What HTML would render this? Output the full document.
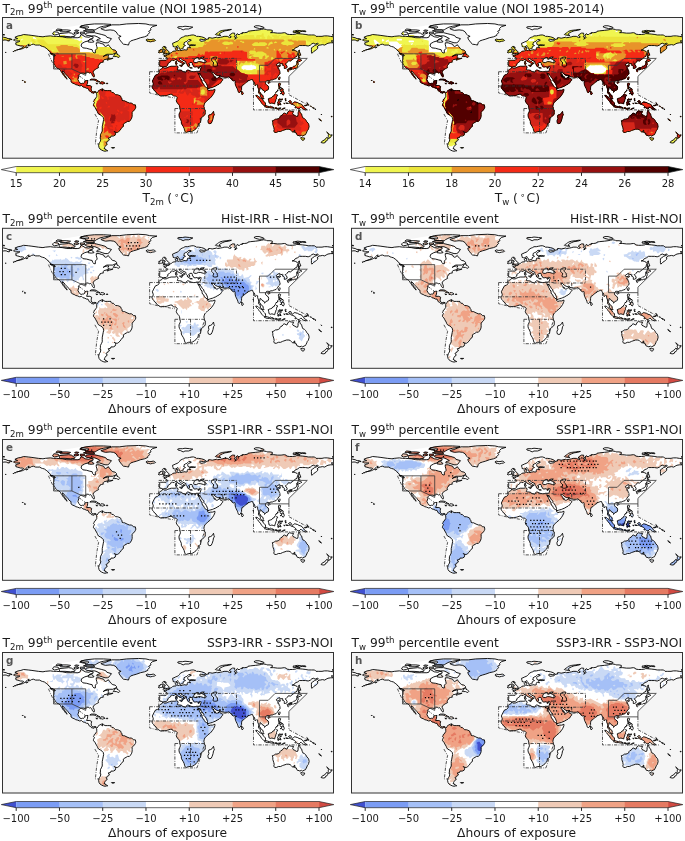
<!DOCTYPE html><html><head><meta charset="utf-8"><title>Irrigation heat exposure maps</title><style>html,body{margin:0;padding:0;background:#fff;width:685px;height:841px;overflow:hidden}svg{display:block}text{font-family:'DejaVu Sans','Liberation Sans',sans-serif;fill:#1a1a1a}</style></head><body><svg width="685" height="841" viewBox="0 0 685 841"><defs><clipPath id="land" clipPathUnits="userSpaceOnUse"><path clip-rule="evenodd" d="M-336 -131l3-2 6-1-6-3 7-3 6-1 6-2 10 1 8 1 14 2 10 1 5-1 11-1 7 1 7 0 12 1 10 2 12 0 12 0 4-1 3-6 4 2 5 3 8 1 4-2 5 1 0 3-7 2-4 4-7 2-7 4-1 5 4 4 8 1 7 2 5 1 1 4 3 3 3 0 0-4 0-2 4-4-1-4-1-4 0-4 6 0 6 2 4 1 1 3 3 2 3-1 3-3 2 3 4 4 1 2 3 2 5 1 3 3 0 2-2 1-6 3-8 0-5 0-4 2-4 3 4-2 5-1 3 0-1 3-1 1 2 2 4 1 3 0 2-1 0 1-7 2-5 2 0-2 3-2-3 1-3 1-4 1-2 2 0 2 1 1-1 0-4 1-3 1 0 2-2 1-1 2-1 2 1 3-4 2-3 2-4 3-1 3 2 4 1 4-1 3-1-1-2-2-1-2-1-3-2-2-3 1-2-2-4 0-2 1 1 2-2 0-3-1-4 0-3 0-3 3-2 2 1 2-1 4-1 3 2 4 2 3 3 2 3-1 3 0 2-2 0-3 4-1 3 0-1 3 0 3-1 2-1 3 3 0 4 0 4 2-1 4 0 4 2 3 2 1 4-1 3 1 1 1 1 1 2-3 1-2 2-1 4-2 3-1-1 3 1 1-1 1-1-2 4-1 3 2 5 0 4 0 4 0-1 1 3 3 3 0 3 3 2 2 4 0 3 1 4 2 1 3 2 3 0 3 3 1 2 0 6 3 5 2 5 0 4 4 4 0 1 5-1 3-2 3-3 3-2 2 0 5 0 4-1 4-3 5-2 2-4 0-3 2-4 2-2 2 0 5-3 2-2 3-2 3-3 3-3 2-3 0-4-2 3 3 0 2-1 3-4 2-5 0-1 3-5 1 2 3 1 1-3 1-1 3-4 2 3 4-3 2-2 3-1 2 1 2-2 0 2 2 3 1 3 2-2 0-4 1-4-1-4-2-3-2-2-3-1-5 1-4 1-2 2-3 1-5-2-1 1-3 0-5 2-4 2-4 0-5 0-5 1-5 1-5 1-5-1-5-2-2-4-3-4-2-2-3-1-3-3-5-2-4-3-3 0-3 1-2 1-2-2-2 1-2 1-3 2-1 1-2 2-3 0-3 0-3-2-2-1-2-2 1-1 2-2-1-3 0-2-3-3-1-1-2-2-4-3 0-4-2-4-1-3-3-4 1-5-2-4-1-3-2-3-1-4-3 0-2 0-3-2-1-3-3-2-3-2-2-2-2-2-2-2-3-4-3 1 4 2 2 1 2 2 3 2 2 1 3 2 2-1 0-3-3-1-1-1-3-3-2-1-2-2-3-2-3-1-2-3-3-2-1-2 0-1-2-3-3-1-2-1-2-2-3 1-3-1-2 1-4 0-2 0-2-1-3 3 1 1-2-3-2-2-1-4-1-2-2-2-3-3-2-1-2-3-2-4-3-4-1-3-1-3-2-4 0-5 0-5-2-4 1-3 2-4 1 2-4-3 1-3 3-1 2-4 2-4 2-5 1-5 1-3 1 4-1 5-2 4-2 3-3-3-1-4 0-3-1-4-1-3-1 1-2-2-1 3-2 4-1 3-2-1 0-3 0-4 0-2 0-2-1zM-146 -156l8-2 8-3 8-3 16 0 16-2 26-1 16 1 8 2 16 1-10 3-4 4 1 3-5 3 2 3-4 4 0 2-7 3-9 2-8 3-7 2-6 2-3 3-2 6-4-1-7-1-3-3-3-4-3-4-1-4 5-2-5-2-2-2-2-3-2-3-5-3-8-1-10 1-7-2zM-123 -134l-3 4-3 4-3 1-5 0-6-2-6-2-6 0 1-3 7-2-5-3-7-3-7 0-10-1-4-2 2-3 8-1 10 0 8 2 8 2 7 2 3 2 1 2zM-158 -153l-10 0-11 0 0-4-7-2-4-2 10-3 20-2 20 0 16 1-4 2-12 2-8 2-4 2-4 2zM-160 -149l-16 0-8-2 8-2 12 0 4 2zM-237 -142l3 3 10 0 12 1 9-1 1-2-4-2-4-3-6-1-10 1-10 1zM-251 -144l4 2 6-1 4-2-2-3-9-1-2 2zM-234 -149l12 0 8-1 2-2-8-1-10 0-6 1zM-194 -146l-7 2-4-2 3-2 7 0zM-181 -145l-9 1-1-4 9 0zM-196 -150l-7-1 2-2 7 1zM-174 -157l-10 0-8-2 4-3 13 1 3 2zM-230 -152l-14 0 4-3 9 1zM-161 -127l-6 1-7-1 2-4 5-1 4 2zM-119 -95l2-3 2-3 2-2 2 0 0 3 3 1 2 2 1 2-2 2-3-1-2-1-5 0zM-257 -102l5 3 5 2-1-2-3-2-4-1zM-170 -44l3-2 4 0 3 0 4 1 4 3 4 2-3 0-4 0 0-1-2-2-4-1-3 0-3 0zM-149 -37l3-3 4 0 3 1 2 2-3 1-3 1-2-1-3 0zM-157 -37l4 1-1 0-2 0zM-134 -37l3 0 0 1-3 0zM-312 -41l2 1-1 2-1-1zM-317 -43l2 0-1 1zM-11 -72l-2-1-2-1-3 0 0-3-1 0 1-3 0-4-1-2 3-1 7 0 5 0 2-2 0-3-2-2-5-2 0-1 3-1 3 1-1-2 2 0 2 0 3-1 0-2 3-1 2-1 2-2 3-1 4 0 1-2-2-2 0-2 1-1 4-1 0 2 1 0-2 2 0 2 2 1 3-1 3 1 4-1 5-1 2 1 3-1 0-3 1-2 2 0 4 1-1-2-1-1 0-2 5 0 4 0 4-1-2 0-5-1-7 1-3-2 0-2 0-2 2-2 5-2 1-1-3-1-3 0-2 2-2 2-3 1-3 2 0 2-1 2 3 1 1 1-2 1-3 2 0 3-1 1-3 0-1 1-2 0-1-2-1-2-2-2-1-2-1 1-3 2-3 0-3-1 0-2-1-3 0-2 3-1 4-2 3-1 3-2 2-2 2-3 4-2 3-1 3-2 5 0 5-1 5-1 4 0 5 2 1 1 4 0 7 1 6 2 3 2 0 1-5 1-7-1-1 2 1 2 4 1 2-1 4 0 1-2 4-2 3 0 0-3 4 0 4 1 10-2 2 1 6-1 5-1 3-1 7 0 4 2 1 1 3-1 1-1-4-2 0-2 3-2 3-2 5 0 0 3 1 2-2 3 3 1 0 2-2 2 4-2 1-2-1-1-1-2 0-2 3-3 1 2 4 0 2-2 4 0-1-2 6 0 6-1 1-2 6-1 10-1 8-1 5-1 5-1 6 1 1 1 7 0 5 1 0 3-4 2 7 0 8 1 8 0 7-1 4 1 1 2 6 1 7 0 7-1 2-1 12 1 8 1 5 1 7 0 7 0 3 3 6 0 7 0 5-1 7 0 6 1 7 1 0 8-3 1-2 0 3 2 1 2-5 0-6 1-4 2-3 2-5-1-5 1-3 0-1 2-3 2 2 1-1 3-2 2-3 2-3 2-4 4-1-3 0-5 0-4 3-2 4-3 5-2 3-2-2-1-5 2-3-2-4 1-3 3-5 2-6-1-6 0-7 0-4 3-5 2-3 4-4 1 4 0 3 1 4 2 2 2-1 2-1 4 0 2-4 2-4 4-3 2-4 3-3-1-2 1-2 3-2 2-2 1 2 2 2 3 0 3-4 2-2 0 0-3 0-2-1-1-2-1-1 0 1-3-1-1-4 1-2 1 0-1 1-2-2-1-3 2-3 2-1 1 3 2 0 1 4-2 3 1-3 2-2 1-2 2 3 1 1 4 2 2-1 1 1 3-1 2-2 2-2 3-2 3-2 2-3 1-3 1-2 1-3 0-3 1-1 2-1-2-2 0-2 0-2 2-1 2 0 2 1 2 2 2 3 2 1 4-1 4-2 1-3 1-3 4 0-2-1-2-3-1-1-2-2-1-1-2-2 0 0 3-1 3-1 3 3 1 0 3 2 0 1 2 3 2 0 4 2 3-2 0-3-1-1-2-2-2 0-3-1-2-1-1-2-2 0-2 0-3 0-3-2-5 0-4-2-1-2 2-2 0 0-3-1-4-2-1-1-2-1-3-3 0-2 1-2 1-3 0 0 2-4 2-2 2-3 3-2 1-2 1-1 5 0 4-1 2-2 3-2 2-2-2-1-3-1-3-1-2-2-4-1-2-1-5 0-4-1-2-1 1-2 0-4-3 2-1-2-1-3-1-2-3-4 1-6 0-4-1-4 0-1-3-3 0-2 1-2-1-4-2-3-3-1-1-3 0 0 2 1 1 2 2 1 2 0 2 2 1 0-2 1 2 0 1 2 1 3 0 3-3 2-1 0 2 1 2 3 1 3 2-2 2-2 3-1 2-2 1-2 2-4 2-3 2-5 2-2 1-4 1-3 1-3 1-1-2 0-3-1-3-2-4-2-3-3-3 0-3-3-3-2-3-2-3-1-2-1-2-1 3-1-1-2-3 0 1 1 2 2 3 1 3 2 3 0 2 3 2 0 3 1 4 2 1 2 4 1 2 2 1 3 3 2 1-1 2 3 2 4-1 4 0 3-1 2-1 0 3-1 3-2 4-2 3-3 4-3 3-4 3-3 3-2 2-2 2-1 3-1 4 1 3 0 4 2 1 0 5 0 4-2 3-4 3-2 2-3 2 1 4 0 4-2 2-3 1 0 3-1 3-2 2-2 3-4 3-3 2-3 1-3 0-3 0-5 2-2-1-1-1-1-3-1-4-2-4-2-3-2-4 0-4-2-5-2-3-1-4 0-4 2-4 1-3-1-5-1-6-1-2-2-2-3-4-1-3 1-3 1-4-2-2-1-1-3 0-2 0-2-2-1-2-4 0-3 1-3 1-3 1-4 0-3 0-4 1-3-1-5-4-2-1-1-3-3-2-2-3-2-2-1-2-1-2 2-3 1-4-1-3-1-3 2-4 2-4 3-5 4-1 3-3 1-2-1-3 3-3 3-1 2-3 0-1 1 0 2 2 5 0 2-1 2-1 3-1 4-1 4 0 4 0 4-1 2 1 1 0-1 1 1 2-1 2-1 2 2 1 3 0 5 1 1 2 4 1 3 1 2-1 0-2 3-2 3 1 4 2 5 1 4 0 3-1 3 0 4 0 1-2 1-3 1-3 0-1 0-1-1 0-2-1-2 2-2 0-4-1-2 1-3-1-1-1 0-2-2-1 1-1-2-1 1-1-1-1 0-1-2 0-2 0-1 1-1 0-1 2 2 1-1 0 2 2-2 0 0 3-1 0-2-1-1-2 1-1-2-1-1-1-1-2 0-3-2-1-2-1-3-1-2-2-1-1-2-1-2 0 0 2 2 2 2 2 3 1 2 2 3 2-3-1-1 2 1 1-1 1-2 1 1-2-1-2-1-1-2-1-2-1-4-2-1-1-1-2-2-1-3 1-2 2-3-1-2 0-2 1 0 2-2 1-2 2-3 2 1 2-1 0-1 2-2 2-5 0-1 0zM-11 -100l3-1 2 0 4-1 5 0-1-2 1-1-2-1-1-1-1-2-2-1-1-2-1 0 1-3-4 0 2-2-4 0-1 1-1 2 1 1 0 2 1 1 0 1 3-1 1 2 0 1-3 0 0 1 1 1-2 1 2 1 2 0-3 1-1 1zM-12 -104l0-3 0-1 1-1-1-1-3-1-2 1 0 2-3 0 0 1 1 2-2 1 2 1 3-1 2 0zM-45 -128l1-1-4-2 3-2 4 1 4 0 5-1 3 1 2 2-2 1-5 1-4 1-4-1zM22 -157l5 1 6 3 4-2 8 0 5-2 4-2-7-1-10-1-5 1-8 0-3 1zM103 -143l3 1 6 1 3 0-4-2 1-2 3-2 4-2 5-2 8-1 6-2-4 0-6 1-9 1-7 2-2 2-3 2-2 1zM191 -158l8 2 10-1-1-2-10-3-7 0-4 2zM272 -148l8 1 7 1-3-3-7-2 5-1 9 1 8 0 1 2-8-1-7 2-7-2-5-1zM357 -142l3-1 0 1zM-360 -142l0-1 4 0 1 1zM-360 -130l3-1 5 0 4 2 3 0-1-2 4-1 3 0-4-2-5 0-4-2-5-1-3-1zM262 -68l1-1 3-2 4 0 2-2 2-2 1 1 2-1 2-2 1-3 0-2 3-1 0 3 1 1-2 3 0 2-1 3-1 1-2 0 0 1-3 0-1 0-2 2-2-2-2 0-3 1zM259 -67l1 2 0 2 2 1 1-1 0-2 0-2-1-1-2 1zM265 -66l1 0 3-1 0-1-2-1-2 1zM280 -83l2-1 2-1 3 1 2-2 2-1-2-1-3-1-2-2-1 2 0 2-2 1-1 1zM284 -92l3-1-2-2 1-3 3 0-2-5-1-3 0-3-2 1 1 4-1 2 0 4 0 2 0 3zM240 -46l1-3 2-2 1 2-1 3-1 2zM217 -38l2-2 2 0 1 1-2 2-2 0zM240 -33l1-4 2 0 2 1-1 3-1 2 0 3 2 0 3 2 0 1-2-2-4 0-1-1 0-3zM244 -14l2-2 2-1 3-3 2 5-1 2-1 2-3-2-1-2zM244 -21l2 3 3-2 2-2-1-3-2 0-2 2-2-1zM234 -17l4-3 1-3 0 2-4 4zM241 -27l2 1-1 2-1-1zM191 -11l4 1 2 2 4 3 2 1 3 3 2 3 2 2 2 2 0 4 0 2-3 0-2-2-3-3-2-3-1-2-3-3-1-2-2-2-2-2-2-3zM210 14l2-2 3 0 2 1 4 1 2-1 2 1 4 1 0 2-4 0-4-1-5 0-3-1-2-1zM218 -3l1 4 1 5 3 1 3-1 3 1 3 1 1-4 1-2 1-4 1-1 0-3 1-3 2-2-3-1-2-2-2 1-1 3-3 1-2 3-3 1-3 1zM239 11l2 0 0-4 1 2 4 1-2-4-1-2 2-2 2 0-4 0-3-3 2-2 4 1 3-1 0 2-4 0-3 0-2 2 0 1-1 2-1 2 1 1zM255 -4l1 0 1 1-1 2 1 2-1 1-1-3zM256 6l3 0 3 1-3 0zM252 6l2 1 0 1-2-1zM262 3l2-2 3 0 1 1 0 3 2 2 3-2 3-2 2 1 4 1 3 2 4 1 3 2 1 2 2 1 1 3 3 2 3 2-3 1-4-1-3-2-3-3-2 2-2 2-3-1-3-2-2 1-1-2 2-1-3-3-5-2-3-1-1-1-2-1 2-1-2-1zM297 11l3 0 3-2 1 0-1 2-3 1-3 0zM302 5l2 2 2 2-1 1-2-3zM160 -16l0-4 2 2 2 3-1 2-2 1-1-2zM99 24l1 5 1 3-2 2-1 6-2 6-2 4-3 1-3-1-1-3 0-3 2-4-1-5 1-3 4-1 3-2 1-2zM227 44l1 5 0 4 2 6 1 5-1 3 2 3 4 0 4-2 5 0 4-2 3-1 6-2 5 0 3 1 2 2 3 3 1 1 1-3 3-2-1 3 0 2 1-2 1 3 2 0 1 3 1 2 4 1 2 1 3-2 1 1 2 1 3-2 3-1 1-2 2-4 1-3 2-2 1-3 1-4-1-5-1-2-3-3-1-2-2-3-2-2-4-2-1-3-1-3 0-2-3-2-1-3-2-4-1 3-1 3 0 4-1 4-3 0-3-2-4-2-1-2 1-2 1-3-1 0-3 0-4-1-1 0-3 2-2 5-2 0-3-2-2 0-2 2-2 3-2 0-2 2-1 3-3 2-3 1-3 0-3 2-2 1-1 1zM289 81l4 1 4 0 0 2-1 2-2 1-2 0-2-3-1-1zM345 69l2 1 2 2 2 2 1 1 2 1 3-1-1 3-2 1 0 1-2 2-2 1-1 0 1-2-1-2-1-1 1-2 0-2-2-3zM345 81l3 1 0 2-1 2-1 2-3 1-1 3-3 1-2 0-4-1 1-2 3-2 4-2 1-2 2-1zM328 40l3 2 3 3-1 0-4-3zM355 35l2 0 0 1-2 0zM333 30l1 1 0 1zM-123 103l6 0 1 0-2 1-4 0zM185 -25l1-2 0 4zM65 -70l1 1 3-2-3 0zM47 -71l2 0 4 1-2 0-3 0zM25 -76l2 0 4-1-1 4-2-1zM17 -78l-1-4 2 0 2 1-1 3zM17 -83l0-2 2-1 0 2-1 1zM229 16l2 1-1 1zM232 17l2-1 4 1 0 1-5 0zM240 17l3 0 3 0-5 1zM238 19l2 0 2 1-2 1zM247 20l2-1 2-2 4 0-3 1-3 2zM311 12l1 1 0 1-2-1zM314 16l4 1-1 1zM320 19l2 1-2 0zM-333 -107l2-1-3 0zM-337 -106l2 0-1-1zM-354 -104l2 0-1 0zM-308 -114l3-2 0 1-3 1-1-1zM56 -83l2 1 4 0 4-2 4 0 4 1 3 1 6-1 0-2-3-2-3-2-2-1-2-1 3-1 3-2-4 0-4 1-1 2 3 0-3 1-3 1-2-2 2-1-2-1-3 0-2 1-1 2-2 1-1 3 0 1z"/></clipPath><clipPath id="frame" clipPathUnits="userSpaceOnUse"><rect x="-360" y="-180" width="720" height="306"/></clipPath></defs><text x="2.6" y="12.7" font-size="12.3">T<tspan font-size="8.6" dy="2.6">2m</tspan><tspan dy="-2.6"> 99</tspan><tspan font-size="8.6" dy="-4.3">th</tspan><tspan dy="4.3"> percentile value (NOI 1985-2014)</tspan></text><g transform="translate(168.000 100.250) scale(0.459722)"><rect x="-360" y="-180" width="720" height="306.05" fill="#f5f5f5"/><path fill="#fff" d="M-11 -72l1-2 10-8 6-6 14-2 5-2 15 6 8 2 6 2 19 7 0 9-5 5-28 2-20-5-20-6-11-1zM53 -80l7 0 0-3-7 0zM54 -81l30 0 0-14-30 0zM92 -73l18 0 0-22-18 0zM115 -86l9 0 0-7-9 0zM64 -61l7 0 16 36-2 1-11-12-10-20zM95 -61l5-1 14 7-1 7-11 1-7-9zM18 -107l43 0 0-26-21 0-12 17-7 0-3 4zM64 -127l26 0 0-7-26 0zM-196 -62l34 0 1 12-5 5-7 2-2 5-9 4-12 0zM-192 -132l40 0 0 30-40 0zM-172 -126l28 0 0-16-28 0zM-252 -138l60 5 28-5 12-7-8-7 16-5 20-7-8-3-52 2-40 7-28 3zM-260 -101l15 33 11 0-12-28zM199 -76l19 0 15-15 70 0-40 39 0 12-64 0zM186 -40l77 0 0 28 57 31 0 2-134 0zM-40 -62l0 46 20 5 35 6 1-4-48-11-4-20 8-16 8-6zM15 18l65 0-17 53-48 0zM-20 -62l0-29 100 0 0 29zM80 -91l69 0 0 30-69 0zM-260 -101l15 33 36 0 30 14 0-47zM-159 30l8 14-4 22-3 29 10 0 2-25 5-34z"/><g clip-path="url(#land)"><rect x="-360" y="-180" width="720" height="320" fill="#ffffff"/><path fill-rule="evenodd" fill="#f0f550" d="M359 128l-718 0-1-1 0-306 1-1 84 0 1 1 0 26 2 2 0 4 5 5 1-1 0-24-2-2 1-3 19 19 3 11 20 0 4 4 4 0 2 2 4 0 2 2 4 0 2 2 4 0 8 4 2-4 3 5-6 4 0 18 1 1 30 0 1-9 3-3 38 0 6-6 4 2 14 14 12 6 8 8 2 0 10 8 3-5 0-4-2-2 0-12 2-2 0-8 2-2 0-4 4-8 15-11 8 0 9-5-2-2 0-12 2-4 15-15 7 1 0 18-2 2 0 12 7 1 2 2 18 0 8-6 2 0 2 4 2-2 8 0 2-2 10 0 2-2 6 0 8-6 2 0 7-7 2-4 0-8 3-3 16 0 3 5 0 4 2 2 2 10 5 5 24 0 11-11 0-4 2-2 0-6 3-3 6 0 3 7 4 4 0 2 11 13 20 0 2 2 2-2 24 0 7-7 2-4 0-4 2-2 0-4 3-5 14 0 1 5 2 2 0 6 13 13 20 0 2-2 6 2 17-17 2-6 3-3 36 0 1 1 0 306zM-97 -168l-4-4-1 3-3 1-5-5 0-4-2-2 1-1 14 0 1 1 0 10zM-37 -168l-54 0-1-1 0-10 1-1 38 0 1 5 5 5 2 0 3-7 3-3 6 0 1 3zM-304 -145l0-16-1-1-1 1 0 16 1 1zM-153 -144l-1-3 3-1 1 1zM-187 -134l-5-1 0-2 3-3 3 3zM-286 -133l-5-5-3 1 1 3 4 0 2 2zM-115 -128l-5-5 3-3 3 1zM-330 -129l0-4-1-1-3 5 1 1zM-318 -131l1-1 3-1-3-1-3 3 1 1zM-179 -120l-3-1 1-7 3 5zM-296 -123l-1-3-3 1 3 3zM184 -67l7-1 1-5-5-3-4 0-2-2-2 2-14 0-5 3 0 4 5 3 2-2 4 2 12 0z"/><path fill-rule="evenodd" fill="#ebe43a" d="M107 -150l-21-21 0-6 3-3 7 1 12 24zM329 -142l-3-1 0-16 2-2 1-7 1 1 0 24zM337 128l-366 0-1-7-2-2 0-6-3-5-12-6-4 0-2-2-4 0-2-2-4 0-8-4-6 0-8-4-32 0-6 4-4 0-6 6-8 0-1-3 2-4-9-1-3 3 0 4-3 3-52 26-152 0-1-1 0-268 5-1 4 4 6 0 3-7 1-1 1 1 0 16 2 4-4 6 3 3 2 0 4-4 54 0 1-3-6-4 0-4 1-1 12 0 10 10 62 0 4 4 3 1 0 12 1 1 30 0 1-5 1-1 2 2 1-1 0-2-4-2 3-3 2 0 4 6 3-1-2-4 1-1 18 0 1 1-4 2 3 1 2-2 10-2 6-6 4 2 14 14 12 6 8 8 2 0 10 8 3-5 0-4-2-2 0-12 2-2 0-8 2-2 0-4 4-8 7-5 2 2 6-4 4 2 1-5 5-3 3 1-2 4 1 5 2 0 12-12 4 2 4 0 3 5 0 4 10 10 0 8 7 1 2 2 7-1-2-2 0-6-2-2 1-3 20 0 2 4 2-4 18 0 2 2 8 0 4 2 3-3 1-5 10 0 1-1-3-3-6 2-3-3 0-10 2-2 1-7 3 1 2 10 4 4 1 3 4-4 4 4 2-2 46 0 1 3-3 3-4 0-1 1 1 1 6 0 4-8 12 0 2-2 20 0 1 5 3 1 2-6 10 0 2-4 3 1 0 6 4 2-2 2 5 3 1-7 3-3 4 4 2 0 2 4 3-1 0-2-4-2 1-3 10 0 2 2 2-2 4 0 1 1-4 2 1 5 4-6 18 0 1 1-2 2 1 3 2 0 4-6 4 0 2 2 2-2 4 0 2 2 2-2 26 0 2 2 4-2 16 0 2 2 2-2 2 2 2-2 6 0 1 1-2 2 1 3 2-2 4 0 1-3 3-1 1 1 0 12-1 1-1-1-1-5-3 7-3 3-5 1 11 23 1-7-4-8 0-8 1-1 5 1 0 24-2 2 2 2 0 30-1 1-1-3-4-4-14-30-12-12 5-1 2 2 3-3 0-4 2-4 4-2-3-1-4 2-3-3 2-2-1-1-4 0-2 4-4-2-4 0-2 2-6 0-6-4-4 0-2-4-5 1 4 2 0 6 4 2-2 2 0 8-2 2 0 4 1 1 4-2 5 1-1 3-9 1 2 2 0 4 3 1 6-6 6 0 17 17 0 2 6 6 0 2 6 6 0 2 14 16 0 124-1 1-18 0-1-1 4-2 0-4-9-9-6 2-3 3-2 4 0 4-4 4 0 2 10 10 0 6-20 20 1 3 21-21 1-3 5 3 0 30zM133 -150l-3-1 1-3 3 1zM291 -148l-3-1 0-2 3-3 1 1zM177 -144l-1-3 2-4 3-1 1 3zM-315 -144l-3-1 1-5 3 3zM104 -133l2-2-1-3-2 2-5 1 1 3zM140 -133l-1-5-7 1 3 1 4 4zM204 -135l-1-3-3 1 1 3zM-115 -128l-5-5 3-3 3 1zM55 -134l-4 0-1-1 5-1 1 1zM132 -133l-1-1-5 1 1 1zM258 -133l-1-1-5 1 1 1zM316 -131l-1-3-2 0-3 3 1 1zM336 -131l-1-3-2 2-5 1 1 1zM-291 -124l-7-7 1-1 6 0 1 3 4 2zM350 -129l-1-3-3 1 1 3zM44 -119l2-2-1-1-3 1 0 2 1 1zM-250 -107l1-1 3-1-5-1-1 3 1 1zM-120 -107l-1-3-3 1 1 3zM20 -93l-1-3-7 3 1 1zM-74 -63l-31-31-1 1 0 2 29 29zM192 -65l6-2 0-6-7-5-8 0-4-4-2 4-12 0-6 4-2-4-1 1 2 4 0 4 7 5 2-2 2 2 12 0 8-4 2 4zM184 -57l-5-3-1 1 1 3zM-154 17l-2-4 0-10 4-4-2-4 2-2-1-7-3 1 0 6-2 2 0 6-2 2 0 8 5 7zM-140 69l0-8 2-2 0-6 2-2 0-4-2-2 0-8-11-13-1 1 4 6 0 4 6 10 0 14-2 2 0 8 1 1zM-121 112l-3-1-2-4 1-3 5 1zM-141 114l-1-3 3-1 1 1z"/><path fill-rule="evenodd" fill="#e8942a" d="M253 128l-282 0-1-7-2-2 0-6-3-5-12-6-4 0-2-2-4 0-2-2-4 0-8-4-6 0-8-4-30 0-1-3-5-5-2 0-4 4-2-2-10 0-4 2-2-2-4 0-2-4-32 0-2-2-8 0-2-2-6 0-2-2-8 0-2-2-8 0-2-2-8 0-2-2-8 0-2-2-6 0-2 2-12 0-50 60-46 0-1-1 0-242 3-1 3-3 0-2-6-8 3-1 2-4 4 12 3-3 0-4-2-2 1-1 10 4 1 3-4 6 3 3 2 0 4-4 30 0 2 2 2-2 18 0 4 8 3-3-4-4 3-1 4 4 6 2 4 4 6 2 4 4 12 0 2 2 1-1-8-14 9-1 2-2 14 0 2 2 10 0 2 2 6 0 4 2 3 3 1 7 20 0 2 2 6 0 2 2 10 0 2 2 12 0 2 2 10 0 1 1-1 7-10 0-1 1 12 2 4 8 2 14 5 3 6 0 6 4 10 2 2 2 8 0 3-7 4-4-30-30 0-6 6-6-1-1-4 2-16 0-1-1 0-10 7-7 4 2 14 14 12 6 8 8 2 0 10 8 3-5 0-4-2-2 0-12 2-2 0-8 2-2 0-4 5-5 6 0 4 4 1-1-2-2 1-3 4 0 2 2 4-4 4 4 4 0 5 5-6 6 7 7 2 0 1-5-4-4 0-2 10-12 0-2 4-4 1-3 3 3 0 4 10 10 0 8 7 1 2 2 6 0 2 2 16 0 2-2 22 0 2-2 8 0 4-6 2 2 3-3-1-1-2 2-3-3 3-3 6 2 8-6 48 0 2 4 3-1-2-2 1-1 104 0 3 3-7 3-1 3 5 3 6 0 2 2 4-2 6 0 5-3 0-2-5-3-6 0-3-3 1-1 8 0 2 2 8 0 2 2 2-2 16 0 1 1 0 28 2 2 0 4 3 1 6-6 6 0 17 17 0 2 6 6 0 2 6 6 0 2 14 16 0 120-1 1-3-1 0-8 2-2-1-5-3 1-6 12 2 2-1 5-3-7-3-1-8-8-6 2-5 7 0 4-8 10 0 4-2 2 0 6-2 2-1 7-14-14-6 0zM114 -129l-1-1-5 1 1 1zM166 -125l-1-3-4 0-2-2-3 3 5 1 2 2zM134 -121l7-1 1-3-5-3-4 2-4-2-6 0-5 3 0 2 5 3 10 0zM220 -119l3-3 5-1 0-2-3-3-5 3-2 4 0 2 1 1zM238 -125l-3-3-2 0-3 3 1 1zM212 -119l3-1 1-3-5-3-12 0-2 2-2-2-6 0-7 5 3 3 26 0zM0 -103l4-2 2-6-1-1-4 4-1-3 2-2-5-1-4-6-5 5 0 2 3 3 4-2 3 3 0 6 1 1zM130 -113l-1-3-3 1 1 3zM220 -113l-3-3-3 1 1 3zM298 -109l0-6-3-1-1 5 3 3zM190 -111l-1-3-3 3 1 1zM274 -111l-1-3-3 1 3 3zM234 -109l-3-3-1 1 1 3zM246 -109l-1-3-2 0-3 3 1 1zM260 -107l-3-3-1 1 1 3zM216 -91l0-2 3-1 1-3-3-1-2 2-1-5-9-5-10 0-2 2-4-4-10 0-3 3 2 4-2 2 1 1 2-2 9 1-12 4 0 2 5 3 1-1-2-2 3-3 4 2 10 0 2 4 6 0 1-5 5-3 1 5-2 2 1 1zM-6 -103l-3-3-1 1 3 3zM20 -93l-1-3-7 1 1 3zM228 -89l2-2-3-3-2 0-1 5 1 1zM104 -79l2-2 0-6-7-1-1 7 3 3zM194 -57l0-8 7-1 2-6 3 3-2 2 3 1 1-5-2-2 4-2-1-1-4 2-10-6-4 0-1-1 2-2-3-3-5 1 4 2-1 1-4 0-2-2-4 2-4 0-2-4-6 6-6-2-4 6-1-5 2-4-1-1-5 1 2 4 0 6-4 4 0 2 11 9 4 2 4 0 2 2 24 0zM-200 -41l-3-3-1 1 1 3zM78 -13l2-2 0-6-3-3-2 0-3 3 0 4-2 2 5 3zM-154 17l-2-4 0-6 2-2-2-2 4-4 0-16-1-1-3 5-2 14-4 4 2 2-2 2 4 4-2 4 1 1 2-2 2 2zM58 5l2-4-3-3-1 1 2 2-2 4 1 1zM284 13l0-4-3-3-1 5 3 3zM278 13l-1-3-5 1 1 3zM-140 69l0-8 2-2 0-6 2-2 0-4-2-2 0-8-11-13-1 1 4 6 0 4 6 10 0 8-1 1-2-2-1 1 0 2 4 2-2 4 0 8 1 1zM298 87l-1-7-9 1 1 7zM-133 100l-7-1 0-10 1-1 7 1 0 10z"/><path fill-rule="evenodd" fill="#f42a16" d="M153 -114l-3-1 1-3 3 1zM253 128l-156 0-1-3-4-4 0-2-4-4 0-2-4-4 0-2-4-4 0-2-4-4 0-2-4-4 0-2-4-4 0-2-4-4-4-8 0-6-6-4 3-5 4 4 3-1 0-6-3-3-2 0-4 6-6 0-2 2-12 0-4 6-6 2-1 1 1 1 8 0 1 3-57 57-6 0-1-7-2-2 0-6-3-5-12-6-4 0-2-2-4 0-2-2-4 0-2-2-4 0-2-2-6 0-2-2-4 0-4-2-11-11 0-2-8-8-1-3-10 10-4 0-4-4-4 0-2-6-8 6-1-1 0-10 2-2 0-6 2-2 0-4-2-2 0-8-11-13-1 1 6 12 0 22 2 2-1 9-4 0-10-6-6 0-2-2-6 0-2-2-6 0-2-2-8 0-2-2-4 0-2 2-14 0-2 2-10 0-2 2-6 0-2 2-6 0-2 2-8 0-2 2-12 0-50 60-46 0-1-1 0-230 3-1 2 2 6 0 3-3 0-10 1-1 2 0 9 9-8 6 0 20 2 2 1 9 4-2 4 0 2-2 4 0 2-2 6 0 2-2 10 0 2 2 12 0 16-8 15-15 0-6 3-3 5 5-5 1-1 1 1 3 4-2 10 0 1-1-2-2 5-1 2 4 36 0 1 1-2 4 3 5 3-1-2-4 1-3 10 0 2 2 6 0 2 2 6 0 2 2 8 0 2 2 8 0 2 2 4-2 2 2 6 0 2 2 10 0 5 9 0 6 2 2 1 7 4 2 6 0 6 4 4 0 8 4 8 0 3-7 4-4-30-30 0-6 7-7 4 0 4 2 14 12 2 0 10 8 1-3 3-3 2 0 16-16 16 0 4 6 10 0 1 5 5 1 2 2 4 0 2-2 2 2 14 0 2-2 12 0 2 2 2-2 6 0 2-2 18 0 4-6 4 4 4-2 4 2 2-8 6 0 2 2 2-2 48 0 2-2 22 0 2 2 7 1 0 12 3 3 14 0 1 1-1 3-40 0-1 1 0 16 11 9 4 2 4 0 2 2 40 0 1-1 0-26 7-1 2-2 4 0 8-4 4 0 4 4 1-1-4-4 0-16 1-1 2 0 3 3 0 2 4 4 0 4 4 2-8 2 0 4 3 3 8-8 4 0 2 2 3-3-2-2 2-4-4-4 1-1 2 0 4 4 4 0 1-1-2-2 1-1 6 0 1 5 5 5 7-1-2-6 3-3 10 0 3 5 1 5 2 0 6-6 6 0 17 17 0 2 6 6 0 2 6 6 0 2 14 16 0 104-6 2-5 11-6 0-8-8-6 2-5 7 0 4-8 10 0 4-2 2 0 6-2 2-1 7-14-14-6 0zM57 -108l-3-1 1-3 3 3zM-111 -104l-3-1 1-3 3 1zM247 -100l-3-5 7-1 2-2 1 3-3 1zM-319 -84l-11-21 1-1 4 0 5 9 0 4 2 2zM7 -102l-3-3 1-1 3 1zM21 -100l-4 0-1-3 3-1 3 3zM116 -101l-1-3-3 1 1 3zM7 -94l-1-5 3-1 1 3zM272 -95l-1-3-3 1 3 3zM-226 -95l-1-1-5 1 1 1zM108 -75l0-20-1-1-14 0-1 1 0 12-12 2 1 3 10 0 2 4 14 0zM-208 -87l-1-7-7 1 1 7zM103 -88l-6 0-1-5 7-1 3 3zM282 -71l2-2 0-6-6-2 0-6 2-2-7-1-2-2-1 5 6 8 0 6 3 3zM292 -89l2-2-1-1-5 1 3 3zM262 -85l2-2-1-1-5 3 1 1zM-220 -79l-1-7-7 1 1 7zM-180 -83l2-2-1-1-7 1 5 3zM74 -77l2-4-1-1-4 2-2-4-4 0-1 1 2 2-1 1-7 1 1 3 14 0zM254 -81l-3-3-1 1 3 3zM322 -59l-1-3-2 0-6-6-2 0-10-8-8-4-7 1 3 1 8 8 24 12zM-172 -67l-1-3-2 0-3 3 1 1zM294 -33l18-6-29-29-4 2-4 0-1 5 4 6 0 6 2 2 0 4 4 8 5 3zM256 -55l5-5 3-1-5-3-1 3-4 4 0 2 1 1zM272 -57l-2-4-3-3-1 3 5 5zM-202 -55l-1-3-3 1 3 3zM-194 -41l0-2-4-4-1-3-4 2-2-4-3 1 0 2 4 2-3 3-2-2-1 1 0 2 3 3 12 0zM130 -27l0-6-3-5-9 1 11 11zM86 -11l-2-4 2-2-2-4 2-4 0-4-1-1-14 0-1 1 0 18 1 1 14 0zM-156 19l2-2-2-4 0-6 2-4 6-6 0-8-2-2-1-9-9 1 0 4 2 2 0 10-4 8 0 6 2 2 0 6 3 3zM180 -15l6-6-1-1-2 0-6 6-4-4-2 0-5 5 1 1 12 0zM266 -21l-1-1-10 0-1 1 1 1 10 0zM198 -11l2-2-3-3-3 5 1 1zM230 -5l-1-3-3 3 1 1zM78 9l-1-7-2 4-8-6-6 0-1-1 2-4-1-1-5 1 0 12 1 1 4-6 3 3-2 4 1 1 14 0zM72 -5l-1-1-7 1 1 1zM270 3l2-2-1-5-3 3 0 4 1 1zM260 1l-3-3-1 1 3 3zM272 15l1-1 18 0 1-7-1-1-18 0-1 5-2 2 0 2 1 1zM192 21l12-10-1-3-13 13 1 1zM232 13l-1-3-3 1 3 3zM262 17l-1-3-3 3 1 1zM96 43l0-10-3-1-1 9-2 2 1 1zM232 57l2-2-1-1-3 3 1 1zM45 72l-2 0-2-4-5-1 5-1 2-6 4 2 2-4 5 5-3 1-1 5zM300 77l0-4 4-6-1-1-4 2-6 0-3 3 0 4-2 2 1 1 4-2 4 2zM-145 80l-2 0-3-3 3-1 3 3zM-131 82l-2 0-5-5 5-1 4 2 1 1zM298 87l-1-7-9 1 1 7z"/><path fill-rule="evenodd" fill="#d5261a" d="M161 -104l-3-1 1-3 3 3zM123 -100l-1-1 1-5 1 1zM69 -90l-3-1 1-3 5 1zM79 4l-1-3 2-2 0-4-7-1-1-3 1-1 10 0 2 4 1-1 0-16 2-2-3-5-2 0-9-7 0-2-4-4 0-4-2-2-1-5-1 7 2 2-2 2 10 12-5 1-2 2-4 0-2 2-22 0-1 1 7 1 4 6 3-1-2-4 1-1 10 0 2 2 4 0 1 3-3 1-1 3 4 4 0 2-3 3-6 0-2-4-4 0-4-2-2-4-2 0-4 6-3-3-3-7-4 6-6 0-5-3 4-4-1-3-2 0-3 3-1 5-12 0-2-2-26 0-2-2-8 0-4 2-1-1 2-4-2-2 0-22-7-7-2 0-4-4-2 0-4-4-8-4-5-5 0-2 4-4 1-3 6 4 4 0 8 4 6 0 2 2 16 0 3 3 0 2-3 3-4 0-1 1 1 3 8 0 6-10 4 2 6 0 2 4 4 0 2-2 4 2 4-6 4 4 1-1-2-4 1-5 8 0 2 2 6 0 2 2 4 0 2 2 6 0 8 4 8 0 6-12 20 0 2 2 14 0 2-18 30 0 2-2 4 2 14 0 1 1-1 1-8 0-3 5 0 4-3 1-2 4-2-2-6 0-2 2-9 1 1 1 16 0 4 2 2 4 2 0 10 8 15 5 0 4 4 2 0 4-1 1-4-2-1 1 2 2-4 2 2 2-4 6 6 6-2 4-9 1-4 6-4-2-12 0-1-1 6-6-2-2 0-8 4-2-5-1-10-6-6 6-3-5 0-4-5-1-2 2-4 0-2 4-4-2-19 19 0 22-5 5-4 0zM-195 -58l-4 0-4-2-5-5 0-2 4-4-1-1-2 2-1-1 0-18 1-1 14 0 3 3 0 4 4 6 0 4-2 2 0 6-2 4zM-3 -68l-4 0-2-4-10 0-1-1 0-14 1-1 4-2 2 2 8 0 2 2 9 1 0 6-4 2 0 6zM223 -44l-1-5 4-4-2-2 0-6-1-1-2 2-2-2-3 3 4 2-3 3-2-2-4 2-1-3 4-4 1-3 9-1 0-8 2-2-3-3-1 7-5 1-1-3-6-6 5-3 4 2 4-4 2 0 2 4 4 0 2-4 10 0 1 1 0 4-2 2 2 2-1 3-4 2-6-4-5 3 5 1 2 2 6 0 4 4 4-2 3 5-5 1-2 4-8 0-1-3-3-1-1 3-4 4 0 4 2 2-5 1zM15 -72l-3-1 0-4 3-3 1 1-2 4 2 2zM-265 -34l-3-5 0-4 24-24 1-3 2 2 1-1-2-4 3-5 6 0 4 6 8 0 1 5-4 2 9 1 4 4 3 1 0 2-5 5-8 0-6-6-3-1-2-4 4-2-5-3-4 0-3 3 0 4-2 4zM-317 -42l-1-5-22-22 1-1 4-2 4 0 2-2 4 0 2-2 7 1 0 32zM7 -72l-3-3 1-1 5 1zM122 -75l-1-1-5 1 1 1zM211 -62l-1-1 1-9 3 3 0 4zM100 -67l-1-3-3 1 1 3zM-2 -61l-5-1-2-2-1 1 1 3zM-157 -60l-4 0-1-1 5-1 1 1zM244 -59l-3-3-1 1 3 3zM-197 -46l-1-1 1-9 5 5-3 1zM-181 -42l-1-3-4-4 0-2-4-4 1-1 4 0 1 5 4 2zM-209 -48l-1-1 1-5 1 1zM233 -50l-1-3 3-1 1 1zM10 -45l2-2-1-1-3 1 0 2 1 1zM237 -40l-1-1 1-5 3 3zM231 -36l-2 0-3-3 1-3 5 5zM203 -28l-6 0-3-3 0-6 3-3 6 0 3 3 0 6zM211 -28l-3-5 3-3 1 1zM-117 76l-4-6-6 0-1-5-4-4 0-4-6-2 2-4 0-4-2-2 0-8-11-13-1 1 4 6 0 4-6 6 3 1 3-3 0-2 1-1 1 1 0 16-5 1-6-4-6 0-2-2-4 2-3-1 16-16-2-6-6-4 3-5 2 2 3-3-2-4 0-4 2-2 0-4 6-6 0-10-2-2-1-7-9 1 0 4 2 2 0 6-2 2 2 2-1 1-6 0-3-3 4-4 0-10 2-2-2-2 5-1 2-2 6 0 8 4 2-2 4 0 1 1 0 12-2 2 6 4 1 7 3-3-2-2 1-3 14 0 2-4 2 4 10 0 26-26 1 3-10 16 0 16-5 3-4-2-1 7 2 2-6 4 5 1 2-4 2 2 3-3 0-2 1-1 1 1 0 12-1 1-2-2-1 1 0 2 4 2 0 22-5 1-1-3-5-3-2 2-6 0-1 3-3 1-4-2-2-4-3 7-5 1-3 3 4 2 0 4-1 1-2-2-5 1 3 3 4 0 3 3-2 2 1 1 3-1 1-9 2 0 1 5 4 2-6 2 0 6zM187 -24l-1-3 3-1 1 1zM-73 6l-6-2-1-5 10-20 3-3 1 3 4 4 0 2zM30 -19l4-2-1-3-2 0-3 3 0 2 1 1zM21 -10l-1-3 3-1 1 1zM-35 18l-5-7 0-4 16-16 0-2 3-1 3 3-6 6-8 18zM-140 -3l2-2-3-1-4-4-1 3 2 4 1 1zM17 -2l-3-1 1-3 3 1zM-161 2l-3-1 3-3 1 1zM-163 10l-1-1 1-5 1 1zM-132 7l-1-3-3 1 3 3zM-89 10l-3-3 1-1 5 1zM55 10l-3-1 1-3 3 3zM-161 16l-1-1 1-5 1 1zM-126 15l-1-3-2 0-3 3 1 1zM91 16l-6 0-5-3 1-1 12 0 1 1zM143 30l-40 0-1-3 5-1 26-14 11 15zM-146 19l2-2-1-3-2 0-3 3 1 3zM73 18l-2 0-3-3 5-1 1 1zM241 18l-4 0-1-1 5-1 1 1zM-152 25l0-4-1-1-3 3 3 3zM-106 25l0-2-3-3-3 1 5 5zM-100 29l2-4-5-1-1 3 3 3zM49 56l-20 0-1-1 0-6-2-2 1-1 4 0 2 4 3-1-5-5-5-1 0-6-2-2 0-6 2-2-2-2 1-1 28 0 1 1 0 8-1 1-4-2-3 3 8 2 0 16zM-110 31l2-2-1-1-3 1 0 2 1 1zM287 68l-4-2-8 0-2-2-18 0-2-2-12 0-5-5 2-4-3-3-2 2-5-5 0-8-6-6 0-2 1-1 18 0 4-2 2 2 10 0 2 2 2-2 8 0 2-2 6 0 2 2 4-2 3 3 0 4 2 2-2 6 3 1 2 4 2-4 1 5 2 2-3 1-4 4-2-2-1 1 0 2 4 2 0 4zM40 37l4-2-1-3-2 0-2 4-5 1 1 1zM-126 41l0-6-1-1-1 5-2 2 1 1zM161 64l-2-2-4 0-2-2-4 0-2-2-4 0-2-2-4 0-2-2-4 0-2-2-4 0-2-2-4 0-2-2-10-2-5-5 3-3 14 0 2 2 8 0 2 2 8 0 2 2 8 0 2 2 4 0 7 7 0 10zM-124 47l-1-1-5 1 1 1zM81 52l-1-5 3-1 1 3zM-97 54l-4 0-1-1 5-1 1 1zM-111 58l-3-3 1-1 3 1zM239 68l-3-3 1-3 3 3zM285 78l-1-3 3-3 1 3zM253 124l-1-5 2-4 29-29 4 0 1 3z"/><path fill-rule="evenodd" fill="#961010" d="M127 -78l-14 0-5-3 0-6 5-3 14 0 4 2 3 5zM137 -82l-3-3 1-3 9 1-3 1zM-197 -70l-4 0-1-3-4-2 3-5 7 1 2 4zM39 -24l-4 0-2-2-2 2-48 0-2-6-4 6-12 0-1-1 0-22-7-7-2 0-4-4-2 0-4-4-8-4-5-5 0-2 4-4 1-3 6 4 4 0 2 2 10 2 14 14 10 0 2-2 6 0 2 2 6-4 12 0 2-2 6 0 2-10 14 2 2 2 4 0 2 2 6 0 8 4 8 0 1 1-1 1-10 0-2-2-12 0-1 1 0 22-6 2 3 5 5-5 1-5 22 0 11 13-5 1-2 2-4 0-2 2-22 0zM89 -24l-3-3 0-2-3-1-5-5 3-1 2 2 4 0 3-3 0-6-3-3-6 0-3 3-1 7-7-7 0-4-2-2 0-16 2-2-2-4 3-5 20 0 2 2 14 0 2-2 6 0 2 2 24 0 6 6 2 0 10 8 15 5 0 4-2 2 0 4 2 2-9 5-8 0-2 2-2-2-8 0-10-6-6 6-3-5 0-4-5-1-2 2-10 2-12 12-2 0-1 3zM104 -67l-1-3-4-2-3 1 1 5zM26 -67l-1-3-3 1 1 3zM-225 -60l-3-1 1-7 3 1zM45 -58l-3-1 3-3 1 1zM55 -46l-6 0-3-3 0-2 3-3 6 0 2 2 2-4 1 5zM10 -43l5-1 1-3-5-1-2-2-3 5 3 3zM28 -45l2-2-1-1-4-2-5 1 1 5 4-2 2 2zM162 -45l-5-1-2-2-1 1 1 3zM6 -37l2-2-1-1-4 0-2-2-1 1 0 2 3 3zM157 -26l-2 0-3-3 1-3 7 1 0 2zM-117 50l-6 0-1-3 2-2-1-1-2 2-1-1 0-6 2-2 1-7 4 2 2-2 3 5 0 6-2 2 2 2-6 2 4 2zM275 60l-26 0-1-3-10-8 0-8 4-2-1-1-4 2-1-1 0-8 7-1 2 2 30 0 3 5 2 10 2 2 0 2zM43 50l-5-1 4-4-2-2 1-3 5 3 0 4zM260 55l6-4 0-6-3-3-2 0-3 3 0 10 1 1z"/><path fill-rule="evenodd" fill="#520000" d="M93 -60l-4-2-4 0-1-3 3-3 6 0 3 3 0 2zM107 -58l-3-1 3-3 1 1zM143 -52l-6 0-3-3 0-2 3-3 6 0 3 3 0 2zM15 -52l-3-1 3-3 1 1zM-13 -42l-2-2-6 0-3-5 3-3 4 0 2-2 14 0 5 3-1 7-4 0-2-2-4 2-1-1 2-4-7-1-1 1 4 4zM103 -42l-6 0-3-3 0-2 3-3 6 0 3 5zM-13 -34l-6 0-3-3 0-2 3-3 2 0 3 3 2 4z"/></g><path d="M-336 -131l3-2 6-1-6-3 7-3 6-1 6-2 10 1 8 1 14 2 10 1 5-1 11-1 7 1 7 0 12 1 10 2 12 0 12 0 4-1 3-6 4 2 5 3 8 1 4-2 5 1 0 3-7 2-4 4-7 2-7 4-1 5 4 4 8 1 7 2 5 1 1 4 3 3 3 0 0-4 0-2 4-4-1-4-1-4 0-4 6 0 6 2 4 1 1 3 3 2 3-1 3-3 2 3 4 4 1 2 3 2 5 1 3 3 0 2-2 1-6 3-8 0-5 0-4 2-4 3 4-2 5-1 3 0-1 3-1 1 2 2 4 1 3 0 2-1 0 1-7 2-5 2 0-2 3-2-3 1-3 1-4 1-2 2 0 2 1 1-1 0-4 1-3 1 0 2-2 1-1 2-1 2 1 3-4 2-3 2-4 3-1 3 2 4 1 4-1 3-1-1-2-2-1-2-1-3-2-2-3 1-2-2-4 0-2 1 1 2-2 0-3-1-4 0-3 0-3 3-2 2 1 2-1 4-1 3 2 4 2 3 3 2 3-1 3 0 2-2 0-3 4-1 3 0-1 3 0 3-1 2-1 3 3 0 4 0 4 2-1 4 0 4 2 3 2 1 4-1 3 1 1 1 1 1 2-3 1-2 2-1 4-2 3-1-1 3 1 1-1 1-1-2 4-1 3 2 5 0 4 0 4 0-1 1 3 3 3 0 3 3 2 2 4 0 3 1 4 2 1 3 2 3 0 3 3 1 2 0 6 3 5 2 5 0 4 4 4 0 1 5-1 3-2 3-3 3-2 2 0 5 0 4-1 4-3 5-2 2-4 0-3 2-4 2-2 2 0 5-3 2-2 3-2 3-3 3-3 2-3 0-4-2 3 3 0 2-1 3-4 2-5 0-1 3-5 1 2 3 1 1-3 1-1 3-4 2 3 4-3 2-2 3-1 2 1 2-2 0 2 2 3 1 3 2-2 0-4 1-4-1-4-2-3-2-2-3-1-5 1-4 1-2 2-3 1-5-2-1 1-3 0-5 2-4 2-4 0-5 0-5 1-5 1-5 1-5-1-5-2-2-4-3-4-2-2-3-1-3-3-5-2-4-3-3 0-3 1-2 1-2-2-2 1-2 1-3 2-1 1-2 2-3 0-3 0-3-2-2-1-2-2 1-1 2-2-1-3 0-2-3-3-1-1-2-2-4-3 0-4-2-4-1-3-3-4 1-5-2-4-1-3-2-3-1-4-3 0-2 0-3-2-1-3-3-2-3-2-2-2-2-2-2-2-3-4-3 1 4 2 2 1 2 2 3 2 2 1 3 2 2-1 0-3-3-1-1-1-3-3-2-1-2-2-3-2-3-1-2-3-3-2-1-2 0-1-2-3-3-1-2-1-2-2-3 1-3-1-2 1-4 0-2 0-2-1-3 3 1 1-2-3-2-2-1-4-1-2-2-2-3-3-2-1-2-3-2-4-3-4-1-3-1-3-2-4 0-5 0-5-2-4 1-3 2-4 1 2-4-3 1-3 3-1 2-4 2-4 2-5 1-5 1-3 1 4-1 5-2 4-2 3-3-3-1-4 0-3-1-4-1-3-1 1-2-2-1 3-2 4-1 3-2-1 0-3 0-4 0-2 0-2-1zM-146 -156l8-2 8-3 8-3 16 0 16-2 26-1 16 1 8 2 16 1-10 3-4 4 1 3-5 3 2 3-4 4 0 2-7 3-9 2-8 3-7 2-6 2-3 3-2 6-4-1-7-1-3-3-3-4-3-4-1-4 5-2-5-2-2-2-2-3-2-3-5-3-8-1-10 1-7-2zM-123 -134l-3 4-3 4-3 1-5 0-6-2-6-2-6 0 1-3 7-2-5-3-7-3-7 0-10-1-4-2 2-3 8-1 10 0 8 2 8 2 7 2 3 2 1 2zM-158 -153l-10 0-11 0 0-4-7-2-4-2 10-3 20-2 20 0 16 1-4 2-12 2-8 2-4 2-4 2zM-160 -149l-16 0-8-2 8-2 12 0 4 2zM-237 -142l3 3 10 0 12 1 9-1 1-2-4-2-4-3-6-1-10 1-10 1zM-251 -144l4 2 6-1 4-2-2-3-9-1-2 2zM-234 -149l12 0 8-1 2-2-8-1-10 0-6 1zM-194 -146l-7 2-4-2 3-2 7 0zM-181 -145l-9 1-1-4 9 0zM-196 -150l-7-1 2-2 7 1zM-174 -157l-10 0-8-2 4-3 13 1 3 2zM-230 -152l-14 0 4-3 9 1zM-161 -127l-6 1-7-1 2-4 5-1 4 2zM-119 -95l2-3 2-3 2-2 2 0 0 3 3 1 2 2 1 2-2 2-3-1-2-1-5 0zM-257 -102l5 3 5 2-1-2-3-2-4-1zM-170 -44l3-2 4 0 3 0 4 1 4 3 4 2-3 0-4 0 0-1-2-2-4-1-3 0-3 0zM-149 -37l3-3 4 0 3 1 2 2-3 1-3 1-2-1-3 0zM-157 -37l4 1-1 0-2 0zM-134 -37l3 0 0 1-3 0zM-312 -41l2 1-1 2-1-1zM-317 -43l2 0-1 1zM-11 -72l-2-1-2-1-3 0 0-3-1 0 1-3 0-4-1-2 3-1 7 0 5 0 2-2 0-3-2-2-5-2 0-1 3-1 3 1-1-2 2 0 2 0 3-1 0-2 3-1 2-1 2-2 3-1 4 0 1-2-2-2 0-2 1-1 4-1 0 2 1 0-2 2 0 2 2 1 3-1 3 1 4-1 5-1 2 1 3-1 0-3 1-2 2 0 4 1-1-2-1-1 0-2 5 0 4 0 4-1-2 0-5-1-7 1-3-2 0-2 0-2 2-2 5-2 1-1-3-1-3 0-2 2-2 2-3 1-3 2 0 2-1 2 3 1 1 1-2 1-3 2 0 3-1 1-3 0-1 1-2 0-1-2-1-2-2-2-1-2-1 1-3 2-3 0-3-1 0-2-1-3 0-2 3-1 4-2 3-1 3-2 2-2 2-3 4-2 3-1 3-2 5 0 5-1 5-1 4 0 5 2 1 1 4 0 7 1 6 2 3 2 0 1-5 1-7-1-1 2 1 2 4 1 2-1 4 0 1-2 4-2 3 0 0-3 4 0 4 1 10-2 2 1 6-1 5-1 3-1 7 0 4 2 1 1 3-1 1-1-4-2 0-2 3-2 3-2 5 0 0 3 1 2-2 3 3 1 0 2-2 2 4-2 1-2-1-1-1-2 0-2 3-3 1 2 4 0 2-2 4 0-1-2 6 0 6-1 1-2 6-1 10-1 8-1 5-1 5-1 6 1 1 1 7 0 5 1 0 3-4 2 7 0 8 1 8 0 7-1 4 1 1 2 6 1 7 0 7-1 2-1 12 1 8 1 5 1 7 0 7 0 3 3 6 0 7 0 5-1 7 0 6 1 7 1 0 8-3 1-2 0 3 2 1 2-5 0-6 1-4 2-3 2-5-1-5 1-3 0-1 2-3 2 2 1-1 3-2 2-3 2-3 2-4 4-1-3 0-5 0-4 3-2 4-3 5-2 3-2-2-1-5 2-3-2-4 1-3 3-5 2-6-1-6 0-7 0-4 3-5 2-3 4-4 1 4 0 3 1 4 2 2 2-1 2-1 4 0 2-4 2-4 4-3 2-4 3-3-1-2 1-2 3-2 2-2 1 2 2 2 3 0 3-4 2-2 0 0-3 0-2-1-1-2-1-1 0 1-3-1-1-4 1-2 1 0-1 1-2-2-1-3 2-3 2-1 1 3 2 0 1 4-2 3 1-3 2-2 1-2 2 3 1 1 4 2 2-1 1 1 3-1 2-2 2-2 3-2 3-2 2-3 1-3 1-2 1-3 0-3 1-1 2-1-2-2 0-2 0-2 2-1 2 0 2 1 2 2 2 3 2 1 4-1 4-2 1-3 1-3 4 0-2-1-2-3-1-1-2-2-1-1-2-2 0 0 3-1 3-1 3 3 1 0 3 2 0 1 2 3 2 0 4 2 3-2 0-3-1-1-2-2-2 0-3-1-2-1-1-2-2 0-2 0-3 0-3-2-5 0-4-2-1-2 2-2 0 0-3-1-4-2-1-1-2-1-3-3 0-2 1-2 1-3 0 0 2-4 2-2 2-3 3-2 1-2 1-1 5 0 4-1 2-2 3-2 2-2-2-1-3-1-3-1-2-2-4-1-2-1-5 0-4-1-2-1 1-2 0-4-3 2-1-2-1-3-1-2-3-4 1-6 0-4-1-4 0-1-3-3 0-2 1-2-1-4-2-3-3-1-1-3 0 0 2 1 1 2 2 1 2 0 2 2 1 0-2 1 2 0 1 2 1 3 0 3-3 2-1 0 2 1 2 3 1 3 2-2 2-2 3-1 2-2 1-2 2-4 2-3 2-5 2-2 1-4 1-3 1-3 1-1-2 0-3-1-3-2-4-2-3-3-3 0-3-3-3-2-3-2-3-1-2-1-2-1 3-1-1-2-3 0 1 1 2 2 3 1 3 2 3 0 2 3 2 0 3 1 4 2 1 2 4 1 2 2 1 3 3 2 1-1 2 3 2 4-1 4 0 3-1 2-1 0 3-1 3-2 4-2 3-3 4-3 3-4 3-3 3-2 2-2 2-1 3-1 4 1 3 0 4 2 1 0 5 0 4-2 3-4 3-2 2-3 2 1 4 0 4-2 2-3 1 0 3-1 3-2 2-2 3-4 3-3 2-3 1-3 0-3 0-5 2-2-1-1-1-1-3-1-4-2-4-2-3-2-4 0-4-2-5-2-3-1-4 0-4 2-4 1-3-1-5-1-6-1-2-2-2-3-4-1-3 1-3 1-4-2-2-1-1-3 0-2 0-2-2-1-2-4 0-3 1-3 1-3 1-4 0-3 0-4 1-3-1-5-4-2-1-1-3-3-2-2-3-2-2-1-2-1-2 2-3 1-4-1-3-1-3 2-4 2-4 3-5 4-1 3-3 1-2-1-3 3-3 3-1 2-3 0-1 1 0 2 2 5 0 2-1 2-1 3-1 4-1 4 0 4 0 4-1 2 1 1 0-1 1 1 2-1 2-1 2 2 1 3 0 5 1 1 2 4 1 3 1 2-1 0-2 3-2 3 1 4 2 5 1 4 0 3-1 3 0 4 0 1-2 1-3 1-3 0-1 0-1-1 0-2-1-2 2-2 0-4-1-2 1-3-1-1-1 0-2-2-1 1-1-2-1 1-1-1-1 0-1-2 0-2 0-1 1-1 0-1 2 2 1-1 0 2 2-2 0 0 3-1 0-2-1-1-2 1-1-2-1-1-1-1-2 0-3-2-1-2-1-3-1-2-2-1-1-2-1-2 0 0 2 2 2 2 2 3 1 2 2 3 2-3-1-1 2 1 1-1 1-2 1 1-2-1-2-1-1-2-1-2-1-4-2-1-1-1-2-2-1-3 1-2 2-3-1-2 0-2 1 0 2-2 1-2 2-3 2 1 2-1 0-1 2-2 2-5 0-1 0zM-11 -100l3-1 2 0 4-1 5 0-1-2 1-1-2-1-1-1-1-2-2-1-1-2-1 0 1-3-4 0 2-2-4 0-1 1-1 2 1 1 0 2 1 1 0 1 3-1 1 2 0 1-3 0 0 1 1 1-2 1 2 1 2 0-3 1-1 1zM-12 -104l0-3 0-1 1-1-1-1-3-1-2 1 0 2-3 0 0 1 1 2-2 1 2 1 3-1 2 0zM-45 -128l1-1-4-2 3-2 4 1 4 0 5-1 3 1 2 2-2 1-5 1-4 1-4-1zM22 -157l5 1 6 3 4-2 8 0 5-2 4-2-7-1-10-1-5 1-8 0-3 1zM103 -143l3 1 6 1 3 0-4-2 1-2 3-2 4-2 5-2 8-1 6-2-4 0-6 1-9 1-7 2-2 2-3 2-2 1zM191 -158l8 2 10-1-1-2-10-3-7 0-4 2zM272 -148l8 1 7 1-3-3-7-2 5-1 9 1 8 0 1 2-8-1-7 2-7-2-5-1zM357 -142l3-1 0 1zM-360 -142l0-1 4 0 1 1zM-360 -130l3-1 5 0 4 2 3 0-1-2 4-1 3 0-4-2-5 0-4-2-5-1-3-1zM262 -68l1-1 3-2 4 0 2-2 2-2 1 1 2-1 2-2 1-3 0-2 3-1 0 3 1 1-2 3 0 2-1 3-1 1-2 0 0 1-3 0-1 0-2 2-2-2-2 0-3 1zM259 -67l1 2 0 2 2 1 1-1 0-2 0-2-1-1-2 1zM265 -66l1 0 3-1 0-1-2-1-2 1zM280 -83l2-1 2-1 3 1 2-2 2-1-2-1-3-1-2-2-1 2 0 2-2 1-1 1zM284 -92l3-1-2-2 1-3 3 0-2-5-1-3 0-3-2 1 1 4-1 2 0 4 0 2 0 3zM240 -46l1-3 2-2 1 2-1 3-1 2zM217 -38l2-2 2 0 1 1-2 2-2 0zM240 -33l1-4 2 0 2 1-1 3-1 2 0 3 2 0 3 2 0 1-2-2-4 0-1-1 0-3zM244 -14l2-2 2-1 3-3 2 5-1 2-1 2-3-2-1-2zM244 -21l2 3 3-2 2-2-1-3-2 0-2 2-2-1zM234 -17l4-3 1-3 0 2-4 4zM241 -27l2 1-1 2-1-1zM191 -11l4 1 2 2 4 3 2 1 3 3 2 3 2 2 2 2 0 4 0 2-3 0-2-2-3-3-2-3-1-2-3-3-1-2-2-2-2-2-2-3zM210 14l2-2 3 0 2 1 4 1 2-1 2 1 4 1 0 2-4 0-4-1-5 0-3-1-2-1zM218 -3l1 4 1 5 3 1 3-1 3 1 3 1 1-4 1-2 1-4 1-1 0-3 1-3 2-2-3-1-2-2-2 1-1 3-3 1-2 3-3 1-3 1zM239 11l2 0 0-4 1 2 4 1-2-4-1-2 2-2 2 0-4 0-3-3 2-2 4 1 3-1 0 2-4 0-3 0-2 2 0 1-1 2-1 2 1 1zM255 -4l1 0 1 1-1 2 1 2-1 1-1-3zM256 6l3 0 3 1-3 0zM252 6l2 1 0 1-2-1zM262 3l2-2 3 0 1 1 0 3 2 2 3-2 3-2 2 1 4 1 3 2 4 1 3 2 1 2 2 1 1 3 3 2 3 2-3 1-4-1-3-2-3-3-2 2-2 2-3-1-3-2-2 1-1-2 2-1-3-3-5-2-3-1-1-1-2-1 2-1-2-1zM297 11l3 0 3-2 1 0-1 2-3 1-3 0zM302 5l2 2 2 2-1 1-2-3zM160 -16l0-4 2 2 2 3-1 2-2 1-1-2zM99 24l1 5 1 3-2 2-1 6-2 6-2 4-3 1-3-1-1-3 0-3 2-4-1-5 1-3 4-1 3-2 1-2zM227 44l1 5 0 4 2 6 1 5-1 3 2 3 4 0 4-2 5 0 4-2 3-1 6-2 5 0 3 1 2 2 3 3 1 1 1-3 3-2-1 3 0 2 1-2 1 3 2 0 1 3 1 2 4 1 2 1 3-2 1 1 2 1 3-2 3-1 1-2 2-4 1-3 2-2 1-3 1-4-1-5-1-2-3-3-1-2-2-3-2-2-4-2-1-3-1-3 0-2-3-2-1-3-2-4-1 3-1 3 0 4-1 4-3 0-3-2-4-2-1-2 1-2 1-3-1 0-3 0-4-1-1 0-3 2-2 5-2 0-3-2-2 0-2 2-2 3-2 0-2 2-1 3-3 2-3 1-3 0-3 2-2 1-1 1zM289 81l4 1 4 0 0 2-1 2-2 1-2 0-2-3-1-1zM345 69l2 1 2 2 2 2 1 1 2 1 3-1-1 3-2 1 0 1-2 2-2 1-1 0 1-2-1-2-1-1 1-2 0-2-2-3zM345 81l3 1 0 2-1 2-1 2-3 1-1 3-3 1-2 0-4-1 1-2 3-2 4-2 1-2 2-1zM328 40l3 2 3 3-1 0-4-3zM355 35l2 0 0 1-2 0zM333 30l1 1 0 1zM-123 103l6 0 1 0-2 1-4 0zM185 -25l1-2 0 4zM65 -70l1 1 3-2-3 0zM47 -71l2 0 4 1-2 0-3 0zM25 -76l2 0 4-1-1 4-2-1zM17 -78l-1-4 2 0 2 1-1 3zM17 -83l0-2 2-1 0 2-1 1zM229 16l2 1-1 1zM232 17l2-1 4 1 0 1-5 0zM240 17l3 0 3 0-5 1zM238 19l2 0 2 1-2 1zM247 20l2-1 2-2 4 0-3 1-3 2zM311 12l1 1 0 1-2-1zM314 16l4 1-1 1zM320 19l2 1-2 0zM-333 -107l2-1-3 0zM-337 -106l2 0-1-1zM-354 -104l2 0-1 0zM-308 -114l3-2 0 1-3 1-1-1zM56 -83l2 1 4 0 4-2 4 0 4 1 3 1 6-1 0-2-3-2-3-2-2-1-2-1 3-1 3-2-4 0-4 1-1 2 3 0-3 1-3 1-2-2 2-1-2-1-3 0-2 1-1 2-2 1-1 3 0 1zM94 -90l1-1 2-1 1-1 4-1 4 0 0 3-3 2-1 1 1 2 2 2 1 2 2 1-1 2 1 2 0 2-4 1-3 0-3-1 0-2 1-2 0-2 1 0-3-3-2-2 0-2z" fill="none" stroke="#000" stroke-width="0.9" vector-effect="non-scaling-stroke" stroke-linejoin="round"/><path fill="none" stroke="#333" stroke-width="0.8" vector-effect="non-scaling-stroke" d="M-249 -101L-209 -101L-209 -68L-249 -68L-249 -101M-209 -101L-179 -101L-179 -54L-209 -68M199 -76L218 -76L233 -91L303 -91L263 -52L263 -40L199 -40L199 -76"/><path fill="none" stroke="#333" stroke-width="0.85" stroke-dasharray="3.2 1.3 0.8 1.3" vector-effect="non-scaling-stroke" d="M-260 -101L-245 -68M-20 -62L-20 -91L80 -91L80 -62M80 -91L149 -91L149 -62M79 -61L149 -61M119 -61L119 -48L132 -48M-40 -62L80 -62M-40 -62L-40 -16L-20 -11L15 -5M-40 -31L66 -31M15 18L80 18L63 71L15 71L15 18M49 18L49 71M186 -40L186 21L310 21M263 -40L263 -12L320 19M-159 30L-151 44L-155 66L-158 95L-149 95M-194 -54L-180 -43"/></g><rect x="2.50" y="17.50" width="331" height="140.70" fill="none" stroke="#333" stroke-width="1"/><text x="5.9" y="28.7" font-size="10.3" font-weight="bold" style="fill:#555">a</text><polygon points="1.30,169.60 16.20,166.50 16.20,172.70" fill="#ffffff"/><polygon points="333.80,169.60 319.00,166.50 319.00,172.70" fill="#000000"/><rect x="16.20" y="166.50" width="43.56" height="6.20" fill="#f0f550"/><rect x="59.46" y="166.50" width="43.56" height="6.20" fill="#ebe43a"/><rect x="102.71" y="166.50" width="43.56" height="6.20" fill="#e8942a"/><rect x="145.97" y="166.50" width="43.56" height="6.20" fill="#f42a16"/><rect x="189.23" y="166.50" width="43.56" height="6.20" fill="#d5261a"/><rect x="232.49" y="166.50" width="43.56" height="6.20" fill="#961010"/><rect x="275.74" y="166.50" width="43.56" height="6.20" fill="#520000"/><polygon points="1.30,169.60 16.20,166.50 319.00,166.50 333.80,169.60 319.00,172.70 16.20,172.70" fill="none" stroke="#222" stroke-width="0.7"/><line x1="16.20" y1="172.70" x2="16.20" y2="175.90" stroke="#111" stroke-width="0.9"/><text x="16.20" y="186.70" font-size="10" text-anchor="middle">15</text><line x1="59.46" y1="172.70" x2="59.46" y2="175.90" stroke="#111" stroke-width="0.9"/><text x="59.46" y="186.70" font-size="10" text-anchor="middle">20</text><line x1="102.71" y1="172.70" x2="102.71" y2="175.90" stroke="#111" stroke-width="0.9"/><text x="102.71" y="186.70" font-size="10" text-anchor="middle">25</text><line x1="145.97" y1="172.70" x2="145.97" y2="175.90" stroke="#111" stroke-width="0.9"/><text x="145.97" y="186.70" font-size="10" text-anchor="middle">30</text><line x1="189.23" y1="172.70" x2="189.23" y2="175.90" stroke="#111" stroke-width="0.9"/><text x="189.23" y="186.70" font-size="10" text-anchor="middle">35</text><line x1="232.49" y1="172.70" x2="232.49" y2="175.90" stroke="#111" stroke-width="0.9"/><text x="232.49" y="186.70" font-size="10" text-anchor="middle">40</text><line x1="275.74" y1="172.70" x2="275.74" y2="175.90" stroke="#111" stroke-width="0.9"/><text x="275.74" y="186.70" font-size="10" text-anchor="middle">45</text><line x1="319.00" y1="172.70" x2="319.00" y2="175.90" stroke="#111" stroke-width="0.9"/><text x="319.00" y="186.70" font-size="10" text-anchor="middle">50</text><text x="142.60" y="202.00" font-size="12.3">T<tspan font-size="8.6" dy="2.5">2m</tspan><tspan x="167.20" dy="-2.5">(</tspan><tspan x="174.10" font-size="8.6" dy="-4.2">∘</tspan><tspan x="180.30" dy="4.2">C)</tspan></text><text x="351.6" y="12.7" font-size="12.3">T<tspan font-size="8.6" dy="2.6">w</tspan><tspan dy="-2.6"> 99</tspan><tspan font-size="8.6" dy="-4.3">th</tspan><tspan dy="4.3"> percentile value (NOI 1985-2014)</tspan></text><g transform="translate(517.000 100.250) scale(0.459722)"><rect x="-360" y="-180" width="720" height="306.05" fill="#f5f5f5"/><path fill="#fff" d="M-11 -72l1-2 10-8 6-6 14-2 5-2 15 6 8 2 6 2 19 7 0 9-5 5-28 2-20-5-20-6-11-1zM53 -80l7 0 0-3-7 0zM54 -81l30 0 0-14-30 0zM92 -73l18 0 0-22-18 0zM115 -86l9 0 0-7-9 0zM64 -61l7 0 16 36-2 1-11-12-10-20zM95 -61l5-1 14 7-1 7-11 1-7-9zM18 -107l43 0 0-26-21 0-12 17-7 0-3 4zM64 -127l26 0 0-7-26 0zM-196 -62l34 0 1 12-5 5-7 2-2 5-9 4-12 0zM-192 -132l40 0 0 30-40 0zM-172 -126l28 0 0-16-28 0zM-252 -138l60 5 28-5 12-7-8-7 16-5 20-7-8-3-52 2-40 7-28 3zM-260 -101l15 33 11 0-12-28zM199 -76l19 0 15-15 70 0-40 39 0 12-64 0zM186 -40l77 0 0 28 57 31 0 2-134 0zM-40 -62l0 46 20 5 35 6 1-4-48-11-4-20 8-16 8-6zM15 18l65 0-17 53-48 0zM-20 -62l0-29 100 0 0 29zM80 -91l69 0 0 30-69 0zM-260 -101l15 33 36 0 30 14 0-47zM-159 30l8 14-4 22-3 29 10 0 2-25 5-34z"/><g clip-path="url(#land)"><rect x="-360" y="-180" width="720" height="320" fill="#ffffff"/><path fill-rule="evenodd" fill="#f0f550" d="M359 128l-478 0-3-9-8-8-2-4 4-2-2-4-5-3-4 0-2 2-6 0-2-4-3 1 4 4-2 2 2 4-1 1-4 0-8 4-22 16-176 0-1-1 0-306 1-1 86 0 1 3 24 24 3 11 20 0 4 4 4 0 2 2 4 0 2 2 4 0 2 2 10 2 1 1 0 24 1 1 38 0 2-12 32 0 6-6 4 2 14 14 12 6 8 8 2 0 10 8 3-5 0-4-2-2 0-12 2-2 0-8 2-2 0-4 4-8 15-11 8 0 8-4 1-1-2-2 0-10 1-1 2 0 16 16 1-1 0-2-15-15-3-1 0-2 15-15 7 1 0 18-2 2 0 12 7 1 2 2 18 0 8-6 2 0 2 4 2-2 8 0 2-2 10 0 2-2 6 0 8-6 2 0 7-7 2-4 0-8 3-3 16 0 3 5 0 4 2 2 2 10 5 5 24 0 11-11 0-4 2-2 0-6 3-3 7 1 6 12 11 13 48 0 7-7 2-4 0-4 2-2 0-4 3-5 14 0 1 5 2 2 0 6 13 13 20 0 2-2 6 2 17-17 2-6 3-3 36 0 1 1 0 306zM-89 -168l-5-1 0-10 1-1 5 1 0 10zM-37 -168l-16 0-2-10-2 10-28 0-1-1 0-10 1-1 12 0 1 5 5 5 4 0 2-10 28 0 1 3zM218 -149l2-2-1-1-5 1 1 3zM162 -141l2-2-1-1-3 1 0 2 1 1zM-115 -128l-5-5 3-3 3 1zM38 -129l-1-5-6 2-4-4-3 3 0 2 3 3 10 0zM-290 -129l2-2-5-3-1 5 1 1zM-250 -131l-1-3-10 0-1 1 1 3 10 0zM-298 -123l-11-9-3 1 3 9 10 0zM-258 -111l8-6-2-2 2-2-1-1-4 0-6-6-18 0-1-1 2-2-1-1-7 3 1 3 4-2 3 3 0 4 5 7 4 0 8 4zM22 -119l0-4-2-2 2-4-1-1-2 2-4-4-1 3-4 4 0 2 5 5zM-224 -127l-1-3-10 0-1 1 1 3 10 0zM-228 -121l2-2-1-1-5 1 3 3zM186 -59l3-1 5-5 0-4-9-7-26 0-9 7 0 2 3 3 2 0 8 6 22 0z"/><path fill-rule="evenodd" fill="#ebe43a" d="M111 -152l-5-5-10-20 1-3 9 1 2 4 0 4 2 2 0 4 2 2 0 10zM307 128l-336 0-1-7-2-2 0-6-3-5-12-6-4 0-2-2-4 0-2-2-4 0-8-4-6 0-8-4-32 0-6 4-4-2-24 0-3 3-1 7-52 26-152 0-1-1 0-262 1-1 3 3 1 5 4 0 8-8 4 0 1 1-2 2 0 4 2 4-2 2 5 1 2 2 56 0 4 6 4 0 8 4 8-4 3-3-2-2 1-1 4 0 2-2 2 2 20 0 2 2 2-2 16 0 2-2 2 2 7 1 0 14 1 1 38 0 2-12 32 0 6-6 4 2 14 14 12 6 8 8 2 0 10 8 3-5 0-4-2-2 0-12 2-2 0-8 2-2 0-4 4-8 3-3 2 4 4-2 2-4 4 4 6-2 4 6 1-1 0-10 5-7 12 0 2 2 4 0 3 5 0 4 10 10 0 8 7 1 2 2 7-1-2-2 0-6-2-2 1-3 28 0 2-2 2 2 10 0 2 2 8 0 4 2 3-3 0-4-4-2 0-4 6-2 0-16 1-1 3 1 0 16 1 1 6 0 2-2 2 2 32 0 2-2 2 2 8 0 8-6 1 1-2 4 1 1 18 0 2-2 2 2 6 0 2-4 2 0 2 4 4 0 2-2 2 2 52 0 2-2 2 2 44 0 2-4 2 4 20 0 2 2 2-2 34 0 4-4 2 0 1 1 0 220-3 3-2 0-1 3 6 6 0 24-1 1-1-3-18-18 0-4 3-3 2 2 4 0 4 4 1-1-2-4-6-4 2-2-4-2 0-4-9-1-2-2-3 1 4 8 0 4 2 2-3 1-1-3-11-11-1 3-4 4 0 4-2 2 0 6-2 2 0 12-2 2 0 14zM-319 -138l-5-1 5-5 2 0 1 3zM67 -134l-3-1 3-5 1 1zM-115 -128l-5-5 3-3 3 1zM-205 -126l-3-3 1-1 3 1zM-6 -117l5-1 3-3-3-7-3 7-4 2 0 2 1 1zM238 -127l-1-1-5 1 1 1zM48 -115l-3-3-1 1 3 3zM-196 -111l-3-3-1 1 3 3zM-134 -101l1-5 2 2 3-1-2-4 4-2-1-1-6 0-4 6-4-2-3 5 1 1 2-2 4 4zM-120 -105l0-6-3-1-1 1 2 2 0 4 1 1zM200 -93l-2-4 4-6-1-1-6 4-4-2-3 3 0 2 3 3 1-3 3-1 1 5 1 1zM178 -57l7-1 8-4 1-3 4-2-7-9-4 0-2-2-8 0-2 2-2-2-4 2-8 0-2-2-6 6-2-2-1 1 2 2-2 4 9 7 4 2 6 0 2 2zM-154 17l-2-4 0-10 4-4 0-16-1-1-3 5 0 6-2 2 0 6-2 2 0 8 5 7zM-140 69l0-8 2-2 0-6 2-2 0-4-2-2 0-8-11-13-1 1 4 6 0 4 6 10 0 14-2 2 0 8 1 1zM348 97l-3-5-3 1 5 5z"/><path fill-rule="evenodd" fill="#e8942a" d="M261 -134l-1-3 3-1 1 1zM323 -128l-5-3 1-3 2 0 3 3zM137 -128l-3-1 3-3 1 1zM253 128l-282 0-1-7-2-2 0-6-3-5-12-6-4 0-2-2-4 0-2-2-4 0-8-4-6 0-8-4-18 0-10-10-3 1-1 5-4-4-2 0-4 4-2-2-2 2-2-2-16 0-2 2-8 0-2-2-6 0-2-2-6 0-2-2-6 0-2-2-8 0-2-2-6 0-2-2-8 0-2-2-8 0-2-2-8 0-2-2-8 0-2-2-6 0-2 2-12 0-50 60-46 0-1-1 0-242 5-3 4 0 2 2 6 0 2-2 4 2 4-4 4 0 2 4 4-4 22 0 2 2 5 1 0 8 2 2 1 5 2-18 8 4 6 0 3 3 1 5 2-6 2 2 4 0 4 2 4-4 6-2 1 1-2 2 0 8 1 1 10 0 2 2 1-1-2-4 5-1 4-6 12 0 2 2 14 0 2 2 4 0 3 3-2 2 1 1 10 0 18 10 10 0 2-2 12 0 2-2 12 0 2-2 5-1 0-10-1-1-30 0-1-1 1-3 32 0 6-6 4 2 14 14 12 6 8 8 2 0 10 8 3-5 0-4-2-2 0-12 17-17 7 1 0 12 1 1 10-8 5 5 0 12 1 1 10 0 6-4 6 0 5-5 0-4-2-2 1-3 4 2 6 0 2 2 6 0 2 2 16 0 2-2 22 0 2-2 8 0 5-5 1-7 38 0 2 2 8 0 1 1-5 1-1 3 5 1 2 2 18 0 2-2 4 0 1-3-5-1-1-1 1-1 76 0 1 1-1 1-16 0-2 2-5 1 1 3 4 0 2 2 18 0 2-2 4 0 1-3-6-2 3-3 10 0 2 2 2-2 22 0 2 2 36 0 2 2 2-2 4 2 4-2 2 2 10 0 4 4 2 0 2-4 1 5 1 1 2-2 1 1 0 4 16 30 0 154-2 2 0 8-1 1-12 0-1-5-4-2 4-2 0-4-9-9-2 0-7 5-2 4 0 4-8 10 0 4-2 2 0 6-2 2-1 7-14-14-6 0zM357 -106l-1-5-2-2 0-12 1-1 3 3 0 16zM198 -115l-1-3-3 1 1 3zM-312 -111l2-4-1-1-3 1 0 4 1 1zM-5 -106l-3-3 3-3 3 3zM204 -89l2-4 6-4 1-3 4 2 1-3-5-1-2 2-6-4-10 0-4 2-5 7 7 7 8-4 2 4zM-234 -71l-4-4 0-4-4-8 1-1 14 0 2-4 1 3 5 3 1-7-2-2 0-4-5-3-2 2-20 0-1 1 0 22 3 3 4 0 6 4zM178 -97l-1-5-5 1 1 5zM176 -91l-3-3-1 1 3 3zM195 -90l-3-1 1-3 3 3zM104 -79l2-2 0-6-3-3-2 0-3 3 0 6 3 3zM216 -85l2-2-5-3-7 5 1 1 2-2 4 2zM-220 -77l4-6-1-1-2 2-2-2-6 0-3 3 0 2 3 3zM186 -57l5-1 3-3 0-4 3-1 1-3-7-7-4 0-2-2-26 0-2 2-4 0-7 7 3 1 4 4 2 0 4 4 4 2 4 0 2 2 16 0zM-202 -39l4-4-5-5-5 5 5 5zM78 -13l2-2 0-6-3-3-2 0-3 3 0 6 3 3zM-154 17l-2-4 0-10 4-4 0-16-1-1-3 5 0 6-2 2 0 6-2 2 0 8 5 7zM-140 69l0-8 2-2 0-6 2-2 0-4-2-2 0-8-11-13-1 1 4 6 0 4 6 10 0 14-2 2 0 8 1 1zM298 87l-1-7-9 1 1 7z"/><path fill-rule="evenodd" fill="#f42a16" d="M91 -120l-5-3 1-3 7 1 0 2zM-111 -108l-1-7 3-5 5 5zM253 128l-182 0-1-5-2-2 0-4-2-2 0-4-2-2 0-4-2-2 0-4-2-2 0-4-2-2 0-4-2-2 0-4-5-9-3 1 0 54-1 1-3-1 0-54-1-1-6 0-56 56-10 0-1-7-2-2 0-6-3-5-12-6-4 0-2-2-4 0-2-2-4 0-8-4-6 0-2-2-4 0-4-2-6-6-2 0-4-4-6-2-8-6-4 4-4 0-1 1 2 2-7 7-2-2-20 0-2 2-8 0-2-2-6 0-2-2-6 0-2-2-6 0-2-2-8 0-2-2-6 0-2-2-8 0-2-2-8 0-2-2-8 0-2-2-8 0-2-2-6 0-2 2-12 0-50 60-46 0-1-1 0-220 6-6 0-2-1-1-4 4-1-1 0-4 4-2-4-8 1-1 7 7 2 4-2 2 3 1 6 6 1-3-6-6 3-3 6 0 1 3 3 1 3-3-2-2 5-1 1 1-2 2 12 24 3 3 10 0 2 2 12 0 3-3 0-4 2-4 13-13 4-2 8 0 2-2 4 4 7 1 0 22 3 3 4 0 6 4 18 0 5-5-6-10 0-8-2-2 4-2-2-2 1-1 4 2 4 0 2-2 10 0 2 2 8 0 2 2 4 0 2-4 3 3-2 2 1 1 6 0 2 2 8 0 8-4 6 2 8-4 12 0 12-6 10 0 1 1-6 4 0 2 3 1 2-2 4 0 8-8 8 6 2 0 8 8 2 0 10 8 4-6 8 0 2-2 20 0 8-8 10 0 6-4 6 0 8-4 4 0 4 4 1-1-2-4 1-1 4 0 1 1-2 2 1 1 4-4 6-2 1 5-2 2 0 4 3 1 3-3-2-4 3-1 1-3 5-3 4 2 2-2 16 0 2-2 24 0 2 2 4 0 2-2 12 0 4 6 2-6 22 0 2 2 8 0 2 2 18 0 2-2 18 0 2 2 4 0 2 4 26 0 5 3-1 3-12 0-2-4-4 4-2 0-4-4-2 2-6 0-2 2-14 0-1-1 4-2-1-1-8 0-1 1 0 12 3 3 2 0 2 4 2-4 2 0 2 4 1-3 3-1 2 6 26 0 12-6 4 0 3-3 0-4 2-2-3-3-5-1 5-1 1-1-1-1-7-1 5-1 2-2 4 0 4 6 7-1-3-3-2 0-1-1 1-1 6 0 1 3 5 3 1-1-2-2 1-3 14 0 7 7-2 2 3 5 2-8 6 0 2 2 2-2 8 0 6 14 8-8 2 0 31 31 0 2 14 16 0 120-2 2 0 8-1 1-12 0-1-5-4-2 4-2 0-4-9-9-2 0-7 5-2 4 0 4-8 10 0 4-2 2 0 6-2 2-1 7-14-14-6 0zM205 -112l-3-1 1-3 3 1zM291 -106l-3-1 0-2 3-3 3 3zM-319 -92l-1-5-2-2 0-10 1-1 3 1 0 16zM-23 -104l-1-1 1-5 1 1zM72 -107l2-2-1-1-5 1 3 3zM96 -107l-1-3-3 1 1 3zM136 -101l-2-2 4-4-3-3-1 5-2 2 3 3zM156 -105l2-2-1-1-6 0-2-2-1 1 0 2 3 3 2-2 2 2zM110 -105l2-2-1-1-2 0-3 3 1 1zM144 -103l0-4-1-1-3 3 0 2 1 1zM268 -105l-3-3-3 1 3 3zM-211 -100l-3-3 0-2 7-1 1 3zM48 -97l-2-4 2-2-1-1-5 5 3 3zM60 -97l2-4-1-3-4 0-1 3-4 4 1 1zM68 -101l2-2-1-1-5 1 3 3zM130 -101l-3-3-3 3 1 1zM325 -92l-9-9 1-3 9 9zM28 -97l0-2-3-3-1 3 3 3zM284 -97l2-2-1-1-3 1 0 2 1 1zM-256 -91l4-2-1-5-1 3-4 4 1 1zM10 -91l2-2-1-3-3 3 0 2 1 1zM108 -75l0-20-1-1-14 0-1 1 0 12 2 2-2 2 0 4 5 1 2-4 6 0 2 4zM248 -89l-1-3-5 1 1 3 2-2 2 2zM64 -87l2-2-1-1-3 1 0 2 1 1zM-10 -87l-1-1-5 1 1 1zM70 -75l1-1 12 0 1-7-1-1-30 0-1 1 1 9 4-6 4 6zM194 -57l0-8 10-2 0-8-4-4 4-2-1-1-50 0-2-2-5 3 0 12 3 1 4 4 2 0 4 4 4 2 4 0 2 2 24 0zM40 -79l-1-3-3 1 1 3zM-4 -77l-3-3-1 1 1 3zM-212 -57l-1-3-3 1 3 3zM-196 -39l-2-4 0-12-5-3-6 0-3 7 5 1 3 3-6 2 7 7zM78 -13l2-2 0-6-3-3-2 0-3 3 0 6 3 3zM-154 17l-2-4 0-10 4-4 0-16-1-1-1 3-4 2 2 2 0 4-2 2 0 6-2 2 0 8 5 7zM74 9l2-4-1-1-6-2-3 3 1 5zM-130 71l-10-2 0-8 2-2 0-6 2-2 0-4-2-2 0-8-11-13-1 1 4 6 0 4 6 10 0 14-2 2 0 6-1 1-2-2-2 2-4 0-6-4-6 0-2-2-5 1 17 9 4 0 2-2 6 0 2 2zM36 63l2-2-1-3-3 3 0 2 1 1zM-100 73l-2-2 0-6-3-1-1 5 5 5zM296 71l-3-3-3 1 3 3zM298 87l-1-7-9 1 1 7z"/><path fill-rule="evenodd" fill="#d5261a" d="M253 128l-150 0-3-3-2-10-4-6-2-10-4-6 0-4-2-2 0-4-4-8-2-18-5-1-2-2-6 0-2 2-4-6-2 0-4 6-24 0-2 4-10 4-10 8-4 0-10 6-4 0-10 6-4 0-4 2-3 3 0 4-2 2 0 10-3 3-2 0-10-6-4 0-2-2-10-2-34-34-8 0-12 12-4 0-4-4-4 0-1-5-2-2 0-4-4-2 0-4-2-2 2-2 0-4-2-2 0-8-11-13-1 1 6 12 0 18-3 5-32 0-2-2-8 0-2-2-4 0-2 2-14 0-2 2-10 0-2 2-6 0-2 2-6 0-2 2-8 0-2 2-12 0-50 60-46 0-1-1 0-184 3-3 6-2 4-4 12-6 4 0 8-4 6 0 2-2 10 0 2 2 12 0 10-6 28 0 4-2 1 7 3 3 4 0 4 2 3 3 2 4 0 4 3 3 6 2 1-3-2-2 7-1 3 5 2 10 4 4 0 2 3 3 8 0 1-3-2-2 0-12-5-3-6 0-1-1 2-2-8-8 0-2 4-4-6-10 0-4 5-1 1 1-4 2 7 7 1-5-2-4 2-2 1-9 10 0 2 2 8 0 2 2 6 0 2 2 6 0 2 2 12 0 8 4 1-1-2-2 1-1 8 0 1 5-3 1-3 5 3 3 5-5-2-2 1-1 8 0 2 2 8-6 6 0 3 5 0 10 2 2 1 9 1-1 0-24 3-1 28 28 2 0 3-3 0-2 8-10 2-10 3-3 8 0 2-2 22 0 7 7 0 12 1 1 16 0 2 2 4-4 2 0 1 5 5 1 2 2 4-2 2 2 1-5-1-1-4 4-4-2-1-5-1-1-2 2-1-1 0-4 3-3 4 2 8 0 2 2 2-2 4 4 8 0 2-2 12 0 2 4 16 0 2-2 14 0 1-1-2-4 5-1 2-2 2 10 14 0 1-9 6-2-6-2 1-5 22 0 1 1-2 2 2 4-4 2 1 1 4 0 3-3 0-4 3-1 3 3-2 2 1 3 4-4 1 1 0 16 3 1 4 4 2 0 4 4 4 2 4 0 2 2 38 0 1-9-4-2 0-14-4-2 1-1 22 0 2-2 2 2 2-2 6 0 2 2 6 0 2 4 4 0 4-6 5-1 1-5 20 0 2 10 10 0 4 4 6 2 4 4 8 4 6 6 2 0 1 3 15 15 20 0 2-2 1 1 0 116-2 2 0 6-1 1-4-2-1 1 2 2-1 1-4 0-4-6-5-1 4-2 1-5 5-1 4-8 0-4-5-3-22 12-2-4-14 0-1 1 5 5 6 2 3 3 0 2-8 10 0 4-2 2 0 6-2 2 0 6-1 1-14-14-6 0zM-261 -88l-5-1 9-9 1 5zM159 -90l-6 0-1-1 9-3 1 1zM35 -84l-14 0-1-7 1-1 16 0 1 3zM149 -84l-3-3 0-2-4-2 1-1 7 1zM43 -84l-4 0-1-1 3-3 2 0 1 1zM-12 -61l2-2-1-1-5 1 3 3zM114 -57l-3-3-3 1 3 3zM-168 -29l-3-3-2 0-3 3 1 1zM78 9l0-8 2-4 6-2 0-24-1-1-14 0-1 5 2 4-2 4 2 4-2 2 0 4-14 2 3 15 18 0zM-156 19l2-2-2-4 0-6 2-4 6-6 0-8-2-2-1-9-9 1 0 4 2 2 0 12-4 6 0 6 2 2 0 6 3 3zM292 13l-2-2 2-2-1-3-18 0-1 1 1 7 18 0zM-26 79l51-25 3-5-1-1-16 0-2 2-8 0-6 4-4 0-12 6-4 0-3 3 0 16 1 1zM73 64l-2 0-4-4-3-1 5-1 5 5zM256 107l0-4 2-2 0-16 13-13 4-2 4 0 1-1-1-5-16 0-1 1 1 7 4-6 2 0 1 3-9 9-3-3 0-8-5-3-10 0-2 2-2-2-7 1 1 7 9 1 6 12 0 4 2 2 0 4 2 2 2 10 1 1zM300 77l2-4 0-4 2-2-1-1-4 2-8 0-5 3 1 7 12 0zM298 87l-1-7-9 1 1 7z"/><path fill-rule="evenodd" fill="#961010" d="M-313 128l-46 0-1-1 0-184 3-3 6-2 4-4 12-6 10-2 2-2 6 0 2-2 10 0 2 2 12 0 5 5 0 2 12 16 9 19 26-26 2 0 4-4 2 8 4-2 7 5-4 4 2 2 1 5 1-5-2-2 3-3 2 0 2 4 2-2 1 1 0 2 7 9 8 0 1-3-2-2 0-6 2-2-2-4-6-4 0-6 2-2-1-1-4 2-5-3 4-2 0-4 3-3 4 0 4-2 2-4 5-1-1-3-5-1 4-2-1-3-2 2-1-1 0-4 9-1 2 2 6 0 2 2 6 0 2 2 10 0 2 4 2-2 5 1 0 4 4 4-5 1-4 4-7 3 6 4-2 2 0 4 3 3 5-1-2-2 0-4 3-1 10 10 4-2 4 0 2-2 14 0 2 2 6 0 6 4 4 0 8 4 8 0 3-7 6-6 0-2 4-4 0-2 4-4 1-3 6 4 4 0 2 2 10 2 14 14 10 0 2-2 12 0 2-2 12 0 2-2 6 0 2 4 22 0 2 2 22 0 1 5-2 2 4 4 0 4 11 11 1-3-6-6 0-4-2-2 0-8-2-2 3-3 12 0 1-5 3-3 8 0 1 7 7 5 4 0 5 5-2 4 5 1 5-3 0-4-2-2 0-12-2-2 1-5 20 0 1 1-1 1-16 0-1 1 0 10 1 1 8 0 8-6 4 0 4-2 10 8 4 2 4 0 2 2 38 0 1-9-4-2 6-6 0-2 7-9 26 0 1 1 0 24 7 1 7-7-1-3-5-1 0-16 1-1 4 6 4 0 1-1-4-4 2-2-2-2 3-3 18 0 2 10 10 0 4 4 6 2 4 4 8 4 6 6 2 0 1 3 15 15 20 0 2-2 1 1 0 26-2 2 0 4-4 6 0 4-4 8-16 16 0 8 5 3 6 0 1 1-2 4-1 1-4-4-4 0-4-4-2 4-14 0-1 1 0 4 4 8-3 1-5 5 2 2-2 2 2 2-2 2 5 5 6 2 3 3 0 2-7 9-4 0-9-9 10-2-6-6-1-5-14 0-2 4-2-2-32 0-2-14-30 0-1-5-9-9-4 0-18 10-4 0-24 12-2 0-1-3-7-7-4 0-2-2-8 0-2-2-8 0-2-2-8 0-2-2-14 0-3 3 5 5 4 0 2 2 4 0 2 2 4 0 2 2 4 0 2 2 4 0 2 2 4 0 2 2 4 0 2 2 10 2 3 3 0 10-2 2 0 14-2 2 0 14-3 1-56-56-10 0-8 8-1-1 0-6 4-4 0-8-2-2 2-4-1-3-8 4-2-6-5 5 5 1 3 7-3 5-4 2-4 0-2 2-7-5 0-18-1-1-22 0-4 2-2-2-22 0-2-2-6 0-2-2-4 0-17 15 0 4-2 2 0 14 2 2-3 3-44-22-7 1 3 1 47 47 0 2-3 3-48-48-4-2-5 1 2 4 0 4 12 12 0 2 34 34-3 1-2-2-4 0-2-2-10-2-34-34-8 0-12 12-4 0-1-1 2-2-1-1-2 2-2-2-4 0-1-5-2-2 0-12-1-1-2 2-3-1 2-2 0-4-2-2 0-8-11-13-1 1 6 12 0 16-1 1-4 0-6-4-6 0-4-2-2 2-6 0-2 2-4 0-8 4-8 0-2 2-14 0-2 2-10 0-2 2-6 0-2 2-6 0-2 2-8 0-2 2-12 0zM-176 -81l1-1 7-1-9-5-3 7 1 1zM117 -76l-8 0-1-5 5-3 4 0 3 3 0 2zM91 -76l-3-1 3-3 1 1zM49 -66l-10 0-2-2-2 2-4-2-10 0-1-5 7-1 2 2 6 0 8 4 6 0 1 1zM105 -70l-4 0-1-1 5-3 1 1zM272 -73l-1-1-5 1 1 1zM-186 -71l-1-1-7 1 1 1zM-168 -69l2-2-1-1-3 1 0 2 1 1zM55 -64l-1-3 3-1 1 1zM63 -60l-4 0-1-1 5-1 1 1zM262 -43l-4-6 0-4 6-6-3-3-1 3-12 10 7 7zM-170 -51l4-4-1-3-2 0-5 5 3 3zM-156 -49l-3-3-3 3 1 1zM12 -43l7-1 3-3 0-2-5-3-4 0-5 7 3 3zM40 -39l2-4-3-3-6 0-3 3 0 2 3 3zM244 -41l-1-3-3 1 1 3zM44 -35l2-4-1-1-3 3 0 2 1 1zM90 -25l10-10-1-1-11 11 1 1zM-170 -27l2-2-3-3-2 0-3 3 3 3zM78 9l0-8 2-4 6-2 0-24-1-1-14 0-1 1 0 22-14 2 3 15 18 0zM-156 19l2-2-2-4 0-6 2-4 6-6 0-8-2-2-1-9-9 1 0 4 2 2 0 10-4 8 0 6 2 2 0 6 3 3zM126 -5l2-4 0-4-5-7-4-2-12 0-1 1 13 13 2 0 4 4zM34 -15l2-2-1-1-3 1 0 2 1 1zM-28 35l-4-8 0-4-2-4-4-4-2-6-4-4-1-3-16 8-4 4-3 1 3 1 4 4 32 16zM292 13l-1-7-18 0-1 1 1 7 18 0zM46 11l-1-3-3 3 1 1zM-162 13l-3-3-1 1 1 3zM-100 17l-1-3-3 1 1 3zM312 23l4-6-1-1-4 0-3 5 3 3zM324 29l4-4-3-3-2 0-2-4-2 0-1 3 4 2 0 6 1 1zM47 42l-6 0-5-5 0-2 5-5 6 0 5 3 0 4zM44 35l2-2-1-1-3 1 0 2 1 1zM298 33l-1-1-5 1 1 1zM64 41l0-2-3-3-1 5 1 1zM264 41l-1-1-5 1 1 1zM298 51l-1-3-3 1 1 3zM77 56l-2 0-5-5 3-1 5 5zM-116 65l2-2 0-6-3-3-6 0-5 7 5 5 4-2 2 2zM285 70l-1-1 1-5 1 1zM283 76l-3-3 1-1 3 1z"/><path fill-rule="evenodd" fill="#520000" d="M-31 -54l-4 0-32-16-1-3 4-4 1-3 6 4 10 2 17 17zM165 56l-3-1 0-6 6-10 0-4 2-2 0-4 4-8 0-10 2-2 0-4 12-12-1-3-10 0-1-1 3-3 6 0 3-3 0-2-4-2 0-8-4-2 0-4 3-1 1-3-5-1-3-3 0-2-5-3-3 3 0 2-5 1-2 4-4 0-2-2-10 2-4-4-4 0-1-1 2-2-1-1-8 8-3-5-2-10-2-2 0-12-2-2 0-4 1-1 12 0 1 1-10 2 0 10 1 1 8 0 16-8 10 8 4 2 4 0 2 2 4 0 2 2 4-2 10 0 2 2 2-2 14 0 2 4 3-1-2-2 1-1 8 0 3-3-2-2 1-7 10 0 1 1 0 2-3 3-2-4-1 1 1 7 6-6 2 0 2-4 6 0 1 1 0 16-1 1-3-1 2-4-1-1-2 0-3 5 3 5 4-2 1 1-1 3-22 0-2 2-2-2-3 3 0 2 6 4 0 8 4 2-8 8 0 4 3 1 4-2 1 7-5 3-1-3-3-1-1 3-4 2 0 4-4 4 3 3 2 0 2-6 4-2 6 2 1 1-2 4 5 1 3 3 0 4 4 2 1 7 3-3 0-8-3-3-2 0-3-3 0-2 3-3 2 0 1 3 5 5 1-1-2-4-6-6 0-4-6-4 4-4 0-2 7-1 1 1-6 4 7 1 4-6 10 0 1 1-2 2 7 3 2-2 4 0 6-6 1 7-2 2 0 12-2 4-4 2 3 1 2-2 2 6 9 1 0 4 2 2-1 3-2-2-2 2-6-8-5 1 2 2 0 6 5 1 3 3-3 1-1 3 5 5 2-4 3 1-2 4 2 2-4 4 0 4 2 4-1 1-5-1-2-4 0-6 4-2-3-3-4 0-2-2-1 1 2 2-1 1-8 0-2-4-6-2-3 3 1 1 4-2 1 3-7 1-3-3 0-4-3-3-6 0-1 1 5 5 2 0 1 3-1 1-10 0-1-5-4-6-1-9-1 9-11 5-1-3 2-2 0-10 5-1 1-3-9-3-3 7-31 31-4 0zM141 -72l-4 0-1-1 5-1 1 1zM27 -68l-3-1 3-3 1 1zM41 -66l-2 0-3-3 3-1 3 3zM-191 -54l-2 0-5-7 0-2 5-5 3 3 0 4 4 4zM-181 -56l-3-1 0-2 4-2-3-1-1-3 3-3 4 0 7 7-3 3-2-4-1 3zM-161 -52l-5-1 0-6-2-2 1-5 9 1-8 2 2 4 4 2zM113 -44l-10 0-9-9 0-8 1-1 2 2 4 0 4 4 6 0 5 5-2 2zM-135 54l-3-1 2-2 0-4-2-2 0-8-11-13-1 1 6 12 0 16-5 1-6-4-6 0-2-2-4 2-3-1 16-16-2-6-6-4 3-5 2 2 3-3-2-4 0-6 2-4 6-6-2-18-3-5-2 4-5 1 0 6 2 2 0 8-4 8 0 6 2 2-1 5-3-5 0-12-4-4 0-2 4-4 0-6-2-2 4-4-2-2 6-2-2-4 2-4-1-1-10 6-2-4-8 0-4 6-8-6-2 2-3-1 2-2 0-4-2-4 9-1 2-4 4 4 8 0 2-2 2 2 1-1-2-2 1-3 2 2 4 0 4 2 2-2 4 0 1-3 3-1 4-4 4-2 4 0 2-2 4 0 1 1-2 2 0 16-6 6 5 1 2-6 1 7-9 3-8-4-2 4-4-2-3 3 5 1 2 2 12 0 2 12 18 0 1-3 8-8 0-4 4-8 15-15 8 0 5 9 0 4 2 2 0 4 2 4 6 6 4 8-10 20-12 2 0 38-5 1-2-2-16 0-4 6-20 0zM29 -50l-6 0-2-6-2 6-3-3 0-2 3-3 10 0 3 3 0 2zM59 -46l-4 0-5-3 2-2-2-4 3-3 6 0 3 3 0 6zM140 -53l2-4-1-1-3 3 0 2 1 1zM152 -47l-2-4 2-4 4-2-1-1-6 2-3 5 3 5zM132 -51l2-2-3-3-1 1 2 2-2 2 1 1zM196 -27l1-5 4 2 3-1-1-3-5-1 0-2 6-6-2-2 4-2-6-2 2-2-1-3-2 4-6 0-3 3 0 6 2 2 0 4-6 2 1 7 6-6 1 3-2 2 1 1zM-144 -41l2-2-1-9-3 5 0 6 1 1zM85 -30l-3-1 0-4-4-8 2-4 5-5 2 0 1 5-2 2 3 3 6-6 1 5-2 4-3 3-2 0zM-9 -38l-5-1-1-9-1 5-5 1-2 4-4-2-3-3 0-2 7-5 14 0 5 3-6 2 0 4 2 2zM162 -45l2-2-1-1-3 1 0 2 1 1zM197 -42l-3-1 1-3 3 3zM305 20l-12 0-1-1 2-4-2-2-1-7-16 0-1-1 5-3 4 2 5-5 0-4 2-2 1-5 3 3 0 4 7 7 2 0 21-43 5-3 14 0 1 3-2 4-6 6 0 2-6 6 0 2-6 6 0 2-8 10-6 12 0 6zM-182 -37l-1-3-5 1 3 3zM-41 -14l-3-1 8-8 0-10 1-1 26 0 2-2 2 2 20 0 2 2 14 0 1 5 3 3 4-8 16 0 1 5 3 1 1-3-2-2 2-2 0-4 3-3 2 0 1 1-4 6 5 1 3 3 0 8-3 3-2-2-2 2-32 0-2-4-4-2-4 0-2-2-4 0-2 4-2-6-3 1 0 6 6 2-1 1-10 0-1-5-3-1-2-4-1 3 2 4-5 3-6 0-4-4-1 1 2 2-1 1-8 0-2-2-4 0zM210 -37l-1-3-3 1 1 3zM-167 -20l-10-4-3-3 3-3 4 4 4-2 3 3zM-22 -29l-1-1-5 1 1 1zM89 -26l-3-1 1-3 3 1zM214 -27l-1-3-3 1 1 3zM50 -21l-5-5-2 0-3 3 1 3zM23 -8l-4 0-2-4-2 2-1-3 3-3 6 0 3 3 0 2zM229 -12l-3-3 1-1 3 1zM248 -3l2-2-1-5-3 3 0 4 1 1zM49 8l-3-1 0-4 2-2-6-6 3-3 4 0 7 5-2 2 2 4zM202 1l0-4 1-1 2 2 3-3-3-3-2 0-5 5 0 4 1 1zM43 8l-4 0-7-5 0-4 3-5 2 0 3 3 4 8zM-108 5l-1-3-3 1 1 3zM-92 11l2-4-3-3-2 0-3 3 0 2 3 3zM262 9l0-2 4-2-1-1-2 0-3 3 0 2 1 1zM-138 15l3-3 4 0 1-3-3-1-4 2-2-2-1 7 1 1zM192 21l3-3 10-4 3-3-3-3-2 0-13 13 1 1zM258 11l-1-3-3 3 1 1zM300 11l-1-1-5 1 1 1zM-100 21l2-4-3-5-2 2-4 0-3 3 0 2 3 3zM49 20l-8 0-1-7 3-1 7 7zM55 20l-2 0-3-3 2-2-2-2 1-1 4 0 3 3 0 2zM287 20l-2 0-1-3 3-3 2 0 1 3zM85 20l-3-1 1-3 5 1zM264 31l-3-3-1 1 1 3zM268 31l2-2-1-1-3 3 1 1zM287 54l-3-3 2-2-2-6 3-3 3 3 0 6zM-110 45l-1-3-3 1 3 3z"/><path fill-rule="evenodd" fill="#000000" d="M113 -48l-4-2-12 0-1-5 1-1 10 0 2 4 4-2 3 3zM139 -46l-2-2-4 2-1-3 7-1 1 1zM-137 -22l-4 0-1-1 3-3 3 3zM-129 2l-1-3 3-1 1 1zM-85 10l-3-3 1-1 3 1zM-99 28l-3-1 3-3 1 1z"/></g><path d="M-336 -131l3-2 6-1-6-3 7-3 6-1 6-2 10 1 8 1 14 2 10 1 5-1 11-1 7 1 7 0 12 1 10 2 12 0 12 0 4-1 3-6 4 2 5 3 8 1 4-2 5 1 0 3-7 2-4 4-7 2-7 4-1 5 4 4 8 1 7 2 5 1 1 4 3 3 3 0 0-4 0-2 4-4-1-4-1-4 0-4 6 0 6 2 4 1 1 3 3 2 3-1 3-3 2 3 4 4 1 2 3 2 5 1 3 3 0 2-2 1-6 3-8 0-5 0-4 2-4 3 4-2 5-1 3 0-1 3-1 1 2 2 4 1 3 0 2-1 0 1-7 2-5 2 0-2 3-2-3 1-3 1-4 1-2 2 0 2 1 1-1 0-4 1-3 1 0 2-2 1-1 2-1 2 1 3-4 2-3 2-4 3-1 3 2 4 1 4-1 3-1-1-2-2-1-2-1-3-2-2-3 1-2-2-4 0-2 1 1 2-2 0-3-1-4 0-3 0-3 3-2 2 1 2-1 4-1 3 2 4 2 3 3 2 3-1 3 0 2-2 0-3 4-1 3 0-1 3 0 3-1 2-1 3 3 0 4 0 4 2-1 4 0 4 2 3 2 1 4-1 3 1 1 1 1 1 2-3 1-2 2-1 4-2 3-1-1 3 1 1-1 1-1-2 4-1 3 2 5 0 4 0 4 0-1 1 3 3 3 0 3 3 2 2 4 0 3 1 4 2 1 3 2 3 0 3 3 1 2 0 6 3 5 2 5 0 4 4 4 0 1 5-1 3-2 3-3 3-2 2 0 5 0 4-1 4-3 5-2 2-4 0-3 2-4 2-2 2 0 5-3 2-2 3-2 3-3 3-3 2-3 0-4-2 3 3 0 2-1 3-4 2-5 0-1 3-5 1 2 3 1 1-3 1-1 3-4 2 3 4-3 2-2 3-1 2 1 2-2 0 2 2 3 1 3 2-2 0-4 1-4-1-4-2-3-2-2-3-1-5 1-4 1-2 2-3 1-5-2-1 1-3 0-5 2-4 2-4 0-5 0-5 1-5 1-5 1-5-1-5-2-2-4-3-4-2-2-3-1-3-3-5-2-4-3-3 0-3 1-2 1-2-2-2 1-2 1-3 2-1 1-2 2-3 0-3 0-3-2-2-1-2-2 1-1 2-2-1-3 0-2-3-3-1-1-2-2-4-3 0-4-2-4-1-3-3-4 1-5-2-4-1-3-2-3-1-4-3 0-2 0-3-2-1-3-3-2-3-2-2-2-2-2-2-2-3-4-3 1 4 2 2 1 2 2 3 2 2 1 3 2 2-1 0-3-3-1-1-1-3-3-2-1-2-2-3-2-3-1-2-3-3-2-1-2 0-1-2-3-3-1-2-1-2-2-3 1-3-1-2 1-4 0-2 0-2-1-3 3 1 1-2-3-2-2-1-4-1-2-2-2-3-3-2-1-2-3-2-4-3-4-1-3-1-3-2-4 0-5 0-5-2-4 1-3 2-4 1 2-4-3 1-3 3-1 2-4 2-4 2-5 1-5 1-3 1 4-1 5-2 4-2 3-3-3-1-4 0-3-1-4-1-3-1 1-2-2-1 3-2 4-1 3-2-1 0-3 0-4 0-2 0-2-1zM-146 -156l8-2 8-3 8-3 16 0 16-2 26-1 16 1 8 2 16 1-10 3-4 4 1 3-5 3 2 3-4 4 0 2-7 3-9 2-8 3-7 2-6 2-3 3-2 6-4-1-7-1-3-3-3-4-3-4-1-4 5-2-5-2-2-2-2-3-2-3-5-3-8-1-10 1-7-2zM-123 -134l-3 4-3 4-3 1-5 0-6-2-6-2-6 0 1-3 7-2-5-3-7-3-7 0-10-1-4-2 2-3 8-1 10 0 8 2 8 2 7 2 3 2 1 2zM-158 -153l-10 0-11 0 0-4-7-2-4-2 10-3 20-2 20 0 16 1-4 2-12 2-8 2-4 2-4 2zM-160 -149l-16 0-8-2 8-2 12 0 4 2zM-237 -142l3 3 10 0 12 1 9-1 1-2-4-2-4-3-6-1-10 1-10 1zM-251 -144l4 2 6-1 4-2-2-3-9-1-2 2zM-234 -149l12 0 8-1 2-2-8-1-10 0-6 1zM-194 -146l-7 2-4-2 3-2 7 0zM-181 -145l-9 1-1-4 9 0zM-196 -150l-7-1 2-2 7 1zM-174 -157l-10 0-8-2 4-3 13 1 3 2zM-230 -152l-14 0 4-3 9 1zM-161 -127l-6 1-7-1 2-4 5-1 4 2zM-119 -95l2-3 2-3 2-2 2 0 0 3 3 1 2 2 1 2-2 2-3-1-2-1-5 0zM-257 -102l5 3 5 2-1-2-3-2-4-1zM-170 -44l3-2 4 0 3 0 4 1 4 3 4 2-3 0-4 0 0-1-2-2-4-1-3 0-3 0zM-149 -37l3-3 4 0 3 1 2 2-3 1-3 1-2-1-3 0zM-157 -37l4 1-1 0-2 0zM-134 -37l3 0 0 1-3 0zM-312 -41l2 1-1 2-1-1zM-317 -43l2 0-1 1zM-11 -72l-2-1-2-1-3 0 0-3-1 0 1-3 0-4-1-2 3-1 7 0 5 0 2-2 0-3-2-2-5-2 0-1 3-1 3 1-1-2 2 0 2 0 3-1 0-2 3-1 2-1 2-2 3-1 4 0 1-2-2-2 0-2 1-1 4-1 0 2 1 0-2 2 0 2 2 1 3-1 3 1 4-1 5-1 2 1 3-1 0-3 1-2 2 0 4 1-1-2-1-1 0-2 5 0 4 0 4-1-2 0-5-1-7 1-3-2 0-2 0-2 2-2 5-2 1-1-3-1-3 0-2 2-2 2-3 1-3 2 0 2-1 2 3 1 1 1-2 1-3 2 0 3-1 1-3 0-1 1-2 0-1-2-1-2-2-2-1-2-1 1-3 2-3 0-3-1 0-2-1-3 0-2 3-1 4-2 3-1 3-2 2-2 2-3 4-2 3-1 3-2 5 0 5-1 5-1 4 0 5 2 1 1 4 0 7 1 6 2 3 2 0 1-5 1-7-1-1 2 1 2 4 1 2-1 4 0 1-2 4-2 3 0 0-3 4 0 4 1 10-2 2 1 6-1 5-1 3-1 7 0 4 2 1 1 3-1 1-1-4-2 0-2 3-2 3-2 5 0 0 3 1 2-2 3 3 1 0 2-2 2 4-2 1-2-1-1-1-2 0-2 3-3 1 2 4 0 2-2 4 0-1-2 6 0 6-1 1-2 6-1 10-1 8-1 5-1 5-1 6 1 1 1 7 0 5 1 0 3-4 2 7 0 8 1 8 0 7-1 4 1 1 2 6 1 7 0 7-1 2-1 12 1 8 1 5 1 7 0 7 0 3 3 6 0 7 0 5-1 7 0 6 1 7 1 0 8-3 1-2 0 3 2 1 2-5 0-6 1-4 2-3 2-5-1-5 1-3 0-1 2-3 2 2 1-1 3-2 2-3 2-3 2-4 4-1-3 0-5 0-4 3-2 4-3 5-2 3-2-2-1-5 2-3-2-4 1-3 3-5 2-6-1-6 0-7 0-4 3-5 2-3 4-4 1 4 0 3 1 4 2 2 2-1 2-1 4 0 2-4 2-4 4-3 2-4 3-3-1-2 1-2 3-2 2-2 1 2 2 2 3 0 3-4 2-2 0 0-3 0-2-1-1-2-1-1 0 1-3-1-1-4 1-2 1 0-1 1-2-2-1-3 2-3 2-1 1 3 2 0 1 4-2 3 1-3 2-2 1-2 2 3 1 1 4 2 2-1 1 1 3-1 2-2 2-2 3-2 3-2 2-3 1-3 1-2 1-3 0-3 1-1 2-1-2-2 0-2 0-2 2-1 2 0 2 1 2 2 2 3 2 1 4-1 4-2 1-3 1-3 4 0-2-1-2-3-1-1-2-2-1-1-2-2 0 0 3-1 3-1 3 3 1 0 3 2 0 1 2 3 2 0 4 2 3-2 0-3-1-1-2-2-2 0-3-1-2-1-1-2-2 0-2 0-3 0-3-2-5 0-4-2-1-2 2-2 0 0-3-1-4-2-1-1-2-1-3-3 0-2 1-2 1-3 0 0 2-4 2-2 2-3 3-2 1-2 1-1 5 0 4-1 2-2 3-2 2-2-2-1-3-1-3-1-2-2-4-1-2-1-5 0-4-1-2-1 1-2 0-4-3 2-1-2-1-3-1-2-3-4 1-6 0-4-1-4 0-1-3-3 0-2 1-2-1-4-2-3-3-1-1-3 0 0 2 1 1 2 2 1 2 0 2 2 1 0-2 1 2 0 1 2 1 3 0 3-3 2-1 0 2 1 2 3 1 3 2-2 2-2 3-1 2-2 1-2 2-4 2-3 2-5 2-2 1-4 1-3 1-3 1-1-2 0-3-1-3-2-4-2-3-3-3 0-3-3-3-2-3-2-3-1-2-1-2-1 3-1-1-2-3 0 1 1 2 2 3 1 3 2 3 0 2 3 2 0 3 1 4 2 1 2 4 1 2 2 1 3 3 2 1-1 2 3 2 4-1 4 0 3-1 2-1 0 3-1 3-2 4-2 3-3 4-3 3-4 3-3 3-2 2-2 2-1 3-1 4 1 3 0 4 2 1 0 5 0 4-2 3-4 3-2 2-3 2 1 4 0 4-2 2-3 1 0 3-1 3-2 2-2 3-4 3-3 2-3 1-3 0-3 0-5 2-2-1-1-1-1-3-1-4-2-4-2-3-2-4 0-4-2-5-2-3-1-4 0-4 2-4 1-3-1-5-1-6-1-2-2-2-3-4-1-3 1-3 1-4-2-2-1-1-3 0-2 0-2-2-1-2-4 0-3 1-3 1-3 1-4 0-3 0-4 1-3-1-5-4-2-1-1-3-3-2-2-3-2-2-1-2-1-2 2-3 1-4-1-3-1-3 2-4 2-4 3-5 4-1 3-3 1-2-1-3 3-3 3-1 2-3 0-1 1 0 2 2 5 0 2-1 2-1 3-1 4-1 4 0 4 0 4-1 2 1 1 0-1 1 1 2-1 2-1 2 2 1 3 0 5 1 1 2 4 1 3 1 2-1 0-2 3-2 3 1 4 2 5 1 4 0 3-1 3 0 4 0 1-2 1-3 1-3 0-1 0-1-1 0-2-1-2 2-2 0-4-1-2 1-3-1-1-1 0-2-2-1 1-1-2-1 1-1-1-1 0-1-2 0-2 0-1 1-1 0-1 2 2 1-1 0 2 2-2 0 0 3-1 0-2-1-1-2 1-1-2-1-1-1-1-2 0-3-2-1-2-1-3-1-2-2-1-1-2-1-2 0 0 2 2 2 2 2 3 1 2 2 3 2-3-1-1 2 1 1-1 1-2 1 1-2-1-2-1-1-2-1-2-1-4-2-1-1-1-2-2-1-3 1-2 2-3-1-2 0-2 1 0 2-2 1-2 2-3 2 1 2-1 0-1 2-2 2-5 0-1 0zM-11 -100l3-1 2 0 4-1 5 0-1-2 1-1-2-1-1-1-1-2-2-1-1-2-1 0 1-3-4 0 2-2-4 0-1 1-1 2 1 1 0 2 1 1 0 1 3-1 1 2 0 1-3 0 0 1 1 1-2 1 2 1 2 0-3 1-1 1zM-12 -104l0-3 0-1 1-1-1-1-3-1-2 1 0 2-3 0 0 1 1 2-2 1 2 1 3-1 2 0zM-45 -128l1-1-4-2 3-2 4 1 4 0 5-1 3 1 2 2-2 1-5 1-4 1-4-1zM22 -157l5 1 6 3 4-2 8 0 5-2 4-2-7-1-10-1-5 1-8 0-3 1zM103 -143l3 1 6 1 3 0-4-2 1-2 3-2 4-2 5-2 8-1 6-2-4 0-6 1-9 1-7 2-2 2-3 2-2 1zM191 -158l8 2 10-1-1-2-10-3-7 0-4 2zM272 -148l8 1 7 1-3-3-7-2 5-1 9 1 8 0 1 2-8-1-7 2-7-2-5-1zM357 -142l3-1 0 1zM-360 -142l0-1 4 0 1 1zM-360 -130l3-1 5 0 4 2 3 0-1-2 4-1 3 0-4-2-5 0-4-2-5-1-3-1zM262 -68l1-1 3-2 4 0 2-2 2-2 1 1 2-1 2-2 1-3 0-2 3-1 0 3 1 1-2 3 0 2-1 3-1 1-2 0 0 1-3 0-1 0-2 2-2-2-2 0-3 1zM259 -67l1 2 0 2 2 1 1-1 0-2 0-2-1-1-2 1zM265 -66l1 0 3-1 0-1-2-1-2 1zM280 -83l2-1 2-1 3 1 2-2 2-1-2-1-3-1-2-2-1 2 0 2-2 1-1 1zM284 -92l3-1-2-2 1-3 3 0-2-5-1-3 0-3-2 1 1 4-1 2 0 4 0 2 0 3zM240 -46l1-3 2-2 1 2-1 3-1 2zM217 -38l2-2 2 0 1 1-2 2-2 0zM240 -33l1-4 2 0 2 1-1 3-1 2 0 3 2 0 3 2 0 1-2-2-4 0-1-1 0-3zM244 -14l2-2 2-1 3-3 2 5-1 2-1 2-3-2-1-2zM244 -21l2 3 3-2 2-2-1-3-2 0-2 2-2-1zM234 -17l4-3 1-3 0 2-4 4zM241 -27l2 1-1 2-1-1zM191 -11l4 1 2 2 4 3 2 1 3 3 2 3 2 2 2 2 0 4 0 2-3 0-2-2-3-3-2-3-1-2-3-3-1-2-2-2-2-2-2-3zM210 14l2-2 3 0 2 1 4 1 2-1 2 1 4 1 0 2-4 0-4-1-5 0-3-1-2-1zM218 -3l1 4 1 5 3 1 3-1 3 1 3 1 1-4 1-2 1-4 1-1 0-3 1-3 2-2-3-1-2-2-2 1-1 3-3 1-2 3-3 1-3 1zM239 11l2 0 0-4 1 2 4 1-2-4-1-2 2-2 2 0-4 0-3-3 2-2 4 1 3-1 0 2-4 0-3 0-2 2 0 1-1 2-1 2 1 1zM255 -4l1 0 1 1-1 2 1 2-1 1-1-3zM256 6l3 0 3 1-3 0zM252 6l2 1 0 1-2-1zM262 3l2-2 3 0 1 1 0 3 2 2 3-2 3-2 2 1 4 1 3 2 4 1 3 2 1 2 2 1 1 3 3 2 3 2-3 1-4-1-3-2-3-3-2 2-2 2-3-1-3-2-2 1-1-2 2-1-3-3-5-2-3-1-1-1-2-1 2-1-2-1zM297 11l3 0 3-2 1 0-1 2-3 1-3 0zM302 5l2 2 2 2-1 1-2-3zM160 -16l0-4 2 2 2 3-1 2-2 1-1-2zM99 24l1 5 1 3-2 2-1 6-2 6-2 4-3 1-3-1-1-3 0-3 2-4-1-5 1-3 4-1 3-2 1-2zM227 44l1 5 0 4 2 6 1 5-1 3 2 3 4 0 4-2 5 0 4-2 3-1 6-2 5 0 3 1 2 2 3 3 1 1 1-3 3-2-1 3 0 2 1-2 1 3 2 0 1 3 1 2 4 1 2 1 3-2 1 1 2 1 3-2 3-1 1-2 2-4 1-3 2-2 1-3 1-4-1-5-1-2-3-3-1-2-2-3-2-2-4-2-1-3-1-3 0-2-3-2-1-3-2-4-1 3-1 3 0 4-1 4-3 0-3-2-4-2-1-2 1-2 1-3-1 0-3 0-4-1-1 0-3 2-2 5-2 0-3-2-2 0-2 2-2 3-2 0-2 2-1 3-3 2-3 1-3 0-3 2-2 1-1 1zM289 81l4 1 4 0 0 2-1 2-2 1-2 0-2-3-1-1zM345 69l2 1 2 2 2 2 1 1 2 1 3-1-1 3-2 1 0 1-2 2-2 1-1 0 1-2-1-2-1-1 1-2 0-2-2-3zM345 81l3 1 0 2-1 2-1 2-3 1-1 3-3 1-2 0-4-1 1-2 3-2 4-2 1-2 2-1zM328 40l3 2 3 3-1 0-4-3zM355 35l2 0 0 1-2 0zM333 30l1 1 0 1zM-123 103l6 0 1 0-2 1-4 0zM185 -25l1-2 0 4zM65 -70l1 1 3-2-3 0zM47 -71l2 0 4 1-2 0-3 0zM25 -76l2 0 4-1-1 4-2-1zM17 -78l-1-4 2 0 2 1-1 3zM17 -83l0-2 2-1 0 2-1 1zM229 16l2 1-1 1zM232 17l2-1 4 1 0 1-5 0zM240 17l3 0 3 0-5 1zM238 19l2 0 2 1-2 1zM247 20l2-1 2-2 4 0-3 1-3 2zM311 12l1 1 0 1-2-1zM314 16l4 1-1 1zM320 19l2 1-2 0zM-333 -107l2-1-3 0zM-337 -106l2 0-1-1zM-354 -104l2 0-1 0zM-308 -114l3-2 0 1-3 1-1-1zM56 -83l2 1 4 0 4-2 4 0 4 1 3 1 6-1 0-2-3-2-3-2-2-1-2-1 3-1 3-2-4 0-4 1-1 2 3 0-3 1-3 1-2-2 2-1-2-1-3 0-2 1-1 2-2 1-1 3 0 1zM94 -90l1-1 2-1 1-1 4-1 4 0 0 3-3 2-1 1 1 2 2 2 1 2 2 1-1 2 1 2 0 2-4 1-3 0-3-1 0-2 1-2 0-2 1 0-3-3-2-2 0-2z" fill="none" stroke="#000" stroke-width="0.9" vector-effect="non-scaling-stroke" stroke-linejoin="round"/><path fill="none" stroke="#333" stroke-width="0.8" vector-effect="non-scaling-stroke" d="M-249 -101L-209 -101L-209 -68L-249 -68L-249 -101M-209 -101L-179 -101L-179 -54L-209 -68M199 -76L218 -76L233 -91L303 -91L263 -52L263 -40L199 -40L199 -76"/><path fill="none" stroke="#333" stroke-width="0.85" stroke-dasharray="3.2 1.3 0.8 1.3" vector-effect="non-scaling-stroke" d="M-260 -101L-245 -68M-20 -62L-20 -91L80 -91L80 -62M80 -91L149 -91L149 -62M79 -61L149 -61M119 -61L119 -48L132 -48M-40 -62L80 -62M-40 -62L-40 -16L-20 -11L15 -5M-40 -31L66 -31M15 18L80 18L63 71L15 71L15 18M49 18L49 71M186 -40L186 21L310 21M263 -40L263 -12L320 19M-159 30L-151 44L-155 66L-158 95L-149 95M-194 -54L-180 -43"/></g><rect x="351.50" y="17.50" width="331" height="140.70" fill="none" stroke="#333" stroke-width="1"/><text x="354.9" y="28.7" font-size="10.3" font-weight="bold" style="fill:#555">b</text><polygon points="350.30,169.60 365.20,166.50 365.20,172.70" fill="#ffffff"/><polygon points="682.80,169.60 668.00,166.50 668.00,172.70" fill="#000000"/><rect x="365.20" y="166.50" width="43.56" height="6.20" fill="#f0f550"/><rect x="408.46" y="166.50" width="43.56" height="6.20" fill="#ebe43a"/><rect x="451.71" y="166.50" width="43.56" height="6.20" fill="#e8942a"/><rect x="494.97" y="166.50" width="43.56" height="6.20" fill="#f42a16"/><rect x="538.23" y="166.50" width="43.56" height="6.20" fill="#d5261a"/><rect x="581.49" y="166.50" width="43.56" height="6.20" fill="#961010"/><rect x="624.74" y="166.50" width="43.56" height="6.20" fill="#520000"/><polygon points="350.30,169.60 365.20,166.50 668.00,166.50 682.80,169.60 668.00,172.70 365.20,172.70" fill="none" stroke="#222" stroke-width="0.7"/><line x1="365.20" y1="172.70" x2="365.20" y2="175.90" stroke="#111" stroke-width="0.9"/><text x="365.20" y="186.70" font-size="10" text-anchor="middle">14</text><line x1="408.46" y1="172.70" x2="408.46" y2="175.90" stroke="#111" stroke-width="0.9"/><text x="408.46" y="186.70" font-size="10" text-anchor="middle">16</text><line x1="451.71" y1="172.70" x2="451.71" y2="175.90" stroke="#111" stroke-width="0.9"/><text x="451.71" y="186.70" font-size="10" text-anchor="middle">18</text><line x1="494.97" y1="172.70" x2="494.97" y2="175.90" stroke="#111" stroke-width="0.9"/><text x="494.97" y="186.70" font-size="10" text-anchor="middle">20</text><line x1="538.23" y1="172.70" x2="538.23" y2="175.90" stroke="#111" stroke-width="0.9"/><text x="538.23" y="186.70" font-size="10" text-anchor="middle">22</text><line x1="581.49" y1="172.70" x2="581.49" y2="175.90" stroke="#111" stroke-width="0.9"/><text x="581.49" y="186.70" font-size="10" text-anchor="middle">24</text><line x1="624.74" y1="172.70" x2="624.74" y2="175.90" stroke="#111" stroke-width="0.9"/><text x="624.74" y="186.70" font-size="10" text-anchor="middle">26</text><line x1="668.00" y1="172.70" x2="668.00" y2="175.90" stroke="#111" stroke-width="0.9"/><text x="668.00" y="186.70" font-size="10" text-anchor="middle">28</text><text x="494.70" y="202.00" font-size="12.3">T<tspan font-size="8.6" dy="2.5">w</tspan><tspan x="513.00" dy="-2.5">(</tspan><tspan x="520.10" font-size="8.6" dy="-4.2">∘</tspan><tspan x="526.60" dy="4.2">C)</tspan></text><text x="2.6" y="222.9" font-size="12.3">T<tspan font-size="8.6" dy="2.6">2m</tspan><tspan dy="-2.6"> 99</tspan><tspan font-size="8.6" dy="-4.3">th</tspan><tspan dy="4.3"> percentile event</tspan></text><text x="333.1" y="222.9" font-size="12.3" text-anchor="end">Hist-IRR - Hist-NOI</text><g transform="translate(168.000 311.050) scale(0.459722)"><rect x="-360" y="-180" width="720" height="304.53" fill="#f5f5f5"/><path fill="#fff" d="M-11 -72l1-2 10-8 6-6 14-2 5-2 15 6 8 2 6 2 19 7 0 9-5 5-28 2-20-5-20-6-11-1zM53 -80l7 0 0-3-7 0zM54 -81l30 0 0-14-30 0zM92 -73l18 0 0-22-18 0zM115 -86l9 0 0-7-9 0zM64 -61l7 0 16 36-2 1-11-12-10-20zM95 -61l5-1 14 7-1 7-11 1-7-9zM18 -107l43 0 0-26-21 0-12 17-7 0-3 4zM64 -127l26 0 0-7-26 0zM-196 -62l34 0 1 12-5 5-7 2-2 5-9 4-12 0zM-192 -132l40 0 0 30-40 0zM-172 -126l28 0 0-16-28 0zM-252 -138l60 5 28-5 12-7-8-7 16-5 20-7-8-3-52 2-40 7-28 3zM-260 -101l15 33 11 0-12-28zM199 -76l19 0 15-15 70 0-40 39 0 12-64 0zM186 -40l77 0 0 28 57 31 0 2-134 0zM-40 -62l0 46 20 5 35 6 1-4-48-11-4-20 8-16 8-6zM15 18l65 0-17 53-48 0zM-20 -62l0-29 100 0 0 29zM80 -91l69 0 0 30-69 0zM-260 -101l15 33 36 0 30 14 0-47zM-159 30l8 14-4 22-3 29 10 0 2-25 5-34z"/><g clip-path="url(#land)"><rect x="-360" y="-180" width="720" height="320" fill="#ffffff"/><path fill-rule="evenodd" fill="#efcab6" d="M-89 -118l-7-1 0-4 2-2-1-3-3 3 0 2-3 1-7-7-4-8 2-2-9-9-18 0-4-2-1 1 1 3 4 0 7 5-4 2 2 4-1 1-2 0-4-4-2 4-6-6-8 4-1-3-3-1-2 2-5 1 2 2-1 3-2-2-6 0-4 2-5-5-1-3-8 4-4 0-2-2-1 3-3 1-2-2-4 0-1-1 2-2-5-1-2-2-2 4-4-4-2 2-8 0-1-3 3-3 6 0 1-3-2-2 3-1 2-4 6 0 6 6 1-5 3-3 2 2 4 0 1-1-2-2 3-3 6 2 2-6 3 1-2 2 1 3 4-6 4 2 4 0 2-4 4 2 4-2 4 2 2-4 3 1-2 2 1 1 4 0 6-4 8 8 4 0 2-2 16 0 8 6 1-3-4-4 0-2 1-1 10 0 2-2 4 2 2-2 4 0 5 5-2 2 1 3 2 0 4-6 2 0 1 5 3 1 3-3-2-4 5-5 1 7 3 5 2 0 4-4 4 0 1 1-4 4 3 1 4 4 2-2 3 3 4 8-4 2 0 4-1 1-1-3-3-1-2 10-4-2-4 0-2 2-6 0-4 4-4-2-4 4-4 2-4 0-2 2-1-7-3-1-1 1 2 4zM-47 -168l-3-1 3-3 1 1zM-111 -164l-2-2-3-1 5-1 1 1zM-94 -159l0-2 4-4-1-1-10 0-1 1 1 3 4-2 1 5 1 1zM-41 -158l-3-1 1-3 3 3zM-241 -154l-3-1 1-3 3 3zM-227 -150l-5-1-2-4 1-3 4 0 2 2 2-2 5 1-3 3-2 0zM-144 -149l-2-2-1-5-2 0-1 3-4 2 5 3zM-233 -144l-4-2-8 0-1-3 3-3 6 4 4-2 1 1zM143 -138l-2 0-4-4-5-1 2-4-2-2 3-3 7 3 2 4zM221 -118l-2-2-4 2-3-1 0-2 6-4-1-3-2 0-4 4-5-5-1-3-5-1 2-2 1-7 8 0 2 2 1-3 5-5 2 2 4-4 4 0 2 2 4 0 4-2 1 5 3 1 4 4 4 0 4-6 1 5 2 2-2 4 3 1 2-2 3 3 0 2-4 2-1 5-2-6-6 0-1 7-3 3-2-4-6 0-2 4-2-2-4 0-2 2-6 0zM359 -140l-1-1 1-7 1 1zM228 -141l4-4-1-1-5 1 0 4 1 1zM133 -136l-3-1 1-5 3 3zM193 -138l-3-1 3-3 1 1zM271 -134l-3-1 2-4-2-2 1-1 3 1zM-275 -136l-1-3 3-1 1 1zM-123 -134l-2-2-3-1 5-1 1 1zM-185 -126l-1-1 1-9 3 3 0 4zM-33 -128l-6 0-3-3 0-2 1-1 4 4 4 0 1 1zM-47 -124l-3-3 3-3 1 1zM277 -126l-3-1 1-3 3 1zM163 -86l-2-4-6 0-8-6-4 0-2 2-4 0-4-4-6 2-3-3 0-6 3-1 2 6 1-5-2-2 0-4 1-1 12 0 1-7 3-5 1 3 7 5 6-2 1 1-2 2 3 3 4-4 2 0 6 6 2 0 2-4 4 0 1 1-4 4 1 1 8 0 1-3-2-2 3-3 1 5 4 4-4 2 0 4-3 3-6 0-2 2-4 0-1 1 2 4-5 3-1-5-3-1-1 5zM233 -110l-1-3 3-1 1 1zM205 -100l-3-5 3-3 1 1zM7 -80l-4 0-1-1 5-1 1 1zM-161 -58l-2-2-5-1 0-6-2-4 5-5 3 1 1 5 2-6 4 2 4-2 1 5 2 2-9 7-2 0zM203 -68l-1-1 1-5 1 1zM275 -70l-3-1 1-3 3 1zM199 -68l-3-1 1-3 3 1zM263 -58l-2 0-1-3 3-3 2 0 1 3zM1 -58l-3-3 1-1 3 1zM-7 -56l-3-3 1-1 3 1zM35 -56l-2 0-3-3 5-1 1 1zM209 -52l-4 0-3-3 1-5 4 0 3 3zM-197 -32l-8 0-2-2-4 0-5-5 2-2-2-2 0-4 3-5 2 2 6-6 2 6 6 0 3 3 2 4 0 4zM-221 -44l-4 0-1-3 5-1 1 1zM-179 -38l-3-3 2-4 3-1 1 5zM-200 -41l-3-3-1 1 1 3zM13 -40l-3-3 1-1 3 1zM221 -36l-4 0-1-1 3-3 2 0 1 1zM57 -32l-1-3 3-1 1 1zM79 2l-2-2-4 0-4-4-3-1 0-6 2-2-5-5-7-1 5-1 2-2 4 0 4-6 5-1 0-4 3-3 4 4 3 1-2 4 2 2-2 2 10 8 0 6-3 1-4 4-2 0-2-4-3 5zM-15 -16l-6 0-5-5 2-2-2-4 1-5 4 0 2-2 4 2 4-2 5 5 1 3 2-2 5 1-1 7-6 0-2-2-2 4-4 0zM41 -2l-4-4-4 2-14-14-4 0-1-3 7-1 8-4 4 4 4-4 4 2 1-1-2-2 3-3 2 0 1 3 6 4 0 4-4 2 4 6-5 1-2 4-2-2zM-31 -22l-4 0-3-3 3-3 4 0 1 1zM82 -23l0-4-3-1-1 1 2 4 1 1zM-105 56l-6 0-3-3-1-7-1 3-3 1-3-3 0-2 4-2-1-1-4 0-1 5-3 3-7-3 0-2 4-2-1-3-6 0-2 4-4-2-1-3-6-4 0-2 4-2-3-3-4 6-3-3 0-4-2-4-4-4 0-6-4-2 1-3 4 0 2 2 4-2 4 2 1-1-2-4 0-6 2-2 1-7 2 4 8 0 2-2 4 2 1-1 0-2-6-6 0-2 3-1 1-3-3-3-2 0-1-1 1-1 8 0 1 5-2 2 5 3 4-2 6 0 1 1-2 4 3 3 3-1 1-5 2 4 2-2 4 0 5 5 0 2 7 7 3 1 1 3 2 0 2-4 5 3-2 2 1 1 4-2 5 3-2 4 2 4-4 2 2 4-2 4 2 2-5 1-4-2-1 1 2 4-5 5-3 1 0 8-1 1-2-4-4 0-5 5 2 4-1 1-2 0-6-6-1 5 4 4zM-16 -23l-1-1-5 1 1 1zM55 -14l-3-1 1-3 3 1zM19 -4l-3-1 0-4-4-6 1-1 5 1 0 8 2 2zM-9 -8l-4 0-3-3 7-1 1 1zM-161 0l-3-1 3-3 5 1zM-157 6l-3-1 4-4 1-3 1 5zM277 4l-3-1 1-5 3 3zM-76 17l0-4-1-1-3 3 0 2 1 1zM-67 20l-3-3 1-1 3 1zM247 26l-1-1 1-5 1 1zM267 36l-3-1 1-3 3 3zM-93 52l-1-3 3-3 1 3zM-123 56l-3-3 1-1 3 1zM-143 60l-3-1 3-3 1 1zM-129 60l-3-1 1-3 3 1zM-117 68l-1-5-4-4 1-3 2 0 5 7zM235 64l-1-3 3-1 1 1zM-119 70l-3-1 1-3 3 3zM-137 92l-4 0-1-3 3-1 3 3z"/><path fill-rule="evenodd" fill="#f0a285" d="M-79 -128l-4 0-2-4-2 2-4-4-4 0-2 4-2-4-4 2-1-1 4-4 0-2-3-1-2 2-5-3 5-1 3-3-2-2 2-4-3-1-2 6-1-7 9-5 4 4 2 0 4-6 6 2 1 1-2 2 0 6 2 2-3 3-4 0-2 2-1-5-5-1-1 1 2 2 0 6 1 1 10 0 2 2 4-2 2 2 1-1-2-2 1-5 8 0 2 2 1-3 4-2 0-2-3-3-2 0-1-3 3-3 6 2 1 5 4 2-3 1-5 7 0 4 4 4-1 1-10 0-2-2-2 2-2-2zM-185 -154l-1-3 3-1 1 1zM-199 -150l-3-1 0-2 3-3 1 1zM-157 -142l-3-3 0-4 5-5 1 3-2 2zM-117 -148l-4 0-1-3 1-1 4 2 1 1zM-69 -148l-3-1 3-3 1 1zM-137 -142l-2 0-3-3 5-1 1 1zM-81 -140l-4 0-1-1 5-1 1 1zM-66 -137l-1-3-3 1 1 3zM247 -126l-3-1 2-2 0-4-6-6 1-1 2 0 4 4 3 1zM221 -126l-1-5-6-2 0-2 3-3 2 2 2-2 7 9-5 1zM239 -132l-4 0-1-1 5-1 1 1zM155 -108l-5-5 1-1 2 0 3 3zM169 -106l-2-2-4 0-1-3 5-1 3 3zM157 -96l-3-1-2-4 1-1 3 1 2 4zM207 -54l-2 0-3-3 3-3 3 3zM85 -12l-3-1 3-5 1 1zM77 -6l-3-3 3-3 1 1zM-115 0l-7-1 3-5 2 2 7 1zM-123 4l-3-1 3-3 1 1zM-137 6l-3-1 3-3 1 1zM-97 6l-2 0-3-3 5-1 1 1zM-121 40l-7-1 4-6 0-4 2-2-1-1-4 2-1-3-3-1-2 2-6 0-2 4-3-1 0-8 2-2-2-2 3-1 4 2 3-3 2-4-3-1-1-3 3-3 1 3 3 3 4 0 4 6 8 0 3 3-2 4 0 6-3 3-3-3 4-4 0-2-3-3-12-6-1 1 1 5 6 0 5 5-4 8 0 4 2 2zM-111 14l-2 0-7-7 1-3 4 0 7 5zM-141 12l-5-3 1-3 5 1zM-149 20l-3-5 1-1 3 1zM-107 20l-1-1 1-5 1 1zM-85 26l-3-3 1-3 3 1zM-93 38l-5-5 0-4-2-2 3-3 3 1-2 4 4 6zM-133 32l-3-3 1-1 3 1zM-111 38l-1-5 3-1 1 3z"/><path fill-rule="evenodd" fill="#c9d9f5" d="M-21 -160l-4 0-1-1 3-3 3 3zM45 -150l-2-2-4 0-2-4-2 2-8 0-2-2-2 2-1-3 2-2 0-4 3-1 2 2 6 0 2-2 4 2 4-2 2 2 4 0 1 1-6 6 2 2zM21 -158l-4 0-1-1 5-3 1 1zM61 -142l-3-3 1-1 3 1zM323 -126l-2 0-3-3 4-4-3-3-6 6-8 0-2-2-6 2-7-9 0-2 5-1 4 4 4-2 2-4 2 0 4 4 4-4 4 0 5 3 0 6 2 2zM-319 -128l-4-2-4 0-2 2-1-1-2-4 0-4 3-5 10 0 2 2 4-2 3 1 0 4 2 4-5 1zM43 -94l-2-6-4 2-4-2-6 0-2 4-4 0-4-4-2 2-1-5 2-2-2-2 0-6-3-1-3-5 0-4 1-1 4 2 4-6 5-1 1-5 10 2 3-3 0-2 4-2 1-3 2 2 7 1-7 5-4 0-3 3 1 1 4-2 6 0 2 2 4-2 4 4 1-1 0-6-2-2 1-1 4 0 2 4 6-4 1 3 4 2-2 2 1 3 10 0 1-1-6-6 0-2 3-1 2 4 10 4 3 3 1 5 2 0 3-3-4-4 3-3 2 0 3 3-2 6 8 4-5 5-4-2-1 1 2 4-2 4 2 6-3 1-4-2-2 6-6 0-6-4-4 2-2-2-14 0-2 2-6 0-2-2-2 2-6 0zM349 -138l-3-1 3-3 1 1zM33 -138l-4 0-1-1 5-1 1 1zM-247 -128l-2-2-3-1 7-1 1 1zM-161 -124l-1-3 3-1 1 1zM-289 -120l-2 0-5-5 3-1 5 5zM-241 -120l-3-1 1-3 3 3zM287 -118l-3-3 1-3 2 0 3 3zM-257 -118l-3-1 1-3 3 1zM-209 -114l-3-3 1-1 3 1zM-189 -112l-6 0-2-2-4 0-1-3 5-1 4 2 4-2 1 1zM113 -112l-1-5 3-1 1 3zM-205 -60l-2-6-4 0-2-2-6 6-1-3-5-5-1 7-3 3-4 0-4-12-5 1 2 2-1 5-5-5 0-2-6-6-2-4 0-4 2-2 0-6-6-6-2-4 5-5 2 0 2-4 2 2 2-2 12 0 2-2 2 4 2-2 4 0 2-4 4 2 6 6 4 0 2 2 4 0 2-2 4 0 4 2 4-4 2 0 1 1-4 4 6 2-3 1-1 3 3 1 4-4 2 2 5 1-6 2 0 2 3 1 2 4 2-4 3 1 0 4-6 2 4 4-12 4 0 6 2 4-3 3-1-7-3-3-5 5 0 4-1 1-2-2zM317 -106l-3-3 1-1 7 1zM-171 -102l-3-1 1-3 5 1zM5 -102l-3-3 1-1 3 1zM-3 -98l-1-5 3-1 1 1zM-163 -94l-6 0-1-3 7-1 1 1zM159 -16l-4 0-9-7 0-4-4-4 0-4-11-11-6 0-6 6-5-5 4-2-1-5-8 4-2 4-4-6-4 6-2-6-4 2-4-4-2 2-4-4-4 0-1-1 4-4-5-5-5-1 4-6-2-2 8-2-2-4 0-8 1-1 4 2 2-2 4 0 4 4 2 0 1-1-4-4 5-1 2-2 2 4 3-3-2-2 0-4 3-1 3 3 1 5 2-2 8 0 4-2 2 4 8 0 2 2 6 0 1 5 3 3 2 0 1-3 3-1 2 8 4 0 1-3 3-1 2 8 10-2 4-4 2 0 1 1-6 6 2 2 0 4 4 2-2 6 8 2-4 4 0 4 2 2-4 2 2 2-1 1-4 2-4 0-9 9-2 4 0 4-1 1-2-2-1 1 2 2zM73 -92l-3-3 1-1 3 1zM45 -88l-3-1 3-3 1 1zM-161 -86l-3-1 1-3 3 1zM227 -52l-6-6-6 0-3-3 6-2 0-4-6-8 9-7 2 0 1 3 3 1 3-3-4-4 3-3 2 0 2 4 6 0 4 6 4 0 1 5-2 2-2 14-5 1-2 2-4 0-2-2zM-165 -82l-4 0-1-3 3-1 3 3zM207 -80l-2 0-3-3 5-1 1 1zM253 -64l-5-5 0-2 4-2-2-4 1-1 2 0 1 5 6 4-5 1zM65 -58l-1-1 0-10 3-1 3 3 0 2-4 4zM232 -63l0-4-3-1-1 5 1 1zM236 -65l2-2-1-1-3 1 0 2 1 1zM193 -58l-3-1 2-2 0-4 5-1 1 1zM75 -56l-3-1 1-5 3 1zM191 -46l-1-1 1-9 1 5 2 2zM223 -52l-4 0-1-1 5-1 1 1zM-21 -42l-2 0-5-5 5-1 3 3zM29 -40l-3-1 1-3 3 1zM189 -32l-3-1 1-3 3 3zM-151 -12l-2 0-3-3 0-2 3-3 4 0 2-2 1 3-4 2zM247 -16l-3-1 0-2 3-3 1 1zM203 -16l-3-1 3-3 1 1zM-143 -12l-3-1 1-3 3 1zM29 6l-1-1 1-7 1 1zM243 14l-3-3 3-5 3 3 0 2zM311 16l-1-1 1-5 1 1zM215 20l-3-1 1-5 3 1zM41 26l-3-3 1-1 5 1zM55 54l-4 0-1-3-5-3-8 0-4 4-3-7 4-2-6-6 5-3 4 2 6-8 4 0 8 4 1-5 3-3 2 6 4-2 3 3-4 2 1 3 4 0 2-2 3 3-4 4 3 3 2 0 1 3-3 3-2-4-8 0-1 3zM27 34l-3-1 3-3 2 0 1 1zM52 41l-1-3-3 1 3 3zM283 46l-3-3 1-3 2 0 3 3zM291 66l-7-7 2-4-3-3-2 0-1-3 5-1 2-4 4 2 1-3 3-1 1 5-2 2 4 4 0 2-4 4zM251 54l-3-1 1-3 3 1zM301 54l-1-3 3-1 1 1zM67 56l-3-1 1-3 3 3zM-129 70l-3-1 1-3 3 1z"/><path fill-rule="evenodd" fill="#a5c0f7" d="M37 -158l-3-1 1-3 3 1zM49 -100l-8-4-6 0-3-3-1-5-6 2-1-3 7-7 4 0 3-3 0-2 3-1 2 8 2-2 8 0 2-2 4 4 4-4 2 0 2 6 4-2 8 4 2-2 3 5-3 7-4-2-6 4-6 0-2-2-2 2-10 0zM75 -120l-1-1 1-5 1 1zM91 -114l-3-1 2-2-2-2 1-3 3 1zM105 -118l-3-1 1-3 3 3zM31 -102l-3-3 1-1 3 1zM-217 -68l-6-4-10 2-4-4-6 0-1-3-4-4 0-2 3-1 1-3-5-1-3-3 0-2 5-1 2-2 2 2 6-4 1 3 3 1 1-1-2-4 3-3 2 0 1 1-2 2 1 3 5-5 1-3 7 5-4 2 2 4 5 3 1-7 3-1 3 3-2 2 2 2 0 10 2 2 0 4-5 1-2-6-3 3 0 6zM-201 -98l-5-1 1-5 5 5zM-197 -86l-1-7 3-1 3 3zM159 -24l-8-4-4 0-5-5 0-2-13-13-2 0-4-4-2 2-4-4-6 0-2-2-12 0-2 2-4-2-3-7-6-8 6-4 0-6 1-1 4 4 2 0 4-4 8 0 4-4 10 0 4 4 4-2 6 0 2 4 4-2 3 3 0 2 3 1 4 4 4 0 8 6 2-4 4 2 4 6 4 0 1 5 4 4-2 4 0 6-2 4-3 1-9 9-1 3-4 0zM225 -70l-2 0-3-3 3-3 3 3zM243 -68l-1-1 1-5 1 1zM108 -59l2-2-2-2 0-4-3-1-1 5-1 1-2-2-1 1 5 5zM96 -59l2-2-1-1-3 1 0 2 1 1zM55 38l-3-3 1-1 3 1zM289 54l-3-3 3-3 1 1z"/><path fill-rule="evenodd" fill="#7b9cf4" d="M-217 -84l-3-1 1-3 3 3zM-229 -78l-5-1 3-1 2-4 1 1zM159 -28l-3-1 0-4 2-2-1-1-4 4-2 0-3-3 0-2-3-3-2 0-3-3 0-2-6-4 0-2 4-4-1-1-2 0-2 4-4 0-8-8-2 0-3-3 2-6-4-4 1-1 2 0 3 3 1 5 3-1 0-4-2-2 1-3 4 2 2 4 4-2 6 0 2 6 4-2 4 2 2-2 4 4 10 0 6 6 3 1 2 4 0 6-4 4 0 4-5 5-6 0z"/></g><path d="M-336 -131l3-2 6-1-6-3 7-3 6-1 6-2 10 1 8 1 14 2 10 1 5-1 11-1 7 1 7 0 12 1 10 2 12 0 12 0 4-1 3-6 4 2 5 3 8 1 4-2 5 1 0 3-7 2-4 4-7 2-7 4-1 5 4 4 8 1 7 2 5 1 1 4 3 3 3 0 0-4 0-2 4-4-1-4-1-4 0-4 6 0 6 2 4 1 1 3 3 2 3-1 3-3 2 3 4 4 1 2 3 2 5 1 3 3 0 2-2 1-6 3-8 0-5 0-4 2-4 3 4-2 5-1 3 0-1 3-1 1 2 2 4 1 3 0 2-1 0 1-7 2-5 2 0-2 3-2-3 1-3 1-4 1-2 2 0 2 1 1-1 0-4 1-3 1 0 2-2 1-1 2-1 2 1 3-4 2-3 2-4 3-1 3 2 4 1 4-1 3-1-1-2-2-1-2-1-3-2-2-3 1-2-2-4 0-2 1 1 2-2 0-3-1-4 0-3 0-3 3-2 2 1 2-1 4-1 3 2 4 2 3 3 2 3-1 3 0 2-2 0-3 4-1 3 0-1 3 0 3-1 2-1 3 3 0 4 0 4 2-1 4 0 4 2 3 2 1 4-1 3 1 1 1 1 1 2-3 1-2 2-1 4-2 3-1-1 3 1 1-1 1-1-2 4-1 3 2 5 0 4 0 4 0-1 1 3 3 3 0 3 3 2 2 4 0 3 1 4 2 1 3 2 3 0 3 3 1 2 0 6 3 5 2 5 0 4 4 4 0 1 5-1 3-2 3-3 3-2 2 0 5 0 4-1 4-3 5-2 2-4 0-3 2-4 2-2 2 0 5-3 2-2 3-2 3-3 3-3 2-3 0-4-2 3 3 0 2-1 3-4 2-5 0-1 3-5 1 2 3 1 1-3 1-1 3-4 2 3 4-3 2-2 3-1 2 1 2-2 0 2 2 3 1 3 2-2 0-4 1-4-1-4-2-3-2-2-3-1-5 1-4 1-2 2-3 1-5-2-1 1-3 0-5 2-4 2-4 0-5 0-5 1-5 1-5 1-5-1-5-2-2-4-3-4-2-2-3-1-3-3-5-2-4-3-3 0-3 1-2 1-2-2-2 1-2 1-3 2-1 1-2 2-3 0-3 0-3-2-2-1-2-2 1-1 2-2-1-3 0-2-3-3-1-1-2-2-4-3 0-4-2-4-1-3-3-4 1-5-2-4-1-3-2-3-1-4-3 0-2 0-3-2-1-3-3-2-3-2-2-2-2-2-2-2-3-4-3 1 4 2 2 1 2 2 3 2 2 1 3 2 2-1 0-3-3-1-1-1-3-3-2-1-2-2-3-2-3-1-2-3-3-2-1-2 0-1-2-3-3-1-2-1-2-2-3 1-3-1-2 1-4 0-2 0-2-1-3 3 1 1-2-3-2-2-1-4-1-2-2-2-3-3-2-1-2-3-2-4-3-4-1-3-1-3-2-4 0-5 0-5-2-4 1-3 2-4 1 2-4-3 1-3 3-1 2-4 2-4 2-5 1-5 1-3 1 4-1 5-2 4-2 3-3-3-1-4 0-3-1-4-1-3-1 1-2-2-1 3-2 4-1 3-2-1 0-3 0-4 0-2 0-2-1zM-146 -156l8-2 8-3 8-3 16 0 16-2 26-1 16 1 8 2 16 1-10 3-4 4 1 3-5 3 2 3-4 4 0 2-7 3-9 2-8 3-7 2-6 2-3 3-2 6-4-1-7-1-3-3-3-4-3-4-1-4 5-2-5-2-2-2-2-3-2-3-5-3-8-1-10 1-7-2zM-123 -134l-3 4-3 4-3 1-5 0-6-2-6-2-6 0 1-3 7-2-5-3-7-3-7 0-10-1-4-2 2-3 8-1 10 0 8 2 8 2 7 2 3 2 1 2zM-158 -153l-10 0-11 0 0-4-7-2-4-2 10-3 20-2 20 0 16 1-4 2-12 2-8 2-4 2-4 2zM-160 -149l-16 0-8-2 8-2 12 0 4 2zM-237 -142l3 3 10 0 12 1 9-1 1-2-4-2-4-3-6-1-10 1-10 1zM-251 -144l4 2 6-1 4-2-2-3-9-1-2 2zM-234 -149l12 0 8-1 2-2-8-1-10 0-6 1zM-194 -146l-7 2-4-2 3-2 7 0zM-181 -145l-9 1-1-4 9 0zM-196 -150l-7-1 2-2 7 1zM-174 -157l-10 0-8-2 4-3 13 1 3 2zM-230 -152l-14 0 4-3 9 1zM-161 -127l-6 1-7-1 2-4 5-1 4 2zM-119 -95l2-3 2-3 2-2 2 0 0 3 3 1 2 2 1 2-2 2-3-1-2-1-5 0zM-257 -102l5 3 5 2-1-2-3-2-4-1zM-170 -44l3-2 4 0 3 0 4 1 4 3 4 2-3 0-4 0 0-1-2-2-4-1-3 0-3 0zM-149 -37l3-3 4 0 3 1 2 2-3 1-3 1-2-1-3 0zM-157 -37l4 1-1 0-2 0zM-134 -37l3 0 0 1-3 0zM-312 -41l2 1-1 2-1-1zM-317 -43l2 0-1 1zM-11 -72l-2-1-2-1-3 0 0-3-1 0 1-3 0-4-1-2 3-1 7 0 5 0 2-2 0-3-2-2-5-2 0-1 3-1 3 1-1-2 2 0 2 0 3-1 0-2 3-1 2-1 2-2 3-1 4 0 1-2-2-2 0-2 1-1 4-1 0 2 1 0-2 2 0 2 2 1 3-1 3 1 4-1 5-1 2 1 3-1 0-3 1-2 2 0 4 1-1-2-1-1 0-2 5 0 4 0 4-1-2 0-5-1-7 1-3-2 0-2 0-2 2-2 5-2 1-1-3-1-3 0-2 2-2 2-3 1-3 2 0 2-1 2 3 1 1 1-2 1-3 2 0 3-1 1-3 0-1 1-2 0-1-2-1-2-2-2-1-2-1 1-3 2-3 0-3-1 0-2-1-3 0-2 3-1 4-2 3-1 3-2 2-2 2-3 4-2 3-1 3-2 5 0 5-1 5-1 4 0 5 2 1 1 4 0 7 1 6 2 3 2 0 1-5 1-7-1-1 2 1 2 4 1 2-1 4 0 1-2 4-2 3 0 0-3 4 0 4 1 10-2 2 1 6-1 5-1 3-1 7 0 4 2 1 1 3-1 1-1-4-2 0-2 3-2 3-2 5 0 0 3 1 2-2 3 3 1 0 2-2 2 4-2 1-2-1-1-1-2 0-2 3-3 1 2 4 0 2-2 4 0-1-2 6 0 6-1 1-2 6-1 10-1 8-1 5-1 5-1 6 1 1 1 7 0 5 1 0 3-4 2 7 0 8 1 8 0 7-1 4 1 1 2 6 1 7 0 7-1 2-1 12 1 8 1 5 1 7 0 7 0 3 3 6 0 7 0 5-1 7 0 6 1 7 1 0 8-3 1-2 0 3 2 1 2-5 0-6 1-4 2-3 2-5-1-5 1-3 0-1 2-3 2 2 1-1 3-2 2-3 2-3 2-4 4-1-3 0-5 0-4 3-2 4-3 5-2 3-2-2-1-5 2-3-2-4 1-3 3-5 2-6-1-6 0-7 0-4 3-5 2-3 4-4 1 4 0 3 1 4 2 2 2-1 2-1 4 0 2-4 2-4 4-3 2-4 3-3-1-2 1-2 3-2 2-2 1 2 2 2 3 0 3-4 2-2 0 0-3 0-2-1-1-2-1-1 0 1-3-1-1-4 1-2 1 0-1 1-2-2-1-3 2-3 2-1 1 3 2 0 1 4-2 3 1-3 2-2 1-2 2 3 1 1 4 2 2-1 1 1 3-1 2-2 2-2 3-2 3-2 2-3 1-3 1-2 1-3 0-3 1-1 2-1-2-2 0-2 0-2 2-1 2 0 2 1 2 2 2 3 2 1 4-1 4-2 1-3 1-3 4 0-2-1-2-3-1-1-2-2-1-1-2-2 0 0 3-1 3-1 3 3 1 0 3 2 0 1 2 3 2 0 4 2 3-2 0-3-1-1-2-2-2 0-3-1-2-1-1-2-2 0-2 0-3 0-3-2-5 0-4-2-1-2 2-2 0 0-3-1-4-2-1-1-2-1-3-3 0-2 1-2 1-3 0 0 2-4 2-2 2-3 3-2 1-2 1-1 5 0 4-1 2-2 3-2 2-2-2-1-3-1-3-1-2-2-4-1-2-1-5 0-4-1-2-1 1-2 0-4-3 2-1-2-1-3-1-2-3-4 1-6 0-4-1-4 0-1-3-3 0-2 1-2-1-4-2-3-3-1-1-3 0 0 2 1 1 2 2 1 2 0 2 2 1 0-2 1 2 0 1 2 1 3 0 3-3 2-1 0 2 1 2 3 1 3 2-2 2-2 3-1 2-2 1-2 2-4 2-3 2-5 2-2 1-4 1-3 1-3 1-1-2 0-3-1-3-2-4-2-3-3-3 0-3-3-3-2-3-2-3-1-2-1-2-1 3-1-1-2-3 0 1 1 2 2 3 1 3 2 3 0 2 3 2 0 3 1 4 2 1 2 4 1 2 2 1 3 3 2 1-1 2 3 2 4-1 4 0 3-1 2-1 0 3-1 3-2 4-2 3-3 4-3 3-4 3-3 3-2 2-2 2-1 3-1 4 1 3 0 4 2 1 0 5 0 4-2 3-4 3-2 2-3 2 1 4 0 4-2 2-3 1 0 3-1 3-2 2-2 3-4 3-3 2-3 1-3 0-3 0-5 2-2-1-1-1-1-3-1-4-2-4-2-3-2-4 0-4-2-5-2-3-1-4 0-4 2-4 1-3-1-5-1-6-1-2-2-2-3-4-1-3 1-3 1-4-2-2-1-1-3 0-2 0-2-2-1-2-4 0-3 1-3 1-3 1-4 0-3 0-4 1-3-1-5-4-2-1-1-3-3-2-2-3-2-2-1-2-1-2 2-3 1-4-1-3-1-3 2-4 2-4 3-5 4-1 3-3 1-2-1-3 3-3 3-1 2-3 0-1 1 0 2 2 5 0 2-1 2-1 3-1 4-1 4 0 4 0 4-1 2 1 1 0-1 1 1 2-1 2-1 2 2 1 3 0 5 1 1 2 4 1 3 1 2-1 0-2 3-2 3 1 4 2 5 1 4 0 3-1 3 0 4 0 1-2 1-3 1-3 0-1 0-1-1 0-2-1-2 2-2 0-4-1-2 1-3-1-1-1 0-2-2-1 1-1-2-1 1-1-1-1 0-1-2 0-2 0-1 1-1 0-1 2 2 1-1 0 2 2-2 0 0 3-1 0-2-1-1-2 1-1-2-1-1-1-1-2 0-3-2-1-2-1-3-1-2-2-1-1-2-1-2 0 0 2 2 2 2 2 3 1 2 2 3 2-3-1-1 2 1 1-1 1-2 1 1-2-1-2-1-1-2-1-2-1-4-2-1-1-1-2-2-1-3 1-2 2-3-1-2 0-2 1 0 2-2 1-2 2-3 2 1 2-1 0-1 2-2 2-5 0-1 0zM-11 -100l3-1 2 0 4-1 5 0-1-2 1-1-2-1-1-1-1-2-2-1-1-2-1 0 1-3-4 0 2-2-4 0-1 1-1 2 1 1 0 2 1 1 0 1 3-1 1 2 0 1-3 0 0 1 1 1-2 1 2 1 2 0-3 1-1 1zM-12 -104l0-3 0-1 1-1-1-1-3-1-2 1 0 2-3 0 0 1 1 2-2 1 2 1 3-1 2 0zM-45 -128l1-1-4-2 3-2 4 1 4 0 5-1 3 1 2 2-2 1-5 1-4 1-4-1zM22 -157l5 1 6 3 4-2 8 0 5-2 4-2-7-1-10-1-5 1-8 0-3 1zM103 -143l3 1 6 1 3 0-4-2 1-2 3-2 4-2 5-2 8-1 6-2-4 0-6 1-9 1-7 2-2 2-3 2-2 1zM191 -158l8 2 10-1-1-2-10-3-7 0-4 2zM272 -148l8 1 7 1-3-3-7-2 5-1 9 1 8 0 1 2-8-1-7 2-7-2-5-1zM357 -142l3-1 0 1zM-360 -142l0-1 4 0 1 1zM-360 -130l3-1 5 0 4 2 3 0-1-2 4-1 3 0-4-2-5 0-4-2-5-1-3-1zM262 -68l1-1 3-2 4 0 2-2 2-2 1 1 2-1 2-2 1-3 0-2 3-1 0 3 1 1-2 3 0 2-1 3-1 1-2 0 0 1-3 0-1 0-2 2-2-2-2 0-3 1zM259 -67l1 2 0 2 2 1 1-1 0-2 0-2-1-1-2 1zM265 -66l1 0 3-1 0-1-2-1-2 1zM280 -83l2-1 2-1 3 1 2-2 2-1-2-1-3-1-2-2-1 2 0 2-2 1-1 1zM284 -92l3-1-2-2 1-3 3 0-2-5-1-3 0-3-2 1 1 4-1 2 0 4 0 2 0 3zM240 -46l1-3 2-2 1 2-1 3-1 2zM217 -38l2-2 2 0 1 1-2 2-2 0zM240 -33l1-4 2 0 2 1-1 3-1 2 0 3 2 0 3 2 0 1-2-2-4 0-1-1 0-3zM244 -14l2-2 2-1 3-3 2 5-1 2-1 2-3-2-1-2zM244 -21l2 3 3-2 2-2-1-3-2 0-2 2-2-1zM234 -17l4-3 1-3 0 2-4 4zM241 -27l2 1-1 2-1-1zM191 -11l4 1 2 2 4 3 2 1 3 3 2 3 2 2 2 2 0 4 0 2-3 0-2-2-3-3-2-3-1-2-3-3-1-2-2-2-2-2-2-3zM210 14l2-2 3 0 2 1 4 1 2-1 2 1 4 1 0 2-4 0-4-1-5 0-3-1-2-1zM218 -3l1 4 1 5 3 1 3-1 3 1 3 1 1-4 1-2 1-4 1-1 0-3 1-3 2-2-3-1-2-2-2 1-1 3-3 1-2 3-3 1-3 1zM239 11l2 0 0-4 1 2 4 1-2-4-1-2 2-2 2 0-4 0-3-3 2-2 4 1 3-1 0 2-4 0-3 0-2 2 0 1-1 2-1 2 1 1zM255 -4l1 0 1 1-1 2 1 2-1 1-1-3zM256 6l3 0 3 1-3 0zM252 6l2 1 0 1-2-1zM262 3l2-2 3 0 1 1 0 3 2 2 3-2 3-2 2 1 4 1 3 2 4 1 3 2 1 2 2 1 1 3 3 2 3 2-3 1-4-1-3-2-3-3-2 2-2 2-3-1-3-2-2 1-1-2 2-1-3-3-5-2-3-1-1-1-2-1 2-1-2-1zM297 11l3 0 3-2 1 0-1 2-3 1-3 0zM302 5l2 2 2 2-1 1-2-3zM160 -16l0-4 2 2 2 3-1 2-2 1-1-2zM99 24l1 5 1 3-2 2-1 6-2 6-2 4-3 1-3-1-1-3 0-3 2-4-1-5 1-3 4-1 3-2 1-2zM227 44l1 5 0 4 2 6 1 5-1 3 2 3 4 0 4-2 5 0 4-2 3-1 6-2 5 0 3 1 2 2 3 3 1 1 1-3 3-2-1 3 0 2 1-2 1 3 2 0 1 3 1 2 4 1 2 1 3-2 1 1 2 1 3-2 3-1 1-2 2-4 1-3 2-2 1-3 1-4-1-5-1-2-3-3-1-2-2-3-2-2-4-2-1-3-1-3 0-2-3-2-1-3-2-4-1 3-1 3 0 4-1 4-3 0-3-2-4-2-1-2 1-2 1-3-1 0-3 0-4-1-1 0-3 2-2 5-2 0-3-2-2 0-2 2-2 3-2 0-2 2-1 3-3 2-3 1-3 0-3 2-2 1-1 1zM289 81l4 1 4 0 0 2-1 2-2 1-2 0-2-3-1-1zM345 69l2 1 2 2 2 2 1 1 2 1 3-1-1 3-2 1 0 1-2 2-2 1-1 0 1-2-1-2-1-1 1-2 0-2-2-3zM345 81l3 1 0 2-1 2-1 2-3 1-1 3-3 1-2 0-4-1 1-2 3-2 4-2 1-2 2-1zM328 40l3 2 3 3-1 0-4-3zM355 35l2 0 0 1-2 0zM333 30l1 1 0 1zM-123 103l6 0 1 0-2 1-4 0zM185 -25l1-2 0 4zM65 -70l1 1 3-2-3 0zM47 -71l2 0 4 1-2 0-3 0zM25 -76l2 0 4-1-1 4-2-1zM17 -78l-1-4 2 0 2 1-1 3zM17 -83l0-2 2-1 0 2-1 1zM229 16l2 1-1 1zM232 17l2-1 4 1 0 1-5 0zM240 17l3 0 3 0-5 1zM238 19l2 0 2 1-2 1zM247 20l2-1 2-2 4 0-3 1-3 2zM311 12l1 1 0 1-2-1zM314 16l4 1-1 1zM320 19l2 1-2 0zM-333 -107l2-1-3 0zM-337 -106l2 0-1-1zM-354 -104l2 0-1 0zM-308 -114l3-2 0 1-3 1-1-1zM56 -83l2 1 4 0 4-2 4 0 4 1 3 1 6-1 0-2-3-2-3-2-2-1-2-1 3-1 3-2-4 0-4 1-1 2 3 0-3 1-3 1-2-2 2-1-2-1-3 0-2 1-1 2-2 1-1 3 0 1zM94 -90l1-1 2-1 1-1 4-1 4 0 0 3-3 2-1 1 1 2 2 2 1 2 2 1-1 2 1 2 0 2-4 1-3 0-3-1 0-2 1-2 0-2 1 0-3-3-2-2 0-2z" fill="none" stroke="#000" stroke-width="0.9" vector-effect="non-scaling-stroke" stroke-linejoin="round"/><path fill="none" stroke="#333" stroke-width="0.8" vector-effect="non-scaling-stroke" d="M-249 -101L-209 -101L-209 -68L-249 -68L-249 -101M-209 -101L-179 -101L-179 -54L-209 -68M199 -76L218 -76L233 -91L303 -91L263 -52L263 -40L199 -40L199 -76"/><path fill="none" stroke="#333" stroke-width="0.85" stroke-dasharray="3.2 1.3 0.8 1.3" vector-effect="non-scaling-stroke" d="M-260 -101L-245 -68M-20 -62L-20 -91L80 -91L80 -62M80 -91L149 -91L149 -62M79 -61L149 -61M119 -61L119 -48L132 -48M-40 -62L80 -62M-40 -62L-40 -16L-20 -11L15 -5M-40 -31L66 -31M15 18L80 18L63 71L15 71L15 18M49 18L49 71M186 -40L186 21L310 21M263 -40L263 -12L320 19M-159 30L-151 44L-155 66L-158 95L-149 95M-194 -54L-180 -43"/><path stroke="#000" stroke-width="1.25" stroke-linecap="square" vector-effect="non-scaling-stroke" d="M-86 -135h0M-80 -135h0M-66 -135h0M-90 -142h0M-83 -142h0M-76 -142h0M-69 -142h0M-62 -142h0M-86 -149h0M-80 -149h0M-72 -149h0M-66 -149h0M-166 -143h0M-166 -157h0M-160 -157h0M-232 -79h0M-224 -79h0M-235 -86h0M-228 -86h0M-214 -86h0M-232 -93h0M-224 -93h0M-200 -84h0M-140 31h0M-126 31h0M-144 24h0M-137 24h0M-130 24h0M-123 24h0M-140 17h0M-126 17h0M49 -110h0M63 -110h0M70 -110h0M77 -110h0M84 -110h0M91 -110h0M116 -46h0M144 -46h0M120 -53h0M134 -53h0M140 -53h0M148 -53h0M154 -53h0M162 -53h0M95 -60h0M102 -60h0M109 -60h0M116 -60h0M130 -60h0M137 -60h0M144 -60h0M151 -60h0M158 -60h0M98 -67h0M106 -67h0M112 -67h0M120 -67h0M134 -67h0M140 -67h0M148 -67h0M154 -67h0M162 -67h0M123 -74h0M130 -74h0M137 -74h0M144 -74h0M164 -37h0M153 -44h0M167 -44h0M156 -51h0M164 -51h0M223 -74h0M230 -74h0M237 -74h0"/></g><rect x="2.50" y="228.30" width="331" height="140.00" fill="none" stroke="#333" stroke-width="1"/><text x="5.9" y="239.5" font-size="10.3" font-weight="bold" style="fill:#555">c</text><polygon points="1.30,380.40 16.20,377.30 16.20,383.50" fill="#4050d0"/><polygon points="333.80,380.40 319.00,377.30 319.00,383.50" fill="#d24b43"/><rect x="16.20" y="377.30" width="43.56" height="6.20" fill="#7b9cf4"/><rect x="59.46" y="377.30" width="43.56" height="6.20" fill="#a5c0f7"/><rect x="102.71" y="377.30" width="43.56" height="6.20" fill="#c9d9f5"/><rect x="145.97" y="377.30" width="43.56" height="6.20" fill="#ffffff"/><rect x="189.23" y="377.30" width="43.56" height="6.20" fill="#efcab6"/><rect x="232.49" y="377.30" width="43.56" height="6.20" fill="#f0a285"/><rect x="275.74" y="377.30" width="43.56" height="6.20" fill="#e57a62"/><polygon points="1.30,380.40 16.20,377.30 319.00,377.30 333.80,380.40 319.00,383.50 16.20,383.50" fill="none" stroke="#222" stroke-width="0.7"/><line x1="16.20" y1="383.50" x2="16.20" y2="386.70" stroke="#111" stroke-width="0.9"/><text x="16.20" y="397.50" font-size="10" text-anchor="middle">−100</text><line x1="59.46" y1="383.50" x2="59.46" y2="386.70" stroke="#111" stroke-width="0.9"/><text x="59.46" y="397.50" font-size="10" text-anchor="middle">−50</text><line x1="102.71" y1="383.50" x2="102.71" y2="386.70" stroke="#111" stroke-width="0.9"/><text x="102.71" y="397.50" font-size="10" text-anchor="middle">−25</text><line x1="145.97" y1="383.50" x2="145.97" y2="386.70" stroke="#111" stroke-width="0.9"/><text x="145.97" y="397.50" font-size="10" text-anchor="middle">−10</text><line x1="189.23" y1="383.50" x2="189.23" y2="386.70" stroke="#111" stroke-width="0.9"/><text x="189.23" y="397.50" font-size="10" text-anchor="middle">+10</text><line x1="232.49" y1="383.50" x2="232.49" y2="386.70" stroke="#111" stroke-width="0.9"/><text x="232.49" y="397.50" font-size="10" text-anchor="middle">+25</text><line x1="275.74" y1="383.50" x2="275.74" y2="386.70" stroke="#111" stroke-width="0.9"/><text x="275.74" y="397.50" font-size="10" text-anchor="middle">+50</text><line x1="319.00" y1="383.50" x2="319.00" y2="386.70" stroke="#111" stroke-width="0.9"/><text x="319.00" y="397.50" font-size="10" text-anchor="middle">+100</text><text x="167.60" y="412.80" font-size="12.3" text-anchor="middle">Δhours of exposure</text><text x="351.6" y="222.9" font-size="12.3">T<tspan font-size="8.6" dy="2.6">w</tspan><tspan dy="-2.6"> 99</tspan><tspan font-size="8.6" dy="-4.3">th</tspan><tspan dy="4.3"> percentile event</tspan></text><text x="682.1" y="222.9" font-size="12.3" text-anchor="end">Hist-IRR - Hist-NOI</text><g transform="translate(517.000 311.050) scale(0.459722)"><rect x="-360" y="-180" width="720" height="304.53" fill="#f5f5f5"/><path fill="#fff" d="M-11 -72l1-2 10-8 6-6 14-2 5-2 15 6 8 2 6 2 19 7 0 9-5 5-28 2-20-5-20-6-11-1zM53 -80l7 0 0-3-7 0zM54 -81l30 0 0-14-30 0zM92 -73l18 0 0-22-18 0zM115 -86l9 0 0-7-9 0zM64 -61l7 0 16 36-2 1-11-12-10-20zM95 -61l5-1 14 7-1 7-11 1-7-9zM18 -107l43 0 0-26-21 0-12 17-7 0-3 4zM64 -127l26 0 0-7-26 0zM-196 -62l34 0 1 12-5 5-7 2-2 5-9 4-12 0zM-192 -132l40 0 0 30-40 0zM-172 -126l28 0 0-16-28 0zM-252 -138l60 5 28-5 12-7-8-7 16-5 20-7-8-3-52 2-40 7-28 3zM-260 -101l15 33 11 0-12-28zM199 -76l19 0 15-15 70 0-40 39 0 12-64 0zM186 -40l77 0 0 28 57 31 0 2-134 0zM-40 -62l0 46 20 5 35 6 1-4-48-11-4-20 8-16 8-6zM15 18l65 0-17 53-48 0zM-20 -62l0-29 100 0 0 29zM80 -91l69 0 0 30-69 0zM-260 -101l15 33 36 0 30 14 0-47zM-159 30l8 14-4 22-3 29 10 0 2-25 5-34z"/><g clip-path="url(#land)"><rect x="-360" y="-180" width="720" height="320" fill="#ffffff"/><path fill-rule="evenodd" fill="#efcab6" d="M-177 -128l-3-3 4-4-3-1-2-4-2 0-1 3 4 4-5 1-4-6-2 2-1-1-1-5-8 0-3 3 2 4-5 1-2 4-3-3 0-2 4-4-3-3-2 0-4-6-1 5-1 1-3-1 2-2-4-4 2-6 3-3 2 2 6 0 4 4 6-6 4 6 3-5-2-2 7-7 2 6 3-1 3-7 2 2 6 0 2 6 1-7 3-1 2 6 2 0 2-4 6 0 2 2 2-2 4 0 4 6 6 0 1 3 7 7 3 1-1 1-10 0-4-2-1 1 1 3 4 0 7 5-3 3-2-2-4 0-2 2-2-6-1 5-2 2 0 4-5 3-3-1 2-6-3-1-2 2-4 0-4 4-2-2-2 4-6 0zM-81 -122l-6 0-2-4-1 3-3 1-1-1 2-2-3-3-4 4-4 0-5-5 2-2-3-1-3-5 2-2-9-9-8-4-5-5 3-1 2 2 5-5-2-2 1-1 4 0 4 4 6-2 8 4 1-3-2-2 3-3 4 0 8 6 3-3 1-5 2 2 2-2 6 0 2 2 4 0 4-2 2 4 4-4 6 0 2 4 5 1-4 2 1 7 4 0 2-2 2 2 7 1-4 4 2 2-4 2 0 4-7 3-2 4-8 0-2 2-6 0-4 4-6 0zM-72 -159l4-2-3-3-10 0-1 1 1 3 6 0 2 2zM23 -158l-3-3 1-3 5 3zM209 -160l-3-1 1-3 3 1zM-164 -155l-3-3-3 1 1 3zM219 -152l-4 0-1-3 5-1 1 1zM-144 -149l-5-5-5 3 5 3zM-237 -148l-4 0-1-1 3-3 4 0 1 1zM-110 -145l-1-3-3 1 3 3zM141 -134l-2-2-6 0-5-5 3-1 2 2 4-4 8-4 4 0 2 2 6 0 2-2 3 3 0 2-3 3-6 0-4 4-6-2zM359 -138l-5-3 4-2 1-5 1 1zM-178 -143l-1-3-3 1 3 3zM223 -142l-3-1 1-3 3 3zM-166 -139l-1-3-4-2-1 1 0 2 3 3zM263 -142l-4 0-1-1 5-1 1 1zM201 -138l-3-1 1-3 3 1zM-199 -134l-1-3 3-1 1 1zM-121 -134l-2 0-3-3 3-1 3 3zM-33 -130l-3-1 1-3 3 3zM-27 -128l-3-1 1-3 3 3zM-281 -124l-3-1 1-5 3 1zM-217 -126l-3-1 1-3 3 1zM-315 -120l-3-1 1-3 3 3zM111 -114l-3-3 3-3 1 1zM57 70l-8-6-4 4-2 0-4-6-5-1 0-2 3-1 1-3-1-1-2 2-1-3 2-2-3-3-2 2-1-3 6-6-2-2 0-4-8-4 0-4 3-3 2 2 1-1 0-6-6-4 4-2 0-6-5-1-4 4-2 0-1-1 2-4-6-4 2-4-3-1-4-4-8 0-4 4-2-2-8 0-2 2-8-4-1-1 6-4 0-4-9-1-1 1 2 2-1 3-3-3 0-4-2-2 4-2-3-3-2 2-1-1 0-8-1-1-1 1-1 9-3-5 4-8-2-2 0-6 4-4 2-6 3-3 4 2 4-4 4 4 1-3-4-4 3-3 6 4 4 0 2-4 2 4 2-2 4 2 1-1-2-4 1-1 2 2 4-2 1 3-2 2 3 3 2 0 3-3 0-4 5-1 2-4 6 6 3 1-1 3-7 1 3 3 4-2 6 0 2-4 1 7 1 1 3-1 0-8 2-2-5-1-4-6-2 2-2-2-2 2-4-6-6 0-2-6-2 0-4 4-2-2-3 3 2 2-1 1-6 0-1-1 8-8-5-1-2-4-2 2-4 0-1-7-3-1-5-5 9-3 1 3 3 1 2-4 2 2 4 0 4-4 4 2 4 0 2-8 8 0 2-2 2 2 4 0 4-6 4 6 4-4 1 5 3 3 4-4 4 2 4-4 2 0 2 8 2 0 4-4 8 4 4-6 8 6 1-1-2-4 1-1 6 0 2 2 4-2 4 2 4-2 4 0 6 4 4-4 1 3 3 3 2 0 4-6 1 5 5 3 6 0 4 8 3-1 0-6 3-1 3 3-2 4 4 2 0 4 6 6-3 3-2-2-2 6-6 0-1 7-2 2 6 2-2 4 3 3 2 0 2-4 3 3-2 4 2 4 4 2 1 3 10 0 1 1-2 4-3 3-2 0-4-6-3 3 6 4-5 1-9 9-3 7-6 0-4 2-1-3 4-2-1-3-2 0-6 6-3-3 2-2-4-4 0-4-8-8 6-6 0-2-3-1-1 5-3 3-2-2-6 0-3-3 0-2 5-3 14-2 1-1-3-1-1-3 9-9 2 4 4 0 3-3-3-3-4 0-2-2-3 1-1 5-6-4-10 0-2-2-5-1 2-4-1-1-3 1-2 4 0 4-2 2 0 2 4 4-3 1-4 6-4-4-4 6-2-2-2 0-2 4-4 0-2-2-1 1 2 2-1 3-4-2-6 2-3 3 0 2 6 4 1 5 5 1-2 10 3 3 6-2 4 2 1 3-6 2 0 4 4 2-8 2-2 4 4 2-3 3-4 0-1 5-6 4 0 2 4 4-4 4-1 3-2-6-6 0-2 4-3-3 2-4-1-3-2 2-4 0-2-2-3 1 0 6-2 2 5 1 1-1-2-4 3-1 1 5 3 1 1 3 4 2-2 4 2 2 0 6-1 1-2-4-3 1 0 2 6 6-6 2 2 4 4 2 0 4-4 4 0 2-3 1-1-5 3-1 1-3-3-3-4 0-1 1 2 4-4 4 0 4 2 2zM89 -114l-3-1 3-3 1 1zM-15 -112l-1-3 3-1 1 1zM-181 -110l-2 0-3-3 3-1 3 3zM13 -110l-3-3 1-1 3 1zM-171 -16l-2 0-6-8-2 2-8-6-2 2-1-5-3-3-10 0-2 2-7-7 0-2-6-4 0-4-6-4 0-2 7-9 2 2 6-6 5-1-3-1-3-5 4-6 0-4-4-4 0-2 3-1 3-3 0-2-5-1-1-3 7-7 4-2 2 4 4-6 2 0 7 7 3 7 2-4 4 4 2-2 8 0 2-2 4 0 4 6 2 0 9 7-3 3-4-2-1 1 2 6 4 2-1 3-4 0-4-6-1 3 2 4-3 3-2 0-4-4-1 1 0 4 2 2-1 3-2 0-1-3-7-5-1 5-5 1-3 5 4 4-3 3-7 3 0 4-2 2 2 2-2 2 5 3 10-8 4 0 2 2 6-8 5 1-3 3-2 0-1 1 1 1 8 0 2-2 8 6 4 0 3 3-4 4-1 3-4 0-2-4-4 2-6 0-4-4-2 0-3 3 8 8 0 4-2 2 4 2-9 1zM-23 -108l-3-1 3-3 1 1zM203 -106l-3-1 1-3 3 1zM-159 -102l-1-1 1-5 4 0 3 3-5 1zM38 -103l0-2-3-3-1 5 1 1zM-145 -102l-3-3 1-1 3 1zM122 -101l2-2-1-3-3 5 1 1zM173 -96l-5-1 1-9 5 7zM283 -102l-3-3 1-1 3 1zM-225 -94l-2 0-3-3 1-3 3 1 2 4zM277 -90l-3-1 3-3 1 1zM-241 -84l-3-1 3-5 1 1zM287 -86l-4 0-1-1 3-3 2 0 1 1zM-11 -76l-1-7 3-3 6 0 3 3-3 3-2-2-4 0zM211 -48l-2 0-3-3 2-2 0-6 2-2-4-2 0-6 1-1 4 0 2 2 1-1 0-6 4-4-2-4 5-1 2 2 2-4 4 8 2-2 10 2 1-5 3-3 2 0 1 3-4 6 6 2 0 6-1 1-2-4-1 1 0 6 2 4-1 1-2-2-3 3-1 5-10 0-2-2-2 4-4-2-4 4-2-10-3 3zM158 -75l-6-6-1-3-1 7 5 3zM19 -72l-2 0-3-3 1-5 1 3 4 2zM263 -70l-3-1 3-3 1 1zM58 -55l-2-2 0-4-4-2 3-5 2 2 5-1-5-1-2-4-10 0-1 1 3 1 3 5-2 2 2 6 5 1 2 2zM133 -62l-7-5 1-3 2 2 8 0 3 3-5 1zM216 -63l-1-3-3 3 1 1zM68 -57l2-4-1-1-2 0-3 3 1 3zM121 -58l-4 0-1-1 7-3 1 1zM201 -52l-2-4-5-1 3-3 5 3zM4 -55l-3-3-1 1 1 3zM245 -54l-1-3 3-1 1 1zM72 -43l4-2 0-2-3-3-3 1 0 6 1 1zM231 20l-2-2-4 0-4-4-2 0-4 6-2-2-4 0-15-19 0-2 8-8 2-6-3-1-2 2-6 0-1-1 2-2-2-2-1-5-4 4-4 2-1-1 2-6 6-2 0-2-6-4 3-1 4-6 2 2 7-7 1-3 6 8 4 0 2 2 2-2 1 1 0 10 4 2-2 4-4 2 0 6-6 4 4 4-2 2 3 3 12-6 4-4 2 4 6 0 2-2 3 3-2 2 1 1 12 0 1 7 3 3 2-4 3 3 0 4-3 3-4 0-2-2-5 3 0 4 4 2-1 1-4 0-1-3-3-3-2 0-4 2zM-131 -32l-3-5 1-3 2 0 3 3 0 2zM76 -35l0-4-1-1-3 3 3 3zM107 -20l-5-1-2-4 1-3 2 0 5 5zM-123 82l-2 0-4-4-4 0-2 2-1-3-8-6 0-6 6-4 0-4-5-5-1 5-1 1-3-1 2-2 0-4 6-6-5-1-1-1 2-4-7-3-1-7-1-1-2 2-5-5 2-2-4-4 0-2 3-1 1-3-1-1-4 2-5-1 2-2 0-6 3-1 1 1-2 2 1 1 2-2 4 0 1-1-2-4 6-2-4-4 8-2-5-1-3-3 4-8-2-4 3-3 7 1 0 4-4 2 0 2 4 2-2 2 1 3 5-1-2-4 1-7 2 0 9 9 1 3 1-7-6-8 9-1 1 1-2 4 1 3 2 0 4-4 6 6 6 0 4 2 12 14 4 0 4 4 4-2 8 4 7 9-6 8 0 2-4 4 2 2-2 2-2 10-5 1-1 3-5 5-3-3 2-2-5-3-1 3 4 4-11 11-2 0-2 4-4 0-5 5-3 7-2-4-1 5zM-157 -20l-3-3 1-1 3 1zM247 -12l-3-3 5-3 1 3zM191 -6l-3-3 0-4 3-3 3 3-2 2zM-8 -9l-1-3-5 1 1 3zM-161 -2l-1-3 3-1 1 1zM289 22l-4-2-6 0-2-2-4 0-4-6-2 2-5-5 6-6 0-2-4-2 1-3 2 0 8 6 2-2 6 0 4 4 2-2 6 6 1-3 5-3 5 1-6 8 3 1 2-2 3 3 0 2-1 1-2-2-4 6-2-2-6 0zM216 3l-2-2-1-3-1 3 3 3zM44 17l3-3 6 2 1-7-9-1-1-5-3-3-2 4-4-2-3 3 4 6 0 4 5 1 2 2zM250 5l2-2-1-1-3 3 1 1zM62 9l-3-5-5 1 3 1 2 4zM78 13l-5-5-1 1 0 2 3 3zM273 26l-3-1 1-3 3 3zM335 36l-3-1 3-3 2 0 1 1zM27 44l-2 0-3-3 1-3 7 1zM297 84l-5-5 4-2 0-4-5-5-2 0-2 4-8 4-7-5-2-4 2-4-5-3-4 0-3 3 3 3 2 0 1 1-1 1-6 0-4-2-4-6-8 0-2 2-4-2-4 4-3-3 2-4-5-1-3-3 3-3 6 0 1-1-2-2 0-4 1-1 4 2 2-4 12 0 2 2 2-2 4 0 4 8 2 0 4-6 6 0 1 3-2 4 3 3 8-10 6 6 8-4 3 3 0 4 6 6 0 6-4 4 2 2-2 4-6 2zM71 52l-1-5 5-3 1 3zM225 50l-1-5 5-1 1 3-1 1-2-2zM252 55l2-4-1-3-5 5 3 3zM27 56l-1-5 3-1 1 3zM287 80l-1-3 3-1 1 1zM-143 90l-3-7 3-1 2-4 3 3zM-147 104l-3-3 3-3 2 0 1 1z"/><path fill-rule="evenodd" fill="#f0a285" d="M-175 -160l-3-1 1-3 3 1zM-65 -140l-5-1 0-2 4-2-1-1-4 0-1 5-3 1-3-3 0-4 4-2 0-4 3-5 6 0 2-2 3 3 0 6-2 4 4 2-3 1zM-87 -150l-3-1 2-4-4-2 1-1 9 1-4 4zM-77 -128l-4-4-2 2-3-1 0-10-1-1-3 3 2 2-2 2-1 7-3-3 0-2-4-2 0-2 4-2-1-3-4 0-2-4-3 5 3 1 1 3-3 3-3-3 0-2-3-3-2 2-1-3 3-1 1-5 3-3 2 2 4-6 5 3 1 7 6 0 5 3 0 4 3 5 8-4 5 3 0 2-3 3-1-3-3-1zM-133 -148l-4 0-1-1 3-3 2 0 1 1zM-149 -144l-5-1 5-3 4 0 2-2 1 1-1 3-4 0zM53 -96l-3-1 0-6-2-2 1-3 2 0 3 3-2 4 2 2zM37 -90l-3-5 2-2-2-2 9-5 3 5-5 1-3 3zM125 -80l-4-2-5-5 0-2-6-4 0-4 5-1 2 4 8-6 4 6 4 0 1-3-2-2 3-5 4 0 4 2 3 3-3 3-2 0-2-4-3 1 0 4 2 2-4 4-1 5-3-3 2-2-1-1-4-2-5 1 4 8zM-189 -64l-3-3 0-6 6-12-2-2 2-2-1-1-2 2-4 0-1 5-3 3-2-2-4 4-1-1 0-4 2-2-2-2 0-4 2-2 0-4 3-5 3 3 0 4 3 3 2-2 8 0 3 3 0 4-2 2 2 4-6 2 0 2 6 6-3 1zM149 -98l-1-3 3-1 1 1zM27 -96l-1-3 3-1 1 1zM25 -94l-6 0-1-1 5-3 3 3zM97 -58l-2 0-1-3 4-4-3-1-4-6-3 3 0 10-1 1-1-3-5-5-4 6-3-5 0-4-3-3-8 0-8-6-2 2-4 0-6-6-5-1 2-2-2-4 3-1 6 6 4 0 1-1-2-2 2-2 0-4 5-1 3 3-2 4 3 1 5-5-2-2 1-5 4 4 5 1 1 7 4 0 2-2 4 2 1-7 3-1 1 3-2 2 2 4 1 1 4-2 5 5 0 4-2 2 4 4-4 2 4 8zM101 -94l-3-3 1-1 3 1zM153 -92l-1-1 1-5 1 1zM-173 -84l-3-1 3-3 4-2 5 1zM-157 -84l-2 0-3-3 1-3 5 5zM33 -82l-3-1 0-4 3-3 2 0 1 3zM137 -80l-1-5 5-5 2 0 1 3zM-177 -76l-1-1 1-5 1 1zM145 -78l-1-3 3-1 1 1zM221 -70l-3-1 1-5 3 3zM233 -56l-2-2-10-2-3-3 3-3 4 4 5-1 2-4-1-3-2 0-4 4-3-1 0-2 4-4 1-3 4 0 2 4 4-2 2 6 4-2 3 1 0 2-3 1-4 6-4 0zM107 -70l-2 0-3-3 5-1 1 1zM-199 -50l-4-2-1-3 3-1 2-4 2 2 1-1 0-2-6-6 5-5 3 3 0 4 2 2 0 8zM67 -64l-2 0-3-3 5-1 1 1zM-207 -56l-3-3 0-2 2-4 3-1 3 3 0 2zM19 -54l-5-1 0-2 3-1 2-4 3 3 0 2zM155 -36l-2-2-2 2-4 0-9-5 0-4 4-4 1-3 1 3 5 1 2 4 5-1-7-7-5-1 0-4 3-5 4 2 12 0 5 5 0 8-9 9zM-215 -56l-1-3 3-1 1 1zM-5 -50l-3-1-2-4 1-3 2 0 3 3zM81 8l-4 0-2-4-4 0-3-3-2-6-3-1-7-7-1-7-2 0-3 3 0 4 4 2 0 4 2 2-3 1-1-3-7-5-3 3 2 4-3 1-1-9-6-2 5-5 2 2 4-2 1-1-1-3-6-2-4 6-2 0-4-6-2 2-14 2-1 1 2 4-3 3-6-6-6-2-2-4-2 0-1 3 4 2-7 1-3-3 2-4 0-6 7-1 1-1-2-4 3-1 1 7 3 3 2-2 4 2 3-3-6-2 0-6-2-4 1-1 6 6 4 0 4-4 2 4 4 0 1-5 5-7 1 7-2 2 7 1 4 6 2 0 4-4 4 6 4 0 2 2 4-2 4 6 4-2 4 0 2 4 3-1 1-5 3 3 0 4 2 4 4 2-1 3-4 0-3 3 3 1 4-2 3 3-1 3-5 1 2 4-4 6zM13 -44l-3-3 1-1 3 1zM43 -42l-2 0-3-3 3-3 3 1zM59 -40l-7-3 3-1 4-4 1 1zM-197 -40l-6 0-1-3 3-3 2 0 3 3zM-169 -22l-8 0-5-5 0-2-4-2 0-2 7-9 4-2 6 0 2-2 4 0 1 5-5 1-3 3 2 2-4 2 3 3 4-2 3 3-3 1zM-5 -40l-3-5 1-1 5 1zM167 -34l-4 0-3-3 5-1 1-5 5-3 1 5zM65 -40l-3-3 1-1 3 1zM-15 -34l-3-1 0-4 3-3 2 0 3 3zM-27 -36l-4 0-1-1 5-1 1 1zM199 -28l-2 0-3-5 3-3 3 5zM147 -26l-1-5 5-1 2-2 1 3-3 1zM-19 -20l-3-3 0-2 5-5 1 5zM60 -25l0-2-3-3-1 3 3 3zM29 -16l-3-3 1-3 3 3zM23 -12l-4 0-3-3 0-2 3-3 1 3 4 2zM5 -8l-4 0-2-2-5-1 0-2 4-2-2-2 1-1 4 0 3 3 0 4 2 2zM-117 -12l-3-3 1-1 3 1zM-109 26l-2-6-2 0-2 4-5-1 4-4-3-9-2 0-2 4-7-1 0-4 7-1 1-5 3-3 4-2 4 2 3-1 0-2-6-6 3-5 3 1 1 5 2-2 1 1-2 6 3 3 4 0 2-2 3 1-1 5-9 1 2 2-1 5-4-2-1 1 5 5 1-3 3-1 3 5-5 1-1 3-3 1zM33 -6l-4 0-3-5 3-1 4 2 1 1zM207 8l-4 0-1-1 2-2-8-6 3-1 2 2 5-5-2-2 3-3 3 3-2 2 4 4 0 6zM237 12l-2-2-2 2-6 0-8-4-2 2-4 0-1-3 3-1 1-3-4-6 11-7 8 4 2-2 4 2 4 0 5 5 0 4 2 4-3 3-6-2zM-129 4l-7-1 0-2 4-4 1-3 3 5zM47 -2l-3-1 3-3 1 1zM80 -1l-5-3-3 1 1 3zM-145 6l-1-5 3-3 2 0 1 3zM55 2l-3-1 3-3 1 1zM240 5l0-4-3-1-1 5 1 1zM-77 6l-3-1 1-3 3 3zM283 18l-10-2-4-4-2 2-3-3 0-2 3-3 2 0 2-4 2 2 6 0 2-2 4 2 6 0 5 5-2 4-3 1-2-4-1 3zM-139 10l-3-1 3-5 1 1zM-91 36l-1-3 2-4-2-2 2-4-1-1-4 6-5-3 6-2 2-10 3-3 2 0 2-4 2 0 5 3 0 6 7 1 1 3-9 1-3 3 1 1 2-2 3 3 0 2-3 1-2-2-4 0-1 5zM-145 34l-3-1 0-6 2-2 0-4 3-5 3 5 0 4-4 2 2 4zM-125 24l-2 0-1-3 5-3 1 3zM55 28l-3-1 1-3 3 1zM-135 32l-3-1 1-3 3 1zM-133 66l-3-1 0-4 2-2 0-4 4-4-2-10 3-1 3 3-2 2 1 1 8-6 1 3 3 1 1-9 3-1 4 2 1 1-2 2 0 4-3 3-4 0-2 2-4-2-1 1 1 5 4-2 3 1-4 4 0 4-1 1-2-4-4 0zM-83 40l-3-1 3-3 1 1zM-137 46l-3-5 1-1 5 1zM55 50l-3-1 1-9 3 3-2 2 2 4zM47 50l-3-1 3-3 1 1zM287 56l-3-3 1-1 3 1zM285 68l-2 0-5-5 1-3 7 7zM-125 78l-3-1 2-2-2-6 2-4 3-3 2 0 1 5-2 2 0 4z"/><path fill-rule="evenodd" fill="#e57a62" d="M-185 -70l-3-1 1-3 3 1zM221 4l-3-1 1-7 3 5z"/><path fill-rule="evenodd" fill="#c9d9f5" d="M175 -146l-5-3 1-3 5 1zM211 -146l-5-1 0-2 3-3 5 3zM309 -126l-4 0-2-4-4 0-2 2-2-6-4 2-3-3 2-4 1-1 4 2 6-6 4 0 2 2 4-4 4 2 6 0 7 5-1 3-2-2-3 1 2 2-5 7-4 0-4-2zM117 -136l-5-1 1-7 3 3 2 4zM-333 -132l-3-5 7-5 3 3zM95 -118l-2 0-2-4-4 0-2-2-4 6-4-4-6 0-4 2-3-5 0-4-2-4 3-1 4 4 1-7-7-1-1-3 3-1 2 2 8 0 2 2 4-2 4 4 4 0 6-4 4 0 3 5-4 2 1 3 6 0 1-1-2-4 5-1 1 3-2 2 0 6-3 3-4-2-4 0zM-315 -128l-2-4-4 2-1-3 3-3 6-2 4 2 1 3-3 1zM57 -128l-9-5 5-5 3 1 0 4 2 2zM165 -120l-7-1 0-4-2-4 2-2 1-5 4 0 2 2 2-2 4 0 4-2 4 4 3 1-1 3-7 1 5 1 3 3-1 1-4 2-10 0zM331 -130l-3-1 1-5 3 1zM45 -126l-1-3 3-3 1 3zM141 -128l-3-1 3-3 1 1zM265 -106l-2-2-2 2-2-2-4 0-6-4-4 0-8-6-4 0-1-5 7-1 4-4 4 0 4-4 4 4 2-2 6 2 4-4 2 0 2 4 4-2 3 1 1 9 4 0 2 2 5 1-3 3-2 0-4-4-4 0-2 4-4 0-4 2zM121 -126l-1-3 3-1 1 1zM-269 -124l-3-1 1-3 3 1zM137 -122l-4 0-1-1 5-1 1 1zM191 -120l-3-1 1-3 3 1zM248 -121l-1-3-5 3 1 1zM-239 -112l-3-1 3-3 1 1zM189 -110l-3-3 1-3 3 1zM253 -86l-3-1 1-3 3 1zM197 -84l-3-1 1-3 3 3zM101 -34l-6-2-1-3-4-2 4-2 1-5 4 0 2 4 2 0 4-4 3 3-4 4 0 4zM253 32l-3-3 1-1 3 1z"/><path fill-rule="evenodd" fill="#a5c0f7" d="M77 -126l-3-1-2-4 1-3 2 0 3 3zM93 -124l-2 0-1-3 4-4 1-3 1 5zM261 -120l-2 0-1-3 3-3 4 0 1 1-3 1zM253 -112l-3-3 1-1 3 1z"/></g><path d="M-336 -131l3-2 6-1-6-3 7-3 6-1 6-2 10 1 8 1 14 2 10 1 5-1 11-1 7 1 7 0 12 1 10 2 12 0 12 0 4-1 3-6 4 2 5 3 8 1 4-2 5 1 0 3-7 2-4 4-7 2-7 4-1 5 4 4 8 1 7 2 5 1 1 4 3 3 3 0 0-4 0-2 4-4-1-4-1-4 0-4 6 0 6 2 4 1 1 3 3 2 3-1 3-3 2 3 4 4 1 2 3 2 5 1 3 3 0 2-2 1-6 3-8 0-5 0-4 2-4 3 4-2 5-1 3 0-1 3-1 1 2 2 4 1 3 0 2-1 0 1-7 2-5 2 0-2 3-2-3 1-3 1-4 1-2 2 0 2 1 1-1 0-4 1-3 1 0 2-2 1-1 2-1 2 1 3-4 2-3 2-4 3-1 3 2 4 1 4-1 3-1-1-2-2-1-2-1-3-2-2-3 1-2-2-4 0-2 1 1 2-2 0-3-1-4 0-3 0-3 3-2 2 1 2-1 4-1 3 2 4 2 3 3 2 3-1 3 0 2-2 0-3 4-1 3 0-1 3 0 3-1 2-1 3 3 0 4 0 4 2-1 4 0 4 2 3 2 1 4-1 3 1 1 1 1 1 2-3 1-2 2-1 4-2 3-1-1 3 1 1-1 1-1-2 4-1 3 2 5 0 4 0 4 0-1 1 3 3 3 0 3 3 2 2 4 0 3 1 4 2 1 3 2 3 0 3 3 1 2 0 6 3 5 2 5 0 4 4 4 0 1 5-1 3-2 3-3 3-2 2 0 5 0 4-1 4-3 5-2 2-4 0-3 2-4 2-2 2 0 5-3 2-2 3-2 3-3 3-3 2-3 0-4-2 3 3 0 2-1 3-4 2-5 0-1 3-5 1 2 3 1 1-3 1-1 3-4 2 3 4-3 2-2 3-1 2 1 2-2 0 2 2 3 1 3 2-2 0-4 1-4-1-4-2-3-2-2-3-1-5 1-4 1-2 2-3 1-5-2-1 1-3 0-5 2-4 2-4 0-5 0-5 1-5 1-5 1-5-1-5-2-2-4-3-4-2-2-3-1-3-3-5-2-4-3-3 0-3 1-2 1-2-2-2 1-2 1-3 2-1 1-2 2-3 0-3 0-3-2-2-1-2-2 1-1 2-2-1-3 0-2-3-3-1-1-2-2-4-3 0-4-2-4-1-3-3-4 1-5-2-4-1-3-2-3-1-4-3 0-2 0-3-2-1-3-3-2-3-2-2-2-2-2-2-2-3-4-3 1 4 2 2 1 2 2 3 2 2 1 3 2 2-1 0-3-3-1-1-1-3-3-2-1-2-2-3-2-3-1-2-3-3-2-1-2 0-1-2-3-3-1-2-1-2-2-3 1-3-1-2 1-4 0-2 0-2-1-3 3 1 1-2-3-2-2-1-4-1-2-2-2-3-3-2-1-2-3-2-4-3-4-1-3-1-3-2-4 0-5 0-5-2-4 1-3 2-4 1 2-4-3 1-3 3-1 2-4 2-4 2-5 1-5 1-3 1 4-1 5-2 4-2 3-3-3-1-4 0-3-1-4-1-3-1 1-2-2-1 3-2 4-1 3-2-1 0-3 0-4 0-2 0-2-1zM-146 -156l8-2 8-3 8-3 16 0 16-2 26-1 16 1 8 2 16 1-10 3-4 4 1 3-5 3 2 3-4 4 0 2-7 3-9 2-8 3-7 2-6 2-3 3-2 6-4-1-7-1-3-3-3-4-3-4-1-4 5-2-5-2-2-2-2-3-2-3-5-3-8-1-10 1-7-2zM-123 -134l-3 4-3 4-3 1-5 0-6-2-6-2-6 0 1-3 7-2-5-3-7-3-7 0-10-1-4-2 2-3 8-1 10 0 8 2 8 2 7 2 3 2 1 2zM-158 -153l-10 0-11 0 0-4-7-2-4-2 10-3 20-2 20 0 16 1-4 2-12 2-8 2-4 2-4 2zM-160 -149l-16 0-8-2 8-2 12 0 4 2zM-237 -142l3 3 10 0 12 1 9-1 1-2-4-2-4-3-6-1-10 1-10 1zM-251 -144l4 2 6-1 4-2-2-3-9-1-2 2zM-234 -149l12 0 8-1 2-2-8-1-10 0-6 1zM-194 -146l-7 2-4-2 3-2 7 0zM-181 -145l-9 1-1-4 9 0zM-196 -150l-7-1 2-2 7 1zM-174 -157l-10 0-8-2 4-3 13 1 3 2zM-230 -152l-14 0 4-3 9 1zM-161 -127l-6 1-7-1 2-4 5-1 4 2zM-119 -95l2-3 2-3 2-2 2 0 0 3 3 1 2 2 1 2-2 2-3-1-2-1-5 0zM-257 -102l5 3 5 2-1-2-3-2-4-1zM-170 -44l3-2 4 0 3 0 4 1 4 3 4 2-3 0-4 0 0-1-2-2-4-1-3 0-3 0zM-149 -37l3-3 4 0 3 1 2 2-3 1-3 1-2-1-3 0zM-157 -37l4 1-1 0-2 0zM-134 -37l3 0 0 1-3 0zM-312 -41l2 1-1 2-1-1zM-317 -43l2 0-1 1zM-11 -72l-2-1-2-1-3 0 0-3-1 0 1-3 0-4-1-2 3-1 7 0 5 0 2-2 0-3-2-2-5-2 0-1 3-1 3 1-1-2 2 0 2 0 3-1 0-2 3-1 2-1 2-2 3-1 4 0 1-2-2-2 0-2 1-1 4-1 0 2 1 0-2 2 0 2 2 1 3-1 3 1 4-1 5-1 2 1 3-1 0-3 1-2 2 0 4 1-1-2-1-1 0-2 5 0 4 0 4-1-2 0-5-1-7 1-3-2 0-2 0-2 2-2 5-2 1-1-3-1-3 0-2 2-2 2-3 1-3 2 0 2-1 2 3 1 1 1-2 1-3 2 0 3-1 1-3 0-1 1-2 0-1-2-1-2-2-2-1-2-1 1-3 2-3 0-3-1 0-2-1-3 0-2 3-1 4-2 3-1 3-2 2-2 2-3 4-2 3-1 3-2 5 0 5-1 5-1 4 0 5 2 1 1 4 0 7 1 6 2 3 2 0 1-5 1-7-1-1 2 1 2 4 1 2-1 4 0 1-2 4-2 3 0 0-3 4 0 4 1 10-2 2 1 6-1 5-1 3-1 7 0 4 2 1 1 3-1 1-1-4-2 0-2 3-2 3-2 5 0 0 3 1 2-2 3 3 1 0 2-2 2 4-2 1-2-1-1-1-2 0-2 3-3 1 2 4 0 2-2 4 0-1-2 6 0 6-1 1-2 6-1 10-1 8-1 5-1 5-1 6 1 1 1 7 0 5 1 0 3-4 2 7 0 8 1 8 0 7-1 4 1 1 2 6 1 7 0 7-1 2-1 12 1 8 1 5 1 7 0 7 0 3 3 6 0 7 0 5-1 7 0 6 1 7 1 0 8-3 1-2 0 3 2 1 2-5 0-6 1-4 2-3 2-5-1-5 1-3 0-1 2-3 2 2 1-1 3-2 2-3 2-3 2-4 4-1-3 0-5 0-4 3-2 4-3 5-2 3-2-2-1-5 2-3-2-4 1-3 3-5 2-6-1-6 0-7 0-4 3-5 2-3 4-4 1 4 0 3 1 4 2 2 2-1 2-1 4 0 2-4 2-4 4-3 2-4 3-3-1-2 1-2 3-2 2-2 1 2 2 2 3 0 3-4 2-2 0 0-3 0-2-1-1-2-1-1 0 1-3-1-1-4 1-2 1 0-1 1-2-2-1-3 2-3 2-1 1 3 2 0 1 4-2 3 1-3 2-2 1-2 2 3 1 1 4 2 2-1 1 1 3-1 2-2 2-2 3-2 3-2 2-3 1-3 1-2 1-3 0-3 1-1 2-1-2-2 0-2 0-2 2-1 2 0 2 1 2 2 2 3 2 1 4-1 4-2 1-3 1-3 4 0-2-1-2-3-1-1-2-2-1-1-2-2 0 0 3-1 3-1 3 3 1 0 3 2 0 1 2 3 2 0 4 2 3-2 0-3-1-1-2-2-2 0-3-1-2-1-1-2-2 0-2 0-3 0-3-2-5 0-4-2-1-2 2-2 0 0-3-1-4-2-1-1-2-1-3-3 0-2 1-2 1-3 0 0 2-4 2-2 2-3 3-2 1-2 1-1 5 0 4-1 2-2 3-2 2-2-2-1-3-1-3-1-2-2-4-1-2-1-5 0-4-1-2-1 1-2 0-4-3 2-1-2-1-3-1-2-3-4 1-6 0-4-1-4 0-1-3-3 0-2 1-2-1-4-2-3-3-1-1-3 0 0 2 1 1 2 2 1 2 0 2 2 1 0-2 1 2 0 1 2 1 3 0 3-3 2-1 0 2 1 2 3 1 3 2-2 2-2 3-1 2-2 1-2 2-4 2-3 2-5 2-2 1-4 1-3 1-3 1-1-2 0-3-1-3-2-4-2-3-3-3 0-3-3-3-2-3-2-3-1-2-1-2-1 3-1-1-2-3 0 1 1 2 2 3 1 3 2 3 0 2 3 2 0 3 1 4 2 1 2 4 1 2 2 1 3 3 2 1-1 2 3 2 4-1 4 0 3-1 2-1 0 3-1 3-2 4-2 3-3 4-3 3-4 3-3 3-2 2-2 2-1 3-1 4 1 3 0 4 2 1 0 5 0 4-2 3-4 3-2 2-3 2 1 4 0 4-2 2-3 1 0 3-1 3-2 2-2 3-4 3-3 2-3 1-3 0-3 0-5 2-2-1-1-1-1-3-1-4-2-4-2-3-2-4 0-4-2-5-2-3-1-4 0-4 2-4 1-3-1-5-1-6-1-2-2-2-3-4-1-3 1-3 1-4-2-2-1-1-3 0-2 0-2-2-1-2-4 0-3 1-3 1-3 1-4 0-3 0-4 1-3-1-5-4-2-1-1-3-3-2-2-3-2-2-1-2-1-2 2-3 1-4-1-3-1-3 2-4 2-4 3-5 4-1 3-3 1-2-1-3 3-3 3-1 2-3 0-1 1 0 2 2 5 0 2-1 2-1 3-1 4-1 4 0 4 0 4-1 2 1 1 0-1 1 1 2-1 2-1 2 2 1 3 0 5 1 1 2 4 1 3 1 2-1 0-2 3-2 3 1 4 2 5 1 4 0 3-1 3 0 4 0 1-2 1-3 1-3 0-1 0-1-1 0-2-1-2 2-2 0-4-1-2 1-3-1-1-1 0-2-2-1 1-1-2-1 1-1-1-1 0-1-2 0-2 0-1 1-1 0-1 2 2 1-1 0 2 2-2 0 0 3-1 0-2-1-1-2 1-1-2-1-1-1-1-2 0-3-2-1-2-1-3-1-2-2-1-1-2-1-2 0 0 2 2 2 2 2 3 1 2 2 3 2-3-1-1 2 1 1-1 1-2 1 1-2-1-2-1-1-2-1-2-1-4-2-1-1-1-2-2-1-3 1-2 2-3-1-2 0-2 1 0 2-2 1-2 2-3 2 1 2-1 0-1 2-2 2-5 0-1 0zM-11 -100l3-1 2 0 4-1 5 0-1-2 1-1-2-1-1-1-1-2-2-1-1-2-1 0 1-3-4 0 2-2-4 0-1 1-1 2 1 1 0 2 1 1 0 1 3-1 1 2 0 1-3 0 0 1 1 1-2 1 2 1 2 0-3 1-1 1zM-12 -104l0-3 0-1 1-1-1-1-3-1-2 1 0 2-3 0 0 1 1 2-2 1 2 1 3-1 2 0zM-45 -128l1-1-4-2 3-2 4 1 4 0 5-1 3 1 2 2-2 1-5 1-4 1-4-1zM22 -157l5 1 6 3 4-2 8 0 5-2 4-2-7-1-10-1-5 1-8 0-3 1zM103 -143l3 1 6 1 3 0-4-2 1-2 3-2 4-2 5-2 8-1 6-2-4 0-6 1-9 1-7 2-2 2-3 2-2 1zM191 -158l8 2 10-1-1-2-10-3-7 0-4 2zM272 -148l8 1 7 1-3-3-7-2 5-1 9 1 8 0 1 2-8-1-7 2-7-2-5-1zM357 -142l3-1 0 1zM-360 -142l0-1 4 0 1 1zM-360 -130l3-1 5 0 4 2 3 0-1-2 4-1 3 0-4-2-5 0-4-2-5-1-3-1zM262 -68l1-1 3-2 4 0 2-2 2-2 1 1 2-1 2-2 1-3 0-2 3-1 0 3 1 1-2 3 0 2-1 3-1 1-2 0 0 1-3 0-1 0-2 2-2-2-2 0-3 1zM259 -67l1 2 0 2 2 1 1-1 0-2 0-2-1-1-2 1zM265 -66l1 0 3-1 0-1-2-1-2 1zM280 -83l2-1 2-1 3 1 2-2 2-1-2-1-3-1-2-2-1 2 0 2-2 1-1 1zM284 -92l3-1-2-2 1-3 3 0-2-5-1-3 0-3-2 1 1 4-1 2 0 4 0 2 0 3zM240 -46l1-3 2-2 1 2-1 3-1 2zM217 -38l2-2 2 0 1 1-2 2-2 0zM240 -33l1-4 2 0 2 1-1 3-1 2 0 3 2 0 3 2 0 1-2-2-4 0-1-1 0-3zM244 -14l2-2 2-1 3-3 2 5-1 2-1 2-3-2-1-2zM244 -21l2 3 3-2 2-2-1-3-2 0-2 2-2-1zM234 -17l4-3 1-3 0 2-4 4zM241 -27l2 1-1 2-1-1zM191 -11l4 1 2 2 4 3 2 1 3 3 2 3 2 2 2 2 0 4 0 2-3 0-2-2-3-3-2-3-1-2-3-3-1-2-2-2-2-2-2-3zM210 14l2-2 3 0 2 1 4 1 2-1 2 1 4 1 0 2-4 0-4-1-5 0-3-1-2-1zM218 -3l1 4 1 5 3 1 3-1 3 1 3 1 1-4 1-2 1-4 1-1 0-3 1-3 2-2-3-1-2-2-2 1-1 3-3 1-2 3-3 1-3 1zM239 11l2 0 0-4 1 2 4 1-2-4-1-2 2-2 2 0-4 0-3-3 2-2 4 1 3-1 0 2-4 0-3 0-2 2 0 1-1 2-1 2 1 1zM255 -4l1 0 1 1-1 2 1 2-1 1-1-3zM256 6l3 0 3 1-3 0zM252 6l2 1 0 1-2-1zM262 3l2-2 3 0 1 1 0 3 2 2 3-2 3-2 2 1 4 1 3 2 4 1 3 2 1 2 2 1 1 3 3 2 3 2-3 1-4-1-3-2-3-3-2 2-2 2-3-1-3-2-2 1-1-2 2-1-3-3-5-2-3-1-1-1-2-1 2-1-2-1zM297 11l3 0 3-2 1 0-1 2-3 1-3 0zM302 5l2 2 2 2-1 1-2-3zM160 -16l0-4 2 2 2 3-1 2-2 1-1-2zM99 24l1 5 1 3-2 2-1 6-2 6-2 4-3 1-3-1-1-3 0-3 2-4-1-5 1-3 4-1 3-2 1-2zM227 44l1 5 0 4 2 6 1 5-1 3 2 3 4 0 4-2 5 0 4-2 3-1 6-2 5 0 3 1 2 2 3 3 1 1 1-3 3-2-1 3 0 2 1-2 1 3 2 0 1 3 1 2 4 1 2 1 3-2 1 1 2 1 3-2 3-1 1-2 2-4 1-3 2-2 1-3 1-4-1-5-1-2-3-3-1-2-2-3-2-2-4-2-1-3-1-3 0-2-3-2-1-3-2-4-1 3-1 3 0 4-1 4-3 0-3-2-4-2-1-2 1-2 1-3-1 0-3 0-4-1-1 0-3 2-2 5-2 0-3-2-2 0-2 2-2 3-2 0-2 2-1 3-3 2-3 1-3 0-3 2-2 1-1 1zM289 81l4 1 4 0 0 2-1 2-2 1-2 0-2-3-1-1zM345 69l2 1 2 2 2 2 1 1 2 1 3-1-1 3-2 1 0 1-2 2-2 1-1 0 1-2-1-2-1-1 1-2 0-2-2-3zM345 81l3 1 0 2-1 2-1 2-3 1-1 3-3 1-2 0-4-1 1-2 3-2 4-2 1-2 2-1zM328 40l3 2 3 3-1 0-4-3zM355 35l2 0 0 1-2 0zM333 30l1 1 0 1zM-123 103l6 0 1 0-2 1-4 0zM185 -25l1-2 0 4zM65 -70l1 1 3-2-3 0zM47 -71l2 0 4 1-2 0-3 0zM25 -76l2 0 4-1-1 4-2-1zM17 -78l-1-4 2 0 2 1-1 3zM17 -83l0-2 2-1 0 2-1 1zM229 16l2 1-1 1zM232 17l2-1 4 1 0 1-5 0zM240 17l3 0 3 0-5 1zM238 19l2 0 2 1-2 1zM247 20l2-1 2-2 4 0-3 1-3 2zM311 12l1 1 0 1-2-1zM314 16l4 1-1 1zM320 19l2 1-2 0zM-333 -107l2-1-3 0zM-337 -106l2 0-1-1zM-354 -104l2 0-1 0zM-308 -114l3-2 0 1-3 1-1-1zM56 -83l2 1 4 0 4-2 4 0 4 1 3 1 6-1 0-2-3-2-3-2-2-1-2-1 3-1 3-2-4 0-4 1-1 2 3 0-3 1-3 1-2-2 2-1-2-1-3 0-2 1-1 2-2 1-1 3 0 1zM94 -90l1-1 2-1 1-1 4-1 4 0 0 3-3 2-1 1 1 2 2 2 1 2 2 1-1 2 1 2 0 2-4 1-3 0-3-1 0-2 1-2 0-2 1 0-3-3-2-2 0-2z" fill="none" stroke="#000" stroke-width="0.9" vector-effect="non-scaling-stroke" stroke-linejoin="round"/><path fill="none" stroke="#333" stroke-width="0.8" vector-effect="non-scaling-stroke" d="M-249 -101L-209 -101L-209 -68L-249 -68L-249 -101M-209 -101L-179 -101L-179 -54L-209 -68M199 -76L218 -76L233 -91L303 -91L263 -52L263 -40L199 -40L199 -76"/><path fill="none" stroke="#333" stroke-width="0.85" stroke-dasharray="3.2 1.3 0.8 1.3" vector-effect="non-scaling-stroke" d="M-260 -101L-245 -68M-20 -62L-20 -91L80 -91L80 -62M80 -91L149 -91L149 -62M79 -61L149 -61M119 -61L119 -48L132 -48M-40 -62L80 -62M-40 -62L-40 -16L-20 -11L15 -5M-40 -31L66 -31M15 18L80 18L63 71L15 71L15 18M49 18L49 71M186 -40L186 21L310 21M263 -40L263 -12L320 19M-159 30L-151 44L-155 66L-158 95L-149 95M-194 -54L-180 -43"/><path stroke="#000" stroke-width="1.25" stroke-linecap="square" vector-effect="non-scaling-stroke" d="M-90 -142h0M-83 -142h0M-69 -142h0M-62 -142h0M160 -52h0M83 -66h0M90 -66h0"/></g><rect x="351.50" y="228.30" width="331" height="140.00" fill="none" stroke="#333" stroke-width="1"/><text x="354.9" y="239.5" font-size="10.3" font-weight="bold" style="fill:#555">d</text><polygon points="350.30,380.40 365.20,377.30 365.20,383.50" fill="#4050d0"/><polygon points="682.80,380.40 668.00,377.30 668.00,383.50" fill="#d24b43"/><rect x="365.20" y="377.30" width="43.56" height="6.20" fill="#7b9cf4"/><rect x="408.46" y="377.30" width="43.56" height="6.20" fill="#a5c0f7"/><rect x="451.71" y="377.30" width="43.56" height="6.20" fill="#c9d9f5"/><rect x="494.97" y="377.30" width="43.56" height="6.20" fill="#ffffff"/><rect x="538.23" y="377.30" width="43.56" height="6.20" fill="#efcab6"/><rect x="581.49" y="377.30" width="43.56" height="6.20" fill="#f0a285"/><rect x="624.74" y="377.30" width="43.56" height="6.20" fill="#e57a62"/><polygon points="350.30,380.40 365.20,377.30 668.00,377.30 682.80,380.40 668.00,383.50 365.20,383.50" fill="none" stroke="#222" stroke-width="0.7"/><line x1="365.20" y1="383.50" x2="365.20" y2="386.70" stroke="#111" stroke-width="0.9"/><text x="365.20" y="397.50" font-size="10" text-anchor="middle">−100</text><line x1="408.46" y1="383.50" x2="408.46" y2="386.70" stroke="#111" stroke-width="0.9"/><text x="408.46" y="397.50" font-size="10" text-anchor="middle">−50</text><line x1="451.71" y1="383.50" x2="451.71" y2="386.70" stroke="#111" stroke-width="0.9"/><text x="451.71" y="397.50" font-size="10" text-anchor="middle">−25</text><line x1="494.97" y1="383.50" x2="494.97" y2="386.70" stroke="#111" stroke-width="0.9"/><text x="494.97" y="397.50" font-size="10" text-anchor="middle">−10</text><line x1="538.23" y1="383.50" x2="538.23" y2="386.70" stroke="#111" stroke-width="0.9"/><text x="538.23" y="397.50" font-size="10" text-anchor="middle">+10</text><line x1="581.49" y1="383.50" x2="581.49" y2="386.70" stroke="#111" stroke-width="0.9"/><text x="581.49" y="397.50" font-size="10" text-anchor="middle">+25</text><line x1="624.74" y1="383.50" x2="624.74" y2="386.70" stroke="#111" stroke-width="0.9"/><text x="624.74" y="397.50" font-size="10" text-anchor="middle">+50</text><line x1="668.00" y1="383.50" x2="668.00" y2="386.70" stroke="#111" stroke-width="0.9"/><text x="668.00" y="397.50" font-size="10" text-anchor="middle">+100</text><text x="516.60" y="412.80" font-size="12.3" text-anchor="middle">Δhours of exposure</text><text x="2.6" y="434.1" font-size="12.3">T<tspan font-size="8.6" dy="2.6">2m</tspan><tspan dy="-2.6"> 99</tspan><tspan font-size="8.6" dy="-4.3">th</tspan><tspan dy="4.3"> percentile event</tspan></text><text x="333.1" y="434.1" font-size="12.3" text-anchor="end">SSP1-IRR - SSP1-NOI</text><g transform="translate(168.000 522.250) scale(0.459722)"><rect x="-360" y="-180" width="720" height="306.27" fill="#f5f5f5"/><path fill="#fff" d="M-11 -72l1-2 10-8 6-6 14-2 5-2 15 6 8 2 6 2 19 7 0 9-5 5-28 2-20-5-20-6-11-1zM53 -80l7 0 0-3-7 0zM54 -81l30 0 0-14-30 0zM92 -73l18 0 0-22-18 0zM115 -86l9 0 0-7-9 0zM64 -61l7 0 16 36-2 1-11-12-10-20zM95 -61l5-1 14 7-1 7-11 1-7-9zM18 -107l43 0 0-26-21 0-12 17-7 0-3 4zM64 -127l26 0 0-7-26 0zM-196 -62l34 0 1 12-5 5-7 2-2 5-9 4-12 0zM-192 -132l40 0 0 30-40 0zM-172 -126l28 0 0-16-28 0zM-252 -138l60 5 28-5 12-7-8-7 16-5 20-7-8-3-52 2-40 7-28 3zM-260 -101l15 33 11 0-12-28zM199 -76l19 0 15-15 70 0-40 39 0 12-64 0zM186 -40l77 0 0 28 57 31 0 2-134 0zM-40 -62l0 46 20 5 35 6 1-4-48-11-4-20 8-16 8-6zM15 18l65 0-17 53-48 0zM-20 -62l0-29 100 0 0 29zM80 -91l69 0 0 30-69 0zM-260 -101l15 33 36 0 30 14 0-47zM-159 30l8 14-4 22-3 29 10 0 2-25 5-34z"/><g clip-path="url(#land)"><rect x="-360" y="-180" width="720" height="320" fill="#ffffff"/><path fill-rule="evenodd" fill="#efcab6" d="M-159 -60l-4 0-3-3-1-5-4 2-1-1 0-6-6-8 6-4-2-2 1-3 6 0 4-2 2-4 4 0 2-2 2 4 3-1 0-2-4-2 4-6-1-1-4 2-4 6-9-1 1-5 2 4 4 0 5-9 0-6-4-2 0-4-3-3-2 2-8 0-2-2-4 0-4 2-2 4-4-4-4 0-8-4-8 0-6-4-1 1 2 2-5 1-6-4-6 0-4 2-1-3-3-1-1 3 4 6-1 1-2 0-4-4-4 4-2-2-4 0-2 2-6-2-2 2-8-6-18 0-1 1 2 2-1 7-4-2-6 0-2 2-4-4-2 0-4 6-8 0-2 2-4-4-1 5 9 1 1 1-1 5-2-2-4 0-4-2-1-9-7-1-1-7-7-3-2-4-6 0-1-5 1-1 2 2 2-2 6 4 8-6 4 0 2-2 6 0 8-4 2 2 10 0 2 4 4 0 2 2 2 0 4-4 6 4 6 0 1 1-4 4 0 2 3 3 2 0 4-6 2 2 5-1-1-3-4-2-4 0-1-1 1-1 4-2 12 0 1-3 11-11 10 0 2-2 2 2 10 0 2 2 6 0 4 4 6-6 2 2 4 0 1-1-2-2 7-7 6 0 2-2 14 0 2-2 8 0 2 4 4-2 4 0 2-2 4 2 2-2 4 0 4 4 10-2 2 4 2 0 4-4 4 2 4-2 1 3 5 3 2-6 2 0 2 4 2-2 4 0 4-4 4 4 6 0 4-4 1 3-2 4 3 1 2-2 2 4 5-5-4-4 5-1 9 7-3 1-4-2-5 5 1 1 12 0 2-2 5 1 0 2-3 1-3 5 3 1 3 5 0 6-2 2 3 1 2-2 2 2 5 1-2 4 2 2-1 3-14 0-1-5 2-4-3-1-4 6-1-3-3-1-2 2-6 0-4 4-6 0-4 2-6 8-2-2-2 4-4-2-4 0-2 2-3-3 0-2-8-8-4-8 2-2-9-9-18 0-4-2-1 1 1 3 4 0 4 2 6 6 4 0 5 5-3 5-4 0-2-2-3 1 4 4 0 2 9 9 2 0 3 3 0 2-8 8 0 4-3 3-4-2-3 3-2 4 2 2-3 3-2 0-1-1 2-2-3-3-1 1 0 6-2 2 2 2-9 3-1 7-5 1zM45 -90l-4-2-6 0-2-2-8 4-2-6-8 4-3-3-2-6-6-2 0-4 7-3 1-1-2-2 1-1 10 0 6-8 1 1 0 4-2 2 1 1 4 0 1-3 3-1 2 6 2-4 4 2 4-4 10 6 7-7 0-6-2-2 6-6-1-3-4 0-4 4-5-1 0-2 4-2 0-4 3-5 4 4 10 0 2 2 6 0 2 2 8-4 2 2 4 0 1-1-2-2 9-9 4 2 1-1-2-2 1-1 6 0 2 2 4 0 2-4 2 2 2-2 6 0 2 2 4 0 2 4 4 2 4-2 4 4 6-6 14 0 2-2 6 0 2 2 10 0 2-2 2 2 5-3-2-4 5-1 1 5-2 2 5 5 8-4 2-4 2 2 4-2 6 6 4 0 2 2 2-2 4 4 2-2 4 0 2-4 6 4 6 0 2 2 2-2 2 4 4-6 2 0 2 4 4-2 6 0 2 2 4-4 4 0 6 4 8 0 2 2 4-2 10 6 2 0 2-4 12 0 1 1-1 3-8 0-6 4-4-2-1 1 2 2 0 4-4 2-1 5-2-2-4 2-2-2-6 0-2 2-12 0-2-4-6 0-1 3 2 2-3 1-2-2-4 8-3-1-1-5-4 0-4 6-2 0-2-4-8 4-4 0-6-6-2 0-1 1 2 2-3 5-1-3-5-3-4 4-2 0-1-1 4-4-1-1-4 2-6-2-2 2-10 2-1-1 4-2-1-3-6 0-4 8-4 0-4-6-6 6-4-4-4 2-2-2-6 0-2-2-6 0-2 2-6 0-4-2-6 4-2-2-4 2-8-6-2 2-6 0-2 2-4 0-1 3-5 5-2-2-2 2-4-4-3-1-1-7-4 4-2-2-8 0-2 2-4-2-1 7 1 1 2-2 1 3 6 4-3 3-6 0-4 2-1 3 2 2-3 3-2-4-4 0-4 6-6-6-4 0-1 1 2 4-5 1zM-144 -149l-5-5-5 3 5 3zM281 -148l-5-5 1-1 2 0 3 3zM-35 -146l-3-1-2-4 1-1 5 1-2 2 2 2zM132 -143l2-4-1-1-6 0-2 2-4 0-3 3 1 1 4-2 4 2 2-2 2 2zM353 -130l-2 0-4-4-3-1 4-2-2-2 3-3 2 0 6-6 2 0 1 9-1 1-2-2-5 1 4 4 0 2zM51 -140l-2 0-3-3 5-1 1 1zM47 -134l-3-1 1-3 3 3zM35 -132l-3-1 1-3 3 1zM314 -133l-1-3-3 3 1 1zM337 -124l-7-1 3-11 4 0 2 2 5 1 0 6-1 1-4-4zM-158 -131l2-2-1-1-3 1 0 2 1 1zM-349 -126l-3-5 1-1 5 1 0 2zM74 -129l-1-3-3 1 3 3zM84 -127l0-2-3-3-2 0-3 5 1 1zM74 -123l-5-3-3 1 1 3zM188 -123l-3-3-5 1 3 3zM240 -123l-3-3-1 1 3 3zM-279 -120l-1-3 3-1 1 1zM-152 -119l-1-5-5 1 3 5zM112 -117l4-6-1-1-4 2-4 0-2-2-1 1 5 7zM347 -120l-3-1 1-3 5 1zM295 -116l-3-1 1-5 3 1zM311 -118l-4 0-1-3 5-1 1 1zM72 -113l2-2-1-5-5 3 0 2 3 3zM-161 -108l-3-1 1-3 3 3zM-15 -100l-3-3 4-2 1-5 3 7zM83 -100l-3-1 1-3 3 1zM5 -94l-3-5 1-3 3 3zM-103 -96l-4 0-1-1 5-3 1 1zM-9 -96l-3-1 1-3 3 3zM191 -58l-8 0-14-8-5-1 5-7 4 0 2-2 4 2 4-2 8 4 1 3 6 4 0 2-3 1zM-179 -54l-1-3 3-1 1 1zM-173 -18l-2 0-1-3-8-6 0-10 9-11 2 0 3 3-2 2 4 4-2 2 6 6-2 2 0 4-3 3-2 0zM-189 -38l-3-1 1-3 3 3zM-133 -8l-1-5 4-2 1-5 6 0 2-2 3 3-6 4 1 3 2-2 4 0 1 1-3 3-12 0zM-139 -12l-5-3 0-4 5-1 2 2 4-2 1 1-3 3-2 0zM-155 -10l-3-5 1-1 2 0 3 3zM191 -4l-1-1 1-5 1 1zM241 -2l-3-1 1-3 3 1zM237 12l-3-3 0-2 3-3 2 0 1 1-2 2zM81 30l-3-3 1-3 3 3zM247 52l-8 0-1-3-6-4 2-2-1-1-2 0-4 4-2 0-1-3 5-5 10-2 4-4 2 0 2-4 4 2 6 0 2-2 2 8 2 0 4-6 9 1-2 4 3 1 1 3-4 2 0 4-3 1-2 4-4-2-6 2-4-4-4 0zM65 54l-2 0-1-3-4-4 1-3 7 7zM39 60l-10-2-3-5 3-1 2 2 2-4 4 0 3 5zM249 60l-4 0-1-3 3-1 3 3z"/><path fill-rule="evenodd" fill="#f0a285" d="M-173 -122l-4-6-4 0-2 2-4 0-4-4-4 0-2 2-4-2-4 2-4 0-4-4-4 0-2 2-2-2-10 0-4-4-4 0-1 3-3 1-8-8-4 0-1-3 3-5 6 0 1-3-2-2 5-3 4 0 2-2 18 0 2 2 6 0 4 4 6-6 2 2 4 0 1-1-2-2 7-7 6 0 2-2 4 2 4-2 10 2 2-2 2 2 10 0 2 2 10 0 2 2 6 0 1 1-2 2 1 1 4-2 2-4 4 6 2 0 4-6 2 0 4 4 10 0 2-2 2 2 4-4 2 0 1 3-7 3-1 1 1 3 2 0 6-6 4 0 2-2 2 0 6 8 6-4 6 4 2-2 5 1-4 8 6 6-5 1-1 1 2 4-5 3-2-4-6 0-8-8-3 1 1 3 2 0 11 9-3 3-14 2-1-1 0-6 2-2-1-1-2 2-6 0-2 4-4-2-4 0-2 2-4-2-2 2-5-7 2-2-9-9-18 0-4-2-1 1 1 3 4 0 4 2 6 6 3 1-5 1-2-2-1 1 2 2-3 1-2-4-4 0-1 1 2 4-4 2 0 4-1 1-2-2-4 4-1-5 5-1 1-3-3-1-2 2-4-2-2 2-4-2-2 8-4-2-2 4-4 0zM-82 -153l3-1 3-3-5-1-3 5 1 1zM-144 -149l-5-5-5 3 5 3zM121 -122l-4-4-8 0-12-6-8 0-7-5 7-1 4-4 2 2 4 0 1-1-2-2 5-5 6 2 8-4 4 2 8-4 4 0 4 4 4-4 6 4 4-2 4 4 6-6 6 0 4 4 6-4 4 0 1 3 5 3 4-2 2 2 6 0 2-2 2 2 4-2 5 3-3 1-4 4-2-2-3 1 2 4 6 4 0 2-5 1-4 4-2-6-4 4-4 0-2-6-6 0-1 1 2 2-1 3-14 0-2-2-2 4-2-2-2 2-6 0-2 2-2-2-10 0-2 2-2-2-6 0-2-2-4 0zM-76 -147l-3-3-1 1 1 3zM132 -143l2-4-1-1-6 0-2 2-4 0-3 3 1 1 4-2 4 2 2-2 2 2zM237 -138l-3-3 1-7 1 3 4 2 0 2zM259 -140l-7-3 0-2 3-3 5 5zM277 -142l-3-1 3-3 1 1zM-313 -118l-2-2-8 0-8-4-2 2-1-5-4-2 0-4 7-7 4 0 2 2 1-1-2-2 3-3 2 4 2-2 8 0 2 6 2-4 8 0 4 2 1 9 2 4-3 1-2-2-6 0-4 2zM219 -140l-4 0-1-3 3-1 3 3zM225 -128l-3-1 0-4 2-2-2-4 5-1 4-4 1 7-3 3-2-2-1 1zM-62 -139l2-2-1-1-3 1 0 2 1 1zM283 -138l-3-1 3-3 2 0 1 1zM299 -134l-2 0-3-3 3-5 2 0 3 3 0 2zM277 -130l-4-2-2 2-4 0-1-3-4-2 5-5 2 0 1 5 3 1 2-2 3 5zM315 -138l-4 0-1-1 5-1 1 1zM257 -132l-2 0-3-3 3-3 3 1zM77 -132l-3-1 1-3 3 3zM243 -130l-4-2-2 2-4 0-1-3 7-3 5 3zM303 -130l-1-5 3-1 1 3zM-320 -131l-1-3-3 1 3 3zM-141 -94l-4-4-3-1 0-14 4-6-2-2 3-1 2 4 8-4 2-4 1 3 6 4 0 4 2 2-2 2 2 2 0 4-5 5-2 0-1-7-5-1-1 1 2 4-4 2 0 4zM47 -106l-5-1 7-5 5 1zM77 -106l-5-1 0-2 3-3 3 3zM19 -104l-3-1 3-5 1 1zM13 -104l-4 0-1-3 3-1 3 3zM35 -98l-4 0-1-1 5-3 1 1zM-151 -86l-6 0-1-3 5-3 3 5zM-169 -74l-3-5 1-3 3 3zM-155 -70l-4-4-2 4-1-5-2-2 9-1 1 1zM183 -60l-9-7 4-2-1-1-6 2-1-3 1-1 16 0 5 5zM-173 -24l-9-9 2-6 3-3 4 6 4 0 3 3-2 6zM249 44l-2 0-3-5 1-5 7 1 0 2-4 4 2 2zM259 48l-1-1 1-5 3 3z"/><path fill-rule="evenodd" fill="#e57a62" d="M-177 -132l-12 0-2-2-20 0-2-2-8 0-6-4-4 0-4-4-2 0-1-3 6-6 1-3 20 0 4 4 6-6 2 2 4 0 1-1-2-2 7-5 10 0 2 2 2-2 6 0 2 2 4-2 6 0 2 2 10 0 2 2 4 0 4 2 4 4 3 1-4 2 2 2-1 1-6 0-4-2-1 3 5 1 1 3-9 5-10 0-2 4-2-2-8 0-2 2-6 0zM-103 -140l-8 0-8-8-9-3 9-1 4-4 8 0 2 6 1-3 3-1 3 3 0 2-4 4zM-144 -149l-5-5-5 3 5 3zM157 -132l-4 0-2-2-4 2-8 0-4-2-5-5 5-1 3-3-6-2 1-1 10 0 2-2 6 2 1 3 4 2 0 4 2 2zM123 -130l-4-4-4 0-4-6-1 3 2 2-3 1-1-5-2-2 3-3 6 0 2 2 4 0 4-2 3 3-2 2 0 4zM148 -139l2-2-3-3-7 3 3 3zM165 -132l-5-5 3-1 4-6 5 3z"/><path fill-rule="evenodd" fill="#d24b43" d="M-169 -140l-2-2-4 2-14 0-2-4-6 0-2 2-5-3 0-4-2-4 3-3 8 0 2-2 4 2 2-2 8 0 2 2 6-2 12 6 4 0 7 5-5 1-2 2-4 0-2 2-6 0z"/><path fill-rule="evenodd" fill="#c9d9f5" d="M43 -120l-4 0-1-1 5-1 1 1zM-201 -30l-2 0-1-1 2-2-5-1-6-8-4-2-4 4-5-5-4-8 4-2 0-4-4-2 0-10-1-1-1 7-5 1-2-6-4-2-4 0-5-5-2-4 0-4 2-2 0-6-4-4 6-2-4-2 0-6 2-4-3-1-2 2-4 0-1-1 1-3 4-2 2 2 4-2 2 2 6 0 2-6 2 0 2 4 2 0 4-4 4 0 2 2 4-2 8 6 4-2 4 2 4-4 2 4 4 2 4 0 5 3 0 8 6 4-1 3-5 1 2 2 0 12 2 2-4 4 2 2 0 4-2 2 0 4-4 4 0 8-6 2-4 8zM75 16l-3-1 0-4 2-2-1-1-8 6-2 0-4-6-2 0-6 6-2 0-1-1 4-4 0-2 4-2-1-1-8 0-2 2-4-2-1 1 2 2-5 5-2-2-2 2-4 0-1-5 2-2-3-3-4 2-4-6-4 6-1-5 2-2-3-1-4-4-8 0-4 4-2-8-3 1 2 2-1 3-2-2-5-1 2-4-1-3-2 0-4 4-1-1 0-2 3-3 2 0 2-4 4 0 3-3 3-7 3 5-3 1-1 3 1 1 3-1 0-2 4-4-2-10-5-1-5-5-1-3-2 2-2-2-2 2-1-5-3-3-9 3-2 4 2 4-1 3-2-2-4 0-2 2-1-3 6-4-2-4 4-2 0-4 6-4 3-7 2 0 2 4 10-6 4 0 2 2 3-1-5-5-5-1 0-2 4-2 0-4-2-2 7-7 1 3-2 4 3 3 4 0 12-6 4 2 4-2 1 5 3 3 2 0 1-3 3-1 4-4 2 4 8 0 2 4 2-2 4 0 8 4 4-2 1 1-3 5-4-2-3 3 0 2 5 1 2 4 8 0 8-4 4-6 4 0 4-2 1-1-3-1-9-9 0-2 7-1 1 5 5 5 1-1-2-2 2-2 0-4-2-2 0-6 3-3 2 2 6-6 2 2 4 0 2-6 2 0 8 6 6 0 2 4 1-1 0-4-2-2 1-3 8 0 2 2 8 0 2 2 4 0 2-2 4 2 8-6 4 4 4 0 4-2 4 4 2 0 2-2 4 0 8-4 1 1-2 2 1 3 2 0 4-4 2 2 4 0 4 6 1-5 3-3 4 6 12 0 1 1-4 4 1 1 2 0 1-3 4-2 1-5 1 9-4 2 0 2 3 3 2 0 2-4 2 6 2-4 4 0 4 6 4 0 2-4 1 1 0 6-3 3-6-4-6 4-4 0-1-3-3-1-2-4-3 1 2 6-4 2 3 1 2-2 4 6 5 1 1 5 4-2 1 1-2 2 2 4-3 1-2-2-4 0-4-6-1 5-2 2 4 2 0 6-3 3-2-2-4 0-2 2-5 1 2 4-1 1-6 0-2-2-4 2-2-2-3 3 6 6-4 2 6 4-2 2 0 4 2 2-2 2 2 2-3 1-4-2-1 7-3 3-2-2-8 0-2-4-4 0-3-3 0-2-4-2 4-10 4-4 0-2-6-4 3-1 4-4 2 0 3-5-2-4 2-2-4-8 2-2 0-4-6-4-1-5-2 0-4 6-4-2-4 2-4 0-4-4-4 0-4 6-4-2-4 4-4-2-3 1 1 5 4-2 4 6 10 4 4 4 4 0 6 6 9 3 0 2-6 4 4 8 0 6-5 5-2 0-1-1 2-2 0-8-3-3-2 2-4 0-9 9-2 4 0 4-3 3-4-4-10-2-1-3-4-4 0-4-11-11-2 0-4-6-4 0-4 4-2 0-2-2-8 0-4-4-1 1 2 4-5 5-4 2-6-2-2 4-3-1 2-4 0-4-3-1-1 9-2 4 5 5 7 3 4 8 0 10 1 1 4-4 3 3-2 4-3 1-1 3-3 1-8 10-6 2zM114 -97l3-3 3-1-5-1-2 2-5 1 3 3zM291 -94l-3-1 1-3 3 3zM116 -81l0-2-3-3-2 2-3-3-1-5-3 5 0 4 5 1 2 2zM57 -84l-1-3 3-3 7 3-7 1zM87 -80l-4 0-1-3 5-1 1 1zM144 -75l-1-7-4 0-2-2-3 3 0 2 3 3 4 2zM281 -80l-3-3 1-1 3 1zM12 -69l-2-2 2-2-4-4 4-2-1-3-8 4-1 3 3 1 6 6zM58 -49l8-8 0-8-7-3-4-4-2 0-2-4-3 3 3 3 2 0 2 4 5 1 0 12-5 1-2-4-3 3 0 4 1 1zM38 -67l6-2-3-1-4-4-5 5 3 3zM77 -70l-3-1 1-3 3 1zM212 -51l2-4-1-1-2 0-3 3 1 3zM241 -48l-5-1 0-2 3-3 3 1zM30 -49l-3-3-1 1 3 3zM44 -45l0-6-3-1-3 5 5 3zM-19 -46l-3-1 1-3 3 1zM6 -43l4-4-3-3-3 1 0 6 1 1zM241 -38l-3-1 0-4 3-3 4 0 1 1-4 4zM28 -29l6-6-1-5-5 3-1 5-2-4-4 2-5-5-1-3-3 1 0 4 3 5 4 2 2-2 4 0 2 4zM-5 -36l-3-1 3-3 1 1zM97 -32l-3-1 1-7 2 0 3 3 0 2zM62 -33l2-2-3-3-2 0-1 5 1 1zM54 -31l-1-5-4 0-2 4-2-4-3 3 1 3 10 0zM-13 -24l-1-1 1-9 1 1zM12 -29l-3-5-3 1 0 2 3 3zM58 -25l0-4-1-1-3 3 3 3zM-131 112l-4 0-4-6-5-1 0-4-2-2 2-4-6-4 4-2 0-4 2-2-4-10 7-1 1-3 4-4-3-1-2 2-3-3 5-1 7-5-2-2 0-10-4-2-1-5-4 2-7-5 4-4-3-3-4 6-3-3-2-4 7-1 1-3-5-1-2 2-1-3 2-2 0-4-4-2 3-3 2 0 2 4 3-3-4-4 0-2 3-3 4 0 4-2 1 3 3 1 1-1-2-4 1-3 4 0 2-2 1 1-2 4 1 1 4-4 8-4 4 2 2 0 4-4 2 0 2 4 2-2 4 2 2-2 8 8 10 2 4 4 2-2 4 2 5 5 0 8-8 10 2 2-2 2 0 6-2 4-7 7-4 2-2-2-5 5 2 2-9 11-2 0-4 4-4 0-4 4-3-1 2-2-3-3-2 0-2-4-5 3 2 4 0 8 2 2 0 4-4 6 2 2-8 8 4 2-4 2 0 2 4 2zM221 6l-1-3 3-1 1 1zM36 7l-3-3-1 1 1 3zM66 9l0-2-3-3-3 1 3 5zM-136 11l-1-3-3 1 3 3zM295 20l-4-2-3-3 7-1 2-2 1 5zM261 26l-1-3 3-1 1 1zM299 26l-3-3 1-1 3 1zM47 52l-1-7 2-2-3-1-1 5-3 1-3-3 4-4-7-3-1-3 3-1 4 2 2-2 8 0 1-3-2-2 3-3 3 3 0 4 3 1 1 3-1 1-2-2-1 1 0 4zM301 78l-2-2-4 0-6-6-2 0-2-6-9-1 3-3 7-1-6-8 0-2 6-10-2-6 9-5 3 1-2 2 12 14 0 10 2 2-6 8 4 4-2 2 2 2zM77 34l-3-3 1-1 3 1zM25 40l-1-5 3-3 3 3zM91 44l-3-3 1-1 3 1zM233 62l-3-1 1-7 3 3zM57 70l-2-2-2 2-1-3 5-1 1 1zM249 70l-3-1 1-3 3 3zM279 78l-1-5-2-2 1-3 3 1 0 4 2 2z"/><path fill-rule="evenodd" fill="#a5c0f7" d="M-235 -104l-4 0-4-2-1-3 5-1 2 2 2-2 3 3zM-217 -106l-2 0-3-3 3-1 3 3zM-201 -40l-8-4-8 0-4-4-3-1 6-2-4-2-2-6 4-2 1-5 5-1 0-6 2-2-5-5-5-1 2-4 0-4 2-2 0-2-4-2 5-1 1-5 5-1 4-4 8 0 3 3-2 4 1 1 2 0 4-4 1 5-2 2 2 4 4 2 0 4-4 4 2 2 0 4-2 4 4 2-8 2 0 16-6 4zM225 -52l-3-3 0-2-5-3-2 2-6 0-3-3 0-8-2-4 3-3 5-1-2-2 0-4 4-2-9-5-4 0-2-2-2 6-8-6-2 2-6 0-2 6-4 0-2-2-6 0-4 4-6 0-8-4-16 0-1-3 2-2-2-2 0-4 5-1 4-4 2 2 6-6 4 0 2 4 4 0 2-2 4 2 6-4 6 0 4 4 4 0 4-2 6 4 4-4 3 3-1 3-5 1 3 3 4 0 2-6 2 4 2-2 4 0 4 2 4 6 3-3 0-4 5-5 1 5-4 6 0 4 2 4 5 3 4-2 9 9-3 1-4 4-2-2-7 7 3 1 2-2 5 3-5 1-4 4-4 0zM-227 -100l-3-1 1-3 3 3zM-241 -94l-3-3 3-3 3 3zM-237 -88l-4-2-4 0-3-3 0-4 1-1 1 3 5 3 4 0 1 1zM119 -88l-1-5 3-3 2 0 1 1zM-225 -80l-4 0-3-3-2-4 1-3 4-2 5 3zM233 -88l-3-1 1-3 3 3zM237 -84l-3-3 3-3 1 1zM216 -77l6-6-1-1-5 1-2 4 0 2 1 1zM47 -76l-2 0-5-3 7-3 1 1zM163 -24l-4-4-6 4-4-2-7-7-4-8-3-1-5-5 0-4-5-7-2 0-2 4-12 0-2-2-6 0-2-4-4 0-2 2-6 0-3-3 3-3 4 2 3-9 5-5 4 2 4 0 6-4 3 3 1 5 4-4 4 0 4 4 2-2 4 0 2 2 6 0 2 2 6 0 2-2 4 4 10 2 4 4 6 2 3 3 2 4 0 10-3 3-4 0-9 9 0 2zM17 -52l-4-6-2 4-2 0-3-3 1-3 2 2 1-1-4-4 1-3 4 2 2-2 6 4 4-4 3 1 2 4-3 3-4 0zM228 -61l0-4-1-1-1 5 1 1zM-11 -58l-1-5 3-1 1 3zM-15 -56l-4 0-3-3 5-1 3 3zM1 -50l-5-7 1-3 2 2 2-2 3 5 0 2zM35 -54l-4 0-3-3 5-1 3 3zM91 -46l-1-1 1-7 1 1zM73 -40l-3-3 1-1 3 1zM207 -18l-3-1-2-4 0-4 6-4 0-4-1-1-5 5-1 3-5-1 2-2 1-7 2 2 2-4 6 0 2-2 4 4 3 1 0 4-3 1-1 3-4 2 0 4-4 2 2 2zM69 8l-8-8-4 0-4-2-2-6-2 0-1 3-5 3-8-4-2 4-4-2-2 2-4 0-2-4-4 0-5-3 0-4-4-8 1-1 2 2 1-5 5-3 6 0 6 6 8-6 12 6 2-4 2 2 6 0 4-4 4 0 4-2 2-4 2 0 2 4 9 3 0 4 4 4 0 4 2 2-2 4 4 2-3 5-2-2-1 1 0 4-5 5-2-2-4 2-6-2zM22 -19l-1-3-3 1 1 3zM-5 -16l-1-3 3-1 1 1zM3 -14l-3-1 1-5 3 3zM-105 2l-4 0-3-3 0-2 3-1 5 5zM-113 66l-4 0-1-3-6-4 3-3 4 0 1-1-1-1-4 0-8-6-2 2-1-1 0-8 3-1 2 2 3-3-5-3-4 0-5-5 0-6 4-2 0-4-6-4 7-1 2-6 4 2 1-3 7-5 4 2 2-2 4 4 4-2 2 2 6 0 6 4 1-1-2-2 1-1 6 0 1 1-4 2 2 2-2 4 3 3 2-2 3 1 0 4-4 6 6 2-2 2 0 8-2 2 3 1 1 3-3 3-6-4-4 4-2 0-2-6-3 5 2 6-5 3-6 0-2 2-4-6-1 1 2 4zM-93 6l-3-1 1-3 3 1zM-143 28l-3-1 0-4 7-1 1 1zM297 70l-2 0-7-7 2-2-6-8 2-4 0-4 6-4-2-2 1-5 2 4 4-2 3 3 2 4 0 6 2 2 0 2-4 4 2 4-4 2zM-87 52l-3-3 1-1 3 1zM-129 58l-3-3 1-3 5 3zM-133 86l-3-1 3-9 3 3 0 4zM-139 104l-3-1 2-4 3-1 1 3z"/><path fill-rule="evenodd" fill="#7b9cf4" d="M163 -30l-4 0-2-2-10-2-3-3 0-4-5-5-3-1 0-2-4-4 0-8 2-2 1-5 2 2 8 0 2 2 4-2 2 2 8 0 2 2 4 0 11 9 2 4-2 2 0 6-9 9-4 0zM-199 -54l-2-2-6 0-1-3 7-1 3 3zM79 0l-8 0-4-4-3-1-2-4 4-6 1-9 6 0 4-2 3 3 0 4 6 4 0 6zM-101 24l-3-3 1-7 3 3zM-121 32l-1-1 1-5 3 3zM-109 40l-6 0-3-3 0-4 1-1 8 4 1 1zM-101 40l-2 0-1-3 3-3 4 0 1 3z"/><path fill-rule="evenodd" fill="#4050d0" d="M163 -36l-6 0-9-7-4-8 1-9 18 0 8 4 3 3 0 6-2 2 0 4-3 3-4 0z"/></g><path d="M-336 -131l3-2 6-1-6-3 7-3 6-1 6-2 10 1 8 1 14 2 10 1 5-1 11-1 7 1 7 0 12 1 10 2 12 0 12 0 4-1 3-6 4 2 5 3 8 1 4-2 5 1 0 3-7 2-4 4-7 2-7 4-1 5 4 4 8 1 7 2 5 1 1 4 3 3 3 0 0-4 0-2 4-4-1-4-1-4 0-4 6 0 6 2 4 1 1 3 3 2 3-1 3-3 2 3 4 4 1 2 3 2 5 1 3 3 0 2-2 1-6 3-8 0-5 0-4 2-4 3 4-2 5-1 3 0-1 3-1 1 2 2 4 1 3 0 2-1 0 1-7 2-5 2 0-2 3-2-3 1-3 1-4 1-2 2 0 2 1 1-1 0-4 1-3 1 0 2-2 1-1 2-1 2 1 3-4 2-3 2-4 3-1 3 2 4 1 4-1 3-1-1-2-2-1-2-1-3-2-2-3 1-2-2-4 0-2 1 1 2-2 0-3-1-4 0-3 0-3 3-2 2 1 2-1 4-1 3 2 4 2 3 3 2 3-1 3 0 2-2 0-3 4-1 3 0-1 3 0 3-1 2-1 3 3 0 4 0 4 2-1 4 0 4 2 3 2 1 4-1 3 1 1 1 1 1 2-3 1-2 2-1 4-2 3-1-1 3 1 1-1 1-1-2 4-1 3 2 5 0 4 0 4 0-1 1 3 3 3 0 3 3 2 2 4 0 3 1 4 2 1 3 2 3 0 3 3 1 2 0 6 3 5 2 5 0 4 4 4 0 1 5-1 3-2 3-3 3-2 2 0 5 0 4-1 4-3 5-2 2-4 0-3 2-4 2-2 2 0 5-3 2-2 3-2 3-3 3-3 2-3 0-4-2 3 3 0 2-1 3-4 2-5 0-1 3-5 1 2 3 1 1-3 1-1 3-4 2 3 4-3 2-2 3-1 2 1 2-2 0 2 2 3 1 3 2-2 0-4 1-4-1-4-2-3-2-2-3-1-5 1-4 1-2 2-3 1-5-2-1 1-3 0-5 2-4 2-4 0-5 0-5 1-5 1-5 1-5-1-5-2-2-4-3-4-2-2-3-1-3-3-5-2-4-3-3 0-3 1-2 1-2-2-2 1-2 1-3 2-1 1-2 2-3 0-3 0-3-2-2-1-2-2 1-1 2-2-1-3 0-2-3-3-1-1-2-2-4-3 0-4-2-4-1-3-3-4 1-5-2-4-1-3-2-3-1-4-3 0-2 0-3-2-1-3-3-2-3-2-2-2-2-2-2-2-3-4-3 1 4 2 2 1 2 2 3 2 2 1 3 2 2-1 0-3-3-1-1-1-3-3-2-1-2-2-3-2-3-1-2-3-3-2-1-2 0-1-2-3-3-1-2-1-2-2-3 1-3-1-2 1-4 0-2 0-2-1-3 3 1 1-2-3-2-2-1-4-1-2-2-2-3-3-2-1-2-3-2-4-3-4-1-3-1-3-2-4 0-5 0-5-2-4 1-3 2-4 1 2-4-3 1-3 3-1 2-4 2-4 2-5 1-5 1-3 1 4-1 5-2 4-2 3-3-3-1-4 0-3-1-4-1-3-1 1-2-2-1 3-2 4-1 3-2-1 0-3 0-4 0-2 0-2-1zM-146 -156l8-2 8-3 8-3 16 0 16-2 26-1 16 1 8 2 16 1-10 3-4 4 1 3-5 3 2 3-4 4 0 2-7 3-9 2-8 3-7 2-6 2-3 3-2 6-4-1-7-1-3-3-3-4-3-4-1-4 5-2-5-2-2-2-2-3-2-3-5-3-8-1-10 1-7-2zM-123 -134l-3 4-3 4-3 1-5 0-6-2-6-2-6 0 1-3 7-2-5-3-7-3-7 0-10-1-4-2 2-3 8-1 10 0 8 2 8 2 7 2 3 2 1 2zM-158 -153l-10 0-11 0 0-4-7-2-4-2 10-3 20-2 20 0 16 1-4 2-12 2-8 2-4 2-4 2zM-160 -149l-16 0-8-2 8-2 12 0 4 2zM-237 -142l3 3 10 0 12 1 9-1 1-2-4-2-4-3-6-1-10 1-10 1zM-251 -144l4 2 6-1 4-2-2-3-9-1-2 2zM-234 -149l12 0 8-1 2-2-8-1-10 0-6 1zM-194 -146l-7 2-4-2 3-2 7 0zM-181 -145l-9 1-1-4 9 0zM-196 -150l-7-1 2-2 7 1zM-174 -157l-10 0-8-2 4-3 13 1 3 2zM-230 -152l-14 0 4-3 9 1zM-161 -127l-6 1-7-1 2-4 5-1 4 2zM-119 -95l2-3 2-3 2-2 2 0 0 3 3 1 2 2 1 2-2 2-3-1-2-1-5 0zM-257 -102l5 3 5 2-1-2-3-2-4-1zM-170 -44l3-2 4 0 3 0 4 1 4 3 4 2-3 0-4 0 0-1-2-2-4-1-3 0-3 0zM-149 -37l3-3 4 0 3 1 2 2-3 1-3 1-2-1-3 0zM-157 -37l4 1-1 0-2 0zM-134 -37l3 0 0 1-3 0zM-312 -41l2 1-1 2-1-1zM-317 -43l2 0-1 1zM-11 -72l-2-1-2-1-3 0 0-3-1 0 1-3 0-4-1-2 3-1 7 0 5 0 2-2 0-3-2-2-5-2 0-1 3-1 3 1-1-2 2 0 2 0 3-1 0-2 3-1 2-1 2-2 3-1 4 0 1-2-2-2 0-2 1-1 4-1 0 2 1 0-2 2 0 2 2 1 3-1 3 1 4-1 5-1 2 1 3-1 0-3 1-2 2 0 4 1-1-2-1-1 0-2 5 0 4 0 4-1-2 0-5-1-7 1-3-2 0-2 0-2 2-2 5-2 1-1-3-1-3 0-2 2-2 2-3 1-3 2 0 2-1 2 3 1 1 1-2 1-3 2 0 3-1 1-3 0-1 1-2 0-1-2-1-2-2-2-1-2-1 1-3 2-3 0-3-1 0-2-1-3 0-2 3-1 4-2 3-1 3-2 2-2 2-3 4-2 3-1 3-2 5 0 5-1 5-1 4 0 5 2 1 1 4 0 7 1 6 2 3 2 0 1-5 1-7-1-1 2 1 2 4 1 2-1 4 0 1-2 4-2 3 0 0-3 4 0 4 1 10-2 2 1 6-1 5-1 3-1 7 0 4 2 1 1 3-1 1-1-4-2 0-2 3-2 3-2 5 0 0 3 1 2-2 3 3 1 0 2-2 2 4-2 1-2-1-1-1-2 0-2 3-3 1 2 4 0 2-2 4 0-1-2 6 0 6-1 1-2 6-1 10-1 8-1 5-1 5-1 6 1 1 1 7 0 5 1 0 3-4 2 7 0 8 1 8 0 7-1 4 1 1 2 6 1 7 0 7-1 2-1 12 1 8 1 5 1 7 0 7 0 3 3 6 0 7 0 5-1 7 0 6 1 7 1 0 8-3 1-2 0 3 2 1 2-5 0-6 1-4 2-3 2-5-1-5 1-3 0-1 2-3 2 2 1-1 3-2 2-3 2-3 2-4 4-1-3 0-5 0-4 3-2 4-3 5-2 3-2-2-1-5 2-3-2-4 1-3 3-5 2-6-1-6 0-7 0-4 3-5 2-3 4-4 1 4 0 3 1 4 2 2 2-1 2-1 4 0 2-4 2-4 4-3 2-4 3-3-1-2 1-2 3-2 2-2 1 2 2 2 3 0 3-4 2-2 0 0-3 0-2-1-1-2-1-1 0 1-3-1-1-4 1-2 1 0-1 1-2-2-1-3 2-3 2-1 1 3 2 0 1 4-2 3 1-3 2-2 1-2 2 3 1 1 4 2 2-1 1 1 3-1 2-2 2-2 3-2 3-2 2-3 1-3 1-2 1-3 0-3 1-1 2-1-2-2 0-2 0-2 2-1 2 0 2 1 2 2 2 3 2 1 4-1 4-2 1-3 1-3 4 0-2-1-2-3-1-1-2-2-1-1-2-2 0 0 3-1 3-1 3 3 1 0 3 2 0 1 2 3 2 0 4 2 3-2 0-3-1-1-2-2-2 0-3-1-2-1-1-2-2 0-2 0-3 0-3-2-5 0-4-2-1-2 2-2 0 0-3-1-4-2-1-1-2-1-3-3 0-2 1-2 1-3 0 0 2-4 2-2 2-3 3-2 1-2 1-1 5 0 4-1 2-2 3-2 2-2-2-1-3-1-3-1-2-2-4-1-2-1-5 0-4-1-2-1 1-2 0-4-3 2-1-2-1-3-1-2-3-4 1-6 0-4-1-4 0-1-3-3 0-2 1-2-1-4-2-3-3-1-1-3 0 0 2 1 1 2 2 1 2 0 2 2 1 0-2 1 2 0 1 2 1 3 0 3-3 2-1 0 2 1 2 3 1 3 2-2 2-2 3-1 2-2 1-2 2-4 2-3 2-5 2-2 1-4 1-3 1-3 1-1-2 0-3-1-3-2-4-2-3-3-3 0-3-3-3-2-3-2-3-1-2-1-2-1 3-1-1-2-3 0 1 1 2 2 3 1 3 2 3 0 2 3 2 0 3 1 4 2 1 2 4 1 2 2 1 3 3 2 1-1 2 3 2 4-1 4 0 3-1 2-1 0 3-1 3-2 4-2 3-3 4-3 3-4 3-3 3-2 2-2 2-1 3-1 4 1 3 0 4 2 1 0 5 0 4-2 3-4 3-2 2-3 2 1 4 0 4-2 2-3 1 0 3-1 3-2 2-2 3-4 3-3 2-3 1-3 0-3 0-5 2-2-1-1-1-1-3-1-4-2-4-2-3-2-4 0-4-2-5-2-3-1-4 0-4 2-4 1-3-1-5-1-6-1-2-2-2-3-4-1-3 1-3 1-4-2-2-1-1-3 0-2 0-2-2-1-2-4 0-3 1-3 1-3 1-4 0-3 0-4 1-3-1-5-4-2-1-1-3-3-2-2-3-2-2-1-2-1-2 2-3 1-4-1-3-1-3 2-4 2-4 3-5 4-1 3-3 1-2-1-3 3-3 3-1 2-3 0-1 1 0 2 2 5 0 2-1 2-1 3-1 4-1 4 0 4 0 4-1 2 1 1 0-1 1 1 2-1 2-1 2 2 1 3 0 5 1 1 2 4 1 3 1 2-1 0-2 3-2 3 1 4 2 5 1 4 0 3-1 3 0 4 0 1-2 1-3 1-3 0-1 0-1-1 0-2-1-2 2-2 0-4-1-2 1-3-1-1-1 0-2-2-1 1-1-2-1 1-1-1-1 0-1-2 0-2 0-1 1-1 0-1 2 2 1-1 0 2 2-2 0 0 3-1 0-2-1-1-2 1-1-2-1-1-1-1-2 0-3-2-1-2-1-3-1-2-2-1-1-2-1-2 0 0 2 2 2 2 2 3 1 2 2 3 2-3-1-1 2 1 1-1 1-2 1 1-2-1-2-1-1-2-1-2-1-4-2-1-1-1-2-2-1-3 1-2 2-3-1-2 0-2 1 0 2-2 1-2 2-3 2 1 2-1 0-1 2-2 2-5 0-1 0zM-11 -100l3-1 2 0 4-1 5 0-1-2 1-1-2-1-1-1-1-2-2-1-1-2-1 0 1-3-4 0 2-2-4 0-1 1-1 2 1 1 0 2 1 1 0 1 3-1 1 2 0 1-3 0 0 1 1 1-2 1 2 1 2 0-3 1-1 1zM-12 -104l0-3 0-1 1-1-1-1-3-1-2 1 0 2-3 0 0 1 1 2-2 1 2 1 3-1 2 0zM-45 -128l1-1-4-2 3-2 4 1 4 0 5-1 3 1 2 2-2 1-5 1-4 1-4-1zM22 -157l5 1 6 3 4-2 8 0 5-2 4-2-7-1-10-1-5 1-8 0-3 1zM103 -143l3 1 6 1 3 0-4-2 1-2 3-2 4-2 5-2 8-1 6-2-4 0-6 1-9 1-7 2-2 2-3 2-2 1zM191 -158l8 2 10-1-1-2-10-3-7 0-4 2zM272 -148l8 1 7 1-3-3-7-2 5-1 9 1 8 0 1 2-8-1-7 2-7-2-5-1zM357 -142l3-1 0 1zM-360 -142l0-1 4 0 1 1zM-360 -130l3-1 5 0 4 2 3 0-1-2 4-1 3 0-4-2-5 0-4-2-5-1-3-1zM262 -68l1-1 3-2 4 0 2-2 2-2 1 1 2-1 2-2 1-3 0-2 3-1 0 3 1 1-2 3 0 2-1 3-1 1-2 0 0 1-3 0-1 0-2 2-2-2-2 0-3 1zM259 -67l1 2 0 2 2 1 1-1 0-2 0-2-1-1-2 1zM265 -66l1 0 3-1 0-1-2-1-2 1zM280 -83l2-1 2-1 3 1 2-2 2-1-2-1-3-1-2-2-1 2 0 2-2 1-1 1zM284 -92l3-1-2-2 1-3 3 0-2-5-1-3 0-3-2 1 1 4-1 2 0 4 0 2 0 3zM240 -46l1-3 2-2 1 2-1 3-1 2zM217 -38l2-2 2 0 1 1-2 2-2 0zM240 -33l1-4 2 0 2 1-1 3-1 2 0 3 2 0 3 2 0 1-2-2-4 0-1-1 0-3zM244 -14l2-2 2-1 3-3 2 5-1 2-1 2-3-2-1-2zM244 -21l2 3 3-2 2-2-1-3-2 0-2 2-2-1zM234 -17l4-3 1-3 0 2-4 4zM241 -27l2 1-1 2-1-1zM191 -11l4 1 2 2 4 3 2 1 3 3 2 3 2 2 2 2 0 4 0 2-3 0-2-2-3-3-2-3-1-2-3-3-1-2-2-2-2-2-2-3zM210 14l2-2 3 0 2 1 4 1 2-1 2 1 4 1 0 2-4 0-4-1-5 0-3-1-2-1zM218 -3l1 4 1 5 3 1 3-1 3 1 3 1 1-4 1-2 1-4 1-1 0-3 1-3 2-2-3-1-2-2-2 1-1 3-3 1-2 3-3 1-3 1zM239 11l2 0 0-4 1 2 4 1-2-4-1-2 2-2 2 0-4 0-3-3 2-2 4 1 3-1 0 2-4 0-3 0-2 2 0 1-1 2-1 2 1 1zM255 -4l1 0 1 1-1 2 1 2-1 1-1-3zM256 6l3 0 3 1-3 0zM252 6l2 1 0 1-2-1zM262 3l2-2 3 0 1 1 0 3 2 2 3-2 3-2 2 1 4 1 3 2 4 1 3 2 1 2 2 1 1 3 3 2 3 2-3 1-4-1-3-2-3-3-2 2-2 2-3-1-3-2-2 1-1-2 2-1-3-3-5-2-3-1-1-1-2-1 2-1-2-1zM297 11l3 0 3-2 1 0-1 2-3 1-3 0zM302 5l2 2 2 2-1 1-2-3zM160 -16l0-4 2 2 2 3-1 2-2 1-1-2zM99 24l1 5 1 3-2 2-1 6-2 6-2 4-3 1-3-1-1-3 0-3 2-4-1-5 1-3 4-1 3-2 1-2zM227 44l1 5 0 4 2 6 1 5-1 3 2 3 4 0 4-2 5 0 4-2 3-1 6-2 5 0 3 1 2 2 3 3 1 1 1-3 3-2-1 3 0 2 1-2 1 3 2 0 1 3 1 2 4 1 2 1 3-2 1 1 2 1 3-2 3-1 1-2 2-4 1-3 2-2 1-3 1-4-1-5-1-2-3-3-1-2-2-3-2-2-4-2-1-3-1-3 0-2-3-2-1-3-2-4-1 3-1 3 0 4-1 4-3 0-3-2-4-2-1-2 1-2 1-3-1 0-3 0-4-1-1 0-3 2-2 5-2 0-3-2-2 0-2 2-2 3-2 0-2 2-1 3-3 2-3 1-3 0-3 2-2 1-1 1zM289 81l4 1 4 0 0 2-1 2-2 1-2 0-2-3-1-1zM345 69l2 1 2 2 2 2 1 1 2 1 3-1-1 3-2 1 0 1-2 2-2 1-1 0 1-2-1-2-1-1 1-2 0-2-2-3zM345 81l3 1 0 2-1 2-1 2-3 1-1 3-3 1-2 0-4-1 1-2 3-2 4-2 1-2 2-1zM328 40l3 2 3 3-1 0-4-3zM355 35l2 0 0 1-2 0zM333 30l1 1 0 1zM-123 103l6 0 1 0-2 1-4 0zM185 -25l1-2 0 4zM65 -70l1 1 3-2-3 0zM47 -71l2 0 4 1-2 0-3 0zM25 -76l2 0 4-1-1 4-2-1zM17 -78l-1-4 2 0 2 1-1 3zM17 -83l0-2 2-1 0 2-1 1zM229 16l2 1-1 1zM232 17l2-1 4 1 0 1-5 0zM240 17l3 0 3 0-5 1zM238 19l2 0 2 1-2 1zM247 20l2-1 2-2 4 0-3 1-3 2zM311 12l1 1 0 1-2-1zM314 16l4 1-1 1zM320 19l2 1-2 0zM-333 -107l2-1-3 0zM-337 -106l2 0-1-1zM-354 -104l2 0-1 0zM-308 -114l3-2 0 1-3 1-1-1zM56 -83l2 1 4 0 4-2 4 0 4 1 3 1 6-1 0-2-3-2-3-2-2-1-2-1 3-1 3-2-4 0-4 1-1 2 3 0-3 1-3 1-2-2 2-1-2-1-3 0-2 1-1 2-2 1-1 3 0 1zM94 -90l1-1 2-1 1-1 4-1 4 0 0 3-3 2-1 1 1 2 2 2 1 2 2 1-1 2 1 2 0 2-4 1-3 0-3-1 0-2 1-2 0-2 1 0-3-3-2-2 0-2z" fill="none" stroke="#000" stroke-width="0.9" vector-effect="non-scaling-stroke" stroke-linejoin="round"/><path fill="none" stroke="#333" stroke-width="0.8" vector-effect="non-scaling-stroke" d="M-249 -101L-209 -101L-209 -68L-249 -68L-249 -101M-209 -101L-179 -101L-179 -54L-209 -68M199 -76L218 -76L233 -91L303 -91L263 -52L263 -40L199 -40L199 -76"/><path fill="none" stroke="#333" stroke-width="0.85" stroke-dasharray="3.2 1.3 0.8 1.3" vector-effect="non-scaling-stroke" d="M-260 -101L-245 -68M-20 -62L-20 -91L80 -91L80 -62M80 -91L149 -91L149 -62M79 -61L149 -61M119 -61L119 -48L132 -48M-40 -62L80 -62M-40 -62L-40 -16L-20 -11L15 -5M-40 -31L66 -31M15 18L80 18L63 71L15 71L15 18M49 18L49 71M186 -40L186 21L310 21M263 -40L263 -12L320 19M-159 30L-151 44L-155 66L-158 95L-149 95M-194 -54L-180 -43"/><path stroke="#000" stroke-width="1.25" stroke-linecap="square" vector-effect="non-scaling-stroke" d="M-166 -143h0M-180 -157h0M-174 -157h0M-166 -157h0M-194 -76h0M-104 35h0M-108 28h0M-101 28h0M-112 21h0M125 -140h0M153 -140h0M188 -140h0M195 -140h0M202 -140h0M209 -140h0M-18 -60h0M-11 -60h0M-4 -60h0M3 -60h0M17 -60h0M24 -60h0M38 -60h0M45 -60h0M52 -60h0M59 -60h0M66 -60h0M-18 -40h0M-11 -40h0M-4 -40h0M3 -40h0M10 -40h0M17 -40h0M38 -40h0M45 -40h0M52 -40h0M66 -40h0M112 -53h0M120 -53h0M126 -53h0M140 -53h0M148 -53h0M95 -60h0M102 -60h0M116 -60h0M123 -60h0M144 -60h0M151 -60h0M158 -60h0M165 -60h0M98 -67h0M106 -67h0M112 -67h0M120 -67h0M126 -67h0M134 -67h0M140 -67h0M148 -67h0M154 -67h0M162 -67h0M130 -74h0M6 -14h0M13 -14h0M20 -14h0M27 -14h0M34 -14h0M73 -14h0M80 -14h0M87 -14h0M226 -65h0M234 -65h0M223 -72h0M230 -72h0M237 -72h0M234 -79h0"/></g><rect x="2.50" y="439.50" width="331" height="140.80" fill="none" stroke="#333" stroke-width="1"/><text x="5.9" y="450.7" font-size="10.3" font-weight="bold" style="fill:#555">e</text><polygon points="1.30,591.50 16.20,588.40 16.20,594.60" fill="#4050d0"/><polygon points="333.80,591.50 319.00,588.40 319.00,594.60" fill="#d24b43"/><rect x="16.20" y="588.40" width="43.56" height="6.20" fill="#7b9cf4"/><rect x="59.46" y="588.40" width="43.56" height="6.20" fill="#a5c0f7"/><rect x="102.71" y="588.40" width="43.56" height="6.20" fill="#c9d9f5"/><rect x="145.97" y="588.40" width="43.56" height="6.20" fill="#ffffff"/><rect x="189.23" y="588.40" width="43.56" height="6.20" fill="#efcab6"/><rect x="232.49" y="588.40" width="43.56" height="6.20" fill="#f0a285"/><rect x="275.74" y="588.40" width="43.56" height="6.20" fill="#e57a62"/><polygon points="1.30,591.50 16.20,588.40 319.00,588.40 333.80,591.50 319.00,594.60 16.20,594.60" fill="none" stroke="#222" stroke-width="0.7"/><line x1="16.20" y1="594.60" x2="16.20" y2="597.80" stroke="#111" stroke-width="0.9"/><text x="16.20" y="608.60" font-size="10" text-anchor="middle">−100</text><line x1="59.46" y1="594.60" x2="59.46" y2="597.80" stroke="#111" stroke-width="0.9"/><text x="59.46" y="608.60" font-size="10" text-anchor="middle">−50</text><line x1="102.71" y1="594.60" x2="102.71" y2="597.80" stroke="#111" stroke-width="0.9"/><text x="102.71" y="608.60" font-size="10" text-anchor="middle">−25</text><line x1="145.97" y1="594.60" x2="145.97" y2="597.80" stroke="#111" stroke-width="0.9"/><text x="145.97" y="608.60" font-size="10" text-anchor="middle">−10</text><line x1="189.23" y1="594.60" x2="189.23" y2="597.80" stroke="#111" stroke-width="0.9"/><text x="189.23" y="608.60" font-size="10" text-anchor="middle">+10</text><line x1="232.49" y1="594.60" x2="232.49" y2="597.80" stroke="#111" stroke-width="0.9"/><text x="232.49" y="608.60" font-size="10" text-anchor="middle">+25</text><line x1="275.74" y1="594.60" x2="275.74" y2="597.80" stroke="#111" stroke-width="0.9"/><text x="275.74" y="608.60" font-size="10" text-anchor="middle">+50</text><line x1="319.00" y1="594.60" x2="319.00" y2="597.80" stroke="#111" stroke-width="0.9"/><text x="319.00" y="608.60" font-size="10" text-anchor="middle">+100</text><text x="167.60" y="623.90" font-size="12.3" text-anchor="middle">Δhours of exposure</text><text x="351.6" y="434.1" font-size="12.3">T<tspan font-size="8.6" dy="2.6">w</tspan><tspan dy="-2.6"> 99</tspan><tspan font-size="8.6" dy="-4.3">th</tspan><tspan dy="4.3"> percentile event</tspan></text><text x="682.1" y="434.1" font-size="12.3" text-anchor="end">SSP1-IRR - SSP1-NOI</text><g transform="translate(517.000 522.250) scale(0.459722)"><rect x="-360" y="-180" width="720" height="306.27" fill="#f5f5f5"/><path fill="#fff" d="M-11 -72l1-2 10-8 6-6 14-2 5-2 15 6 8 2 6 2 19 7 0 9-5 5-28 2-20-5-20-6-11-1zM53 -80l7 0 0-3-7 0zM54 -81l30 0 0-14-30 0zM92 -73l18 0 0-22-18 0zM115 -86l9 0 0-7-9 0zM64 -61l7 0 16 36-2 1-11-12-10-20zM95 -61l5-1 14 7-1 7-11 1-7-9zM18 -107l43 0 0-26-21 0-12 17-7 0-3 4zM64 -127l26 0 0-7-26 0zM-196 -62l34 0 1 12-5 5-7 2-2 5-9 4-12 0zM-192 -132l40 0 0 30-40 0zM-172 -126l28 0 0-16-28 0zM-252 -138l60 5 28-5 12-7-8-7 16-5 20-7-8-3-52 2-40 7-28 3zM-260 -101l15 33 11 0-12-28zM199 -76l19 0 15-15 70 0-40 39 0 12-64 0zM186 -40l77 0 0 28 57 31 0 2-134 0zM-40 -62l0 46 20 5 35 6 1-4-48-11-4-20 8-16 8-6zM15 18l65 0-17 53-48 0zM-20 -62l0-29 100 0 0 29zM80 -91l69 0 0 30-69 0zM-260 -101l15 33 36 0 30 14 0-47zM-159 30l8 14-4 22-3 29 10 0 2-25 5-34z"/><g clip-path="url(#land)"><rect x="-360" y="-180" width="720" height="320" fill="#ffffff"/><path fill-rule="evenodd" fill="#efcab6" d="M-199 -34l-2-2-4 2-4-2-2 2-5-5 2-2-3-3-2 2-3-3 0-2 4-2 1-7 4 2 3-1 0-2-4-4-1-5-2 0-4 4-4 0-2-2-2 2-1-3-3-1-4-6-7-3 2-6-5-1-1 3-3 1-1-1 2-4 7-1 1-3 5-3 6 0 1-1-2-2 0-4 5-5 1 3-2 2 3 3 6-4 6 0 4 2 4-12 2 4 7-1 0-4 2-4 4-2-3-1-2 2-1-1 1-3 10-2 2 2 6 0 6 4 2-2 6 4 2 0 3-3-5-9-2 2-8 0-4-2-4-6-4 0-2-2-4 0-2 2-4-6-6 6-6-4-4 0-2-2-2 2-2-2-6 0-6-4-4 2-6-4-4 4-6-2-3-7 11-11 4-2 2 2 4 0 2-2 2 2 10 0 2 2 6 0 4 4 6-6 2 2 4 0 1-1-2-2 7-7 6 0 2-2 14 0 2-2 18 0 2 2 6 0 2-2 8 0 1 1-5 1-1 3 1 1 10 0 2 2 2 0 4-4 2 2 2-2 2 2 4 0 2-2 4 0 4-4 2 0 6 8 2-2 5-1-4-2 1-3 12 0 2 6 4-2 6 6 4-2 8 0 2-4 1 1 0 4-2 2 2 4-6 4 6 2-4 2 1 3 4 0 5 3-4 4-3 7-2-2-4 2-2-6-4 4-6 0-4 4-6 0-8 6-6 0-4-4-2 0-4 8-2 0-9-11-4-8 2-2-9-9-18 0-4-2-1 3 9 3 3 3-2 2 1 1 2-2 5 3-2 4 1 1 4-2 3 1-2 4-6 4 0 2 9 9 3 1-4 2 5 1 3 3-3 1-5 5 0 4 2 2-5 3-4 0-6-8-1 3 2 4-3 1-1 3 4 4-3 1-4 4-2 0-1-1 4-4-5-1-3 7-6 6 2 2-3 1-6 8-8-4-1 1 2 4-5 1-2-6-3 3 2 2-1 5-2-2-4 0-2 4-4-2-4 2-1 5-2 2 2 2-2 2 2 2 0 4-7 1zM-51 -164l-2-2-4 2-3-3 7-1 2-2 1 1zM-98 -159l2-2-3-3-1 5 1 1zM159 -22l-3-1-1-5-4 0-4 6-1-5-4-4 0-4-11-11-6 0-4 4-4-4-3 1 2 2-1 1-4-2-4 2-4 0-2-2-2 4-4 0-8 4-12 0-4-4-1 1 2 2-1 3-2-2-2 2-8-6-2 0-8 6-12 0-2 2-2 0-1-3-3-1-4 4-6-2-2 2-12 0-2 2-4 0-4 6-4 0-3-3 4-2-1-1-12 0-2 2-2-2-10 0-1-1 2-2 0-4-4-2 0-6 4-4 2-6 5-5 3-1 4-10 6-2 0-10 1-1 3 1-2 10 5 3 3-1 2-4-2-4 5-7 1 5 3 5 7-3-1-3-5-1 0-4-3-3-8 4-1-5-1-1-2 2-1-3 3-3 4 2 9-1-10-10 3-3 2 2 2-2 4 0 4-2 1-1-2-2 7-9 2 8 2 0 3-3 2-4 0-4-3-3-5-1 3-5 2 2 6-2 1 3-2 2 5 5 1-1-4-4 2-2 1-5 2 0 8 10 2 0 4-4 2 4 1-3-4-4 0-2 1-1 2 2 4-6 3 3-2 2 6 2 2 4 0 4 1 1 2-2 3 1 0 8 3 1 1-3-2-2 0-4-2-4-5-5-3-1 0-2 3-1 2-4 5 1-2 4 3 3 2-6 8 0 2 2 8-4 2 2 4 0 1-1-2-2 7-7 4 0 2-4 4 0 2-2 2 2 4-2 4 0 1 1-2 2 1 1 4-2 6 2 2-4 4 6 4 2 4-2 4 4 8-6 10 0 4 2 2-4 2 2 6-2 1 1-2 4 1 3 2 0 1-3 5-3 4 0 4 6 4-6 2 2 8 0 4 2 2 4 2 0 4-4 4 4 4 0 2 2 4-6 6 0 2-2 3 1-2 2 1 1 2-2 4 0 2 2 14-2 6 12 2 0 8-8 4 0 1 5 3 1 3-3 1-5 1 5 5 1 1-1-2-4 3-1 5 5 0 2-1 1-2-2-4 6-5 1 0 6-2 2 1 3 4 0 3-3 1-7 4 0 1 1-2 4 5 1 1-1 0-12 1-1 3 3 2 4 0 4-4 2 2 2-2 2 2 4-3 1-4-4-3 3 1 3 4 0 2 2 2-2 1 5-5 1-2 2-4 0-4-2-1-1 2-4-1-1-4 4-8-4-2 2-4-2-6 4-3-3 2-2-1-3-4 2-4 0-2 4-4-6-8 4-1-1 2-2-3-3-2 0-4 4-6-6-2 2-1-5-3-1-1 1 2 2-1 3-4 0-6 4-4-2-1 3-3 3-2 0-2 4-9 3 4 2-2 4 6 2-2 2 1 3 2-4 6 0 1 1-2 4 3 3 2-6 2 0 4 4 1-5-2-2 3-1 7 7 0 4 6 6 1 3 4 0 2-2 3 3-3 3-2-2-4 2-2-2-1 1 2 6 3 3 4-2 1 3-5 3-5-5-1-3-1 7-4 2 0 4 4 4-5 3-2-2-6 0-1 3-3 1-2-4-4 2-2-4-4-2-4 0-2-2-10 6-1-1 0-4-4-2 4-2 0-4 2-2-2-2 2-2-2-4 2-2-1-1-3 1-1 7-4-4-5-1 8-6 0-2-4-2 0-2 3-3 4 4 2 0 5-5 2-6-3-3-7 1 1 5 4-4 3 1-5 5-4 0-4-4-6 0-4 2-2-4-2 0-1 3-3 1-4 6-3-1 0-4 2-2-1-1-4 4-6 0-1 1 1 3 7 1-2 4 0 4-2 2 1 1 6 0 2-2 5 1 0 4 4 4-4 2 1 7 2-4 10 0 2-2 5 1-6 4-1 5-2-4-4 0-4 4-4-2-3 1 3 1 5 5 0 2-4 2 2 2 0 6 2 2-5 1-9 9 0 2-3 1zM227 -148l-5-1 0-2 5-5 3 3 0 2zM271 -150l-1-3 3-3 1 3zM-144 -149l-5-5-5 3 5 3zM-37 -148l-6-2-1-3 3-1 2 2 2-2 4 0 1 1zM237 -146l-1-3 3-3 1 3zM289 -146l-4 0-1-3 3-1 3 3zM132 -143l2-4-1-1-6 0-2 2-4 0-3 3 1 1 4-2 4 2 2-2 2 2zM-295 -142l-4 0-1-1 5-3 1 1zM39 -134l-1-5 2-4 3-3 4 2 1 5-1 1-4-2zM270 -139l4-2-3-3-4 0-1 3 3 3zM351 -138l-3-1 3-3 1 1zM-313 -116l-4-2-16 0-3-3 0-6-4-2 0-4 3-3 8 4 1-1-2-4 1-3 4 0 6 4 4-2 4 6 6-2 1 1-2 2 0 4 2 4-5 1zM339 -130l-2-2-4 2-3-1 2-2 1-5 7 1zM298 -131l2-4-1-1-3 3 0 2 1 1zM-158 -131l2-2-1-1-3 1 0 2 1 1zM-128 -129l-5-5-1 1 1 3 4 2zM284 -129l2-2-3-3-1 5 1 1zM345 -130l-1-3 3-1 1 1zM353 -126l-1-5 3-1 1 3zM335 -116l-6 0-3-3 3-1 4-4 2 0 1-1-2-2 3-1 3 3 0 2-3 3-2-2-1 1 2 4zM62 -119l-1-5-5 3 1 3zM1 -114l-3-1 1-3 3 3zM283 -108l-8 0-1-1 5-5 2 0 3 3zM-7 -100l-3-1 1-3 5 1zM136 -97l2-2-3-3-2 0-3 3 1 3zM283 -94l-1-1 1-7 1 1zM-239 -94l-3-3 1-3 5 1 0 2zM275 -96l-3-1 1-3 3 3zM150 -93l0-4-1-1-1 5 1 1zM-243 -90l-3-5 1-1 3 1zM183 -88l-5-3 1-3 2 0 3 3zM212 -91l-1-3-3 3 1 1zM265 -84l-10 0-4-4-4 0-1-5 5-1 4 6 10 0 1 1zM273 -90l-3-3 1-1 3 1zM279 -86l-3-5 3-3 2 0 1 1-2 2 2 2zM158 -83l-2-6-3-3-4 6-2-4-3 1 0 2 5 3 4 0 2 2zM-222 -83l-3-3-3 1 5 3zM18 -77l2-4-5-3-1 3 2 4 1 1zM181 -74l-3-1 2-2-2-4 5-3 1 7zM38 -67l2-4-3-3-5 5 3 3zM62 -67l-1-1-5 1 1 1zM193 -56l-1-3 3-1 1 1zM217 -50l-4 0-1-1 3-3 3 3zM84 -41l-1-3-3 1 3 3zM-27 -24l-4 0-1-1 5-1 1 1zM-25 -20l-3-1 3-3 1 1zM157 -16l-4-2-2 2-1-1 0-4 3-3 4 4 3 1zM-95 56l-3-1-1-5-6 0-5-5 6-6-4-14 4-2 0-4 3-3 4 0 8-6 4 0 3-3 0-2 3-1 7 5-2 2 4 4 0 4 2 2-6 8 2 2-2 2 0 6-2 4-7 7-4 2-2-2z"/><path fill-rule="evenodd" fill="#f0a285" d="M-161 -130l-8-4-2 2-4-2-4 2-4-2-2 2-2-2-6 0-4-4-2 2-4-2-2 2-6 0-2-2-10 0-6-4-6 0-4-2-3-5 0-6 5-1 2-2 16 0 2 2 6 0 4 4 6-6 2 2 4 0 1-1-2-2 7-7 8 0 2-2 2 2 6 0 2-2 2 2 22 0 2 2 4 0 2-2 1 3 5 1 2 4 4 0 2 2 2-2 2 2 8 0 1 1-2 2 1 1 4 0 1-3 3-1 4 6 10 0 3 5-3 3-8 0-1 1 2 2-3 1-2 4-6 0-2 2-1-3 2-2-2-2 4-2-1-5-4 0-4 2-2-4-20 0-4-2-1 1 1 3 4 0 5 3-5 5-4 2-4 0-4 4-2-2-4 2-4-2zM-83 -132l-3-1 2-4 0-14 3-1 3-3 0-2-1-1-6 4-4-2-1-3 3-1 2 2 1-3 3-1 7 5 0 6-4 4 0 4-4 4 2 4zM-69 -148l-3-1 0-2 4-2 0-2-4-4 1-3 2 0 3 3 0 2 4 2zM-144 -149l-5-5-5 3 5 3zM-59 -144l-3-1 0-6 5-3 1 7zM-249 -146l-3-1 1-3 3 3zM167 -30l-2-4-4 4-8 0-4-4-6-2-1-1 2-2-9-9-6 2-2-2-6 0-2-2-4 2-10 0-2-2-2 2-12 0-2 2-2 0-4-4-4 4-6 0-4 4-2-4-4 4-2 0-3-7-3-3-2 2-4 0-4-4-1 1 1 3 4 2 6 0 3 3 0 2-1 1-10 0-4 4-1-3 2-2 0-4-5-3-8 0-9 9-1 3-4 0-2-4-1 3-9 7-3-3-1-7-16 8-1-1 2-4-1-3-4 0-2-2-6 0-2 2-4-2-1-3 9-9 3-1-2-2 3-3 4 2 14-2 7-5-2-2 1-1 4 0 2-2 2 8 2-2 2 2 4-2 6 2 2-6 4 6 4-4 6 4 4-2 4 0 2 4 6 0 2-4 5-1-2-4 6-2-2-6 4-4-1-3-3 3 0 2-5 1-1 1 2 2-3 1-4-6-8-4-4 6-8-4-6 0-1-1 2-2-1-1-7-1 4-8 3-3 2 0 1-3-3-3-8 8-7-7 3-3 2 0 4 4 5-9 1-5 4 0 8 4 6 0 4-8 4 6 4 0 2 2 6 0 2-2 2 2 10 0 3-3-3-3-2 2-1-3 2-2 0-4 3-1 1-3-4-2 3-1 1-3 5-3 4 0 2-2 2 2 10-2 4-6 4 4 4 0 2 2 4-2 4 2 2-2 2 2 2-4 8 0 1-3 3-1 4 4 8 4 4-4 6 6 5-5 0-2 3-1 2 4 4 0 2 2 12 0 3 3 1 9 8-6 2 0 1 1-4 4 2 2 0 4 2 4-1 1-3-3 0-4-3-1-7 9 0 2 4 2-3 3-4 0-4-2-1 3 2 4-3 1-4-2-2 4-2-2-4 2-2-4-3 1 2 2-1 1-6 0-1-1 2-2-1-3-2 2-6 0-4-2-8 6-2 0-6-6-4 2-2 4-4 0-2-2-8 0-2 2-4 0-2-6-4 0-2 2-2-2-1 3 3 5 2-2 5 1-2 4-3 1-2-2-4 0-2-2-1 1 0 2 4 2 0 6-2 2 1 1 2-2 4 0 2 2 1-1-2-4 1-3 6 0 1 7 5 1 5-3-4-4 0-4 7-1 1 1-2 2 0 4 2 2 0 4 3 3 3-3 1-5 3 5-2 4 3 3 2-2 8 0 4 6 4-2 3 3-2 2 4 4-2 4 9 3 3 5 0 4 2 2 0 2-4 4 4 8zM-63 -132l-2 0-3-3 2-2-4-4 1-1 9 1 0 4zM-91 -130l-3-1 1-5 3 3zM255 -128l-3-3 0-2 3-3 5 5zM-315 -126l-5-1 0-4 3-3 1 5 2 2zM235 -126l-8 0-1-5 1-1 4 2 2-4 3 5zM271 -132l-4 0-1-1 5-1 1 1zM-335 -128l-3-1 1-3 3 1zM215 -128l-1-3 3-1 1 1zM277 -128l-3-1 1-3 3 3zM-329 -124l-2 0-3-3 3-3 3 3zM-167 -122l-5-1 1-5 7 1zM-189 -56l-4-2-10 2-1-5-7-7-2 0-2-4-8 0-5-5 7-1 7-5-7-1-4-4-2 0-1-3 7-1 4 4 8 0 8-4 4-4 3-1-2-2 4-2 0-10 1-1 5 1 0 2-4 2 1 1 4-2 4 2 3-1-8-6 5-5 4 0 4 2 5 5 0 2 3 1 1-1-2-4 1-1 4 2 3-3-4-6 0-2 3-3 4 2 2-2 10 0 2-2 2 8 6 0 2 4 4 0 2-2 1 1 0 4-2 4-5 5-7 1 2 4-1 3-6 0-4-2-1 7-4 2-2 6-3 1-2-4-6 2-1 1 6 4-7 7-6-2-5 13-5 1zM194 -123l4-2-1-3-2 0-1 3-4 2 1 1zM225 -122l-4 0-1-3 5-1 1 1zM35 -118l-1-3 3-3 3 3zM-176 -111l-1-3-3 1 3 3zM-140 -109l2-2-3-3-1 5 1 1zM86 -109l-1-3-3 3 1 1zM66 -107l2-2-1-1-5 1 3 3zM52 -105l-1-3-2 0-3 3 1 1zM58 -97l-1-3-3 1 1 3zM96 -91l0-4-3-3-5 1 1 5 4 2zM94 -85l-1-3-4 2-2-4-3 1 1 5zM237 -82l-4 0-3-3 0-2 5-1 2 2 5 1zM-233 -80l-5-3 3-3 5 1 0 2zM-155 -74l-3-3 0-2 1-1 2 2 5-5 0-2 3-1 1 5zM21 -72l-1-3 3-3 1 3zM209 -68l-5-3 0-2 3-3 3 1zM55 -68l-5-3 1-3 5 3zM225 -68l-2 0-3-3 5-1 1 1zM36 -57l0-4-1-1-1 5 1 1zM22 -51l6-4-1-3-7 1-2 4 3 3zM-205 -38l-3-3 5-1 3-3-5-1-3-3 5-5 6 6 5 1-3 5-2-4-1 5-5 1zM6 -41l-1-5-2 2-8-6-2 0-3 3 5 3 6 0 2 4zM33 -40l-1-5 3-1 1 3zM-97 48l-1-3-4-4 0-4-2-4 11-9 2 0 2 4 3-1 0-2-7-3-1-3 1-1 12 0 6 4 2-2 1 5-2 4 2 2-10 2 4 4 0 2-3 3-2 0-2 4-4-6-2 2-4-2-1 1 6 4-5 1z"/><path fill-rule="evenodd" fill="#e57a62" d="M-185 -136l-2-2-6 0-2-4-2 2-8 0-2-2-6 0-2-2-4 0-2 2-3-3 0-6-2-2 7-3 1 1-2 2 1 3 4-6 4 0 4 4 6-6 2 2 4 0 1-1-2-2 3-3 6 0 2-2 4 2 28 0 2 2 10 0 4 2 2 4 3 1 0 2-3 3-6-2-1 3 6 2-5 1-4 4-18 0-2 2-18 0zM-144 -149l-5-5-5 3 5 3zM125 -110l-4-6-6 0-2 2-2-4-4 2-2-6-2 2-4 0-4-4-2 2-1-3 4-4 0-4 5-5 2 0 1 3-3 1-3 3 0 2 2 4 3 1 2-6 1 5 3 1 2 4 5-3-3-3-4 0-1-3 6-2 1-9 1 5 2 2-2 2 1 1 2-2 9-1 0-2-4-4 1-1 4 2 4 0 3 3 0 2-1 1-2-2-3 3 2 2 0 4 8 8-7 1zM159 -118l-4 0-8-4-4 2-7-5 1-1 4 0 2 2 2-2 4 2 9-1-2-2 0-4 2-2-1-1-12 6-7-7 3-5 6 0 1 1-2 2 1 1 4 0 4-4 2 0 2 2 4 0 2 4 4-2 3 1-6 6 3 3 2 0 1 3-3 3-6-2zM128 -119l4-2-3-1-4-6-4 0-1 1 4 2 0 4-2 2 1 1zM162 -125l2-2-1-1-3 1 0 2 1 1zM-189 -60l-6 0-2-2-4 0-3-3 0-4 4-4-8-6 0-2 5-3 6 0 2 6 6-12 5 7-5 1-1 3 8 4 0 10zM157 -52l-4-6-4 2-4-2-10 6-4-2-4 2-30 0-4-4-10 0-4-2-3-5 0-4 6-2 2-4-2-2 1-3 4 4 2-4 8 0 4-6 2 0 4 4 4-4 6 0 2 2 4 0 2-2 4 4 6 0 12 10 2 0 3 3 0 4 6 4zM153 -52l-4 0-1-1 5-1 1 1z"/><path fill-rule="evenodd" fill="#d24b43" d="M-183 -144l-2 0-5-3 3-3 4 0 3 3zM-169 -144l-3-3 1-3 3 3zM115 -68l-6 0-3-3 0-2 1-1 2 2 8-4 3 3-3 1zM99 -64l-1-3 3-5 1 5zM111 -56l-2 0-4-4-3-1 3-5 2 2 4 0 5 5zM125 -58l-7-1 3-5 6 2 4-4 1 5-5 1z"/><path fill-rule="evenodd" fill="#c9d9f5" d="M-257 -108l-4 0-6-6-4-2-6 0-2 2-2-2-2 2-2-2-10-2-1-3 6-8-1-1-2 2-3-5 5-1 2-2 4 2 6 0 2-2 4 2 2-4 6 0 2 2 4 0 2-2 6 4 2-2 4 2 2-2 16 0 2 2 14 2 6 4 5 1 0 4-3 5-8 0-2 2-4 0-2 4-4-2-4 0-4 4-1-3-3-1-2 4-2-2-4 2-2-4-4 4-4-4-2 0zM239 -108l-3-3 3-3 2 0 4-4 5 1-4 4-1 3-4 0zM245 -100l-2 0-3-3 3-1 2-4 4 2 1-3 3-1 2-4 2 2 9 1-4 2 4 2 0 2-3 3-2-2-6 0-2 2-6 0zM287 86l-3-3 2-4-3-3-4 4-1-3-3-1-2-4-2 2-6-6-10 0-6 4-2-2-2 2-4 0-4 4-4-2-4-6-3-1 0-6 2-4-4-2 0-4 2-4-4-2 5-5 2 2 6-6 4 0 8-8 2 0 3-3-1-1-4 2-4-2-4 2-4-4-10 0-2-2-2 2-2-2-8 0-5-5 0-2-8-8 0-2-12-12 0-2 8-8-2-2-1-5-2 2-3-1 4-4 0-2-4-4 1-1 4 2 5-1-2-6-4-4 1-1 2 0 4 4 6 0 2-2 4 0 1 3 5 5 2 0 2-4 3 1 0 14 2 2-14 12 2 2-2 2 3 3 12-6 5-5 1-3 6 0 6 4 10-4 5 5-6 6 1 1 4-4 5 5 1 3 4-2 4 4 4-2 2 2 6 0 4 4 2-2 6 6 4-6 6 2 3 3-6 12-3 3-2 0-2 4-4-4-1 1 6 6-2 2 4 4 0 2 12 12 2 4-2 2 2 2-3 3-2-2-4 4-2-2-3 1 0 2 3 3 2-2 5 1-4 6 2 2-3 3-1-3-3-3-2 0-1 3-5 5-2-2-1 1 0 4 4 2zM-133 112l-4 0-7-7 2-4-3-3-8 6-3-5 2-2-2-2 2-4 1-1 2 2 5-5 0-6-3-3-1 1 2 2-3 3-1-1 0-8 6-10-2-2 4-8-2-2 4-4 0-4 3-1 4 2 1-5-2-4-4-2-1-3-2 2-4 0-4-2-2-4-4 0-3-3 2-2-10-10 2-2 0-10 8-10-5-1-6-6-2 2-8-10-2 2-5-3 2-2 2-10 5-1 2-4 2 2 2-2 3 1-2 4 8 8 0 4-2 2 1 1 4-2 4 2 4 0 2-2 4 0 4-4 4 2 14 0 10 10 6 0 4 2 5 5 0 6 1 1 2-2 3 3-4 4-3 9-4 0-8 10-4 0-2 2-5 1-2 4 1 1 2 0 2-4 3 3-2 2-1 5-4-4-9 3 2 2-2 4 1 1 4-4 4 0 3 3 0 4 3 1 4 6 6 0 1 7-6 2 5 1 2-2 1 3-2 2 0 6-4 4 0 2-5 5-2-2-4 2-1 3-4 4-2 4 2 2-8 8 3 1 3 3 0 2zM-131 -32l-2-4-5-1 3-1 4-4 5 5-3 1zM35 72l-3-3 0-6-2-2 5-1 5-5-3-1-8 4-1-5-4-2 2-4-4-8-4-4 2-2 0-6 2-2 0-10-2-4-6-6 0-6 2-2-3-1-4-4-2 0-1-1 2-2-4-4 3-1 4 2 1-3-5-1-1-1 1-1 6 0 6-4 2 2 8-6 4 0 1 3 3 1 2-4 4 2 6 0 4-4 6 0 4 4 2-2 4 0 1-1-2-2 3-1 6 6 5 1-7 3-1 1 1 3 6 0 4-4 5 3-1 3-6 0-3 3 3 3 4 0 1 3 4 2 0 2-6 4 0 6-4 4 2 2-2 2 4 6 0 8 1 1 2-2 1 1 0 2-4 2 0 8 2 4-3 3-3-1 0-4 2-2 0-6-5-1-2 4-4 0-3 3 4 2 0 2-4 2 4 2-4 4-1 3-4-4-6 0-5 3 3 1 4-2 5 3-1 3-7 1 4 2-1 5-4 0-2-4-6 0-1 1 2 2-1 3-4-4-2 2-3-3 2-2-1-3-2 4-5 1 2 2zM107 -20l-3-3 1-1 3 1zM99 -14l-3-1 3-5 1 1zM-19 -8l-1-5 3-3 5 3-1 3-4 0zM-1 -10l-2 0-3-3 3-1 3 3zM248 -7l-1-3-3 1 1 3zM84 -1l-1-3-3 1 3 3zM216 3l-2-2-1-3-1 3 3 3zM250 5l2-2-1-1-3 3 1 1zM250 13l2-2-1-1-3 3 1 1zM280 25l-8-8 0-2-3-3-2 2-4-4-2 2-4-2-1 1 0 2 4 4-6 6 1 1 2 0 6-6 4 2 4-2 8 8zM315 18l-6 0-3-3 7-1 3 3zM93 40l-5-1 5-5 2 0 1 1zM-136 51l-1-3-3 1 1 3zM97 54l-2 0-3-3 1-3 5 1zM48 59l2-4-5-1-1 5 1 1zM339 98l-6-2-1-5-2-2 3-3 2 0 9-9 0-4-4-4 7-1 4 6 4-2 4 0 1 3-1 1-2-2-1 1 2 2 0 6-5 5-8 4zM299 80l-1-3 3-1 1 1zM-121 108l-2 0-5-5 5-5 8 0 1 1-4 4 2 2zM-113 106l-1-3 3-1 1 1z"/><path fill-rule="evenodd" fill="#a5c0f7" d="M-265 -130l-3-3 1-1 3 1zM-241 -114l-4-2-8 0-4 2-2-4-2 2-6 0-1-3 6-6-2-2 7-3 2-4 2 2 8 0 2-2 16 0 2 2 6 0 2 2 9 1 0 4-5 5-4-2-8 6-2-2-8 0zM-279 -116l-3-1 2-2-4-8 3-5 10 0 3 3 0 2 4 2-3 3-4 0-4 2zM201 -36l-3-1 3-3 1 1zM-171 -16l-2 0-9-11 2-6 3-3 8 0 3 3-2 4 6 2-2 4 2 4-7 1zM253 24l-2 0-4-4-8 4-2-2-6 0-4-4-6 4-2-2-8 0-13-15 0-2-8-8 0-2 6-4-2-2 4-4 0-2-4-2 0-8 7-3 4-4 3 1 1 5 3-1-2-2 1-1 4 0 5 5 2 4 0 4-12 10 2 2-2 2 3 3 2 0 4-4 8-4 8 0 2 2 2-2 4 0 2 6 4-2 4 2 2-2 4 4 4 2 2-2 8 6 2-2 6 0 6 4 2-2 6 6 2-4 7 3 0 2-7 7-4 2-6 0-6 4-6-2-6-8-2 2-4-4-2 2-4-2-1 3 4 4zM-127 28l-4 0-2-4-4 2-1-1 2-2-1-5-12 6-10-2-3-3 0-4-4-4 0-2 2-2 0-6 2-2 0-4 4-4-4-6 3-3 4 4 2-6 6 0 4 2 8-6 2 2 10 0 2 2 2-2 6 6 6 0 5 3-2 4 4 2-2 4 2 4-5 5-3 1 2 4-4 4-1 3-8 0-2 4-1-3-3-1-3 3 0 2 4 2zM51 54l-2-4-4 0-4-4-8-4-1-1 2-2-1-1-4 4-2-2-4 2-1-3 3-1 3-3-1-1-4 2-5-1 2-2 0-6 2-2 0-10-2-2 0-6-6-8 6-6 0-6 6-6 1-3 2 2 14 0 2-2 1 1-2 4 1 1 6-6 8 0 4-2 1 5-2 4 5 5 4 0 4 2 1 1-2 2 0 4 1 1 2-2 5 5-5 1-2-2-6 4-5 1 5 3 5 1-4 4 0 4 1 1 4-2 1 3 4 4-7 7-6-2-1 1 6 4-5 3-2 0-6-6-4 0-1 5 9 1 1 5-1 1-2-2-4 0-2 2-4-4-3 3 0 2 4 4zM71 -14l-2 0-3-3 3-7 1 7 2 2zM15 -6l-4 0-1-1 3-3 3 3zM216 3l-2-2-1-3-1 3 3 3zM250 5l2-2-1-1-3 3 1 1zM250 13l2-2-1-1-3 3 1 1zM271 74l-6-6-14 0-8-4-6 0-1-1 3-3 2 0 1-3-8-10 0-2 12-10-2-2 1-3 4 2 4-6 2 6 1-1 0-4-2-2 1-1 2 0 4-4 1 3-2 4 3 1 5-3-2-4 5-3 1 5 2 2-2 2 1 1 2-2 5 1-4 2 1 1 6 0 2-2 10 0 1 1-2 2 14 18 0 2-5 5-2-2-3 3-3 7-2-2-3 3 2 4-3 3-4-6-2 2-4 0zM44 31l2-4-2-4 4-2-1-1-2 0-3 3 0 8 1 1zM62 25l-5-3-3 1 1 3zM74 25l-3-3-3 3 1 1zM34 29l0-2-3-3-3 3 3 3zM52 33l-1-3-3 3 1 1zM-137 102l-3-1 2-2-2-10-4-2 2-4-2-2 0-12 4-2-2-4 3-1 5-5 0-8 3-3 2 6 6 0 1 3 4 2-2 2 4 4 3 7 4-4 1 1 0 6-7 9-2-2-2 2-2-2-3 3 2 2-7 3-3 3 6 4-5 5-4 0zM33 50l-3-1 1-3 3 1zM339 94l-7-7 3-1 9-9 1-3 2 0 4 4 5 1 0 6-3 3-2 0-4 4-4-2zM-132 87l4-2-3-1-2-4-3 3 2 2-2 2 1 1zM-119 100l-4 0-1-1 5-1 1 1z"/><path fill-rule="evenodd" fill="#7b9cf4" d="M233 18l-4-2-6 0-2 2-4-4-6 0-2-2-2 2-9-9 0-2-4-4 5-5 4 0 4-8 4 0 1 1-2 2 2 2-2 2 3 3 2 0 4-4 6 0 2 2 8 0 4-2 6 4 10 2 2 6 18 0 2-2 4 0 2 2 4 0 2 2 5 1 0 4-7 5-14 0-4-4-2 2-4-4-2 2-4-2-4 2-2-2-4 6-12 0zM-151 18l-7-1-2-4 0-8-2-2 2-2 0-4 5-5 4 0 4 2 1 7 2 2-2 2-2 10zM49 6l-4 0-1-3 3-1 4-4 9 3-5 1-2 2-2-2zM216 3l-2-2-1-3-1 3 3 3zM250 5l2-2-1-1-3 3 1 1zM47 14l-3-1 1-3 3 1zM287 62l-3-1-3-7-2 2-2-2-9-1 0-4-2-2 0-6-2-2 3-5 4 0 2-2 4 0 2 2 6 0 6 6 3 1-2 14-4 4zM271 62l-3-3 1-3 3 1z"/><path fill-rule="evenodd" fill="#4050d0" d="M241 12l-8 0-2-2-4 0-1-7 5-1 2-2 8 0 4 2 1 7z"/></g><path d="M-336 -131l3-2 6-1-6-3 7-3 6-1 6-2 10 1 8 1 14 2 10 1 5-1 11-1 7 1 7 0 12 1 10 2 12 0 12 0 4-1 3-6 4 2 5 3 8 1 4-2 5 1 0 3-7 2-4 4-7 2-7 4-1 5 4 4 8 1 7 2 5 1 1 4 3 3 3 0 0-4 0-2 4-4-1-4-1-4 0-4 6 0 6 2 4 1 1 3 3 2 3-1 3-3 2 3 4 4 1 2 3 2 5 1 3 3 0 2-2 1-6 3-8 0-5 0-4 2-4 3 4-2 5-1 3 0-1 3-1 1 2 2 4 1 3 0 2-1 0 1-7 2-5 2 0-2 3-2-3 1-3 1-4 1-2 2 0 2 1 1-1 0-4 1-3 1 0 2-2 1-1 2-1 2 1 3-4 2-3 2-4 3-1 3 2 4 1 4-1 3-1-1-2-2-1-2-1-3-2-2-3 1-2-2-4 0-2 1 1 2-2 0-3-1-4 0-3 0-3 3-2 2 1 2-1 4-1 3 2 4 2 3 3 2 3-1 3 0 2-2 0-3 4-1 3 0-1 3 0 3-1 2-1 3 3 0 4 0 4 2-1 4 0 4 2 3 2 1 4-1 3 1 1 1 1 1 2-3 1-2 2-1 4-2 3-1-1 3 1 1-1 1-1-2 4-1 3 2 5 0 4 0 4 0-1 1 3 3 3 0 3 3 2 2 4 0 3 1 4 2 1 3 2 3 0 3 3 1 2 0 6 3 5 2 5 0 4 4 4 0 1 5-1 3-2 3-3 3-2 2 0 5 0 4-1 4-3 5-2 2-4 0-3 2-4 2-2 2 0 5-3 2-2 3-2 3-3 3-3 2-3 0-4-2 3 3 0 2-1 3-4 2-5 0-1 3-5 1 2 3 1 1-3 1-1 3-4 2 3 4-3 2-2 3-1 2 1 2-2 0 2 2 3 1 3 2-2 0-4 1-4-1-4-2-3-2-2-3-1-5 1-4 1-2 2-3 1-5-2-1 1-3 0-5 2-4 2-4 0-5 0-5 1-5 1-5 1-5-1-5-2-2-4-3-4-2-2-3-1-3-3-5-2-4-3-3 0-3 1-2 1-2-2-2 1-2 1-3 2-1 1-2 2-3 0-3 0-3-2-2-1-2-2 1-1 2-2-1-3 0-2-3-3-1-1-2-2-4-3 0-4-2-4-1-3-3-4 1-5-2-4-1-3-2-3-1-4-3 0-2 0-3-2-1-3-3-2-3-2-2-2-2-2-2-2-3-4-3 1 4 2 2 1 2 2 3 2 2 1 3 2 2-1 0-3-3-1-1-1-3-3-2-1-2-2-3-2-3-1-2-3-3-2-1-2 0-1-2-3-3-1-2-1-2-2-3 1-3-1-2 1-4 0-2 0-2-1-3 3 1 1-2-3-2-2-1-4-1-2-2-2-3-3-2-1-2-3-2-4-3-4-1-3-1-3-2-4 0-5 0-5-2-4 1-3 2-4 1 2-4-3 1-3 3-1 2-4 2-4 2-5 1-5 1-3 1 4-1 5-2 4-2 3-3-3-1-4 0-3-1-4-1-3-1 1-2-2-1 3-2 4-1 3-2-1 0-3 0-4 0-2 0-2-1zM-146 -156l8-2 8-3 8-3 16 0 16-2 26-1 16 1 8 2 16 1-10 3-4 4 1 3-5 3 2 3-4 4 0 2-7 3-9 2-8 3-7 2-6 2-3 3-2 6-4-1-7-1-3-3-3-4-3-4-1-4 5-2-5-2-2-2-2-3-2-3-5-3-8-1-10 1-7-2zM-123 -134l-3 4-3 4-3 1-5 0-6-2-6-2-6 0 1-3 7-2-5-3-7-3-7 0-10-1-4-2 2-3 8-1 10 0 8 2 8 2 7 2 3 2 1 2zM-158 -153l-10 0-11 0 0-4-7-2-4-2 10-3 20-2 20 0 16 1-4 2-12 2-8 2-4 2-4 2zM-160 -149l-16 0-8-2 8-2 12 0 4 2zM-237 -142l3 3 10 0 12 1 9-1 1-2-4-2-4-3-6-1-10 1-10 1zM-251 -144l4 2 6-1 4-2-2-3-9-1-2 2zM-234 -149l12 0 8-1 2-2-8-1-10 0-6 1zM-194 -146l-7 2-4-2 3-2 7 0zM-181 -145l-9 1-1-4 9 0zM-196 -150l-7-1 2-2 7 1zM-174 -157l-10 0-8-2 4-3 13 1 3 2zM-230 -152l-14 0 4-3 9 1zM-161 -127l-6 1-7-1 2-4 5-1 4 2zM-119 -95l2-3 2-3 2-2 2 0 0 3 3 1 2 2 1 2-2 2-3-1-2-1-5 0zM-257 -102l5 3 5 2-1-2-3-2-4-1zM-170 -44l3-2 4 0 3 0 4 1 4 3 4 2-3 0-4 0 0-1-2-2-4-1-3 0-3 0zM-149 -37l3-3 4 0 3 1 2 2-3 1-3 1-2-1-3 0zM-157 -37l4 1-1 0-2 0zM-134 -37l3 0 0 1-3 0zM-312 -41l2 1-1 2-1-1zM-317 -43l2 0-1 1zM-11 -72l-2-1-2-1-3 0 0-3-1 0 1-3 0-4-1-2 3-1 7 0 5 0 2-2 0-3-2-2-5-2 0-1 3-1 3 1-1-2 2 0 2 0 3-1 0-2 3-1 2-1 2-2 3-1 4 0 1-2-2-2 0-2 1-1 4-1 0 2 1 0-2 2 0 2 2 1 3-1 3 1 4-1 5-1 2 1 3-1 0-3 1-2 2 0 4 1-1-2-1-1 0-2 5 0 4 0 4-1-2 0-5-1-7 1-3-2 0-2 0-2 2-2 5-2 1-1-3-1-3 0-2 2-2 2-3 1-3 2 0 2-1 2 3 1 1 1-2 1-3 2 0 3-1 1-3 0-1 1-2 0-1-2-1-2-2-2-1-2-1 1-3 2-3 0-3-1 0-2-1-3 0-2 3-1 4-2 3-1 3-2 2-2 2-3 4-2 3-1 3-2 5 0 5-1 5-1 4 0 5 2 1 1 4 0 7 1 6 2 3 2 0 1-5 1-7-1-1 2 1 2 4 1 2-1 4 0 1-2 4-2 3 0 0-3 4 0 4 1 10-2 2 1 6-1 5-1 3-1 7 0 4 2 1 1 3-1 1-1-4-2 0-2 3-2 3-2 5 0 0 3 1 2-2 3 3 1 0 2-2 2 4-2 1-2-1-1-1-2 0-2 3-3 1 2 4 0 2-2 4 0-1-2 6 0 6-1 1-2 6-1 10-1 8-1 5-1 5-1 6 1 1 1 7 0 5 1 0 3-4 2 7 0 8 1 8 0 7-1 4 1 1 2 6 1 7 0 7-1 2-1 12 1 8 1 5 1 7 0 7 0 3 3 6 0 7 0 5-1 7 0 6 1 7 1 0 8-3 1-2 0 3 2 1 2-5 0-6 1-4 2-3 2-5-1-5 1-3 0-1 2-3 2 2 1-1 3-2 2-3 2-3 2-4 4-1-3 0-5 0-4 3-2 4-3 5-2 3-2-2-1-5 2-3-2-4 1-3 3-5 2-6-1-6 0-7 0-4 3-5 2-3 4-4 1 4 0 3 1 4 2 2 2-1 2-1 4 0 2-4 2-4 4-3 2-4 3-3-1-2 1-2 3-2 2-2 1 2 2 2 3 0 3-4 2-2 0 0-3 0-2-1-1-2-1-1 0 1-3-1-1-4 1-2 1 0-1 1-2-2-1-3 2-3 2-1 1 3 2 0 1 4-2 3 1-3 2-2 1-2 2 3 1 1 4 2 2-1 1 1 3-1 2-2 2-2 3-2 3-2 2-3 1-3 1-2 1-3 0-3 1-1 2-1-2-2 0-2 0-2 2-1 2 0 2 1 2 2 2 3 2 1 4-1 4-2 1-3 1-3 4 0-2-1-2-3-1-1-2-2-1-1-2-2 0 0 3-1 3-1 3 3 1 0 3 2 0 1 2 3 2 0 4 2 3-2 0-3-1-1-2-2-2 0-3-1-2-1-1-2-2 0-2 0-3 0-3-2-5 0-4-2-1-2 2-2 0 0-3-1-4-2-1-1-2-1-3-3 0-2 1-2 1-3 0 0 2-4 2-2 2-3 3-2 1-2 1-1 5 0 4-1 2-2 3-2 2-2-2-1-3-1-3-1-2-2-4-1-2-1-5 0-4-1-2-1 1-2 0-4-3 2-1-2-1-3-1-2-3-4 1-6 0-4-1-4 0-1-3-3 0-2 1-2-1-4-2-3-3-1-1-3 0 0 2 1 1 2 2 1 2 0 2 2 1 0-2 1 2 0 1 2 1 3 0 3-3 2-1 0 2 1 2 3 1 3 2-2 2-2 3-1 2-2 1-2 2-4 2-3 2-5 2-2 1-4 1-3 1-3 1-1-2 0-3-1-3-2-4-2-3-3-3 0-3-3-3-2-3-2-3-1-2-1-2-1 3-1-1-2-3 0 1 1 2 2 3 1 3 2 3 0 2 3 2 0 3 1 4 2 1 2 4 1 2 2 1 3 3 2 1-1 2 3 2 4-1 4 0 3-1 2-1 0 3-1 3-2 4-2 3-3 4-3 3-4 3-3 3-2 2-2 2-1 3-1 4 1 3 0 4 2 1 0 5 0 4-2 3-4 3-2 2-3 2 1 4 0 4-2 2-3 1 0 3-1 3-2 2-2 3-4 3-3 2-3 1-3 0-3 0-5 2-2-1-1-1-1-3-1-4-2-4-2-3-2-4 0-4-2-5-2-3-1-4 0-4 2-4 1-3-1-5-1-6-1-2-2-2-3-4-1-3 1-3 1-4-2-2-1-1-3 0-2 0-2-2-1-2-4 0-3 1-3 1-3 1-4 0-3 0-4 1-3-1-5-4-2-1-1-3-3-2-2-3-2-2-1-2-1-2 2-3 1-4-1-3-1-3 2-4 2-4 3-5 4-1 3-3 1-2-1-3 3-3 3-1 2-3 0-1 1 0 2 2 5 0 2-1 2-1 3-1 4-1 4 0 4 0 4-1 2 1 1 0-1 1 1 2-1 2-1 2 2 1 3 0 5 1 1 2 4 1 3 1 2-1 0-2 3-2 3 1 4 2 5 1 4 0 3-1 3 0 4 0 1-2 1-3 1-3 0-1 0-1-1 0-2-1-2 2-2 0-4-1-2 1-3-1-1-1 0-2-2-1 1-1-2-1 1-1-1-1 0-1-2 0-2 0-1 1-1 0-1 2 2 1-1 0 2 2-2 0 0 3-1 0-2-1-1-2 1-1-2-1-1-1-1-2 0-3-2-1-2-1-3-1-2-2-1-1-2-1-2 0 0 2 2 2 2 2 3 1 2 2 3 2-3-1-1 2 1 1-1 1-2 1 1-2-1-2-1-1-2-1-2-1-4-2-1-1-1-2-2-1-3 1-2 2-3-1-2 0-2 1 0 2-2 1-2 2-3 2 1 2-1 0-1 2-2 2-5 0-1 0zM-11 -100l3-1 2 0 4-1 5 0-1-2 1-1-2-1-1-1-1-2-2-1-1-2-1 0 1-3-4 0 2-2-4 0-1 1-1 2 1 1 0 2 1 1 0 1 3-1 1 2 0 1-3 0 0 1 1 1-2 1 2 1 2 0-3 1-1 1zM-12 -104l0-3 0-1 1-1-1-1-3-1-2 1 0 2-3 0 0 1 1 2-2 1 2 1 3-1 2 0zM-45 -128l1-1-4-2 3-2 4 1 4 0 5-1 3 1 2 2-2 1-5 1-4 1-4-1zM22 -157l5 1 6 3 4-2 8 0 5-2 4-2-7-1-10-1-5 1-8 0-3 1zM103 -143l3 1 6 1 3 0-4-2 1-2 3-2 4-2 5-2 8-1 6-2-4 0-6 1-9 1-7 2-2 2-3 2-2 1zM191 -158l8 2 10-1-1-2-10-3-7 0-4 2zM272 -148l8 1 7 1-3-3-7-2 5-1 9 1 8 0 1 2-8-1-7 2-7-2-5-1zM357 -142l3-1 0 1zM-360 -142l0-1 4 0 1 1zM-360 -130l3-1 5 0 4 2 3 0-1-2 4-1 3 0-4-2-5 0-4-2-5-1-3-1zM262 -68l1-1 3-2 4 0 2-2 2-2 1 1 2-1 2-2 1-3 0-2 3-1 0 3 1 1-2 3 0 2-1 3-1 1-2 0 0 1-3 0-1 0-2 2-2-2-2 0-3 1zM259 -67l1 2 0 2 2 1 1-1 0-2 0-2-1-1-2 1zM265 -66l1 0 3-1 0-1-2-1-2 1zM280 -83l2-1 2-1 3 1 2-2 2-1-2-1-3-1-2-2-1 2 0 2-2 1-1 1zM284 -92l3-1-2-2 1-3 3 0-2-5-1-3 0-3-2 1 1 4-1 2 0 4 0 2 0 3zM240 -46l1-3 2-2 1 2-1 3-1 2zM217 -38l2-2 2 0 1 1-2 2-2 0zM240 -33l1-4 2 0 2 1-1 3-1 2 0 3 2 0 3 2 0 1-2-2-4 0-1-1 0-3zM244 -14l2-2 2-1 3-3 2 5-1 2-1 2-3-2-1-2zM244 -21l2 3 3-2 2-2-1-3-2 0-2 2-2-1zM234 -17l4-3 1-3 0 2-4 4zM241 -27l2 1-1 2-1-1zM191 -11l4 1 2 2 4 3 2 1 3 3 2 3 2 2 2 2 0 4 0 2-3 0-2-2-3-3-2-3-1-2-3-3-1-2-2-2-2-2-2-3zM210 14l2-2 3 0 2 1 4 1 2-1 2 1 4 1 0 2-4 0-4-1-5 0-3-1-2-1zM218 -3l1 4 1 5 3 1 3-1 3 1 3 1 1-4 1-2 1-4 1-1 0-3 1-3 2-2-3-1-2-2-2 1-1 3-3 1-2 3-3 1-3 1zM239 11l2 0 0-4 1 2 4 1-2-4-1-2 2-2 2 0-4 0-3-3 2-2 4 1 3-1 0 2-4 0-3 0-2 2 0 1-1 2-1 2 1 1zM255 -4l1 0 1 1-1 2 1 2-1 1-1-3zM256 6l3 0 3 1-3 0zM252 6l2 1 0 1-2-1zM262 3l2-2 3 0 1 1 0 3 2 2 3-2 3-2 2 1 4 1 3 2 4 1 3 2 1 2 2 1 1 3 3 2 3 2-3 1-4-1-3-2-3-3-2 2-2 2-3-1-3-2-2 1-1-2 2-1-3-3-5-2-3-1-1-1-2-1 2-1-2-1zM297 11l3 0 3-2 1 0-1 2-3 1-3 0zM302 5l2 2 2 2-1 1-2-3zM160 -16l0-4 2 2 2 3-1 2-2 1-1-2zM99 24l1 5 1 3-2 2-1 6-2 6-2 4-3 1-3-1-1-3 0-3 2-4-1-5 1-3 4-1 3-2 1-2zM227 44l1 5 0 4 2 6 1 5-1 3 2 3 4 0 4-2 5 0 4-2 3-1 6-2 5 0 3 1 2 2 3 3 1 1 1-3 3-2-1 3 0 2 1-2 1 3 2 0 1 3 1 2 4 1 2 1 3-2 1 1 2 1 3-2 3-1 1-2 2-4 1-3 2-2 1-3 1-4-1-5-1-2-3-3-1-2-2-3-2-2-4-2-1-3-1-3 0-2-3-2-1-3-2-4-1 3-1 3 0 4-1 4-3 0-3-2-4-2-1-2 1-2 1-3-1 0-3 0-4-1-1 0-3 2-2 5-2 0-3-2-2 0-2 2-2 3-2 0-2 2-1 3-3 2-3 1-3 0-3 2-2 1-1 1zM289 81l4 1 4 0 0 2-1 2-2 1-2 0-2-3-1-1zM345 69l2 1 2 2 2 2 1 1 2 1 3-1-1 3-2 1 0 1-2 2-2 1-1 0 1-2-1-2-1-1 1-2 0-2-2-3zM345 81l3 1 0 2-1 2-1 2-3 1-1 3-3 1-2 0-4-1 1-2 3-2 4-2 1-2 2-1zM328 40l3 2 3 3-1 0-4-3zM355 35l2 0 0 1-2 0zM333 30l1 1 0 1zM-123 103l6 0 1 0-2 1-4 0zM185 -25l1-2 0 4zM65 -70l1 1 3-2-3 0zM47 -71l2 0 4 1-2 0-3 0zM25 -76l2 0 4-1-1 4-2-1zM17 -78l-1-4 2 0 2 1-1 3zM17 -83l0-2 2-1 0 2-1 1zM229 16l2 1-1 1zM232 17l2-1 4 1 0 1-5 0zM240 17l3 0 3 0-5 1zM238 19l2 0 2 1-2 1zM247 20l2-1 2-2 4 0-3 1-3 2zM311 12l1 1 0 1-2-1zM314 16l4 1-1 1zM320 19l2 1-2 0zM-333 -107l2-1-3 0zM-337 -106l2 0-1-1zM-354 -104l2 0-1 0zM-308 -114l3-2 0 1-3 1-1-1zM56 -83l2 1 4 0 4-2 4 0 4 1 3 1 6-1 0-2-3-2-3-2-2-1-2-1 3-1 3-2-4 0-4 1-1 2 3 0-3 1-3 1-2-2 2-1-2-1-3 0-2 1-1 2-2 1-1 3 0 1zM94 -90l1-1 2-1 1-1 4-1 4 0 0 3-3 2-1 1 1 2 2 2 1 2 2 1-1 2 1 2 0 2-4 1-3 0-3-1 0-2 1-2 0-2 1 0-3-3-2-2 0-2z" fill="none" stroke="#000" stroke-width="0.9" vector-effect="non-scaling-stroke" stroke-linejoin="round"/><path fill="none" stroke="#333" stroke-width="0.8" vector-effect="non-scaling-stroke" d="M-249 -101L-209 -101L-209 -68L-249 -68L-249 -101M-209 -101L-179 -101L-179 -54L-209 -68M199 -76L218 -76L233 -91L303 -91L263 -52L263 -40L199 -40L199 -76"/><path fill="none" stroke="#333" stroke-width="0.85" stroke-dasharray="3.2 1.3 0.8 1.3" vector-effect="non-scaling-stroke" d="M-260 -101L-245 -68M-20 -62L-20 -91L80 -91L80 -62M80 -91L149 -91L149 -62M79 -61L149 -61M119 -61L119 -48L132 -48M-40 -62L80 -62M-40 -62L-40 -16L-20 -11L15 -5M-40 -31L66 -31M15 18L80 18L63 71L15 71L15 18M49 18L49 71M186 -40L186 21L310 21M263 -40L263 -12L320 19M-159 30L-151 44L-155 66L-158 95L-149 95M-194 -54L-180 -43"/><path stroke="#000" stroke-width="1.25" stroke-linecap="square" vector-effect="non-scaling-stroke" d="M-160 -143h0M-180 -157h0M-174 -157h0M-166 -157h0M-160 -157h0M-148 -101h0M-140 -101h0M-144 -108h0M-198 -67h0M-190 -67h0M-194 -74h0M-198 -81h0M-190 -81h0M-124 19h0M-127 12h0M-124 5h0M120 -112h0M127 -112h0M134 -112h0M141 -112h0M148 -112h0M155 -112h0M96 -119h0M110 -119h0M116 -119h0M124 -119h0M130 -119h0M138 -119h0M144 -119h0M152 -119h0M158 -119h0M166 -119h0M172 -119h0M92 -126h0M99 -126h0M113 -126h0M127 -126h0M141 -126h0M155 -126h0M162 -126h0M169 -126h0M176 -126h0M96 -133h0M102 -133h0M110 -133h0M116 -133h0M124 -133h0M130 -133h0M138 -133h0M144 -133h0M152 -133h0M158 -133h0M166 -133h0M172 -133h0M134 -140h0M141 -140h0M148 -140h0M102 -63h0M116 -63h0M124 -63h0M138 -63h0M144 -63h0M85 -70h0M99 -70h0M106 -70h0M113 -70h0M120 -70h0M127 -70h0M148 -70h0M96 -77h0M110 -77h0M116 -77h0M124 -77h0M144 -77h0M0 -39h0M6 -39h0M14 -39h0M20 -39h0M28 -39h0M42 -39h0M48 -39h0M-18 -46h0M-11 -46h0M-4 -46h0M3 -46h0M24 -46h0M31 -46h0M52 -46h0M66 -46h0M0 -53h0M14 -53h0M34 -53h0M42 -53h0M48 -53h0M156 -39h0M164 -39h0M153 -46h0M160 -46h0M167 -46h0M164 -53h0M30 24h0M37 24h0M44 24h0M51 24h0M26 17h0M34 17h0M40 17h0M54 17h0M68 17h0M30 10h0M37 10h0M44 10h0M51 10h0M58 10h0M65 10h0M72 10h0M20 3h0M34 3h0M40 3h0M48 3h0M54 3h0M62 3h0M68 3h0M30 -4h0M37 -4h0M44 -4h0M51 -4h0M58 -4h0M261 62h0M268 62h0M244 55h0M258 55h0M264 55h0M272 55h0M278 55h0M286 55h0M292 55h0M247 48h0M254 48h0M261 48h0M268 48h0M275 48h0M282 48h0M289 48h0M296 48h0M244 41h0M250 41h0M258 41h0M272 41h0M278 41h0M286 41h0M292 41h0M261 34h0M268 34h0M224 4h0M231 4h0M238 4h0"/></g><rect x="351.50" y="439.50" width="331" height="140.80" fill="none" stroke="#333" stroke-width="1"/><text x="354.9" y="450.7" font-size="10.3" font-weight="bold" style="fill:#555">f</text><polygon points="350.30,591.50 365.20,588.40 365.20,594.60" fill="#4050d0"/><polygon points="682.80,591.50 668.00,588.40 668.00,594.60" fill="#d24b43"/><rect x="365.20" y="588.40" width="43.56" height="6.20" fill="#7b9cf4"/><rect x="408.46" y="588.40" width="43.56" height="6.20" fill="#a5c0f7"/><rect x="451.71" y="588.40" width="43.56" height="6.20" fill="#c9d9f5"/><rect x="494.97" y="588.40" width="43.56" height="6.20" fill="#ffffff"/><rect x="538.23" y="588.40" width="43.56" height="6.20" fill="#efcab6"/><rect x="581.49" y="588.40" width="43.56" height="6.20" fill="#f0a285"/><rect x="624.74" y="588.40" width="43.56" height="6.20" fill="#e57a62"/><polygon points="350.30,591.50 365.20,588.40 668.00,588.40 682.80,591.50 668.00,594.60 365.20,594.60" fill="none" stroke="#222" stroke-width="0.7"/><line x1="365.20" y1="594.60" x2="365.20" y2="597.80" stroke="#111" stroke-width="0.9"/><text x="365.20" y="608.60" font-size="10" text-anchor="middle">−100</text><line x1="408.46" y1="594.60" x2="408.46" y2="597.80" stroke="#111" stroke-width="0.9"/><text x="408.46" y="608.60" font-size="10" text-anchor="middle">−50</text><line x1="451.71" y1="594.60" x2="451.71" y2="597.80" stroke="#111" stroke-width="0.9"/><text x="451.71" y="608.60" font-size="10" text-anchor="middle">−25</text><line x1="494.97" y1="594.60" x2="494.97" y2="597.80" stroke="#111" stroke-width="0.9"/><text x="494.97" y="608.60" font-size="10" text-anchor="middle">−10</text><line x1="538.23" y1="594.60" x2="538.23" y2="597.80" stroke="#111" stroke-width="0.9"/><text x="538.23" y="608.60" font-size="10" text-anchor="middle">+10</text><line x1="581.49" y1="594.60" x2="581.49" y2="597.80" stroke="#111" stroke-width="0.9"/><text x="581.49" y="608.60" font-size="10" text-anchor="middle">+25</text><line x1="624.74" y1="594.60" x2="624.74" y2="597.80" stroke="#111" stroke-width="0.9"/><text x="624.74" y="608.60" font-size="10" text-anchor="middle">+50</text><line x1="668.00" y1="594.60" x2="668.00" y2="597.80" stroke="#111" stroke-width="0.9"/><text x="668.00" y="608.60" font-size="10" text-anchor="middle">+100</text><text x="516.60" y="623.90" font-size="12.3" text-anchor="middle">Δhours of exposure</text><text x="2.6" y="647.1" font-size="12.3">T<tspan font-size="8.6" dy="2.6">2m</tspan><tspan dy="-2.6"> 99</tspan><tspan font-size="8.6" dy="-4.3">th</tspan><tspan dy="4.3"> percentile event</tspan></text><text x="333.1" y="647.1" font-size="12.3" text-anchor="end">SSP3-IRR - SSP3-NOI</text><g transform="translate(168.000 735.250) scale(0.459722)"><rect x="-360" y="-180" width="720" height="305.62" fill="#f5f5f5"/><path fill="#fff" d="M-11 -72l1-2 10-8 6-6 14-2 5-2 15 6 8 2 6 2 19 7 0 9-5 5-28 2-20-5-20-6-11-1zM53 -80l7 0 0-3-7 0zM54 -81l30 0 0-14-30 0zM92 -73l18 0 0-22-18 0zM115 -86l9 0 0-7-9 0zM64 -61l7 0 16 36-2 1-11-12-10-20zM95 -61l5-1 14 7-1 7-11 1-7-9zM18 -107l43 0 0-26-21 0-12 17-7 0-3 4zM64 -127l26 0 0-7-26 0zM-196 -62l34 0 1 12-5 5-7 2-2 5-9 4-12 0zM-192 -132l40 0 0 30-40 0zM-172 -126l28 0 0-16-28 0zM-252 -138l60 5 28-5 12-7-8-7 16-5 20-7-8-3-52 2-40 7-28 3zM-260 -101l15 33 11 0-12-28zM199 -76l19 0 15-15 70 0-40 39 0 12-64 0zM186 -40l77 0 0 28 57 31 0 2-134 0zM-40 -62l0 46 20 5 35 6 1-4-48-11-4-20 8-16 8-6zM15 18l65 0-17 53-48 0zM-20 -62l0-29 100 0 0 29zM80 -91l69 0 0 30-69 0zM-260 -101l15 33 36 0 30 14 0-47zM-159 30l8 14-4 22-3 29 10 0 2-25 5-34z"/><g clip-path="url(#land)"><rect x="-360" y="-180" width="720" height="320" fill="#ffffff"/><path fill-rule="evenodd" fill="#efcab6" d="M49 -130l-5-1 3-1 1-5 3-3 4 0 2-4 3 3 0 4-5 1zM-321 -120l-2-2-4 2-4-4-4 2-1-1 0-8 2-4 6-4 1-3 4 4 8 0 4 2 2 4 5 1-1 9-4-2-8 0zM-191 -136l-3-3 1-3 2 0 3 3zM-135 -116l-7-1 4-2-1-3-2 0-2 4-8-4-4 2-2-4-4 2-1-1 2-6 4-4 1-9 2 4 12 0 8 8 5 1 0 2-4 2 0 4zM237 -130l-1-1 1-5 1 1zM267 -120l-6 0-2-6-2 0-6 6-6-6-4 6-3-3 0-6 5-5 4 2 4 0 8-4 1 5-3 1-2-2-1 3 7 1 4-6 1 1 0 10 2 2zM57 -128l-3-1 1-3 3 1zM-261 -110l-3-5 1-3 3 1zM-129 -96l-3-1 3-3 1 1zM-103 -92l-3-3 3-3 3 3zM211 -24l-4 0-4-6-1 3-3 1-5-5 2-2-2-2 2-2 0-6-1-1-2 2-3-3 2-2 0-6 2-4-3-3-6 0-4-6-6 0-1-1 1-5 6 0 2-2 4 0 4 2 2-2 4 0 2 8 2 0 2-4 4 2 8-4 1 1-2 4 1 1 4-4 5 3-2 4 6 2 2 4 0 4 2 2 0 8-10 10 0 4-3 3-6 0zM235 -58l-3-1-2-4 1-3 3 1 2 4zM-33 -26l-1-1 1-5 3 3zM25 14l-11-9 0-6 2-2-3-1-4-4-6 0-2-4-1 5-3 3-2-8-2 2-6 0-4-6-2 2-4 0-4 2-3-3 0-4-3-1-5-5 0-2 1-1 4 4 2 0 4-8 4 0 2 2 4-2 12 0 4 2 2-2 8 6 6-4 4 4 2 0 1-3 3-1 4 6 4 0 4-4 4 0 4 4 10 0 1 1-2 4 4 6 0 10-6 6 2 2-3 1-4-2-2-4-1 3 2 4-3 3-3-1 2-2-1-3zM-87 42l-2 0-4-4-4 0-2-4-4 0-2 4-4 0-1-3-4-4 2-2-1-1-7 7-1 3-4 0-1-1 2-2-2-2 0-4-3-3-3 1 4 4-3 3-4 0-2 2-3-3 0-2 6-6-1-1-6 4-2 0-2-4-6 6-3-3 2-4-2-2 0-4 2-2-2-2 0-4 5-3 5-1-3-3-5-1 3-1 5-5 3-7 4 0 2 2 2-6 4 0 6 4 1-3-4-2 2-2 1-7 3 3 3 9 2-2 1 3 5 3 6 0 2-2 10 12 4 0 2 2 2-2 8 6 5 1-4 4 0 8 6 2-9 7-5 1 0 4 4 2-1 1-6 0-4-4-1 1 0 2 4 4zM243 -18l-3-1 3-3 1 1zM227 14l-2 0-5-5 2-4-4-4-2-6 3-1 4-4 10 0 1 5 4 2 0 4-4 4 2 4-3 1-2-2zM-157 2l-1-7-2-2 3-1 2 2 2-2 1 5zM245 0l-3-1 0-2 3-3 1 1zM213 8l-3-3 1-1 3 1zM249 10l-6 0-1-3 5-1 3 3zM281 18l-3-1 0-2 3-3 1 1zM241 58l-2 0-3-3 2-2 0-4-10-8 1-3 8 0 10-10 2 0 4-4 2 0 4 6 10 0 2 2 4 0 2-2 7 1 0 2-6 4 4 8-3 7-3-1 2-4-3-3-1 5-2 2 0 4-3 1-3-3 2-4-3-1-2-4-1 5-3 3-4-4-3 3 2 4-3 1-1-3-4-2 0-6 2-2-1-1-3 3 0 2-4 2 2 4zM-145 32l-3-3 1-1 3 1zM275 62l-3-1 3-3 1 1zM231 64l-3-3 1-1 3 1zM-149 80l-1-1 1-5 1 1zM-133 114l-8 0-1-3-3-3-2 0-3-5 0-8 7-7 2 2 8 0 5 3 0 4-6 6 3 1 3 3 0 2-5 1-1 1 2 2z"/><path fill-rule="evenodd" fill="#f0a285" d="M-325 -128l-3-3 1-5 2 0 3 3 0 2zM-311 -128l-4-2-4 0-1-5 7-1 1 5 2 2zM-149 -124l-2 0-1-3 6-2 0-2-4-4 3-1 3 3 0 4 2 2-5 1zM189 -62l-5-1 1-7 2 0 3 3zM213 -28l-4 0-4-4-2 0-7-13 0-4 6-8-2-4 3-3 2 2 6 0 2 2 4-2 4 4 2 0 7 9-2 2 2 4-2 4-3 1-1 3-5 5-4 0zM9 -8l-5-3 2-4-1-1-2 2-4-2-2-4-8 6-1-5 7-5 4 2 4 0 4-2 4 6 1-5 3-1 1 5 4 4-5 1-4-2-1 3 2 2zM23 -20l-3-3 1-1 3 1zM39 -20l-3-1 3-3 1 1zM-127 -6l-3-5 1-1 3 1zM19 -2l-5-7 1-3 5 5zM47 -4l-1-5 3-3 2 0 1 5zM-135 12l-6 0-1-3 5-1 3-3 1-7 12 0 1-3-2-2 5-3 4 0 5 5-5 1-2-2-1 1 2 4-7 1-4 6-2-2-4 0-1 1 2 4-1 1-2-2zM-99 30l-4-2-4 2-4-6-8-4-1 5-3 1-3-3 0-2 4-2-1-3-4 0-6 6-1-3 4-4 0-2 9-7 3 1-2 2 0 6 3 3 2 0 1-5-2-4 1-1 2 2 1-5 5-1 1 3-6 10 3 3 3-3-2-4 4-2 0-4 2-2-6-4 4-4-2-2 9-1 4 6 6 0 2 2 2-2 1 3-5 5-3 1 2 4-4 6 2 2-1 1-7-3 2-2-1-3-4 0-3 3 8 8 0 2zM35 6l-3-3 0-2 3-3 2 0 1 5zM21 8l-1-3 3-1 1 1zM-81 10l-4 0-1-1 3-3 4 0 1 1zM-77 22l-4 0-1-3-4-4 5-1 1 3 4 2zM259 46l-2 0-3-3 3-1 3 3zM-139 108l-2 0-3-3 2-6 5-1 2 2 2-2 1 3-2 2 4 2-7 1z"/><path fill-rule="evenodd" fill="#e57a62" d="M213 -34l-9-3 0-6-4-2 0-4 7-7 2 2 8-4 7 7 0 2-4 6 0 4z"/><path fill-rule="evenodd" fill="#c9d9f5" d="M-85 -116l-6-2-1-5-3-3-3 3 2 2-5 1-1-3-6-6-4-8 2-2-9-9-8 0-4-6-4 4-4-4-4 6-6-6-6 4-4 0-4 2-2 6-3-1 0-8-5-1-1 1 2 4-4 4 0 2-3 1-1-1 2-4-1-3-4 0-4 6-3-3 4-2-2-4 2-2-3-1-1 3-3 1-3-5 8-8-2-2 1-1 5 1 1 7 3-5 0-4 5-1 2 4 4 0 4 4 4 0 4-4 2 0 4 2 4 6 4-6 2 0 4 4 2-4 4 2 4-4 7 5-4 2 3 5 1-5 7-7 3-1-2-2 1-1 2 0 4 4 2-4 4 0 2 2 2-4 26 0 4-2 1 7 5 5 5-3 0-4-2-2 1-1 3 1 0 6 2 2-2 4 5 5 4 2 4-4 5 1-2 4 2 2-6 6-2 4 4 2-2 4 8 4-1 5-6-4-4 2-3-3 0-6-2-4-3-1-6 6-6 0-4 4-6 0-4 2zM-125 -166l-3-1 1-3 3 1zM-117 -164l-4 0-1-3 5-1 1 1zM135 -148l-3-3 5-7 1 3-2 2zM-231 -148l-1-3 3-3 1 3zM45 74l-2-2-2 2-4 0-1-5-4-2 0-4-8-12 2-4-2-2 0-4-2-4 4-4-3-1-2 4-1-5 7-3 3-3-2-4 1-3 4 4 2-4 4 2 4 0 1-1-2-4 1-1 2 0 2 4 10 0 1-1-2-2 3-1 6 8 1-3-2-2 3-3 2 4 2 0 3-3-3-3-4 0-3-3 0-6-2-4 4-2-6-4 2-2 0-20-5-1-2-2-2 2-2-2-8 0-2-2-2 2-6 0-4-4-4 2-4-4-4 2-4-2-4 0-4 2-4-4-4 4-6-4-4 0-1-1 2-2-1-3-2 2-4-4-8 0-1-3-4-2 0-2 5-5 3-1 3-7 4 2 1-1 2-6 4-2-2-4 3-3 4 2 3-3 2-4 0-6-9-1-5-5 3-3 4 0 2-2 6 0 8-6 2 0 1-1-2-4 2-2-4-2 3-5 9 1-4 4 0 2 2 2 0 4 3 1 2-4 4 0 4-4 3-1-2-2 0-4 5-3 3 1 1 5 8 0 2 2 2-2 6 0 2 4 1-7 3-3 4 0 2-2 5-1-4-8-7-1-1-1 1-1 18 2 2 6 4-2 4-6 6 4 2-2 2 2 2-2 4 0 2 2 2-2 4 4 2 0 1-3-5-1-5-5 1-1 4 0 2 4 4 0 2-2 4 2 2-2 2 2 2-4 4 2 4 0 4-4 2 0 1 3-3 1-1 3 3 1 4-2 1 3 3 1 3-5 0-4 5-5 2 4 2 0 4-4 2 10 4-2 8 0 4-4 6 2 4 4 4-6 6 0 1 3-4 2 0 4 7 1 5 5 0 2 4 2 2 6 3 3 6 0 2 2 2-2 7 5 1 5 4-2 4 0 4 6 1-3-2-2 3-3 3 1 0 4-2 2 2 4 4 2 0 6-3 1-2-2-4 0-2 6-3-1 2-2-1-5-2 0-1 3-5 5-1-7-3-1-2 2-1-3 2-2-3-3-5 5 1 3 5 1-3 3-4 0-6-6-2 0-3 3 2 2-1 1-10 2-2 4-2-2-4 2-3-3 4-4-1-3-6 2-2 4-2-2-4 0-1-5-3-1-1 5-2 2 2 4-1 5-3-1 2-2-4-4 2-2-1-3-6 4-4 0-4-4-2 0-1 3 2 2-3 1-2-6-2 0-2 4-2-2-4 0-1-1 2-2-3-3-3 1 2 2-1 3-4 0-2-6-1 5-3 3-8-4-4 0-2-2-1 1 2 4-4 4 0 2 3 1 2-2 4 2 1 1-2 2 3 3 8-12 2 0 6 8 6 0 2 2 1-1-3-3-6 0-1-5 9-1 2 2 4 0 1 5 4 4 0 6 2 4 3 1 10 10 6-2 3 3-6 2 6 6-6 4 0 4-3 3-4 0-9 9-2 4 0 4-5 1-4 4-2-2-5-1 0-2-4-4 2-2-4-4 0-4-11-11-6 0-5 5-1 5-2-4-1 3-5 5-6 2-4 6-8-4-3 3 0 2 7 1 3 3 0 2-6 2 2 10-6 2 0 4-2 4-6 6 2 2-6 4 2 2 0 10 2 4-2 4-6 4 2 6-6 6 0 4-9 11-4 0-2 4-8 0zM251 -146l-3-3 5-3 1 3zM297 -148l-3-1 1-3 3 3zM-149 -146l-4 0-1-3 3-1 3 3zM125 -146l-4 0-1-1 3-3 2 0 1 1zM-46 -143l1-1 7-3-5-1-5 3 0 2 1 1zM225 -128l-3-3 0-4-2-2 2-2-5-1-5-5 1-1 6 0 5 5 0 4 4 4 0 2zM255 -142l-3-1 3-3 1 1zM299 -142l-3-1 1-3 3 1zM309 -142l-3-3 1-1 3 1zM-297 -140l-3-1 3-3 1 1zM229 -136l-1-5 3-3 3 3 0 2zM263 -138l-5-3 3-3 2 0 3 3zM-197 -134l-3-1 1-7 3 5zM279 -136l-2 0-1-3 5-3 1 3zM307 -132l-7-3 3-5 4 2 2-2 1 1 0 4zM-121 -130l-2-2-5-1 1-5 4 0 1 1-2 2 1 1 2-2 3 3zM-203 -30l-4-2-2-4-4 0-3-3 2-2-3-3-2 2-2-4-4 0-5-5 0-4-3-3-2 0-1-3-3-3-2 0-9-11 0-8 2-2-2-4 4-6 0-4 3-1 6-6 3 1-2 4 3 3 2-4 4 2 1-3 6-6 0-4-2-4 4-6-1-1-10 0-1 1 2 4 4 2-3 1-2 4-4-4-4 0-4-2-4-6-2 4-3-1 0-4-2-2 2-2-2-2 3-3 2 6 6-4 10 0 1 1-4 2 1 3 2 0 2-4 6 0 4-4 4 0 2 2 4 0 4-2 1 1-2 4 1 1 8 0 2 2 5 1 0 6-2 4-7 1-2-2-5 9 1 1 4 0 2-4 4 2 2 4 2 0 2-4 6 8 4 0 2 2 4-4 2 0 4 8 2 0 4-4 3 3 0 2 6 4-2 2 2 2 0 4 4 4-5 1-5 5 0 6-3 1-2-2-2 2-4-2-4 6-8 0-1 1 2 4-1 1-4-2-4 2-1 5-2 2 2 2-2 2 4 2-2 6-3 3-6-2zM305 -112l-4-6-2 0-4 4-3-1 0-8-4-6 3-5 3 3-2 2 5 7 2-2 2 4 9 3zM35 -128l-2-2-3-1 5-1 1 1zM90 -127l2-4-5-1-1 1 2 4 1 1zM23 -122l-3-3 5-5 2 0 1 1zM301 -126l-3-3 1-1 5 1zM84 -123l2-2-3-3-2 0-1 3 3 3zM307 -124l-1-3 3-1 1 1zM-202 -123l-1-3-3 1 1 3zM285 -122l-3-1 1-3 3 3zM-210 -107l0-2-4-2 3-3 2 2 3-3 0-2-4-2-1-5-4 0-1 5-2 2 0 8 5 3zM116 -119l0-4-1-1-1 5 1 1zM74 -119l-1-3-3 1 1 3zM279 -116l-3-3 1-3 3 1zM335 -116l-1-1 1-5 1 1zM-251 -116l-6 0-1-1 5-1 2-2 1 1zM269 -106l-1-3-4-4 0-2 3-1 2-4 3 3-2 4 2 4zM-309 -114l-3-1 3-3 2 0 1 1zM-127 -112l-3-3 1-3 3 3zM285 -112l-1-1 1-5 1 1zM122 -99l1-5 10-2 3-3-5-5-10 0-2-2-2 2-2-2-8 0-1 9 7 1 4 2 4 6zM323 -104l-2 0-3-5 0-2 5-3 3 3zM-113 -108l-3-1 3-3 2 0 1 1zM279 -108l-3-1 3-3 1 1zM252 -105l-3-3-3 3 1 1zM-216 -103l-1-3-3 1 1 3zM271 -98l-1-7 3-1 1 3zM-251 -92l-7-9 5-3 1 7 2 2zM-17 -98l-6-2-3-3 3-1 2 2 6 0 1 1zM-153 -96l-3-1 1-5 3 3zM283 -92l-3-3 1-3 3 1zM208 -91l0-4-1-1-1 5 1 1zM271 -90l-3-1 0-2 3-3 4 0 3 3-5 1zM291 -90l-3-1 3-3 1 1zM-145 -78l-1-1 0-10 1-1 3 3 0 6zM-7 -84l-2 0-3-3 3-3 2 0 3 3zM-21 -72l-3-5 2-2 1-9 1 9 2 2 0 2zM108 -83l0-4-1-1-1 5 1 1zM239 -78l-3-5 1-1 5 1 0 2zM12 -79l-1-3-3 3 1 1zM241 -72l-3-1 3-3 1 1zM38 -67l2-4-3-3-5 5 3 3zM62 -67l-1-1-5 1 1 1zM-27 -40l-4-4-7-1 4-2 1-5 3 3 0 2 4 2zM-17 -38l-3-1 1-3 3 3zM185 -34l-3-5 1-1 3 1zM104 -33l-1-3-3 1 1 3zM249 -32l-3-1 1-3 3 3zM-179 -28l-2 0-3-3 3-3 3 3zM253 -20l-3-1 3-3 1 1zM303 76l-4-2-6 0-7-5 0-8 4-2-1-1-4 0-4 4-1-1 0-4 4-2-2-2 4-2 0-4 3-5 2 0 4 6 3-3-1-5-4 2-1-1 3-7 2 0 1 3 4 4 0 4 4 4 0 4-2 4 4 2-6 4 2 2 0 10zM-115 76l-2 0-3-3-1-5-4-2-4 0-1-5-6-6 0-2 4-2-2-6 5-5 3 1-2 4 3 3 4-2 6 4 1-7 5-1 3 11 4 2-1 3-4-2-3 3 2 4-10 6 0 2 4 4zM-131 74l-1-3 3-3 2 0 1 3zM275 76l-3-5 1-1 3 1z"/><path fill-rule="evenodd" fill="#a5c0f7" d="M-81 -124l-8 0-4-2-6-6-4 0-1-1 4-4-1-3-4 0-1 5-3 1-1-5 4-4-10-2 0-2 4-2 0-4 3-3 2 0 8-10 2 8 2-6 12 0 4 2 1-3 3-1 2 4 4 2 8 0 4 4 3 1 0 6 2 4-3 1-2 4-5 1 0 6-1 1-4-2-1 1 2 4-1 1-14 0-4-2-1 1 3 3 2 0 1 1zM-113 -154l-3-1 3-5 1 1zM-165 -152l-5-5 1-1 2 0 3 3zM207 -98l-3-1-1-5-3 1-1 5-2-2-6 2-4-4-4 2-6-2-2 2-10-6-2 6-4 0-1-1 2-2-3-3-2 2-4 0-2 4-5-5 2-4 0-4-2-2 0-6 1-1 4 2 3-3 0-2 4-2-3-1-3-5 3-3 10 0 3 5-4 2 1 3 2 0 2-4 5-1-2-4-4-2 1-1 4 0 4 6 4-4 2 4 2-6 2 0 4 6 2-2 4 0 2 4 2 0 2-4 4 4 8 4 1 5 4 4-1 1-4-2-3 1 0 2 4 4-4 4 0 4zM137 -126l-4-4-2 2-1-1 0-2 7-5 1 1zM147 -128l-2 0-3-3 1-5 3 1-2 2 4 4zM211 -130l-3-1 1-5 3 1zM115 -126l-3-3 1-5 3 3zM93 -110l-4-4-3-1 0-4 3-3 4 2 3-3 0-4 3-3 2 0 3 3-2 2 1 1 2-2 3 1 0 4-3 3-2 0-4-4-3 3 0 6zM121 -120l-1-5 3-1 1 1zM135 -116l-1-7 3-1 1 3zM79 10l-4-2-4 0-5-3 2-2 0-8-2-2 0-6-2-2 0-4 4-4-2-4 0-6 7-1 1-1-1-3-4 2-4-2-6 6-3-3 2-4-1-1-4 4-6 0-4-4-6 0-2 2-4-2-2 2-2-2-2 2-8-6-4 4-4 0-2-6-8 0-2 4-4 0-1-3 2-2 0-4-1-1-4 2-3-1 5-5 6 0 3-3-1-1-4 2-1-1 0-4-4-2 1-5 16 0 2-4 2 6 3-3-4-4 0-2 6-4-5-1-2 2-4 0-1-1 2-2 0-4-4-4 0-2 9-1 2-4 5-1 1-5 6 2 2-6 4 2 4 0 2-4 4 2 4 0 4-6 4 0 4 4 2 0 4-6 4 4 6-2 2 6 2 0 2-4 4 0 4 6 4-2 4 0 1 1-2 4 2 2-2 2 0 4-4 4 4 4 1 7 4 0 2 2 2-4 6 4 4-4 2 2 5 1-3 3-2-2-1 1 3 3 4-2 8 6 1-1-2-4 1-1 4 0 2 2 4-2 18 0 5 3-2 4 3 3 6 2 13 13-4 12-3 1-14 16-4 0-2 2-1-5-3-1-2 2-7-7 0-4-11-11-6 0-2 2-2-2-2 2-6 0-1 1 2 2-1 3-10 0-2-2-4 6-4-6-4 2-2-4-3 3 4 2 0 6-4 2 0 6 6 6-2 2 0 20-7 1zM217 -100l-4 0-1-5 4-2 2-4 0-4 3-1 1 1-2 4 2 2 0 4-3 1zM231 -106l-6-6-3-1 5-3 6 4 7 1-1 3-2-2-4 0zM3 -98l-3-1 5-5 1 3zM103 -94l-3-1 0-4 2-4 3-1 5 3zM-197 -36l-2-4-4 0-2-2-2 0-2 4-4-2-7-9-2-4 0-4-5-5-2 0-2-4-4 0-2 2-3-3 0-2-4-4 0-4 2-4-6-6 1-1 6 2 4-6 6 0 1-5 5-1 2-4 2 2 12 0 4-2 2 4 6 0 2 2 4-2 2 4 6-2 2 2 6 0 2 2 10 0 1 1-1 3-5 1 0 6-4 4 4 8-3 1-2-2-4 4-7 1 0 4-6 4 0 6-6 4 0 6 2 2zM-159 -74l-3-7 3-1 2-4 3 3-4 4zM1 -74l-1-3 3-1 1 1zM38 -67l2-4-3-3-5 5 3 3zM4 -65l-1-3-7 1 3 3zM62 -67l-1-1-5 1 1 1zM-17 -52l-3-7 5-1 2-4 3 3 0 2-5 1zM74 -29l-1-3-3 3 1 1zM43 70l-1-5-3-1-4-4-2 0-1-3-4-4 0-12-2-2 13-15 14-2 4 4 10 2 3 3-2 4 2 2 0 6 4 4 0 2-5 5-3 1 2 4-7 7-2-4-2 2-6 0-2-2zM295 62l-3-5 2-2-2-2 9-1 1 7-5 1zM-123 66l-1-3 3-1 1 1z"/><path fill-rule="evenodd" fill="#7b9cf4" d="M-89 -144l-3-3 0-2 6-4 1-5 1 5 2 2-3 3-2 0zM-75 -154l-3-1 1-3 3 3zM-77 -138l-4-2-4 0-1-3 7-9 2 4 2 0 2-4 3 7-1 1-2-2-4 0-1 1 0 4 2 2zM-65 -146l-1-3 3-3 1 3zM-205 -54l-2-2-6 0-3-3 2-2-5-1-4-4-2 0-3-5 3-3 4 0 1-5 7-7 6 0 4-6 12 0 8 8 3 1-4 2 2 4 0 6-5 1-4 6-5 1 4 2-1 3-10 0zM73 -86l-3-1 0-2 3-3 1 1zM39 -80l-5-1 3-5 3 3zM-229 -76l-3-1 1-3 3 3zM103 -48l-6-8-5 1 2 4-1 1-4 0-3-3 2-2-3-1-4 2-4 6-1-3 2-2-11-11-5-1 2-4-2-4 1-1 10 0 2-2 6 0 2-2 2 2 10 0 1 1-2 4 1 1 6-2 1 3 5 5 3 1-2 2 2 6zM51 -66l-3-3 0-4 5-3 4 0 1 1-2 2 2 4-5 1zM163 -28l-8 0-6-4-4 0-3-3 0-2-18-16 0-4 4-2-2-4 3-3 8-4 10 0 4-2 2 4 8 4 4 0 1 3 3 1 7 7 0 10-2 4zM53 -58l-1-3 2-4 3-1 1 3zM67 -50l-3-5 1-1 3 1zM97 -46l-3-3 1-1 3 1zM79 -20l-5-1 1-5 2 0 3 3zM81 0l-1-3 3-1 1 1zM51 32l-3-1 1-3 3 1zM47 42l-1-1 1-7 3 3 0 2zM57 50l-3-5 1-5 3 5zM47 60l-2 0-3-3-2-4 1-1 2 0 1 3 4 2zM53 60l-3-3 1-1 3 1z"/><path fill-rule="evenodd" fill="#4050d0" d="M161 -34l-14-6-1-3-10-8 2-6 7-7 2 2 4-2 2 2 10 2 7 7 0 10-2 4-3 1z"/></g><path d="M-336 -131l3-2 6-1-6-3 7-3 6-1 6-2 10 1 8 1 14 2 10 1 5-1 11-1 7 1 7 0 12 1 10 2 12 0 12 0 4-1 3-6 4 2 5 3 8 1 4-2 5 1 0 3-7 2-4 4-7 2-7 4-1 5 4 4 8 1 7 2 5 1 1 4 3 3 3 0 0-4 0-2 4-4-1-4-1-4 0-4 6 0 6 2 4 1 1 3 3 2 3-1 3-3 2 3 4 4 1 2 3 2 5 1 3 3 0 2-2 1-6 3-8 0-5 0-4 2-4 3 4-2 5-1 3 0-1 3-1 1 2 2 4 1 3 0 2-1 0 1-7 2-5 2 0-2 3-2-3 1-3 1-4 1-2 2 0 2 1 1-1 0-4 1-3 1 0 2-2 1-1 2-1 2 1 3-4 2-3 2-4 3-1 3 2 4 1 4-1 3-1-1-2-2-1-2-1-3-2-2-3 1-2-2-4 0-2 1 1 2-2 0-3-1-4 0-3 0-3 3-2 2 1 2-1 4-1 3 2 4 2 3 3 2 3-1 3 0 2-2 0-3 4-1 3 0-1 3 0 3-1 2-1 3 3 0 4 0 4 2-1 4 0 4 2 3 2 1 4-1 3 1 1 1 1 1 2-3 1-2 2-1 4-2 3-1-1 3 1 1-1 1-1-2 4-1 3 2 5 0 4 0 4 0-1 1 3 3 3 0 3 3 2 2 4 0 3 1 4 2 1 3 2 3 0 3 3 1 2 0 6 3 5 2 5 0 4 4 4 0 1 5-1 3-2 3-3 3-2 2 0 5 0 4-1 4-3 5-2 2-4 0-3 2-4 2-2 2 0 5-3 2-2 3-2 3-3 3-3 2-3 0-4-2 3 3 0 2-1 3-4 2-5 0-1 3-5 1 2 3 1 1-3 1-1 3-4 2 3 4-3 2-2 3-1 2 1 2-2 0 2 2 3 1 3 2-2 0-4 1-4-1-4-2-3-2-2-3-1-5 1-4 1-2 2-3 1-5-2-1 1-3 0-5 2-4 2-4 0-5 0-5 1-5 1-5 1-5-1-5-2-2-4-3-4-2-2-3-1-3-3-5-2-4-3-3 0-3 1-2 1-2-2-2 1-2 1-3 2-1 1-2 2-3 0-3 0-3-2-2-1-2-2 1-1 2-2-1-3 0-2-3-3-1-1-2-2-4-3 0-4-2-4-1-3-3-4 1-5-2-4-1-3-2-3-1-4-3 0-2 0-3-2-1-3-3-2-3-2-2-2-2-2-2-2-3-4-3 1 4 2 2 1 2 2 3 2 2 1 3 2 2-1 0-3-3-1-1-1-3-3-2-1-2-2-3-2-3-1-2-3-3-2-1-2 0-1-2-3-3-1-2-1-2-2-3 1-3-1-2 1-4 0-2 0-2-1-3 3 1 1-2-3-2-2-1-4-1-2-2-2-3-3-2-1-2-3-2-4-3-4-1-3-1-3-2-4 0-5 0-5-2-4 1-3 2-4 1 2-4-3 1-3 3-1 2-4 2-4 2-5 1-5 1-3 1 4-1 5-2 4-2 3-3-3-1-4 0-3-1-4-1-3-1 1-2-2-1 3-2 4-1 3-2-1 0-3 0-4 0-2 0-2-1zM-146 -156l8-2 8-3 8-3 16 0 16-2 26-1 16 1 8 2 16 1-10 3-4 4 1 3-5 3 2 3-4 4 0 2-7 3-9 2-8 3-7 2-6 2-3 3-2 6-4-1-7-1-3-3-3-4-3-4-1-4 5-2-5-2-2-2-2-3-2-3-5-3-8-1-10 1-7-2zM-123 -134l-3 4-3 4-3 1-5 0-6-2-6-2-6 0 1-3 7-2-5-3-7-3-7 0-10-1-4-2 2-3 8-1 10 0 8 2 8 2 7 2 3 2 1 2zM-158 -153l-10 0-11 0 0-4-7-2-4-2 10-3 20-2 20 0 16 1-4 2-12 2-8 2-4 2-4 2zM-160 -149l-16 0-8-2 8-2 12 0 4 2zM-237 -142l3 3 10 0 12 1 9-1 1-2-4-2-4-3-6-1-10 1-10 1zM-251 -144l4 2 6-1 4-2-2-3-9-1-2 2zM-234 -149l12 0 8-1 2-2-8-1-10 0-6 1zM-194 -146l-7 2-4-2 3-2 7 0zM-181 -145l-9 1-1-4 9 0zM-196 -150l-7-1 2-2 7 1zM-174 -157l-10 0-8-2 4-3 13 1 3 2zM-230 -152l-14 0 4-3 9 1zM-161 -127l-6 1-7-1 2-4 5-1 4 2zM-119 -95l2-3 2-3 2-2 2 0 0 3 3 1 2 2 1 2-2 2-3-1-2-1-5 0zM-257 -102l5 3 5 2-1-2-3-2-4-1zM-170 -44l3-2 4 0 3 0 4 1 4 3 4 2-3 0-4 0 0-1-2-2-4-1-3 0-3 0zM-149 -37l3-3 4 0 3 1 2 2-3 1-3 1-2-1-3 0zM-157 -37l4 1-1 0-2 0zM-134 -37l3 0 0 1-3 0zM-312 -41l2 1-1 2-1-1zM-317 -43l2 0-1 1zM-11 -72l-2-1-2-1-3 0 0-3-1 0 1-3 0-4-1-2 3-1 7 0 5 0 2-2 0-3-2-2-5-2 0-1 3-1 3 1-1-2 2 0 2 0 3-1 0-2 3-1 2-1 2-2 3-1 4 0 1-2-2-2 0-2 1-1 4-1 0 2 1 0-2 2 0 2 2 1 3-1 3 1 4-1 5-1 2 1 3-1 0-3 1-2 2 0 4 1-1-2-1-1 0-2 5 0 4 0 4-1-2 0-5-1-7 1-3-2 0-2 0-2 2-2 5-2 1-1-3-1-3 0-2 2-2 2-3 1-3 2 0 2-1 2 3 1 1 1-2 1-3 2 0 3-1 1-3 0-1 1-2 0-1-2-1-2-2-2-1-2-1 1-3 2-3 0-3-1 0-2-1-3 0-2 3-1 4-2 3-1 3-2 2-2 2-3 4-2 3-1 3-2 5 0 5-1 5-1 4 0 5 2 1 1 4 0 7 1 6 2 3 2 0 1-5 1-7-1-1 2 1 2 4 1 2-1 4 0 1-2 4-2 3 0 0-3 4 0 4 1 10-2 2 1 6-1 5-1 3-1 7 0 4 2 1 1 3-1 1-1-4-2 0-2 3-2 3-2 5 0 0 3 1 2-2 3 3 1 0 2-2 2 4-2 1-2-1-1-1-2 0-2 3-3 1 2 4 0 2-2 4 0-1-2 6 0 6-1 1-2 6-1 10-1 8-1 5-1 5-1 6 1 1 1 7 0 5 1 0 3-4 2 7 0 8 1 8 0 7-1 4 1 1 2 6 1 7 0 7-1 2-1 12 1 8 1 5 1 7 0 7 0 3 3 6 0 7 0 5-1 7 0 6 1 7 1 0 8-3 1-2 0 3 2 1 2-5 0-6 1-4 2-3 2-5-1-5 1-3 0-1 2-3 2 2 1-1 3-2 2-3 2-3 2-4 4-1-3 0-5 0-4 3-2 4-3 5-2 3-2-2-1-5 2-3-2-4 1-3 3-5 2-6-1-6 0-7 0-4 3-5 2-3 4-4 1 4 0 3 1 4 2 2 2-1 2-1 4 0 2-4 2-4 4-3 2-4 3-3-1-2 1-2 3-2 2-2 1 2 2 2 3 0 3-4 2-2 0 0-3 0-2-1-1-2-1-1 0 1-3-1-1-4 1-2 1 0-1 1-2-2-1-3 2-3 2-1 1 3 2 0 1 4-2 3 1-3 2-2 1-2 2 3 1 1 4 2 2-1 1 1 3-1 2-2 2-2 3-2 3-2 2-3 1-3 1-2 1-3 0-3 1-1 2-1-2-2 0-2 0-2 2-1 2 0 2 1 2 2 2 3 2 1 4-1 4-2 1-3 1-3 4 0-2-1-2-3-1-1-2-2-1-1-2-2 0 0 3-1 3-1 3 3 1 0 3 2 0 1 2 3 2 0 4 2 3-2 0-3-1-1-2-2-2 0-3-1-2-1-1-2-2 0-2 0-3 0-3-2-5 0-4-2-1-2 2-2 0 0-3-1-4-2-1-1-2-1-3-3 0-2 1-2 1-3 0 0 2-4 2-2 2-3 3-2 1-2 1-1 5 0 4-1 2-2 3-2 2-2-2-1-3-1-3-1-2-2-4-1-2-1-5 0-4-1-2-1 1-2 0-4-3 2-1-2-1-3-1-2-3-4 1-6 0-4-1-4 0-1-3-3 0-2 1-2-1-4-2-3-3-1-1-3 0 0 2 1 1 2 2 1 2 0 2 2 1 0-2 1 2 0 1 2 1 3 0 3-3 2-1 0 2 1 2 3 1 3 2-2 2-2 3-1 2-2 1-2 2-4 2-3 2-5 2-2 1-4 1-3 1-3 1-1-2 0-3-1-3-2-4-2-3-3-3 0-3-3-3-2-3-2-3-1-2-1-2-1 3-1-1-2-3 0 1 1 2 2 3 1 3 2 3 0 2 3 2 0 3 1 4 2 1 2 4 1 2 2 1 3 3 2 1-1 2 3 2 4-1 4 0 3-1 2-1 0 3-1 3-2 4-2 3-3 4-3 3-4 3-3 3-2 2-2 2-1 3-1 4 1 3 0 4 2 1 0 5 0 4-2 3-4 3-2 2-3 2 1 4 0 4-2 2-3 1 0 3-1 3-2 2-2 3-4 3-3 2-3 1-3 0-3 0-5 2-2-1-1-1-1-3-1-4-2-4-2-3-2-4 0-4-2-5-2-3-1-4 0-4 2-4 1-3-1-5-1-6-1-2-2-2-3-4-1-3 1-3 1-4-2-2-1-1-3 0-2 0-2-2-1-2-4 0-3 1-3 1-3 1-4 0-3 0-4 1-3-1-5-4-2-1-1-3-3-2-2-3-2-2-1-2-1-2 2-3 1-4-1-3-1-3 2-4 2-4 3-5 4-1 3-3 1-2-1-3 3-3 3-1 2-3 0-1 1 0 2 2 5 0 2-1 2-1 3-1 4-1 4 0 4 0 4-1 2 1 1 0-1 1 1 2-1 2-1 2 2 1 3 0 5 1 1 2 4 1 3 1 2-1 0-2 3-2 3 1 4 2 5 1 4 0 3-1 3 0 4 0 1-2 1-3 1-3 0-1 0-1-1 0-2-1-2 2-2 0-4-1-2 1-3-1-1-1 0-2-2-1 1-1-2-1 1-1-1-1 0-1-2 0-2 0-1 1-1 0-1 2 2 1-1 0 2 2-2 0 0 3-1 0-2-1-1-2 1-1-2-1-1-1-1-2 0-3-2-1-2-1-3-1-2-2-1-1-2-1-2 0 0 2 2 2 2 2 3 1 2 2 3 2-3-1-1 2 1 1-1 1-2 1 1-2-1-2-1-1-2-1-2-1-4-2-1-1-1-2-2-1-3 1-2 2-3-1-2 0-2 1 0 2-2 1-2 2-3 2 1 2-1 0-1 2-2 2-5 0-1 0zM-11 -100l3-1 2 0 4-1 5 0-1-2 1-1-2-1-1-1-1-2-2-1-1-2-1 0 1-3-4 0 2-2-4 0-1 1-1 2 1 1 0 2 1 1 0 1 3-1 1 2 0 1-3 0 0 1 1 1-2 1 2 1 2 0-3 1-1 1zM-12 -104l0-3 0-1 1-1-1-1-3-1-2 1 0 2-3 0 0 1 1 2-2 1 2 1 3-1 2 0zM-45 -128l1-1-4-2 3-2 4 1 4 0 5-1 3 1 2 2-2 1-5 1-4 1-4-1zM22 -157l5 1 6 3 4-2 8 0 5-2 4-2-7-1-10-1-5 1-8 0-3 1zM103 -143l3 1 6 1 3 0-4-2 1-2 3-2 4-2 5-2 8-1 6-2-4 0-6 1-9 1-7 2-2 2-3 2-2 1zM191 -158l8 2 10-1-1-2-10-3-7 0-4 2zM272 -148l8 1 7 1-3-3-7-2 5-1 9 1 8 0 1 2-8-1-7 2-7-2-5-1zM357 -142l3-1 0 1zM-360 -142l0-1 4 0 1 1zM-360 -130l3-1 5 0 4 2 3 0-1-2 4-1 3 0-4-2-5 0-4-2-5-1-3-1zM262 -68l1-1 3-2 4 0 2-2 2-2 1 1 2-1 2-2 1-3 0-2 3-1 0 3 1 1-2 3 0 2-1 3-1 1-2 0 0 1-3 0-1 0-2 2-2-2-2 0-3 1zM259 -67l1 2 0 2 2 1 1-1 0-2 0-2-1-1-2 1zM265 -66l1 0 3-1 0-1-2-1-2 1zM280 -83l2-1 2-1 3 1 2-2 2-1-2-1-3-1-2-2-1 2 0 2-2 1-1 1zM284 -92l3-1-2-2 1-3 3 0-2-5-1-3 0-3-2 1 1 4-1 2 0 4 0 2 0 3zM240 -46l1-3 2-2 1 2-1 3-1 2zM217 -38l2-2 2 0 1 1-2 2-2 0zM240 -33l1-4 2 0 2 1-1 3-1 2 0 3 2 0 3 2 0 1-2-2-4 0-1-1 0-3zM244 -14l2-2 2-1 3-3 2 5-1 2-1 2-3-2-1-2zM244 -21l2 3 3-2 2-2-1-3-2 0-2 2-2-1zM234 -17l4-3 1-3 0 2-4 4zM241 -27l2 1-1 2-1-1zM191 -11l4 1 2 2 4 3 2 1 3 3 2 3 2 2 2 2 0 4 0 2-3 0-2-2-3-3-2-3-1-2-3-3-1-2-2-2-2-2-2-3zM210 14l2-2 3 0 2 1 4 1 2-1 2 1 4 1 0 2-4 0-4-1-5 0-3-1-2-1zM218 -3l1 4 1 5 3 1 3-1 3 1 3 1 1-4 1-2 1-4 1-1 0-3 1-3 2-2-3-1-2-2-2 1-1 3-3 1-2 3-3 1-3 1zM239 11l2 0 0-4 1 2 4 1-2-4-1-2 2-2 2 0-4 0-3-3 2-2 4 1 3-1 0 2-4 0-3 0-2 2 0 1-1 2-1 2 1 1zM255 -4l1 0 1 1-1 2 1 2-1 1-1-3zM256 6l3 0 3 1-3 0zM252 6l2 1 0 1-2-1zM262 3l2-2 3 0 1 1 0 3 2 2 3-2 3-2 2 1 4 1 3 2 4 1 3 2 1 2 2 1 1 3 3 2 3 2-3 1-4-1-3-2-3-3-2 2-2 2-3-1-3-2-2 1-1-2 2-1-3-3-5-2-3-1-1-1-2-1 2-1-2-1zM297 11l3 0 3-2 1 0-1 2-3 1-3 0zM302 5l2 2 2 2-1 1-2-3zM160 -16l0-4 2 2 2 3-1 2-2 1-1-2zM99 24l1 5 1 3-2 2-1 6-2 6-2 4-3 1-3-1-1-3 0-3 2-4-1-5 1-3 4-1 3-2 1-2zM227 44l1 5 0 4 2 6 1 5-1 3 2 3 4 0 4-2 5 0 4-2 3-1 6-2 5 0 3 1 2 2 3 3 1 1 1-3 3-2-1 3 0 2 1-2 1 3 2 0 1 3 1 2 4 1 2 1 3-2 1 1 2 1 3-2 3-1 1-2 2-4 1-3 2-2 1-3 1-4-1-5-1-2-3-3-1-2-2-3-2-2-4-2-1-3-1-3 0-2-3-2-1-3-2-4-1 3-1 3 0 4-1 4-3 0-3-2-4-2-1-2 1-2 1-3-1 0-3 0-4-1-1 0-3 2-2 5-2 0-3-2-2 0-2 2-2 3-2 0-2 2-1 3-3 2-3 1-3 0-3 2-2 1-1 1zM289 81l4 1 4 0 0 2-1 2-2 1-2 0-2-3-1-1zM345 69l2 1 2 2 2 2 1 1 2 1 3-1-1 3-2 1 0 1-2 2-2 1-1 0 1-2-1-2-1-1 1-2 0-2-2-3zM345 81l3 1 0 2-1 2-1 2-3 1-1 3-3 1-2 0-4-1 1-2 3-2 4-2 1-2 2-1zM328 40l3 2 3 3-1 0-4-3zM355 35l2 0 0 1-2 0zM333 30l1 1 0 1zM-123 103l6 0 1 0-2 1-4 0zM185 -25l1-2 0 4zM65 -70l1 1 3-2-3 0zM47 -71l2 0 4 1-2 0-3 0zM25 -76l2 0 4-1-1 4-2-1zM17 -78l-1-4 2 0 2 1-1 3zM17 -83l0-2 2-1 0 2-1 1zM229 16l2 1-1 1zM232 17l2-1 4 1 0 1-5 0zM240 17l3 0 3 0-5 1zM238 19l2 0 2 1-2 1zM247 20l2-1 2-2 4 0-3 1-3 2zM311 12l1 1 0 1-2-1zM314 16l4 1-1 1zM320 19l2 1-2 0zM-333 -107l2-1-3 0zM-337 -106l2 0-1-1zM-354 -104l2 0-1 0zM-308 -114l3-2 0 1-3 1-1-1zM56 -83l2 1 4 0 4-2 4 0 4 1 3 1 6-1 0-2-3-2-3-2-2-1-2-1 3-1 3-2-4 0-4 1-1 2 3 0-3 1-3 1-2-2 2-1-2-1-3 0-2 1-1 2-2 1-1 3 0 1zM94 -90l1-1 2-1 1-1 4-1 4 0 0 3-3 2-1 1 1 2 2 2 1 2 2 1-1 2 1 2 0 2-4 1-3 0-3-1 0-2 1-2 0-2 1 0-3-3-2-2 0-2z" fill="none" stroke="#000" stroke-width="0.9" vector-effect="non-scaling-stroke" stroke-linejoin="round"/><path fill="none" stroke="#333" stroke-width="0.8" vector-effect="non-scaling-stroke" d="M-249 -101L-209 -101L-209 -68L-249 -68L-249 -101M-209 -101L-179 -101L-179 -54L-209 -68M199 -76L218 -76L233 -91L303 -91L263 -52L263 -40L199 -40L199 -76"/><path fill="none" stroke="#333" stroke-width="0.85" stroke-dasharray="3.2 1.3 0.8 1.3" vector-effect="non-scaling-stroke" d="M-260 -101L-245 -68M-20 -62L-20 -91L80 -91L80 -62M80 -91L149 -91L149 -62M79 -61L149 -61M119 -61L119 -48L132 -48M-40 -62L80 -62M-40 -62L-40 -16L-20 -11L15 -5M-40 -31L66 -31M15 18L80 18L63 71L15 71L15 18M49 18L49 71M186 -40L186 21L310 21M263 -40L263 -12L320 19M-159 30L-151 44L-155 66L-158 95L-149 95M-194 -54L-180 -43"/><path stroke="#000" stroke-width="1.25" stroke-linecap="square" vector-effect="non-scaling-stroke" d="M-230 -73h0M-222 -73h0M-216 -73h0M-208 -73h0M-194 -73h0M-233 -80h0M-226 -80h0M-219 -80h0M-212 -80h0M-205 -80h0M-191 -80h0M-216 -87h0M-208 -87h0M-202 -87h0M20 -83h0M26 -83h0M34 -83h0M40 -83h0M48 -83h0M54 -83h0M62 -83h0M68 -83h0M16 -90h0M23 -90h0M30 -90h0M37 -90h0M44 -90h0M58 -90h0M65 -90h0M79 -90h0M26 -97h0M34 -97h0M48 -97h0M8 -42h0M15 -42h0M22 -42h0M29 -42h0M36 -42h0M43 -42h0M50 -42h0M64 -42h0M71 -42h0M92 -42h0M-10 -49h0M-2 -49h0M4 -49h0M12 -49h0M26 -49h0M32 -49h0M40 -49h0M46 -49h0M54 -49h0M74 -49h0M82 -49h0M96 -49h0M102 -49h0M110 -49h0M-20 -56h0M-13 -56h0M-6 -56h0M1 -56h0M29 -56h0M36 -56h0M57 -56h0M64 -56h0M71 -56h0M78 -56h0M99 -56h0M113 -56h0M120 -56h0M-10 -63h0M4 -63h0M18 -63h0M26 -63h0M46 -63h0M74 -63h0M82 -63h0M88 -63h0M96 -63h0M102 -63h0M110 -63h0M8 -70h0M50 -70h0M78 -70h0M85 -70h0M92 -70h0M148 -41h0M162 -41h0M168 -41h0M144 -48h0M165 -48h0M148 -55h0M154 -55h0M162 -55h0M168 -55h0M158 -62h0M80 -3h0M76 -10h0M72 -17h0M80 -17h0M57 58h0M40 51h0M46 51h0M36 44h0M43 44h0M50 44h0M57 44h0M64 44h0M40 37h0M46 37h0M54 37h0M60 37h0M43 30h0M50 30h0"/></g><rect x="2.50" y="652.50" width="331" height="140.50" fill="none" stroke="#333" stroke-width="1"/><text x="5.9" y="663.7" font-size="10.3" font-weight="bold" style="fill:#555">g</text><polygon points="1.30,804.60 16.20,801.50 16.20,807.70" fill="#4050d0"/><polygon points="333.80,804.60 319.00,801.50 319.00,807.70" fill="#d24b43"/><rect x="16.20" y="801.50" width="43.56" height="6.20" fill="#7b9cf4"/><rect x="59.46" y="801.50" width="43.56" height="6.20" fill="#a5c0f7"/><rect x="102.71" y="801.50" width="43.56" height="6.20" fill="#c9d9f5"/><rect x="145.97" y="801.50" width="43.56" height="6.20" fill="#ffffff"/><rect x="189.23" y="801.50" width="43.56" height="6.20" fill="#efcab6"/><rect x="232.49" y="801.50" width="43.56" height="6.20" fill="#f0a285"/><rect x="275.74" y="801.50" width="43.56" height="6.20" fill="#e57a62"/><polygon points="1.30,804.60 16.20,801.50 319.00,801.50 333.80,804.60 319.00,807.70 16.20,807.70" fill="none" stroke="#222" stroke-width="0.7"/><line x1="16.20" y1="807.70" x2="16.20" y2="810.90" stroke="#111" stroke-width="0.9"/><text x="16.20" y="821.70" font-size="10" text-anchor="middle">−100</text><line x1="59.46" y1="807.70" x2="59.46" y2="810.90" stroke="#111" stroke-width="0.9"/><text x="59.46" y="821.70" font-size="10" text-anchor="middle">−50</text><line x1="102.71" y1="807.70" x2="102.71" y2="810.90" stroke="#111" stroke-width="0.9"/><text x="102.71" y="821.70" font-size="10" text-anchor="middle">−25</text><line x1="145.97" y1="807.70" x2="145.97" y2="810.90" stroke="#111" stroke-width="0.9"/><text x="145.97" y="821.70" font-size="10" text-anchor="middle">−10</text><line x1="189.23" y1="807.70" x2="189.23" y2="810.90" stroke="#111" stroke-width="0.9"/><text x="189.23" y="821.70" font-size="10" text-anchor="middle">+10</text><line x1="232.49" y1="807.70" x2="232.49" y2="810.90" stroke="#111" stroke-width="0.9"/><text x="232.49" y="821.70" font-size="10" text-anchor="middle">+25</text><line x1="275.74" y1="807.70" x2="275.74" y2="810.90" stroke="#111" stroke-width="0.9"/><text x="275.74" y="821.70" font-size="10" text-anchor="middle">+50</text><line x1="319.00" y1="807.70" x2="319.00" y2="810.90" stroke="#111" stroke-width="0.9"/><text x="319.00" y="821.70" font-size="10" text-anchor="middle">+100</text><text x="167.60" y="837.00" font-size="12.3" text-anchor="middle">Δhours of exposure</text><text x="351.6" y="647.1" font-size="12.3">T<tspan font-size="8.6" dy="2.6">w</tspan><tspan dy="-2.6"> 99</tspan><tspan font-size="8.6" dy="-4.3">th</tspan><tspan dy="4.3"> percentile event</tspan></text><text x="682.1" y="647.1" font-size="12.3" text-anchor="end">SSP3-IRR - SSP3-NOI</text><g transform="translate(517.000 735.250) scale(0.459722)"><rect x="-360" y="-180" width="720" height="305.62" fill="#f5f5f5"/><path fill="#fff" d="M-11 -72l1-2 10-8 6-6 14-2 5-2 15 6 8 2 6 2 19 7 0 9-5 5-28 2-20-5-20-6-11-1zM53 -80l7 0 0-3-7 0zM54 -81l30 0 0-14-30 0zM92 -73l18 0 0-22-18 0zM115 -86l9 0 0-7-9 0zM64 -61l7 0 16 36-2 1-11-12-10-20zM95 -61l5-1 14 7-1 7-11 1-7-9zM18 -107l43 0 0-26-21 0-12 17-7 0-3 4zM64 -127l26 0 0-7-26 0zM-196 -62l34 0 1 12-5 5-7 2-2 5-9 4-12 0zM-192 -132l40 0 0 30-40 0zM-172 -126l28 0 0-16-28 0zM-252 -138l60 5 28-5 12-7-8-7 16-5 20-7-8-3-52 2-40 7-28 3zM-260 -101l15 33 11 0-12-28zM199 -76l19 0 15-15 70 0-40 39 0 12-64 0zM186 -40l77 0 0 28 57 31 0 2-134 0zM-40 -62l0 46 20 5 35 6 1-4-48-11-4-20 8-16 8-6zM15 18l65 0-17 53-48 0zM-20 -62l0-29 100 0 0 29zM80 -91l69 0 0 30-69 0zM-260 -101l15 33 36 0 30 14 0-47zM-159 30l8 14-4 22-3 29 10 0 2-25 5-34z"/><g clip-path="url(#land)"><rect x="-360" y="-180" width="720" height="320" fill="#ffffff"/><path fill-rule="evenodd" fill="#efcab6" d="M39 -156l-3-3 1-3 2 2 5 1zM-189 -142l-3-3 1-1 5 1zM-311 -116l-6-2-2-6-2 0-2 4-2 0-3-3-4-10 2-2 0-6 3-3 2 4 4-2 2 2 4-2 4 2 4-2 8 0 2 2 6 0 4 4 4-2 6 0 2-2 5 7 0 4-3 3-4-2-8 0-4 6-4 0-2-2-4 0-2 2-10 0-2-2-1 1 4 4zM-335 -126l-3-3 0-4-4-2 3-3 3 1 0 4 2 2zM255 -132l-2 0-1-3 3-3 4 0 1 3zM-274 -133l-3-3-1 1 1 3zM275 -122l-2 0-3-5 2-4-4-2 5-3 3 1 1 5 4-4 1 1 0 4-3 3-2 0zM-359 -128l-1-1 1-5 1 1zM245 -130l-4 0-1-1 5-1 1 1zM289 -128l-3-3 1-1 3 1zM-133 102l-4 0-2-2-2 2-4 0-1-3 4-4-1-1-2 2-4 0-1-5 3-1 5-5-10-2 4-2 0-6-2-2 4-8 0-6-2-2 3-3 2 4 1-1 0-8-4-2 3-1 2-4 2 2 1-1 2-4-2-2 2-6-3-3-2 2-2-2-6 0-1 3-3 1-1-5-14-14 2-2 0-10 8-10-1-1-4 0-6-6-2 2-8-10-2 2-8-6-2 2-2-2-4 0-2-2-4 0-8-4-5-5 2-2-3-3-4 4-5-5 0-4-4-2 1-3 4 2 3-1-3-3-8 0-3-3 2-4-3-3-4 2-5-5 0-2-4-4 0-6 4-4-2-4 0-4 2-2-5-1-2 2-1-3 4-2 1-5 4-2 4 0 2-6 4 4 6-6 2 2 2-2 4 0 2-4 2 2 4-2 4 2 4-4 4 0 4-4 2 2 2-2 10 0 1 1-2 2 1 3 6 0 6 4 2-2 8 4 3-3-4-6 2-2-6-4 5-3 1 3 3 3 2 0 2 4 4 0 4-4 3 3 3 7 4-2 4 2 1-1-4-2 1-1 4-2 2 2 2-2 1 1 0 2-6 6 4 2 2 6 4 2-1 1-10 2-3-5 0-4 2-4-1-1-4 4-2-4-3 1 2 2 0 4 3 1 3 5 0 2-6 4 2 2 0 6 2 4-3 3-4 0-3 3 0 4-3 3-2-2-1 1 2 2-1 1-2 0-4 4-2-2-1 1 0 4 4 2-5 1-4-6-4 0-4 2-6 6-4 0-2-2-4 2-1 5-2 2 2 2-2 2 5 3 6-6 4-2 4 0 6 6 6 0 2-2 4 0 1 1-2 4-5 3-4-4-2 0-3 3 8 8 0 4-2 2 1 1 4-2 4 2 6-6 2 2 4-4 6 4 14 0 10 10 6 0 4 2 13 15-2 4 0 4-11 13-4 0-1 3-3 1-4 4-4-2-8 4-7 7 1 3 4-4 2 0 1 3-2 2 5 5 4-2 2 4 9 1-6 2 4 4 0 4 2 2 0 4-2 2 2 4-7 9-2-2-5 3 0 2-6 8 2 2zM249 -126l-4 0-1-1 3-3 2 0 1 1zM-171 -122l-3-1 3-5 1 1zM-117 -104l-3-5 1-3 3 1zM-313 -108l-4 0-1-1 5-1 1 1zM83 24l-4-4-14 0-4-4-6 0-2 2-2-2-4 0-4 4-2 0-4-6-2 0-4 6-4 0-1-5 2-2-5-1-2 2-1-3-6-6 0-6 2-2-1-1-2 0-4-4-8 0-2-2-2 0-2 4-8 0-2 2-4-6-6 0-13-15-2-4 2-2 0-4 4-4 1-3 2 2 2-2 8 0 2 2 2-2 16 0 2 2 2-2 22 0 2-2 6 0 2 2 2-2 2 2 4 0 4-2 4-6 4 6 3-3-2-4 2-2 0-6-6-4 2-2-3-3-8 0-4-6-8 0-2-2-4 0-1-3-7-5-2 0-2 4-3-3 0-6-6-2 6-4-1-3-2 0-2 4-2-2-4 2-1-1 0-4 9-1 4-8 4 6 4-2 4 4 5-3 0-2-4-2 1-1 6 0 2 2 4-2 8 0 2 4 8-4 1 3 5 3 2-2 4 2 1-5 3-1 1 3 9 7 3-1 1-5 4 0 2 2 6 0 12 10 10 0 8 8 4-2 2 10 3-1 1-5 2 2 4-2 2 8 4-4 6 0 4-2 24 12 2 0 4-4 4 2 3-3-2-2 1-1 4-2 8 0 2-2 2 2 6 0 6 4 4-2 2 2 12 0 5 3 0 6 2 2 0 6-2 4 4 4-4 4 0 4 4 4-3 1-2-2-4 2-1 5-3 1-3-3 4-8-3-1-2 2-2-2-9 9 0 4 2 2-4 4 0 4-10 8 2 2-2 2 3 3 2 0 4-4 4-2 6 0 2-2 6 6 2-2 2 2 2-2 4 4 1-7 3-1 3 3-4 4 1 1 4-2 6 6 22 0 4 4 2-2 6 6 1-3 3-1 3 3 1 5 4-2 1 1-1 3-5 1-1 5-10 0-2-2-4 4-8 0-8-10-2 2-4-4-2 2-4-2-1 3-3 1-4 4-4-2-2 2-4-2-2 2-14 0-2 2-8 0-1-3-3-3-2 0-9-9 0-2-4-4 2-4-1-1-2 4-5-5 6-2 0-6-2-2 2-2-2-2-1-5-2 4-9-3 4-4 0-8-3-3-2 2-4 0-9 9-3 9-4-2-4 0-4 2-2 4-1-5-4-4 2-2-4-4 0-4-11-11-6 0-5 5 0 4-5 5-6 2-6 6-2 0-2 4-2-2-3 1 2 4-2 4 6 4-3 5-2-4-3 3 2 4-3 3-2 0-1 3-6 6 2 2-2 2 2 2zM-7 -98l-5-1 3-1 4-6 2 0 1 3zM-234 -101l2-2-1-1-2 0-3 3 1 1zM131 -90l-3-3 1-1 3 1zM-144 -81l2-2-1-1-3 3 1 1zM175 -76l-3-1 3-3 1 1zM-218 -67l0-8-3-3-4 0-5 3 0 6 3 3zM261 -62l-4 0-4-2-5-5 0-4 5-1 1 1-2 2 5 5 4-4 2 0 1 1-2 2zM62 -67l-1-1-5 1 1 1zM-220 -61l-1-3-3 1 1 3zM-167 -52l-1-1 1-5 1 1zM-141 -38l-2 0-3-3 5-1 2-2 1 3zM-135 -30l-3-3 3-5 4 0 1 1zM-153 -30l-4-2-3-3 5-1 3 3zM165 -14l-1-1 1-5 1 1zM216 3l-2-2-1-3-1 3 3 3zM250 5l2-2-1-1-3 3 1 1zM250 13l2-2-1-1-3 3 1 1zM315 22l-3-3 2-2 1-7 1 7 2 2zM33 60l-3-1-4-8 0-4-2-2 2-2 0-6 2-2 0-4 3-3 5 1 0 4 4 4-2 2 4 8 0 2-5 5-3 1zM297 88l-3-1 0-4 2-2-5-1-4-8-2 0-4 6-4 0-3-3 1-1 4 2 1-1 0-10 2-2 0-6 2-2 0-4 4-2 0-4-2-4 4-4 1-3 7 1 0 2 8 8 0 6 4 4-4 4 3 1 1 3-3 1-1 3-4 4 0 6-4 4 2 4zM285 48l-3-3 1-1 3 1zM-125 106l-3-3 5-5 9 1-3 3-4-2zM-145 108l-2 0-3-3 5-1 1 1zM-129 108l-3-1 1-3 3 3z"/><path fill-rule="evenodd" fill="#f0a285" d="M-303 -132l-3-3 1-3 2 0 3 3zM-295 -130l-3-5 1-3 4 0 3 3 0 2zM-317 -126l-5-1 3-9 1 7 2 2zM-283 -130l-4 0-1-3 5-1 1 1zM-159 -116l-1-3 3-1 1 1zM-169 -16l-4 0-6-8-2 2-4-2-8-10-4 2-6-2-2 2-2-2-4 0-5-5 2-2-3-3-2 2-1-1 0-4 5-5 5-1-2-6 4-2 0-4 2-2-3-3-6 2-1-7-5-5-6 2-4-4-4 0-1 1 4 8-1 5-2 0-4-4-3-1 0-4 2-2-2-2 0-6-2-4 7-1 4 6 3-3-4-4 0-4 6-2-2-2 1-3 4 2 4-2 1 1-2 2 5 5 4 0 3-3 0-2-3-1-1-3 5-7 6-2 4 4 2-8 5 3-2 4 5 1 3-7 3-1 1 1-2 2 3 3 4 0 2-2 3 1 0 4-2 4 5 1 2 4 4-2 2 2 1-3-2-2 7-1 2 6 4 0 5 3 0 2-4 2 0 6-6 2 6 6-1 7-4 0-4 6-2 0-2-4-4 2-4 0-2 2-10 0-4 8-7 1 2 4 0 4-2 2 2 2-2 2 1 1 4 2 4-4 4 2 8 0 3 3-2 2 8 8 0 4-2 4zM79 18l-6 0-4-4-4 2-8-4-4 0-2 2-4-4-4 0-2-2-4 2-2-4-4 4-8-4-4 4-1-5-2-2 2-4-6-4-1-5-4 2-6-4-12 0-10-6-4 4-2-2-4 0-9-13 2-4 3-1 4-4 14 0 2-2 2 2 2-2 38 0 4-2 2 2 10 0 4 2 4-4 2 0 4 6 2-6 1 3 3 1 1-3 6-6 0-4-5-1-3-3 0-4-2-2 2-2 0-4-5-1-4-4-10 0-4-6-4 2-4 0-1-1 2-2-3-1-2 2-1-3 2-2-7-3-3-3 11-3 1 1-2 2 3 3 2-2 6 0 1-3-2-2 2-4-1-1-4 6-3-3 2-4 7-5 6 4 2 0 1-3 3-1 1 3-2 2 7 1 2 2 4 0 2-4 6-2 8 8 6 0 4 4 4-2 2 2 8 0 4 2 3 3 1 5 6 0 4-4 1 3-2 2 5 5 6 2 4 4 4-4 4 2 2-2 8 0 4 4 6-2 8 4 4 4 4-2 2 6 4 0 3-3-4-4 0-2 3-3 2 2 8 0 4-6 4 0 2 2 4 0 2-2 8 0 2 2 16 0 3 3 0 10 4 2-2 2 2 4-2 6-3 3-8 0-2 2-2-2-13 13 2 2-6 4 0 4-7 1-4 4-6-2-5-5-1-5-2 2-1-1 0-8-2-2 2-2-5-1-2-2-2 2-4 0-9 9-1 3-2 0-4-4-1 1 2 4-5 1-2 2-4-6-2 2-5-5 0-4-11-11-6 0-5 5-1 5-2-2-4 2-4-2-1 3-3 1-2-4-3 5 2 2-1 5-6-6-1 1 4 6-6 2 0 4-2 2 0 12-2 2 2 4-2 4-6 6 0 4zM76 -95l-3-3-1 1 1 3zM104 -85l-1-1-5 1 1 1zM-166 -75l2-2-1-3-2 0-3 3 1 3zM-154 -77l-1-3-2 0-3 3 1 1 2-2 2 2zM182 -49l4-4-3-3-3 3 0 4 1 1zM-131 32l-3-1 0-4-3-3-4 2-4 0-1-1 2-2-1-3-4 2-4-4-3-1-2-4 0-4-4-6 0-8 4-2 0-2 6-8-1-1-6 6-2 0-1-9 3-3 4 2 2-2 6 0 2 2 4-2 4 4 4 0 1-1-2-2 1-3 10 0 10 10 6 0 4 2 9 11 0 12-9 11-4 0-2-4-2 4-4 0-4 2-4 6-2-4-6 2-1 1 2 2zM219 18l-5-3 2-2-1-1-6 0-2-2-4 0-1-3-4-2 0-2 6-4 1-7 4 0 4 4 2 0 4-4 2 2 4-2 2 4 4 0 2-4 4 4 4-2 1 3 6 6 0 4-9 5-8 0-4 2-4-6-1 3 2 2zM216 3l-2-2-1-3-1 3 3 3zM287 18l-4 0-2-2-6 2-6-6-2 2-4-4-4 2-7-9 3-5 4 2 2 4 4 0 2 2 4-4 2 2 4-2 6 0 2 2 4 0 7 5 0 4zM31 54l-3-13 3-3 2 0 5 3 0 4-2 2 0 4zM293 78l-1-3 4-4-5-1-7-9 0-2 2-2 0-4 6-4 0-4 3-3 4 0 2-2 1 3-2 2 2 2 0 6 2 2 0 8-6 6 2 6-5 1zM-129 92l-4 0-3-3 0-2-4-2 0-8-4-2 2-4-2-2 2-2-2-4 5-5 2 2 1-1 2-4-2-2 5-5 4 0 1 3 6 4-1 3-4-4-1 1 1 5 8 0 3 3-2 2 2 6-4 2 1 3 2-2 1 1 0 4-5 3-6-6-1 3 4 4 0 2zM296 61l2-2-1-1-3 1 0 2 1 1zM-130 73l4-2-1-3-7 1 0 4 1 1zM-131 100l-2 0-1-3 7-3 1 1z"/><path fill-rule="evenodd" fill="#e57a62" d="M-183 -68l-7-3 2-4-3-1-1-3-3-3-2 0-2-4-1 3 4 4-4 2 0 4-3 3-5-3 0-6 4-4-2-2 2-6-4-4 3-1 4 2 1-1-2-2 0-4 5-3 4 4 4 0 2-2 3 3 0 6 2 4 8 2-1 3-4-2-3 1 0 4 2 4-2 2zM97 -66l-4-2-4 2-2-4-10 2-2-4-1 3 2 2-7 1-2-6-6 0-6-6-4 0-4 2-3-3 2-2-2-2 5-5 6 0 2 2 8-6 4 0 8 4 6 0 2 2 4 0 5 5 1 3 6 0 3 3 0 2 4 2-5 1-1-3-3-1zM-186 -87l-1-3-3 3 1 1zM-177 -72l-3-3 1-1 3 1zM-195 -68l-5-1 5-5 2 0 1 3zM215 -28l-5-1 2-2-1-3-10 0-6 4-1-1 2-4-2-2 2-4 0-10-2-2 0-4 11-11 6 0 2-2 10 0 2 2 2-2 8 6 5 1 0 6 2 2 0 4-3 1-1 1 2 2-3 1-4 4-4 0-2 2-10 0-1 3 2 4zM-191 -62l-5-1 0-2 3-3 3 1zM93 -58l-2-2-2 2-5-5 0-2 1-1 8 4 1 1zM105 -60l-3-1 1-5 3 1zM163 -32l-2-2-4 2-4 0-8-4-15-15 0-2 9-1 1-1-4-2 3-1 4-6 4 0 2-2 4 2 8 0 2 2 4 0 1 5 6 6 0 4-4 4 0 4zM115 -62l-4 0-1-1 5-1 1 1zM99 -52l-5-1 3-5 3 1zM-199 -48l-7-1 0-4 3-3 2 0 5 5zM89 -48l-2 0-1-3 3-3 2 0 1 3zM99 -46l-1-3 3-1 1 1zM-199 -38l-3-3 1-1 3 1zM-193 -38l-3-1 3-3 1 1zM-171 -20l-4 0-4-4-5-1-2-4 0-4 4-4 1-3 8 0 11 11 0 2zM77 12l-2 0-4-4-4 2-5-5-2-6-4-2 2-4-4-8 2-4-1-1-2 0-6 6-4-2-8 6-8-6-4 2-8 0-4-4-12 0-2-2-16 0-2-2-2 2-2-2-6 0-1-1 4-2-4-4 0-2 5-1 2-2 6 0 4-2 1 1-2 4 2 2-3 1-1 3 7 1 1-1 0-4-2-2 1-5 8 0 2-2 16 0 2-2 4 4 10 0 4-2 12 6 6-2 5 5 1 5 10-8 6 0 2 6 1-5 3-1 1 3-2 2 4 6-2 4 4 4-2 2 2 4-2 2 0 10-3 1zM-135 -12l-4 0-3-3 3-3 4 0 5 3zM-119 -14l-3-3 1-1 3 1zM-107 4l-1-5 4-2 0-6 3-1 3 3 0 4zM-139 2l-4 0-1-3 3-1 4-4 2 0 3 5-5 1zM-115 6l-5-1 0-6 5-1 2-2 1 3-4 2 2 4zM-125 8l-1-7 3-1 1 5zM-149 12l-1-5 3-3 2 2 2-2 1 3-3 1zM-133 12l-3-1 0-4 3-3 1 1zM-123 18l-5-1 2-6 3-3 1 5 2 2zM-139 16l-3-3 1-1 3 1z"/><path fill-rule="evenodd" fill="#c9d9f5" d="M-83 -118l-6 0-2-2-10-2-7-7-4-8 2-2-9-9-10 0-1-1 2-2-6-4 2-4 3-1 2-4 8 0 6-4 6 0 2-2 2 2 4 0 2-2 2 2 2-2 24 0 2-2 2 2 4 0 6 6 3-1 1-5 3 3-2 4 0 4 3 1 4 6 2-2 3 3-7 7-3 1 4 4 0 2-5 5-2-6-1 3-5 3-6 0-4 4-6 0-4 2zM-163 -146l-2 0-6-6-10 0-1-1 0-4 6-6 1-5 6 0 2 2 2 0 2-4 6 0 2 2 10 0 5 11 6 4-5 3-2-2-4 2-4-4-6 4-6 0zM-124 -157l2-2-1-3-3 1 0 4 1 1zM-215 -152l-3-1 1-3 3 3zM187 -152l-3-3 1-1 3 1zM199 -146l-3-1-2-4 1-3 3 3 2 4zM163 -148l-4 0-1-1 3-3 2 0 1 1zM245 -76l-4-2-20 0-2-2-10-2-4-4-4 0-2-6-4 0-2-2-5 3 2 6-3 1-1-5-3-3-4-2-6 2-4-2-1-1 2-2-5-3-2 4-6 0-4-4-2 0-4 4-3-3 2-2-1-1-4 4-2-2-4 0-4-4-2 2-4-6-6 2-4-6-6 0-1 1 2 4-3 3-4 0-1-5-3-1-4-6-4 2-2-2-2 2-5-1 0-4-2-2 4-4-2-2 5-1 2-2 2 2 3-1-5-3-4 2-1-1 2-4-2-2 3-3 4 0 2-2 2 2 4 0 2-2 4 4 7-5-6-4 5-1 2-2 5 3-4 6 1 3 2 0 2-4 4 2 4-2 6 0 2-4 3 1 1 5 4-4 2 2 2-2 4 0 3 3-2 2 1 1 2-2 8 0 4-4 2 0 1 3-4 2 0 2 3 3 1-3 3-3 2 0 8-10 2 0 1 3 5 5 8 0 2 2 4 0 1-1-2-2 5-1 1-5 3-1 2 6 2-2 8 0 1 7 4 2 0 4-3 3-4 0-1 3 5 3 8 0 2 4 6 0 2 4 2 0 4-4 4 0 4 4 4 0 2-2 2 2 8 0 8-6 4 6 1-1-2-4 1-3 4 2 10 0 3-3 1-5 5 3 2 4-5 3-8 0-6 6-6 0-2 2-2-2-3 5-1 5-4 0-2-4-3 5 5 1 1 1-1 3-4 0-4-4-2 0-2 4-2-2-6 0-1 1 3 1 5 5 0 2-6 4 3 1 1 3-3 5-10 0zM309 -136l-1-1 1-9 3 3-2 2zM-147 -132l-2-6-9-1 0-2 3-3 4 0 1 3 4 2zM39 -138l-5-1 1-5 6 0 3 3zM65 -136l-1-3-4-2 1-3 7 1-2 2zM224 -141l-1-3-5 1 3 3zM214 -137l2-2-1-1-5 1 1 3zM-135 -134l-3-1 1-3 3 1zM96 -135l-1-3-5 1 3 3zM140 -133l-1-3-4-2-1 1 1 5zM357 -132l-3-1 5-5 1 3zM-41 -132l-3-1 3-3 1 1zM45 -126l-1-3 7-7 5 3-3 3-4 0zM106 -133l-3-3-1 1 3 3zM315 -128l-2 0-3-3 5-1 1-3 3-1 1 3zM-239 -118l-4-4-3-1-2-4 0-4 3-1 2 4 4 0 2-6 2 4 4-2 4 0 2-2 1 3-4 4 2 6-5 1-2-4-4 0-1 1 2 2zM-123 -130l-3-3 1-1 3 1zM81 -130l-3-1 1-3 3 3zM128 -131l-3-3-5 1 1 3zM-29 -126l-5-1 5-5 3 3zM53 -116l-1-3 6-8-2-4 3-1 3 3 0 6zM106 -125l0-2-3-1-2-4-3 1 3 5 4 2zM216 -129l-3-3-1 1 3 3zM-219 -126l-3-1 3-3 1 1zM31 -126l-3-1 1-3 3 1zM335 -122l-3-1 1-5 3 3zM-251 -120l-1-1 1-5 1 1zM75 -122l-3-1 1-3 3 3zM359 -120l-1-1 1-5 1 1zM136 -117l-1-3-3 1 3 3zM11 -114l-3-1 3-3 1 1zM65 -108l-3-3 0-2 7-5 3 3-3 1zM313 -114l-2 0-3-3 3-1 3 3zM-235 -112l-1-3 3-1 1 1zM319 -108l-3-1 3-5 1 1zM138 -109l-1-3-3 1 3 3zM123 -98l-3-1 1-5 3 3zM289 -96l-3-3-2-4 1-1 7 1 0 4zM246 -97l-3-3-3 1 5 3zM137 -92l-3-3 1-1 3 1zM263 -82l-1-1 1-5 1 1zM-221 -68l-4 0-3-3 0-2 3-3 5 1zM15 -44l-2-2-4 2-2-2-4 2-6 0-2-2-4 0-2 2-4 0-4-2-4 2-2-2-6 0-3-3 0-2 2-4 5-5 3-1 4-8-2-4 1-1 4 2 8 0 4 4 4-6 4 6 2-6 4 0 6 6 8-4 6 8 4 0 6-4 4 4 4-2 5 5 0 4-5 1-1 3-5 5-6-2-2 4-2-2-8 0zM-83 50l-4 0-4-4-6 0-4 4-2 0-2-4-4 0-5-5 0-8 3-3 4 0 2-4 5-1 6-12 4-4 2-6 5-3 12 6 3 3 0 4 2 2 0 4-8 10 2 2-2 2 0 6-2 4zM63 66l-2-4-2 0-2 4-4-2-2 2-1-3-3-3-2 0-3-5 0-2 4-2-6-12 2-2 0-8 2-2 1-5 14 0 2-2 2 2 9 1 0 4-4 4 4 2 0 6 4 8-6 6 0 2-4 4zM247 70l-4-4-10 0-1-3 4-2 0-4-1-1-4 4-1-3-6-4-2-4 2-2-2-2 3-3 3 3-2 2 5 1 1-1-4-4 3-5 4-2 4 0 8-8 4 2 2-2 8 0 4-2 2 6 9 1-2 2 4 4 0 4 2 2-2 4 0 4-2 2 0 4 2 2-3 3-4 0-2 4-10 0-6-6-1 3-3 1z"/><path fill-rule="evenodd" fill="#a5c0f7" d="M-91 -124l-4-6-2 2-6 0-3-3 0-4-4-4 4-4-1-3-4 6-3-3 2-4-2-4 2-2 1-7 2 2 4 0 1-5 3-3 8 0 4-4 2 0 6 4 2-2 4 0 2 2 6 0 1 3 4 2-4 4 3 3 8-4 1 1 0 4 2 2-3 1-2-4-1 1 4 8 0 2-4 2 4 4-1 3-2-2-8 0-1 3-5 5-10 0-1-3-3-1-1 1 2 2-3 1-2-2zM-159 -152l-4 0-2-2-2 2-4-4-4 0-1-5 5-3 4 0 2 2 4-2 4 0 2 2 2-2 4 0 3 3 2 4-1 3-6 0-1-1 2-2-7-3-1 1 3 1 1 3-1 1-4-2-1 1 2 2zM-82 -135l2-2-3-1-2-4-2 0-1 1 2 4 3 3zM113 -134l-3-1 1-3 3 3zM197 -96l-2-2-4 2-2-4-6 0-2 2-4 0-4-4-2 2-6-2-6-6-2 2-1-5-6-2 0-8 7-3 1 3-2 4 5 1 1-1-2-4 1-1 8 4 3-3-4-2 1-1 6 0 4-2 3 7 3 1 5-5 0-6 3-1 6-6 2 0 1 3-2 4 3 3 4-4 5 3-1 3-4 0-3 3 3 3 4 0 6-4 4 0 2 6 8 0 2 4 7 1 0 4-3 3-3-1-1-5-3 3 2 4 4 2-1 3-2 0-4-6-10 0-4 4-6 2-4-6zM163 -128l-4 0-1-1 3-3 4 0 1 1zM131 -124l-3-1 3-3 1 1zM153 -102l-4 0-7-9-4-8 2-2-4-4 1-3 5 1 0 10 4 4 0 2 3 3 2-2 1 3 4 2zM198 -123l0-4-1-1-1 5 1 1zM93 -118l-4 0-1-1 5-3 1 1zM131 -110l-4-2-7-1 3-3 6 0 3 5zM245 -104l-1-3 6-2-3-1-1-3 5-1 1 7-5 1zM267 -110l-1-3 3-1 1 1zM178 -107l2-2-3-3-3 3 3 3zM214 -107l-1-3-5 1 3 3zM205 -94l-3-1 1-3 3 3zM217 -94l-1-3 3-1 1 1zM231 -82l-2 0-3-3 4-4 1-5 3 5 0 4zM213 -88l-3-3 1-1 3 1zM241 -82l-1-5-4-4 1-1 4 0 3 3 0 4zM221 -86l-3-3 1-1 3 1zM1 -46l-5-3 0-2-4-4-1-3-1 1 2 4-1 1-4 0-4-2-6 6-6 0-5-3 3-3 4 2 1-1-4-4 3-3 2 0 2 4 4 0 1-3-5-1-1-3 7-1 4-6 4 6 4-2 2 4 8-4 1 3-6 4 3 3 3-1 2-6 3-3 8 0 4-2 3 3 0 2-3 3-2 0-1 3 1 1 4-2 7 5-3 3-6-2-2 4-8 0-1-1 4-4-5-1-1 5-3 1-1-5-3-1zM39 -54l-4 0-1-3-4-2 0-2 5-1 4 4 2-4 1 5zM-81 48l-13-11-4-10 4-4 0-6 2-4 6-6 0-2 7-3 9 5 4 12-8 10 2 2-2 2 0 6zM63 58l-1-1 2-4-1-1-4 0-1 1 2 4-5 1-1-3-8-8 0-4-2-2 0-10 5-5 6 0 3 3-5 3-4-2-3 3 0 4 3 3 2-4 6 0 2 4 2 0 4-6 3 3 0 16zM63 34l-3-3 1-3 3 1zM247 58l-4 0-7-9 4-4 0-4 5-5 1 7-4 2 0 2 3 3 3-3-2-2 2-2 0-4 3-3 6 0 1 1-2 2 5 1 1 3-4 4-2 6-3 1-4-2zM273 44l-4-2-4 2-1-3 11-3 1 3zM265 60l-4 0-4-2-1-3 5-1 2-2 4 0 1-5 3-1 3 7-3 1-1 3z"/><path fill-rule="evenodd" fill="#7b9cf4" d="M-81 42l-6-2-1-3-4-4 2-4-2-2 0-4 2-2 0-8 9-9 4 0 7 7 0 14-4 4 2 2-2 2 0 4-3 3-2-2z"/><path fill-rule="evenodd" fill="#4050d0" d="M-79 34l-4 0-3-3 0-12-2-2 3-3 4 0 1 3 6 6-2 4 2 2z"/></g><path d="M-336 -131l3-2 6-1-6-3 7-3 6-1 6-2 10 1 8 1 14 2 10 1 5-1 11-1 7 1 7 0 12 1 10 2 12 0 12 0 4-1 3-6 4 2 5 3 8 1 4-2 5 1 0 3-7 2-4 4-7 2-7 4-1 5 4 4 8 1 7 2 5 1 1 4 3 3 3 0 0-4 0-2 4-4-1-4-1-4 0-4 6 0 6 2 4 1 1 3 3 2 3-1 3-3 2 3 4 4 1 2 3 2 5 1 3 3 0 2-2 1-6 3-8 0-5 0-4 2-4 3 4-2 5-1 3 0-1 3-1 1 2 2 4 1 3 0 2-1 0 1-7 2-5 2 0-2 3-2-3 1-3 1-4 1-2 2 0 2 1 1-1 0-4 1-3 1 0 2-2 1-1 2-1 2 1 3-4 2-3 2-4 3-1 3 2 4 1 4-1 3-1-1-2-2-1-2-1-3-2-2-3 1-2-2-4 0-2 1 1 2-2 0-3-1-4 0-3 0-3 3-2 2 1 2-1 4-1 3 2 4 2 3 3 2 3-1 3 0 2-2 0-3 4-1 3 0-1 3 0 3-1 2-1 3 3 0 4 0 4 2-1 4 0 4 2 3 2 1 4-1 3 1 1 1 1 1 2-3 1-2 2-1 4-2 3-1-1 3 1 1-1 1-1-2 4-1 3 2 5 0 4 0 4 0-1 1 3 3 3 0 3 3 2 2 4 0 3 1 4 2 1 3 2 3 0 3 3 1 2 0 6 3 5 2 5 0 4 4 4 0 1 5-1 3-2 3-3 3-2 2 0 5 0 4-1 4-3 5-2 2-4 0-3 2-4 2-2 2 0 5-3 2-2 3-2 3-3 3-3 2-3 0-4-2 3 3 0 2-1 3-4 2-5 0-1 3-5 1 2 3 1 1-3 1-1 3-4 2 3 4-3 2-2 3-1 2 1 2-2 0 2 2 3 1 3 2-2 0-4 1-4-1-4-2-3-2-2-3-1-5 1-4 1-2 2-3 1-5-2-1 1-3 0-5 2-4 2-4 0-5 0-5 1-5 1-5 1-5-1-5-2-2-4-3-4-2-2-3-1-3-3-5-2-4-3-3 0-3 1-2 1-2-2-2 1-2 1-3 2-1 1-2 2-3 0-3 0-3-2-2-1-2-2 1-1 2-2-1-3 0-2-3-3-1-1-2-2-4-3 0-4-2-4-1-3-3-4 1-5-2-4-1-3-2-3-1-4-3 0-2 0-3-2-1-3-3-2-3-2-2-2-2-2-2-2-3-4-3 1 4 2 2 1 2 2 3 2 2 1 3 2 2-1 0-3-3-1-1-1-3-3-2-1-2-2-3-2-3-1-2-3-3-2-1-2 0-1-2-3-3-1-2-1-2-2-3 1-3-1-2 1-4 0-2 0-2-1-3 3 1 1-2-3-2-2-1-4-1-2-2-2-3-3-2-1-2-3-2-4-3-4-1-3-1-3-2-4 0-5 0-5-2-4 1-3 2-4 1 2-4-3 1-3 3-1 2-4 2-4 2-5 1-5 1-3 1 4-1 5-2 4-2 3-3-3-1-4 0-3-1-4-1-3-1 1-2-2-1 3-2 4-1 3-2-1 0-3 0-4 0-2 0-2-1zM-146 -156l8-2 8-3 8-3 16 0 16-2 26-1 16 1 8 2 16 1-10 3-4 4 1 3-5 3 2 3-4 4 0 2-7 3-9 2-8 3-7 2-6 2-3 3-2 6-4-1-7-1-3-3-3-4-3-4-1-4 5-2-5-2-2-2-2-3-2-3-5-3-8-1-10 1-7-2zM-123 -134l-3 4-3 4-3 1-5 0-6-2-6-2-6 0 1-3 7-2-5-3-7-3-7 0-10-1-4-2 2-3 8-1 10 0 8 2 8 2 7 2 3 2 1 2zM-158 -153l-10 0-11 0 0-4-7-2-4-2 10-3 20-2 20 0 16 1-4 2-12 2-8 2-4 2-4 2zM-160 -149l-16 0-8-2 8-2 12 0 4 2zM-237 -142l3 3 10 0 12 1 9-1 1-2-4-2-4-3-6-1-10 1-10 1zM-251 -144l4 2 6-1 4-2-2-3-9-1-2 2zM-234 -149l12 0 8-1 2-2-8-1-10 0-6 1zM-194 -146l-7 2-4-2 3-2 7 0zM-181 -145l-9 1-1-4 9 0zM-196 -150l-7-1 2-2 7 1zM-174 -157l-10 0-8-2 4-3 13 1 3 2zM-230 -152l-14 0 4-3 9 1zM-161 -127l-6 1-7-1 2-4 5-1 4 2zM-119 -95l2-3 2-3 2-2 2 0 0 3 3 1 2 2 1 2-2 2-3-1-2-1-5 0zM-257 -102l5 3 5 2-1-2-3-2-4-1zM-170 -44l3-2 4 0 3 0 4 1 4 3 4 2-3 0-4 0 0-1-2-2-4-1-3 0-3 0zM-149 -37l3-3 4 0 3 1 2 2-3 1-3 1-2-1-3 0zM-157 -37l4 1-1 0-2 0zM-134 -37l3 0 0 1-3 0zM-312 -41l2 1-1 2-1-1zM-317 -43l2 0-1 1zM-11 -72l-2-1-2-1-3 0 0-3-1 0 1-3 0-4-1-2 3-1 7 0 5 0 2-2 0-3-2-2-5-2 0-1 3-1 3 1-1-2 2 0 2 0 3-1 0-2 3-1 2-1 2-2 3-1 4 0 1-2-2-2 0-2 1-1 4-1 0 2 1 0-2 2 0 2 2 1 3-1 3 1 4-1 5-1 2 1 3-1 0-3 1-2 2 0 4 1-1-2-1-1 0-2 5 0 4 0 4-1-2 0-5-1-7 1-3-2 0-2 0-2 2-2 5-2 1-1-3-1-3 0-2 2-2 2-3 1-3 2 0 2-1 2 3 1 1 1-2 1-3 2 0 3-1 1-3 0-1 1-2 0-1-2-1-2-2-2-1-2-1 1-3 2-3 0-3-1 0-2-1-3 0-2 3-1 4-2 3-1 3-2 2-2 2-3 4-2 3-1 3-2 5 0 5-1 5-1 4 0 5 2 1 1 4 0 7 1 6 2 3 2 0 1-5 1-7-1-1 2 1 2 4 1 2-1 4 0 1-2 4-2 3 0 0-3 4 0 4 1 10-2 2 1 6-1 5-1 3-1 7 0 4 2 1 1 3-1 1-1-4-2 0-2 3-2 3-2 5 0 0 3 1 2-2 3 3 1 0 2-2 2 4-2 1-2-1-1-1-2 0-2 3-3 1 2 4 0 2-2 4 0-1-2 6 0 6-1 1-2 6-1 10-1 8-1 5-1 5-1 6 1 1 1 7 0 5 1 0 3-4 2 7 0 8 1 8 0 7-1 4 1 1 2 6 1 7 0 7-1 2-1 12 1 8 1 5 1 7 0 7 0 3 3 6 0 7 0 5-1 7 0 6 1 7 1 0 8-3 1-2 0 3 2 1 2-5 0-6 1-4 2-3 2-5-1-5 1-3 0-1 2-3 2 2 1-1 3-2 2-3 2-3 2-4 4-1-3 0-5 0-4 3-2 4-3 5-2 3-2-2-1-5 2-3-2-4 1-3 3-5 2-6-1-6 0-7 0-4 3-5 2-3 4-4 1 4 0 3 1 4 2 2 2-1 2-1 4 0 2-4 2-4 4-3 2-4 3-3-1-2 1-2 3-2 2-2 1 2 2 2 3 0 3-4 2-2 0 0-3 0-2-1-1-2-1-1 0 1-3-1-1-4 1-2 1 0-1 1-2-2-1-3 2-3 2-1 1 3 2 0 1 4-2 3 1-3 2-2 1-2 2 3 1 1 4 2 2-1 1 1 3-1 2-2 2-2 3-2 3-2 2-3 1-3 1-2 1-3 0-3 1-1 2-1-2-2 0-2 0-2 2-1 2 0 2 1 2 2 2 3 2 1 4-1 4-2 1-3 1-3 4 0-2-1-2-3-1-1-2-2-1-1-2-2 0 0 3-1 3-1 3 3 1 0 3 2 0 1 2 3 2 0 4 2 3-2 0-3-1-1-2-2-2 0-3-1-2-1-1-2-2 0-2 0-3 0-3-2-5 0-4-2-1-2 2-2 0 0-3-1-4-2-1-1-2-1-3-3 0-2 1-2 1-3 0 0 2-4 2-2 2-3 3-2 1-2 1-1 5 0 4-1 2-2 3-2 2-2-2-1-3-1-3-1-2-2-4-1-2-1-5 0-4-1-2-1 1-2 0-4-3 2-1-2-1-3-1-2-3-4 1-6 0-4-1-4 0-1-3-3 0-2 1-2-1-4-2-3-3-1-1-3 0 0 2 1 1 2 2 1 2 0 2 2 1 0-2 1 2 0 1 2 1 3 0 3-3 2-1 0 2 1 2 3 1 3 2-2 2-2 3-1 2-2 1-2 2-4 2-3 2-5 2-2 1-4 1-3 1-3 1-1-2 0-3-1-3-2-4-2-3-3-3 0-3-3-3-2-3-2-3-1-2-1-2-1 3-1-1-2-3 0 1 1 2 2 3 1 3 2 3 0 2 3 2 0 3 1 4 2 1 2 4 1 2 2 1 3 3 2 1-1 2 3 2 4-1 4 0 3-1 2-1 0 3-1 3-2 4-2 3-3 4-3 3-4 3-3 3-2 2-2 2-1 3-1 4 1 3 0 4 2 1 0 5 0 4-2 3-4 3-2 2-3 2 1 4 0 4-2 2-3 1 0 3-1 3-2 2-2 3-4 3-3 2-3 1-3 0-3 0-5 2-2-1-1-1-1-3-1-4-2-4-2-3-2-4 0-4-2-5-2-3-1-4 0-4 2-4 1-3-1-5-1-6-1-2-2-2-3-4-1-3 1-3 1-4-2-2-1-1-3 0-2 0-2-2-1-2-4 0-3 1-3 1-3 1-4 0-3 0-4 1-3-1-5-4-2-1-1-3-3-2-2-3-2-2-1-2-1-2 2-3 1-4-1-3-1-3 2-4 2-4 3-5 4-1 3-3 1-2-1-3 3-3 3-1 2-3 0-1 1 0 2 2 5 0 2-1 2-1 3-1 4-1 4 0 4 0 4-1 2 1 1 0-1 1 1 2-1 2-1 2 2 1 3 0 5 1 1 2 4 1 3 1 2-1 0-2 3-2 3 1 4 2 5 1 4 0 3-1 3 0 4 0 1-2 1-3 1-3 0-1 0-1-1 0-2-1-2 2-2 0-4-1-2 1-3-1-1-1 0-2-2-1 1-1-2-1 1-1-1-1 0-1-2 0-2 0-1 1-1 0-1 2 2 1-1 0 2 2-2 0 0 3-1 0-2-1-1-2 1-1-2-1-1-1-1-2 0-3-2-1-2-1-3-1-2-2-1-1-2-1-2 0 0 2 2 2 2 2 3 1 2 2 3 2-3-1-1 2 1 1-1 1-2 1 1-2-1-2-1-1-2-1-2-1-4-2-1-1-1-2-2-1-3 1-2 2-3-1-2 0-2 1 0 2-2 1-2 2-3 2 1 2-1 0-1 2-2 2-5 0-1 0zM-11 -100l3-1 2 0 4-1 5 0-1-2 1-1-2-1-1-1-1-2-2-1-1-2-1 0 1-3-4 0 2-2-4 0-1 1-1 2 1 1 0 2 1 1 0 1 3-1 1 2 0 1-3 0 0 1 1 1-2 1 2 1 2 0-3 1-1 1zM-12 -104l0-3 0-1 1-1-1-1-3-1-2 1 0 2-3 0 0 1 1 2-2 1 2 1 3-1 2 0zM-45 -128l1-1-4-2 3-2 4 1 4 0 5-1 3 1 2 2-2 1-5 1-4 1-4-1zM22 -157l5 1 6 3 4-2 8 0 5-2 4-2-7-1-10-1-5 1-8 0-3 1zM103 -143l3 1 6 1 3 0-4-2 1-2 3-2 4-2 5-2 8-1 6-2-4 0-6 1-9 1-7 2-2 2-3 2-2 1zM191 -158l8 2 10-1-1-2-10-3-7 0-4 2zM272 -148l8 1 7 1-3-3-7-2 5-1 9 1 8 0 1 2-8-1-7 2-7-2-5-1zM357 -142l3-1 0 1zM-360 -142l0-1 4 0 1 1zM-360 -130l3-1 5 0 4 2 3 0-1-2 4-1 3 0-4-2-5 0-4-2-5-1-3-1zM262 -68l1-1 3-2 4 0 2-2 2-2 1 1 2-1 2-2 1-3 0-2 3-1 0 3 1 1-2 3 0 2-1 3-1 1-2 0 0 1-3 0-1 0-2 2-2-2-2 0-3 1zM259 -67l1 2 0 2 2 1 1-1 0-2 0-2-1-1-2 1zM265 -66l1 0 3-1 0-1-2-1-2 1zM280 -83l2-1 2-1 3 1 2-2 2-1-2-1-3-1-2-2-1 2 0 2-2 1-1 1zM284 -92l3-1-2-2 1-3 3 0-2-5-1-3 0-3-2 1 1 4-1 2 0 4 0 2 0 3zM240 -46l1-3 2-2 1 2-1 3-1 2zM217 -38l2-2 2 0 1 1-2 2-2 0zM240 -33l1-4 2 0 2 1-1 3-1 2 0 3 2 0 3 2 0 1-2-2-4 0-1-1 0-3zM244 -14l2-2 2-1 3-3 2 5-1 2-1 2-3-2-1-2zM244 -21l2 3 3-2 2-2-1-3-2 0-2 2-2-1zM234 -17l4-3 1-3 0 2-4 4zM241 -27l2 1-1 2-1-1zM191 -11l4 1 2 2 4 3 2 1 3 3 2 3 2 2 2 2 0 4 0 2-3 0-2-2-3-3-2-3-1-2-3-3-1-2-2-2-2-2-2-3zM210 14l2-2 3 0 2 1 4 1 2-1 2 1 4 1 0 2-4 0-4-1-5 0-3-1-2-1zM218 -3l1 4 1 5 3 1 3-1 3 1 3 1 1-4 1-2 1-4 1-1 0-3 1-3 2-2-3-1-2-2-2 1-1 3-3 1-2 3-3 1-3 1zM239 11l2 0 0-4 1 2 4 1-2-4-1-2 2-2 2 0-4 0-3-3 2-2 4 1 3-1 0 2-4 0-3 0-2 2 0 1-1 2-1 2 1 1zM255 -4l1 0 1 1-1 2 1 2-1 1-1-3zM256 6l3 0 3 1-3 0zM252 6l2 1 0 1-2-1zM262 3l2-2 3 0 1 1 0 3 2 2 3-2 3-2 2 1 4 1 3 2 4 1 3 2 1 2 2 1 1 3 3 2 3 2-3 1-4-1-3-2-3-3-2 2-2 2-3-1-3-2-2 1-1-2 2-1-3-3-5-2-3-1-1-1-2-1 2-1-2-1zM297 11l3 0 3-2 1 0-1 2-3 1-3 0zM302 5l2 2 2 2-1 1-2-3zM160 -16l0-4 2 2 2 3-1 2-2 1-1-2zM99 24l1 5 1 3-2 2-1 6-2 6-2 4-3 1-3-1-1-3 0-3 2-4-1-5 1-3 4-1 3-2 1-2zM227 44l1 5 0 4 2 6 1 5-1 3 2 3 4 0 4-2 5 0 4-2 3-1 6-2 5 0 3 1 2 2 3 3 1 1 1-3 3-2-1 3 0 2 1-2 1 3 2 0 1 3 1 2 4 1 2 1 3-2 1 1 2 1 3-2 3-1 1-2 2-4 1-3 2-2 1-3 1-4-1-5-1-2-3-3-1-2-2-3-2-2-4-2-1-3-1-3 0-2-3-2-1-3-2-4-1 3-1 3 0 4-1 4-3 0-3-2-4-2-1-2 1-2 1-3-1 0-3 0-4-1-1 0-3 2-2 5-2 0-3-2-2 0-2 2-2 3-2 0-2 2-1 3-3 2-3 1-3 0-3 2-2 1-1 1zM289 81l4 1 4 0 0 2-1 2-2 1-2 0-2-3-1-1zM345 69l2 1 2 2 2 2 1 1 2 1 3-1-1 3-2 1 0 1-2 2-2 1-1 0 1-2-1-2-1-1 1-2 0-2-2-3zM345 81l3 1 0 2-1 2-1 2-3 1-1 3-3 1-2 0-4-1 1-2 3-2 4-2 1-2 2-1zM328 40l3 2 3 3-1 0-4-3zM355 35l2 0 0 1-2 0zM333 30l1 1 0 1zM-123 103l6 0 1 0-2 1-4 0zM185 -25l1-2 0 4zM65 -70l1 1 3-2-3 0zM47 -71l2 0 4 1-2 0-3 0zM25 -76l2 0 4-1-1 4-2-1zM17 -78l-1-4 2 0 2 1-1 3zM17 -83l0-2 2-1 0 2-1 1zM229 16l2 1-1 1zM232 17l2-1 4 1 0 1-5 0zM240 17l3 0 3 0-5 1zM238 19l2 0 2 1-2 1zM247 20l2-1 2-2 4 0-3 1-3 2zM311 12l1 1 0 1-2-1zM314 16l4 1-1 1zM320 19l2 1-2 0zM-333 -107l2-1-3 0zM-337 -106l2 0-1-1zM-354 -104l2 0-1 0zM-308 -114l3-2 0 1-3 1-1-1zM56 -83l2 1 4 0 4-2 4 0 4 1 3 1 6-1 0-2-3-2-3-2-2-1-2-1 3-1 3-2-4 0-4 1-1 2 3 0-3 1-3 1-2-2 2-1-2-1-3 0-2 1-1 2-2 1-1 3 0 1zM94 -90l1-1 2-1 1-1 4-1 4 0 0 3-3 2-1 1 1 2 2 2 1 2 2 1-1 2 1 2 0 2-4 1-3 0-3-1 0-2 1-2 0-2 1 0-3-3-2-2 0-2z" fill="none" stroke="#000" stroke-width="0.9" vector-effect="non-scaling-stroke" stroke-linejoin="round"/><path fill="none" stroke="#333" stroke-width="0.8" vector-effect="non-scaling-stroke" d="M-249 -101L-209 -101L-209 -68L-249 -68L-249 -101M-209 -101L-179 -101L-179 -54L-209 -68M199 -76L218 -76L233 -91L303 -91L263 -52L263 -40L199 -40L199 -76"/><path fill="none" stroke="#333" stroke-width="0.85" stroke-dasharray="3.2 1.3 0.8 1.3" vector-effect="non-scaling-stroke" d="M-260 -101L-245 -68M-20 -62L-20 -91L80 -91L80 -62M80 -91L149 -91L149 -62M79 -61L149 -61M119 -61L119 -48L132 -48M-40 -62L80 -62M-40 -62L-40 -16L-20 -11L15 -5M-40 -31L66 -31M15 18L80 18L63 71L15 71L15 18M49 18L49 71M186 -40L186 21L310 21M263 -40L263 -12L320 19M-159 30L-151 44L-155 66L-158 95L-149 95M-194 -54L-180 -43"/><path stroke="#000" stroke-width="1.25" stroke-linecap="square" vector-effect="non-scaling-stroke" d="M-196 -75h0M-199 -82h0M-192 -82h0M-185 -82h0M-188 -89h0M76 -46h0M83 -46h0M90 -46h0M97 -46h0M104 -46h0M66 -53h0M80 -53h0M86 -53h0M100 -53h0M108 -53h0M114 -53h0M62 -60h0M69 -60h0M76 -60h0M83 -60h0M97 -60h0M104 -60h0M111 -60h0M118 -60h0M72 -67h0M80 -67h0M86 -67h0M94 -67h0M100 -67h0M108 -67h0M76 -74h0M83 -74h0M97 -74h0M-2 -21h0M6 -21h0M12 -21h0M20 -21h0M26 -21h0M-19 -28h0M-12 -28h0M-5 -28h0M2 -28h0M9 -28h0M16 -28h0M30 -28h0M44 -28h0M51 -28h0M-2 -35h0M6 -35h0M12 -35h0M20 -35h0M26 -35h0M34 -35h0M148 -41h0M162 -41h0M168 -41h0M144 -48h0M158 -48h0M165 -48h0M162 -55h0M168 -55h0M210 -47h0M224 -47h0M230 -47h0M213 -54h0M220 -54h0M227 -54h0M234 -54h0M210 -61h0M216 -61h0M230 -61h0M56 7h0M70 7h0M46 0h0M53 0h0M60 0h0M70 -7h0"/></g><rect x="351.50" y="652.50" width="331" height="140.50" fill="none" stroke="#333" stroke-width="1"/><text x="354.9" y="663.7" font-size="10.3" font-weight="bold" style="fill:#555">h</text><polygon points="350.30,804.60 365.20,801.50 365.20,807.70" fill="#4050d0"/><polygon points="682.80,804.60 668.00,801.50 668.00,807.70" fill="#d24b43"/><rect x="365.20" y="801.50" width="43.56" height="6.20" fill="#7b9cf4"/><rect x="408.46" y="801.50" width="43.56" height="6.20" fill="#a5c0f7"/><rect x="451.71" y="801.50" width="43.56" height="6.20" fill="#c9d9f5"/><rect x="494.97" y="801.50" width="43.56" height="6.20" fill="#ffffff"/><rect x="538.23" y="801.50" width="43.56" height="6.20" fill="#efcab6"/><rect x="581.49" y="801.50" width="43.56" height="6.20" fill="#f0a285"/><rect x="624.74" y="801.50" width="43.56" height="6.20" fill="#e57a62"/><polygon points="350.30,804.60 365.20,801.50 668.00,801.50 682.80,804.60 668.00,807.70 365.20,807.70" fill="none" stroke="#222" stroke-width="0.7"/><line x1="365.20" y1="807.70" x2="365.20" y2="810.90" stroke="#111" stroke-width="0.9"/><text x="365.20" y="821.70" font-size="10" text-anchor="middle">−100</text><line x1="408.46" y1="807.70" x2="408.46" y2="810.90" stroke="#111" stroke-width="0.9"/><text x="408.46" y="821.70" font-size="10" text-anchor="middle">−50</text><line x1="451.71" y1="807.70" x2="451.71" y2="810.90" stroke="#111" stroke-width="0.9"/><text x="451.71" y="821.70" font-size="10" text-anchor="middle">−25</text><line x1="494.97" y1="807.70" x2="494.97" y2="810.90" stroke="#111" stroke-width="0.9"/><text x="494.97" y="821.70" font-size="10" text-anchor="middle">−10</text><line x1="538.23" y1="807.70" x2="538.23" y2="810.90" stroke="#111" stroke-width="0.9"/><text x="538.23" y="821.70" font-size="10" text-anchor="middle">+10</text><line x1="581.49" y1="807.70" x2="581.49" y2="810.90" stroke="#111" stroke-width="0.9"/><text x="581.49" y="821.70" font-size="10" text-anchor="middle">+25</text><line x1="624.74" y1="807.70" x2="624.74" y2="810.90" stroke="#111" stroke-width="0.9"/><text x="624.74" y="821.70" font-size="10" text-anchor="middle">+50</text><line x1="668.00" y1="807.70" x2="668.00" y2="810.90" stroke="#111" stroke-width="0.9"/><text x="668.00" y="821.70" font-size="10" text-anchor="middle">+100</text><text x="516.60" y="837.00" font-size="12.3" text-anchor="middle">Δhours of exposure</text></svg></body></html>
